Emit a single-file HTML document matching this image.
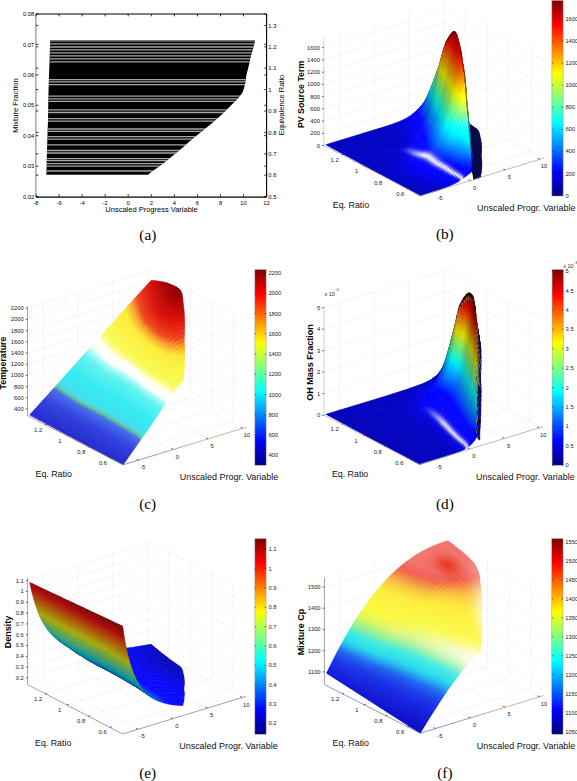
<!DOCTYPE html>
<html><head><meta charset="utf-8"><style>
html,body{margin:0;padding:0;background:#fff;}
svg{display:block;}
text{font-family:"Liberation Sans", sans-serif;}
</style></head><body>
<svg width="577" height="781" viewBox="0 0 577 781">
<rect width="577" height="781" fill="#fff"/>
<clipPath id="clipA"><path d="M255.1 40.2 L253.4 47.3 L250.3 58.6 L248.6 66.4 L246.4 75.1 L245 84.5 L243.5 90 L241.9 93.5 L236.7 99.8 L229.4 107 L223.2 113.3 L212.8 122.6 L202.4 131 L192 139.3 L181.6 148.6 L171.2 157 L160.8 165.3 L149.4 173.6 L148.3 174.8 L46.4 174.8 L47 150 L48 120 L48.5 93 L49 75.4 L49.5 62.8 L50.2 40.2Z"/></clipPath>
<path d="M255.1 40.2 L253.4 47.3 L250.3 58.6 L248.6 66.4 L246.4 75.1 L245 84.5 L243.5 90 L241.9 93.5 L236.7 99.8 L229.4 107 L223.2 113.3 L212.8 122.6 L202.4 131 L192 139.3 L181.6 148.6 L171.2 157 L160.8 165.3 L149.4 173.6 L148.3 174.8 L46.4 174.8 L47 150 L48 120 L48.5 93 L49 75.4 L49.5 62.8 L50.2 40.2Z" fill="#000"/>
<g clip-path="url(#clipA)" stroke="#a6a6a6" stroke-width="1.3"><line x1="40" y1="40.9" x2="260" y2="40.9"/><line x1="40" y1="43.8" x2="260" y2="43.8"/><line x1="40" y1="47" x2="260" y2="47"/><line x1="40" y1="49.9" x2="260" y2="49.9"/><line x1="40" y1="52.9" x2="260" y2="52.9"/><line x1="40" y1="55.8" x2="260" y2="55.8"/><line x1="40" y1="58.9" x2="260" y2="58.9"/><line x1="40" y1="61.8" x2="260" y2="61.8"/><line x1="40" y1="79.7" x2="260" y2="79.7"/><line x1="40" y1="81.8" x2="260" y2="81.8"/><line x1="40" y1="84.7" x2="260" y2="84.7"/><line x1="40" y1="96.1" x2="260" y2="96.1"/><line x1="40" y1="98.8" x2="260" y2="98.8"/><line x1="40" y1="101.3" x2="260" y2="101.3"/><line x1="40" y1="109.9" x2="260" y2="109.9"/><line x1="40" y1="112.5" x2="260" y2="112.5"/><line x1="40" y1="118.6" x2="260" y2="118.6"/><line x1="40" y1="121.2" x2="260" y2="121.2"/><line x1="40" y1="129" x2="260" y2="129"/><line x1="40" y1="131.4" x2="260" y2="131.4"/><line x1="40" y1="136.7" x2="260" y2="136.7"/><line x1="40" y1="139.2" x2="260" y2="139.2"/><line x1="40" y1="144.9" x2="260" y2="144.9"/><line x1="40" y1="150.5" x2="260" y2="150.5"/><line x1="40" y1="153" x2="260" y2="153"/><line x1="40" y1="158.6" x2="260" y2="158.6"/><line x1="40" y1="160.6" x2="260" y2="160.6"/><line x1="40" y1="163.7" x2="260" y2="163.7"/><line x1="40" y1="166.1" x2="260" y2="166.1"/><line x1="40" y1="171" x2="260" y2="171"/></g>
<rect x="35.4" y="14.0" width="1" height="182.6" fill="#7a7a7a"/>
<line x1="36.0" y1="14.0" x2="266.6" y2="14.0" stroke="#000" stroke-width="1.2"/>
<line x1="36.0" y1="197.2" x2="266.6" y2="197.2" stroke="#000" stroke-width="1.3"/>
<line x1="266.6" y1="14.0" x2="266.6" y2="196.6" stroke="#000" stroke-width="1.1"/>
<g stroke="#000" stroke-width="0.8"><line x1="36.0" y1="196.6" x2="38.4" y2="196.6"/><line x1="266.6" y1="196.6" x2="264.2" y2="196.6"/><line x1="36.0" y1="166.2" x2="38.4" y2="166.2"/><line x1="266.6" y1="166.2" x2="264.2" y2="166.2"/><line x1="36.0" y1="135.7" x2="38.4" y2="135.7"/><line x1="266.6" y1="135.7" x2="264.2" y2="135.7"/><line x1="36.0" y1="105.3" x2="38.4" y2="105.3"/><line x1="266.6" y1="105.3" x2="264.2" y2="105.3"/><line x1="36.0" y1="74.9" x2="38.4" y2="74.9"/><line x1="266.6" y1="74.9" x2="264.2" y2="74.9"/><line x1="36.0" y1="44.4" x2="38.4" y2="44.4"/><line x1="266.6" y1="44.4" x2="264.2" y2="44.4"/><line x1="36.0" y1="14" x2="38.4" y2="14"/><line x1="266.6" y1="14" x2="264.2" y2="14"/><line x1="36.0" y1="196.6" x2="38.4" y2="196.6"/><line x1="266.6" y1="196.6" x2="264.2" y2="196.6"/><line x1="36.0" y1="175.2" x2="38.4" y2="175.2"/><line x1="266.6" y1="175.2" x2="264.2" y2="175.2"/><line x1="36.0" y1="153.8" x2="38.4" y2="153.8"/><line x1="266.6" y1="153.8" x2="264.2" y2="153.8"/><line x1="36.0" y1="132.4" x2="38.4" y2="132.4"/><line x1="266.6" y1="132.4" x2="264.2" y2="132.4"/><line x1="36.0" y1="111" x2="38.4" y2="111"/><line x1="266.6" y1="111" x2="264.2" y2="111"/><line x1="36.0" y1="89.6" x2="38.4" y2="89.6"/><line x1="266.6" y1="89.6" x2="264.2" y2="89.6"/><line x1="36.0" y1="68.2" x2="38.4" y2="68.2"/><line x1="266.6" y1="68.2" x2="264.2" y2="68.2"/><line x1="36.0" y1="46.8" x2="38.4" y2="46.8"/><line x1="266.6" y1="46.8" x2="264.2" y2="46.8"/><line x1="36.0" y1="25.4" x2="38.4" y2="25.4"/><line x1="266.6" y1="25.4" x2="264.2" y2="25.4"/><line x1="36" y1="196.6" x2="36" y2="194.2"/><line x1="36" y1="14.0" x2="36" y2="16.4"/><line x1="59.1" y1="196.6" x2="59.1" y2="194.2"/><line x1="59.1" y1="14.0" x2="59.1" y2="16.4"/><line x1="82.1" y1="196.6" x2="82.1" y2="194.2"/><line x1="82.1" y1="14.0" x2="82.1" y2="16.4"/><line x1="105.2" y1="196.6" x2="105.2" y2="194.2"/><line x1="105.2" y1="14.0" x2="105.2" y2="16.4"/><line x1="128.2" y1="196.6" x2="128.2" y2="194.2"/><line x1="128.2" y1="14.0" x2="128.2" y2="16.4"/><line x1="151.3" y1="196.6" x2="151.3" y2="194.2"/><line x1="151.3" y1="14.0" x2="151.3" y2="16.4"/><line x1="174.4" y1="196.6" x2="174.4" y2="194.2"/><line x1="174.4" y1="14.0" x2="174.4" y2="16.4"/><line x1="197.4" y1="196.6" x2="197.4" y2="194.2"/><line x1="197.4" y1="14.0" x2="197.4" y2="16.4"/><line x1="220.5" y1="196.6" x2="220.5" y2="194.2"/><line x1="220.5" y1="14.0" x2="220.5" y2="16.4"/><line x1="243.5" y1="196.6" x2="243.5" y2="194.2"/><line x1="243.5" y1="14.0" x2="243.5" y2="16.4"/><line x1="266.6" y1="196.6" x2="266.6" y2="194.2"/><line x1="266.6" y1="14.0" x2="266.6" y2="16.4"/></g>
<g font-size="5.8" fill="#000"><text x="34.2" y="198.7" text-anchor="end">0.02</text><text x="34.2" y="168.2" text-anchor="end">0.03</text><text x="34.2" y="137.8" text-anchor="end">0.04</text><text x="34.2" y="107.4" text-anchor="end">0.05</text><text x="34.2" y="76.9" text-anchor="end">0.06</text><text x="34.2" y="46.5" text-anchor="end">0.07</text><text x="34.2" y="16.1" text-anchor="end">0.08</text><text x="268.3" y="198.7">0.5</text><text x="268.3" y="177.3">0.6</text><text x="268.3" y="155.9">0.7</text><text x="268.3" y="134.5">0.8</text><text x="268.3" y="113.1">0.9</text><text x="268.3" y="91.7">1</text><text x="268.3" y="70.3">1.1</text><text x="268.3" y="48.9">1.2</text><text x="268.3" y="27.5">1.3</text><text x="36" y="204.6" text-anchor="middle">-8</text><text x="59.1" y="204.6" text-anchor="middle">-6</text><text x="82.1" y="204.6" text-anchor="middle">-4</text><text x="105.2" y="204.6" text-anchor="middle">-2</text><text x="128.2" y="204.6" text-anchor="middle">0</text><text x="151.3" y="204.6" text-anchor="middle">2</text><text x="174.4" y="204.6" text-anchor="middle">4</text><text x="197.4" y="204.6" text-anchor="middle">6</text><text x="220.5" y="204.6" text-anchor="middle">8</text><text x="243.5" y="204.6" text-anchor="middle">10</text><text x="266.6" y="204.6" text-anchor="middle">12</text></g>
<text x="151.5" y="211.6" font-size="7.5" text-anchor="middle">Unscaled Progress Variable</text>
<text x="17.6" y="105.5" font-size="7.6" text-anchor="middle" transform="rotate(-90 17.6 105.5)">Mixture Fraction</text>
<text x="284" y="105" font-size="7.5" text-anchor="middle" transform="rotate(-90 284 105)">Equivalence Ratio</text>
<g stroke="#e8e8e8" stroke-width="0.65" stroke-dasharray="2.2 1.3" fill="none"><line x1="339.2" y1="140.7" x2="339.2" y2="32.5" /><line x1="373.9" y1="130.1" x2="373.9" y2="21.9" /><line x1="408.6" y1="119.5" x2="408.6" y2="11.3" /><line x1="443.3" y1="108.9" x2="443.3" y2="0.7" /><line x1="323.8" y1="145.4" x2="447.3" y2="107.7" /><line x1="323.8" y1="133.2" x2="447.3" y2="95.5" /><line x1="323.8" y1="120.9" x2="447.3" y2="83.2" /><line x1="323.8" y1="108.7" x2="447.3" y2="71" /><line x1="323.8" y1="96.4" x2="447.3" y2="58.7" /><line x1="323.8" y1="84.2" x2="447.3" y2="46.5" /><line x1="323.8" y1="72" x2="447.3" y2="34.3" /><line x1="323.8" y1="59.7" x2="447.3" y2="22" /><line x1="323.8" y1="47.5" x2="447.3" y2="9.8" /><line x1="530.9" y1="151.3" x2="530.9" y2="43.1" /><line x1="509" y1="139.9" x2="509" y2="31.7" /><line x1="487.2" y1="128.5" x2="487.2" y2="20.3" /><line x1="465.3" y1="117.1" x2="465.3" y2="8.9" /><line x1="543.9" y1="158.1" x2="447.3" y2="107.7" /><line x1="543.9" y1="145.9" x2="447.3" y2="95.5" /><line x1="543.9" y1="133.6" x2="447.3" y2="83.2" /><line x1="543.9" y1="121.4" x2="447.3" y2="71" /><line x1="543.9" y1="109.1" x2="447.3" y2="58.7" /><line x1="543.9" y1="96.9" x2="447.3" y2="46.5" /><line x1="543.9" y1="84.7" x2="447.3" y2="34.3" /><line x1="543.9" y1="72.4" x2="447.3" y2="22" /><line x1="543.9" y1="60.2" x2="447.3" y2="9.8" /><line x1="435.8" y1="191.1" x2="339.2" y2="140.7" /><line x1="470.5" y1="180.5" x2="373.9" y2="130.1" /><line x1="505.2" y1="169.9" x2="408.6" y2="119.5" /><line x1="539.9" y1="159.3" x2="443.3" y2="108.9" /><line x1="407.4" y1="189" x2="530.9" y2="151.3" /><line x1="385.5" y1="177.6" x2="509" y2="139.9" /><line x1="363.7" y1="166.2" x2="487.2" y2="128.5" /><line x1="341.8" y1="154.8" x2="465.3" y2="117.1" /></g>
<defs><linearGradient id="gb0" gradientUnits="userSpaceOnUse" x1="327" y1="145.3" x2="339.4" y2="85.5"><stop offset="0" stop-color="#0000bf"/><stop offset=".533" stop-color="#0000c5"/><stop offset=".768" stop-color="#0000e9"/><stop offset=".939" stop-color="#0003e8"/><stop offset=".956" stop-color="#000ae1"/><stop offset=".961" stop-color="#000340"/><stop offset="1" stop-color="#000740"/></linearGradient><linearGradient id="gb1" gradientUnits="userSpaceOnUse" x1="424.2" y1="103.1" x2="422" y2="113.7"><stop offset="0" stop-color="#000740"/><stop offset=".385" stop-color="#000038"/><stop offset=".752" stop-color="#00002b"/><stop offset="1" stop-color="#050547"/></linearGradient><linearGradient id="gb2" gradientUnits="userSpaceOnUse" x1="329" y1="146.3" x2="340.7" y2="84.7"><stop offset="0" stop-color="#0000bf"/><stop offset=".476" stop-color="#0000c4"/><stop offset=".731" stop-color="#0000f3"/><stop offset=".868" stop-color="#0004f9"/><stop offset=".966" stop-color="#002ad9"/><stop offset=".971" stop-color="#000d40"/><stop offset="1" stop-color="#000f40"/></linearGradient><linearGradient id="gb3" gradientUnits="userSpaceOnUse" x1="425.9" y1="100.8" x2="423.2" y2="114.9"><stop offset="0" stop-color="#000f40"/><stop offset=".437" stop-color="#00003b"/><stop offset=".759" stop-color="#00002d"/><stop offset="1" stop-color="#050547"/></linearGradient><linearGradient id="gb4" gradientUnits="userSpaceOnUse" x1="330.9" y1="147.4" x2="335.2" y2="91"><stop offset="0" stop-color="#0000bf"/><stop offset=".414" stop-color="#0000c5"/><stop offset=".626" stop-color="#0000f0"/><stop offset=".778" stop-color="#0003f6"/><stop offset=".925" stop-color="#0038cb"/><stop offset=".931" stop-color="#001240"/><stop offset="1" stop-color="#001940"/></linearGradient><linearGradient id="gb5" gradientUnits="userSpaceOnUse" x1="427.6" y1="98.1" x2="426.2" y2="116.7"><stop offset="0" stop-color="#001940"/><stop offset=".544" stop-color="#00003c"/><stop offset=".766" stop-color="#000030"/><stop offset="1" stop-color="#050547"/></linearGradient><linearGradient id="gb6" gradientUnits="userSpaceOnUse" x1="332.9" y1="148.4" x2="330.3" y2="99.4"><stop offset="0" stop-color="#0000bf"/><stop offset=".307" stop-color="#0000c5"/><stop offset=".482" stop-color="#0000ee"/><stop offset=".652" stop-color="#0003f4"/><stop offset=".857" stop-color="#0047c1"/><stop offset=".865" stop-color="#0049c0"/><stop offset=".873" stop-color="#001940"/><stop offset="1" stop-color="#002640"/></linearGradient><linearGradient id="gb7" gradientUnits="userSpaceOnUse" x1="428.9" y1="94.1" x2="430.2" y2="118.3"><stop offset="0" stop-color="#002640"/><stop offset=".611" stop-color="#00003e"/><stop offset=".772" stop-color="#000033"/><stop offset="1" stop-color="#050547"/></linearGradient><linearGradient id="gb8" gradientUnits="userSpaceOnUse" x1="334.9" y1="149.5" x2="330.9" y2="97"><stop offset="0" stop-color="#0000bf"/><stop offset=".258" stop-color="#0000c5"/><stop offset=".41" stop-color="#0000f3"/><stop offset=".562" stop-color="#0002ff"/><stop offset=".741" stop-color="#0048d0"/><stop offset=".904" stop-color="#0076b7"/><stop offset=".913" stop-color="#002a40"/><stop offset="1" stop-color="#003440"/></linearGradient><linearGradient id="gb9" gradientUnits="userSpaceOnUse" x1="430.5" y1="89.5" x2="432.8" y2="119.4"><stop offset="0" stop-color="#003440"/><stop offset=".682" stop-color="#00003e"/><stop offset=".773" stop-color="#000037"/><stop offset="1" stop-color="#050547"/></linearGradient><linearGradient id="gb10" gradientUnits="userSpaceOnUse" x1="336.8" y1="150.6" x2="332.7" y2="92.1"><stop offset="0" stop-color="#0000bf"/><stop offset=".229" stop-color="#0000c5"/><stop offset=".379" stop-color="#0000fa"/><stop offset=".508" stop-color="#0004ff"/><stop offset=".566" stop-color="#0022f4"/><stop offset=".763" stop-color="#0070cb"/><stop offset=".944" stop-color="#00a5b4"/><stop offset=".952" stop-color="#003c40"/><stop offset="1" stop-color="#02403e"/></linearGradient><linearGradient id="gb11" gradientUnits="userSpaceOnUse" x1="432.2" y1="85.1" x2="434.7" y2="120.6"><stop offset="0" stop-color="#02403e"/><stop offset=".683" stop-color="#000440"/><stop offset=".774" stop-color="#00003a"/><stop offset="1" stop-color="#050547"/></linearGradient><linearGradient id="gb12" gradientUnits="userSpaceOnUse" x1="338.8" y1="151.6" x2="333.3" y2="89.5"><stop offset="0" stop-color="#0000bf"/><stop offset=".195" stop-color="#0000c5"/><stop offset=".332" stop-color="#0000fe"/><stop offset=".446" stop-color="#0004ff"/><stop offset=".507" stop-color="#0026f9"/><stop offset=".702" stop-color="#007cd1"/><stop offset=".893" stop-color="#02bbb9"/><stop offset=".967" stop-color="#1db294"/><stop offset=".975" stop-color="#0c4034"/><stop offset="1" stop-color="#0f4031"/></linearGradient><linearGradient id="gb13" gradientUnits="userSpaceOnUse" x1="433.8" y1="80.5" x2="437.5" y2="121.7"><stop offset="0" stop-color="#0f4031"/><stop offset=".194" stop-color="#003b40"/><stop offset=".775" stop-color="#00003e"/><stop offset="1" stop-color="#050547"/></linearGradient><linearGradient id="gb14" gradientUnits="userSpaceOnUse" x1="340.8" y1="152.7" x2="333.6" y2="86.9"><stop offset="0" stop-color="#0000bf"/><stop offset=".165" stop-color="#0000c5"/><stop offset=".283" stop-color="#0000ff"/><stop offset=".392" stop-color="#0003ff"/><stop offset=".468" stop-color="#0032f9"/><stop offset=".649" stop-color="#0087d5"/><stop offset=".805" stop-color="#00c4c4"/><stop offset=".974" stop-color="#44b26e"/><stop offset=".982" stop-color="#194026"/><stop offset="1" stop-color="#1c4024"/></linearGradient><linearGradient id="gb15" gradientUnits="userSpaceOnUse" x1="435.5" y1="75.8" x2="440.6" y2="122.6"><stop offset="0" stop-color="#1c4024"/><stop offset=".281" stop-color="#003c40"/><stop offset=".775" stop-color="#000240"/><stop offset="1" stop-color="#050547"/></linearGradient><linearGradient id="gb16" gradientUnits="userSpaceOnUse" x1="342.7" y1="153.8" x2="334" y2="83.9"><stop offset="0" stop-color="#0000bf"/><stop offset=".139" stop-color="#0000c5"/><stop offset=".244" stop-color="#0000ff"/><stop offset=".344" stop-color="#0001ff"/><stop offset=".426" stop-color="#0038f9"/><stop offset=".606" stop-color="#0093d5"/><stop offset=".733" stop-color="#01c8c7"/><stop offset=".964" stop-color="#65b34e"/><stop offset=".981" stop-color="#6ab046"/><stop offset=".989" stop-color="#284018"/><stop offset="1" stop-color="#294016"/></linearGradient><linearGradient id="gb17" gradientUnits="userSpaceOnUse" x1="437.3" y1="71" x2="443.8" y2="123.6"><stop offset="0" stop-color="#294016"/><stop offset=".364" stop-color="#003c40"/><stop offset=".776" stop-color="#000540"/><stop offset="1" stop-color="#050547"/></linearGradient><linearGradient id="gb18" gradientUnits="userSpaceOnUse" x1="344.7" y1="154.8" x2="329.3" y2="93.7"><stop offset="0" stop-color="#0000bf"/><stop offset=".046" stop-color="#0000c5"/><stop offset=".106" stop-color="#0000f8"/><stop offset=".144" stop-color="#0000ff"/><stop offset=".225" stop-color="#0004ff"/><stop offset=".3" stop-color="#0035fa"/><stop offset=".499" stop-color="#0097d5"/><stop offset=".628" stop-color="#03c9c6"/><stop offset=".901" stop-color="#75b742"/><stop offset=".978" stop-color="#8daf21"/><stop offset=".987" stop-color="#35400b"/><stop offset="1" stop-color="#374009"/></linearGradient><linearGradient id="gb19" gradientUnits="userSpaceOnUse" x1="439" y1="66.1" x2="453.1" y2="122.3"><stop offset="0" stop-color="#374009"/><stop offset=".399" stop-color="#01403f"/><stop offset=".777" stop-color="#000940"/><stop offset="1" stop-color="#050547"/></linearGradient><linearGradient id="gb20" gradientUnits="userSpaceOnUse" x1="346.7" y1="155.9" x2="352.4" y2="166.4"><stop offset="0" stop-color="#0000bf"/><stop offset=".902" stop-color="#0000c5"/><stop offset="1" stop-color="#0000d4"/></linearGradient><linearGradient id="gb21" gradientUnits="userSpaceOnUse" x1="408.3" y1="135.9" x2="384.1" y2="91.5"><stop offset="0" stop-color="#0000d4"/><stop offset="0" stop-color="#0000da"/><stop offset=".101" stop-color="#0004ee"/><stop offset=".219" stop-color="#0046ce"/><stop offset=".489" stop-color="#00b4b7"/><stop offset=".944" stop-color="#a2a706"/><stop offset=".967" stop-color="#a5a300"/><stop offset=".977" stop-color="#403d00"/><stop offset="1" stop-color="#403a00"/></linearGradient><linearGradient id="gb22" gradientUnits="userSpaceOnUse" x1="440.6" y1="60.6" x2="471" y2="116.3"><stop offset="0" stop-color="#403a00"/><stop offset=".142" stop-color="#304010"/><stop offset=".444" stop-color="#003e40"/><stop offset=".726" stop-color="#000d40"/><stop offset="1" stop-color="#050547"/></linearGradient><linearGradient id="gb23" gradientUnits="userSpaceOnUse" x1="348.6" y1="157" x2="357.1" y2="170.2"><stop offset="0" stop-color="#0000bf"/><stop offset=".86" stop-color="#0000c5"/><stop offset=".992" stop-color="#0000d6"/><stop offset="1" stop-color="#0000de"/><stop offset="1" stop-color="#0000df"/></linearGradient><linearGradient id="gb24" gradientUnits="userSpaceOnUse" x1="413" y1="134.6" x2="385.1" y2="90.8"><stop offset="0" stop-color="#0000df"/><stop offset=".071" stop-color="#0002f2"/><stop offset=".173" stop-color="#0044d1"/><stop offset=".416" stop-color="#00b3b8"/><stop offset=".505" stop-color="#22b493"/><stop offset=".846" stop-color="#a7ab03"/><stop offset=".969" stop-color="#a37900"/><stop offset=".979" stop-color="#402e00"/><stop offset="1" stop-color="#402a00"/></linearGradient><linearGradient id="gb25" gradientUnits="userSpaceOnUse" x1="442.3" y1="54.4" x2="479.3" y2="112.6"><stop offset="0" stop-color="#402a00"/><stop offset=".156" stop-color="#3b4005"/><stop offset=".477" stop-color="#004040"/><stop offset=".716" stop-color="#001140"/><stop offset="1" stop-color="#050547"/></linearGradient><linearGradient id="gb26" gradientUnits="userSpaceOnUse" x1="350.6" y1="158" x2="357.8" y2="169.8"><stop offset="0" stop-color="#0000bf"/><stop offset=".872" stop-color="#0000c6"/><stop offset=".993" stop-color="#0000d8"/><stop offset="1" stop-color="#0000e0"/></linearGradient><linearGradient id="gb27" gradientUnits="userSpaceOnUse" x1="411.8" y1="136.9" x2="381.2" y2="86.6"><stop offset="0" stop-color="#0000e0"/><stop offset=".035" stop-color="#0000f2"/><stop offset=".069" stop-color="#0005f8"/><stop offset=".169" stop-color="#004dd5"/><stop offset=".387" stop-color="#00bebe"/><stop offset=".664" stop-color="#84b430"/><stop offset=".779" stop-color="#b1ad00"/><stop offset=".98" stop-color="#a85000"/><stop offset=".988" stop-color="#401d00"/><stop offset="1" stop-color="#401b00"/></linearGradient><linearGradient id="gb28" gradientUnits="userSpaceOnUse" x1="443.9" y1="48.3" x2="483.2" y2="112.7"><stop offset="0" stop-color="#401b00"/><stop offset=".227" stop-color="#3b4005"/><stop offset=".528" stop-color="#003f40"/><stop offset=".725" stop-color="#001540"/><stop offset="1" stop-color="#050547"/></linearGradient><linearGradient id="gb29" gradientUnits="userSpaceOnUse" x1="352.6" y1="159.1" x2="355.5" y2="165.3"><stop offset="0" stop-color="#0000bf"/><stop offset=".916" stop-color="#0000c6"/><stop offset="1" stop-color="#0000d3"/></linearGradient><linearGradient id="gb30" gradientUnits="userSpaceOnUse" x1="404.9" y1="142.1" x2="374.2" y2="76.6"><stop offset="0" stop-color="#0000d3"/><stop offset="0" stop-color="#0000d8"/><stop offset=".013" stop-color="#0000eb"/><stop offset=".067" stop-color="#0000ff"/><stop offset=".087" stop-color="#0009ff"/><stop offset=".185" stop-color="#0056dd"/><stop offset=".381" stop-color="#03c6c3"/><stop offset=".647" stop-color="#97bd25"/><stop offset=".716" stop-color="#bbbb01"/><stop offset=".989" stop-color="#b52c00"/><stop offset=".996" stop-color="#b22800"/><stop offset="1" stop-color="#400e00"/></linearGradient><linearGradient id="gb31" gradientUnits="userSpaceOnUse" x1="445.7" y1="43.1" x2="480.8" y2="118"><stop offset="0" stop-color="#400e00"/><stop offset=".278" stop-color="#3c4003"/><stop offset=".545" stop-color="#06403a"/><stop offset=".75" stop-color="#001840"/><stop offset="1" stop-color="#050547"/></linearGradient><linearGradient id="gb32" gradientUnits="userSpaceOnUse" x1="354.5" y1="160.2" x2="330.1" y2="72"><stop offset="0" stop-color="#0000bf"/><stop offset=".017" stop-color="#0000c9"/><stop offset=".054" stop-color="#0000ee"/><stop offset=".094" stop-color="#0000ff"/><stop offset=".125" stop-color="#0000ff"/><stop offset=".173" stop-color="#002df8"/><stop offset=".301" stop-color="#008eda"/><stop offset=".402" stop-color="#01d0ce"/><stop offset=".658" stop-color="#abc61b"/><stop offset=".698" stop-color="#c4c601"/><stop offset=".996" stop-color="#cb0e00"/><stop offset="1" stop-color="#400400"/></linearGradient><linearGradient id="gb33" gradientUnits="userSpaceOnUse" x1="447.4" y1="39.4" x2="471.2" y2="125.1"><stop offset="0" stop-color="#400400"/><stop offset=".311" stop-color="#3f4001"/><stop offset=".62" stop-color="#003e40"/><stop offset=".778" stop-color="#001b40"/><stop offset="1" stop-color="#050547"/></linearGradient><linearGradient id="gb34" gradientUnits="userSpaceOnUse" x1="356.5" y1="161.2" x2="331.9" y2="67.4"><stop offset="0" stop-color="#0000bf"/><stop offset=".022" stop-color="#0000c9"/><stop offset=".06" stop-color="#0000f1"/><stop offset=".099" stop-color="#0000ff"/><stop offset=".128" stop-color="#0000ff"/><stop offset=".18" stop-color="#0033f7"/><stop offset=".31" stop-color="#0099d8"/><stop offset=".394" stop-color="#03d0cd"/><stop offset=".621" stop-color="#a1c625"/><stop offset=".677" stop-color="#c5c400"/><stop offset=".978" stop-color="#c70000"/><stop offset=".996" stop-color="#be0000"/><stop offset="1" stop-color="#3b0000"/></linearGradient><linearGradient id="gb35" gradientUnits="userSpaceOnUse" x1="449.2" y1="36.6" x2="472.8" y2="126.6"><stop offset="0" stop-color="#3b0000"/><stop offset=".181" stop-color="#402000"/><stop offset=".338" stop-color="#3f4001"/><stop offset=".62" stop-color="#02403e"/><stop offset=".778" stop-color="#001d40"/><stop offset="1" stop-color="#050547"/></linearGradient><linearGradient id="gb36" gradientUnits="userSpaceOnUse" x1="358.5" y1="162.3" x2="336.8" y2="57.6"><stop offset="0" stop-color="#0000bf"/><stop offset=".037" stop-color="#0000c8"/><stop offset=".097" stop-color="#0000fb"/><stop offset=".15" stop-color="#0000ff"/><stop offset=".197" stop-color="#0031fc"/><stop offset=".321" stop-color="#009adb"/><stop offset=".402" stop-color="#04d2ce"/><stop offset=".624" stop-color="#abc81d"/><stop offset=".666" stop-color="#c7c500"/><stop offset=".942" stop-color="#c80100"/><stop offset=".996" stop-color="#aa0000"/><stop offset="1" stop-color="#330000"/></linearGradient><linearGradient id="gb37" gradientUnits="userSpaceOnUse" x1="450.9" y1="34" x2="470.7" y2="129.7"><stop offset="0" stop-color="#330000"/><stop offset=".083" stop-color="#400500"/><stop offset=".367" stop-color="#3e4002"/><stop offset=".619" stop-color="#05403a"/><stop offset=".777" stop-color="#001f40"/><stop offset="1" stop-color="#050547"/></linearGradient><linearGradient id="gb38" gradientUnits="userSpaceOnUse" x1="360.4" y1="163.3" x2="351.3" y2="39.5"><stop offset="0" stop-color="#0000bf"/><stop offset=".07" stop-color="#0000c9"/><stop offset=".084" stop-color="#0b0bd4"/><stop offset=".095" stop-color="#1717dd"/><stop offset=".116" stop-color="#0101eb"/><stop offset=".15" stop-color="#0000ff"/><stop offset=".198" stop-color="#0000ff"/><stop offset=".262" stop-color="#0045f9"/><stop offset=".393" stop-color="#00b9db"/><stop offset=".433" stop-color="#03d6d3"/><stop offset=".634" stop-color="#aecc1e"/><stop offset=".671" stop-color="#cbca00"/><stop offset=".926" stop-color="#cb0000"/><stop offset=".992" stop-color="#a00000"/><stop offset=".997" stop-color="#a00000"/><stop offset="1" stop-color="#2d0000"/></linearGradient><linearGradient id="gb39" gradientUnits="userSpaceOnUse" x1="452.6" y1="32.1" x2="460.1" y2="134"><stop offset="0" stop-color="#2d0000"/><stop offset=".105" stop-color="#400400"/><stop offset=".397" stop-color="#3b4005"/><stop offset=".618" stop-color="#084038"/><stop offset=".686" stop-color="#003740"/><stop offset=".777" stop-color="#002140"/><stop offset="1" stop-color="#050547"/></linearGradient><linearGradient id="gb40" gradientUnits="userSpaceOnUse" x1="362.4" y1="164.4" x2="386.6" y2="20"><stop offset="0" stop-color="#0000bf"/><stop offset=".11" stop-color="#0000c9"/><stop offset=".131" stop-color="#0505d3"/><stop offset=".152" stop-color="#2a2ae3"/><stop offset=".161" stop-color="#2121e7"/><stop offset=".179" stop-color="#0505f0"/><stop offset=".214" stop-color="#0000ff"/><stop offset=".263" stop-color="#0000ff"/><stop offset=".332" stop-color="#004cfb"/><stop offset=".463" stop-color="#00cadc"/><stop offset=".485" stop-color="#05dad5"/><stop offset=".677" stop-color="#becf11"/><stop offset=".703" stop-color="#cec700"/><stop offset=".916" stop-color="#d20100"/><stop offset=".993" stop-color="#9c0000"/><stop offset=".997" stop-color="#9f0000"/><stop offset="1" stop-color="#c70000"/></linearGradient><linearGradient id="gb41" gradientUnits="userSpaceOnUse" x1="454.2" y1="31.3" x2="437.3" y2="132.2"><stop offset="0" stop-color="#c70000"/><stop offset="0" stop-color="#290000"/><stop offset=".115" stop-color="#400300"/><stop offset=".395" stop-color="#3d4002"/><stop offset=".616" stop-color="#0a4036"/><stop offset=".684" stop-color="#003940"/><stop offset=".775" stop-color="#002240"/><stop offset="1" stop-color="#050547"/></linearGradient><linearGradient id="gb42" gradientUnits="userSpaceOnUse" x1="364.4" y1="165.5" x2="445.5" y2="26.3"><stop offset="0" stop-color="#0000bf"/><stop offset=".155" stop-color="#0000ca"/><stop offset=".188" stop-color="#0404d5"/><stop offset=".204" stop-color="#1e1edf"/><stop offset=".22" stop-color="#3e3ee9"/><stop offset=".233" stop-color="#3030ed"/><stop offset=".251" stop-color="#0c0cf3"/><stop offset=".281" stop-color="#0000ff"/><stop offset=".344" stop-color="#0003ff"/><stop offset=".401" stop-color="#0044fa"/><stop offset=".513" stop-color="#00b5d9"/><stop offset=".547" stop-color="#02d4d2"/><stop offset=".719" stop-color="#b9c810"/><stop offset=".74" stop-color="#c8c000"/><stop offset=".924" stop-color="#cd0100"/><stop offset=".99" stop-color="#9a0000"/><stop offset=".997" stop-color="#a20000"/><stop offset="1" stop-color="#ed0000"/></linearGradient><linearGradient id="gb43" gradientUnits="userSpaceOnUse" x1="455.6" y1="32.2" x2="410.8" y2="109"><stop offset="0" stop-color="#ed0000"/><stop offset="0" stop-color="#ad0000"/><stop offset="0" stop-color="#290000"/><stop offset=".111" stop-color="#400300"/><stop offset=".39" stop-color="#3e4002"/><stop offset=".613" stop-color="#0a4036"/><stop offset=".681" stop-color="#003940"/><stop offset=".773" stop-color="#002240"/><stop offset="1" stop-color="#050547"/></linearGradient><linearGradient id="gb44" gradientUnits="userSpaceOnUse" x1="366.3" y1="166.5" x2="477.8" y2="55.4"><stop offset="0" stop-color="#0000bf"/><stop offset=".18" stop-color="#0000cb"/><stop offset=".228" stop-color="#0505d9"/><stop offset=".242" stop-color="#1b1be1"/><stop offset=".261" stop-color="#4c4cec"/><stop offset=".271" stop-color="#5151f0"/><stop offset=".302" stop-color="#1010f6"/><stop offset=".324" stop-color="#0101ff"/><stop offset=".388" stop-color="#0000ff"/><stop offset=".434" stop-color="#0032fb"/><stop offset=".548" stop-color="#00a6d3"/><stop offset=".589" stop-color="#02ccca"/><stop offset=".759" stop-color="#bebf01"/><stop offset=".933" stop-color="#c40000"/><stop offset=".987" stop-color="#980000"/><stop offset=".994" stop-color="#9a0000"/><stop offset=".997" stop-color="#a20000"/><stop offset="1" stop-color="#f90000"/></linearGradient><linearGradient id="gb45" gradientUnits="userSpaceOnUse" x1="456.4" y1="33.9" x2="405.7" y2="84.5"><stop offset="0" stop-color="#f90000"/><stop offset="0" stop-color="#b10000"/><stop offset="0" stop-color="#790000"/><stop offset="0" stop-color="#650000"/><stop offset=".002" stop-color="#2a0000"/><stop offset=".107" stop-color="#400300"/><stop offset=".385" stop-color="#3d4002"/><stop offset=".609" stop-color="#0a4036"/><stop offset=".678" stop-color="#003940"/><stop offset=".771" stop-color="#002240"/><stop offset="1" stop-color="#050547"/></linearGradient><linearGradient id="gb46" gradientUnits="userSpaceOnUse" x1="368.3" y1="167.6" x2="484" y2="67"><stop offset="0" stop-color="#0000c0"/><stop offset=".175" stop-color="#0000cb"/><stop offset=".24" stop-color="#0606dd"/><stop offset=".254" stop-color="#1f1fe5"/><stop offset=".274" stop-color="#5c5cf2"/><stop offset=".284" stop-color="#6565f5"/><stop offset=".295" stop-color="#5151f7"/><stop offset=".316" stop-color="#1515fd"/><stop offset=".334" stop-color="#0303ff"/><stop offset=".399" stop-color="#0003ff"/><stop offset=".454" stop-color="#003efa"/><stop offset=".578" stop-color="#00bdd3"/><stop offset=".601" stop-color="#05cfca"/><stop offset=".768" stop-color="#c2c200"/><stop offset=".941" stop-color="#c50000"/><stop offset=".988" stop-color="#a20000"/><stop offset=".995" stop-color="#a50000"/><stop offset=".998" stop-color="#ae0000"/><stop offset="1" stop-color="#ff0000"/></linearGradient><linearGradient id="gb47" gradientUnits="userSpaceOnUse" x1="457.2" y1="36.1" x2="407.5" y2="79.3"><stop offset="0" stop-color="#ff0000"/><stop offset="0" stop-color="#b70000"/><stop offset="0" stop-color="#7e0000"/><stop offset="0" stop-color="#6a0000"/><stop offset=".001" stop-color="#2c0000"/><stop offset=".106" stop-color="#400500"/><stop offset=".384" stop-color="#3d4003"/><stop offset=".608" stop-color="#094037"/><stop offset=".677" stop-color="#003840"/><stop offset=".77" stop-color="#002240"/><stop offset="1" stop-color="#050547"/></linearGradient><linearGradient id="gb48" gradientUnits="userSpaceOnUse" x1="370.3" y1="168.6" x2="489.8" y2="83.3"><stop offset="0" stop-color="#0000c0"/><stop offset=".182" stop-color="#0000cd"/><stop offset=".256" stop-color="#0606e1"/><stop offset=".271" stop-color="#2020ea"/><stop offset=".293" stop-color="#6969f6"/><stop offset=".303" stop-color="#7979f9"/><stop offset=".315" stop-color="#6666fb"/><stop offset=".338" stop-color="#1d1dff"/><stop offset=".356" stop-color="#0505ff"/><stop offset=".409" stop-color="#0000ff"/><stop offset=".471" stop-color="#0040f9"/><stop offset=".593" stop-color="#00bbd2"/><stop offset=".615" stop-color="#03cecb"/><stop offset=".779" stop-color="#c0c000"/><stop offset=".945" stop-color="#c70000"/><stop offset=".985" stop-color="#a80000"/><stop offset=".995" stop-color="#ac0000"/><stop offset=".998" stop-color="#b70000"/><stop offset="1" stop-color="#ff0000"/></linearGradient><linearGradient id="gb49" gradientUnits="userSpaceOnUse" x1="457.9" y1="38.6" x2="411.2" y2="71.9"><stop offset="0" stop-color="#ff0000"/><stop offset="0" stop-color="#be0000"/><stop offset="0" stop-color="#860000"/><stop offset="0" stop-color="#710000"/><stop offset=".001" stop-color="#660000"/><stop offset=".002" stop-color="#5f0000"/><stop offset=".005" stop-color="#2f0000"/><stop offset=".091" stop-color="#400400"/><stop offset=".381" stop-color="#3b4005"/><stop offset=".606" stop-color="#084038"/><stop offset=".675" stop-color="#003840"/><stop offset=".768" stop-color="#002140"/><stop offset="1" stop-color="#050547"/></linearGradient><linearGradient id="gb50" gradientUnits="userSpaceOnUse" x1="372.2" y1="169.7" x2="490.4" y2="86.4"><stop offset="0" stop-color="#0000c0"/><stop offset=".183" stop-color="#0000cf"/><stop offset=".258" stop-color="#0505e6"/><stop offset=".273" stop-color="#1f1fee"/><stop offset=".3" stop-color="#8383fb"/><stop offset=".306" stop-color="#8c8cfc"/><stop offset=".312" stop-color="#8a8afd"/><stop offset=".323" stop-color="#6b6bff"/><stop offset=".341" stop-color="#2929ff"/><stop offset=".359" stop-color="#0808ff"/><stop offset=".406" stop-color="#0001ff"/><stop offset=".468" stop-color="#0042fd"/><stop offset=".59" stop-color="#00bcd5"/><stop offset=".615" stop-color="#05d1cc"/><stop offset=".78" stop-color="#c1c301"/><stop offset=".951" stop-color="#ca0000"/><stop offset=".989" stop-color="#b20000"/><stop offset=".995" stop-color="#b80000"/><stop offset=".998" stop-color="#c50000"/><stop offset="1" stop-color="#ff0000"/></linearGradient><linearGradient id="gb51" gradientUnits="userSpaceOnUse" x1="458.5" y1="41.1" x2="412.5" y2="73.6"><stop offset="0" stop-color="#ff0000"/><stop offset="0" stop-color="#c60000"/><stop offset="0" stop-color="#8c0000"/><stop offset="0" stop-color="#760000"/><stop offset=".002" stop-color="#310000"/><stop offset=".091" stop-color="#400600"/><stop offset=".349" stop-color="#403f00"/><stop offset=".606" stop-color="#074039"/><stop offset=".768" stop-color="#002140"/><stop offset="1" stop-color="#050547"/></linearGradient><linearGradient id="gb52" gradientUnits="userSpaceOnUse" x1="374.2" y1="170.7" x2="490.2" y2="86.7"><stop offset="0" stop-color="#0000c0"/><stop offset=".177" stop-color="#0000d1"/><stop offset=".256" stop-color="#0404eb"/><stop offset=".272" stop-color="#1c1cf3"/><stop offset=".288" stop-color="#5d5dfb"/><stop offset=".299" stop-color="#8e8efe"/><stop offset=".305" stop-color="#9c9cff"/><stop offset=".311" stop-color="#a0a0ff"/><stop offset=".322" stop-color="#8585ff"/><stop offset=".34" stop-color="#3939ff"/><stop offset=".353" stop-color="#1616ff"/><stop offset=".372" stop-color="#0303ff"/><stop offset=".399" stop-color="#0004ff"/><stop offset=".478" stop-color="#0056fb"/><stop offset=".603" stop-color="#00d3d8"/><stop offset=".641" stop-color="#28d2aa"/><stop offset=".784" stop-color="#c9c700"/><stop offset=".94" stop-color="#d01200"/><stop offset=".96" stop-color="#d00000"/><stop offset=".989" stop-color="#c10000"/><stop offset=".995" stop-color="#c90000"/><stop offset=".998" stop-color="#d70000"/><stop offset="1" stop-color="#ff0000"/></linearGradient><linearGradient id="gb53" gradientUnits="userSpaceOnUse" x1="459.1" y1="43.8" x2="413.2" y2="77"><stop offset="0" stop-color="#ff0000"/><stop offset="0" stop-color="#cf0000"/><stop offset="0" stop-color="#930000"/><stop offset="0" stop-color="#7c0000"/><stop offset=".001" stop-color="#6f0000"/><stop offset=".002" stop-color="#330000"/><stop offset=".08" stop-color="#400500"/><stop offset=".349" stop-color="#3f4000"/><stop offset=".606" stop-color="#06403a"/><stop offset=".769" stop-color="#002040"/><stop offset="1" stop-color="#050547"/></linearGradient><linearGradient id="gb54" gradientUnits="userSpaceOnUse" x1="376.2" y1="171.8" x2="492.3" y2="97.2"><stop offset="0" stop-color="#0000c1"/><stop offset=".174" stop-color="#0000d2"/><stop offset=".267" stop-color="#0303f0"/><stop offset=".284" stop-color="#1818f8"/><stop offset=".295" stop-color="#3e3efd"/><stop offset=".312" stop-color="#9393ff"/><stop offset=".318" stop-color="#a9a9ff"/><stop offset=".324" stop-color="#b3b3ff"/><stop offset=".33" stop-color="#b0b0ff"/><stop offset=".342" stop-color="#8787ff"/><stop offset=".361" stop-color="#3333ff"/><stop offset=".374" stop-color="#1212ff"/><stop offset=".394" stop-color="#0202ff"/><stop offset=".408" stop-color="#0006ff"/><stop offset=".495" stop-color="#005ffb"/><stop offset=".619" stop-color="#02dad8"/><stop offset=".79" stop-color="#cacc01"/><stop offset=".946" stop-color="#d51500"/><stop offset=".969" stop-color="#d70000"/><stop offset=".989" stop-color="#d20000"/><stop offset=".995" stop-color="#db0000"/><stop offset="1" stop-color="#ff0000"/></linearGradient><linearGradient id="gb55" gradientUnits="userSpaceOnUse" x1="459.8" y1="46.7" x2="416.7" y2="74.4"><stop offset="0" stop-color="#ff0000"/><stop offset="0" stop-color="#da0000"/><stop offset="0" stop-color="#9e0000"/><stop offset="0" stop-color="#850000"/><stop offset="0" stop-color="#770000"/><stop offset=".002" stop-color="#6f0000"/><stop offset=".004" stop-color="#370000"/><stop offset=".078" stop-color="#400800"/><stop offset=".347" stop-color="#3d4002"/><stop offset=".604" stop-color="#05403b"/><stop offset=".768" stop-color="#001f40"/><stop offset="1" stop-color="#050547"/></linearGradient><linearGradient id="gb56" gradientUnits="userSpaceOnUse" x1="378.1" y1="172.8" x2="493.3" y2="111.2"><stop offset="0" stop-color="#0000c1"/><stop offset=".18" stop-color="#0000d4"/><stop offset=".289" stop-color="#0505f7"/><stop offset=".3" stop-color="#1313fc"/><stop offset=".312" stop-color="#3535ff"/><stop offset=".336" stop-color="#aeaeff"/><stop offset=".342" stop-color="#c1c1ff"/><stop offset=".349" stop-color="#c7c7ff"/><stop offset=".355" stop-color="#bebeff"/><stop offset=".368" stop-color="#8989ff"/><stop offset=".381" stop-color="#4949ff"/><stop offset=".394" stop-color="#1d1dff"/><stop offset=".408" stop-color="#0808ff"/><stop offset=".422" stop-color="#0209ff"/><stop offset=".517" stop-color="#0067fa"/><stop offset=".633" stop-color="#01dbda"/><stop offset=".803" stop-color="#cacc02"/><stop offset=".949" stop-color="#d61e00"/><stop offset=".977" stop-color="#e10000"/><stop offset=".992" stop-color="#e60000"/><stop offset=".995" stop-color="#ee0000"/><stop offset=".998" stop-color="#ff0000"/><stop offset="1" stop-color="#ff0000"/><stop offset="1" stop-color="#e70000"/><stop offset="1" stop-color="#aa0000"/><stop offset="1" stop-color="#910000"/><stop offset="1" stop-color="#820000"/></linearGradient><linearGradient id="gb57" gradientUnits="userSpaceOnUse" x1="460.7" y1="50.3" x2="422.3" y2="70.8"><stop offset="0" stop-color="#820000"/><stop offset=".004" stop-color="#740000"/><stop offset=".006" stop-color="#3b0000"/><stop offset=".176" stop-color="#402100"/><stop offset=".344" stop-color="#3b4005"/><stop offset=".602" stop-color="#03403c"/><stop offset=".766" stop-color="#001e40"/><stop offset="1" stop-color="#050547"/></linearGradient><linearGradient id="gb58" gradientUnits="userSpaceOnUse" x1="380.1" y1="173.9" x2="492.8" y2="121.3"><stop offset="0" stop-color="#0000c2"/><stop offset=".176" stop-color="#0000d4"/><stop offset=".301" stop-color="#0303fc"/><stop offset=".319" stop-color="#1818ff"/><stop offset=".331" stop-color="#4242ff"/><stop offset=".356" stop-color="#c6c6ff"/><stop offset=".363" stop-color="#d7d7ff"/><stop offset=".369" stop-color="#d9d9ff"/><stop offset=".376" stop-color="#cbcbff"/><stop offset=".389" stop-color="#8d8dff"/><stop offset=".403" stop-color="#4848ff"/><stop offset=".417" stop-color="#1b1bff"/><stop offset=".424" stop-color="#0f10ff"/><stop offset=".453" stop-color="#011fff"/><stop offset=".525" stop-color="#0066fd"/><stop offset=".646" stop-color="#02dcda"/><stop offset=".816" stop-color="#cdcd00"/><stop offset=".944" stop-color="#d73100"/><stop offset=".981" stop-color="#eb0700"/><stop offset=".997" stop-color="#ff0000"/><stop offset="1" stop-color="#ff0000"/><stop offset="1" stop-color="#f60000"/><stop offset="1" stop-color="#b80000"/><stop offset="1" stop-color="#9d0000"/><stop offset="1" stop-color="#8e0000"/></linearGradient><linearGradient id="gb59" gradientUnits="userSpaceOnUse" x1="461.3" y1="53.8" x2="426.8" y2="69.9"><stop offset="0" stop-color="#8e0000"/><stop offset=".003" stop-color="#7e0000"/><stop offset=".009" stop-color="#770000"/><stop offset=".013" stop-color="#400100"/><stop offset=".311" stop-color="#3e4001"/><stop offset=".6" stop-color="#02403e"/><stop offset=".765" stop-color="#001d40"/><stop offset="1" stop-color="#050547"/></linearGradient><linearGradient id="gb60" gradientUnits="userSpaceOnUse" x1="382.1" y1="174.9" x2="492.9" y2="117.3"><stop offset="0" stop-color="#0000c3"/><stop offset=".172" stop-color="#0000d7"/><stop offset=".3" stop-color="#0404ff"/><stop offset=".319" stop-color="#1c1cff"/><stop offset=".331" stop-color="#4c4cff"/><stop offset=".35" stop-color="#bbbbff"/><stop offset=".356" stop-color="#d9d9ff"/><stop offset=".363" stop-color="#e9e9ff"/><stop offset=".369" stop-color="#e8e8ff"/><stop offset=".376" stop-color="#d6d6ff"/><stop offset=".389" stop-color="#9191ff"/><stop offset=".403" stop-color="#4848ff"/><stop offset=".41" stop-color="#2d2fff"/><stop offset=".424" stop-color="#0e1dff"/><stop offset=".447" stop-color="#0127ff"/><stop offset=".529" stop-color="#0075fa"/><stop offset=".639" stop-color="#02dedc"/><stop offset=".818" stop-color="#cfcf00"/><stop offset=".948" stop-color="#db3a00"/><stop offset=".981" stop-color="#ef1700"/><stop offset=".992" stop-color="#ff0a00"/><stop offset="1" stop-color="#ff0300"/><stop offset="1" stop-color="#c40300"/><stop offset="1" stop-color="#a70300"/><stop offset="1" stop-color="#960400"/></linearGradient><linearGradient id="gb61" gradientUnits="userSpaceOnUse" x1="461.8" y1="57.5" x2="425.6" y2="76.3"><stop offset="0" stop-color="#960400"/><stop offset=".004" stop-color="#830600"/><stop offset=".014" stop-color="#750b00"/><stop offset=".019" stop-color="#400700"/><stop offset=".286" stop-color="#403f00"/><stop offset=".601" stop-color="#003f40"/><stop offset=".766" stop-color="#001c40"/><stop offset="1" stop-color="#050547"/></linearGradient><linearGradient id="gb62" gradientUnits="userSpaceOnUse" x1="384" y1="176" x2="489.6" y2="98"><stop offset="0" stop-color="#0000c4"/><stop offset=".146" stop-color="#0000d8"/><stop offset=".258" stop-color="#0000ff"/><stop offset=".286" stop-color="#0909ff"/><stop offset=".298" stop-color="#1e1eff"/><stop offset=".31" stop-color="#5050ff"/><stop offset=".328" stop-color="#bfbfff"/><stop offset=".334" stop-color="#dbdbff"/><stop offset=".341" stop-color="#eaeaff"/><stop offset=".347" stop-color="#e7e7ff"/><stop offset=".354" stop-color="#d3d3ff"/><stop offset=".374" stop-color="#6666ff"/><stop offset=".381" stop-color="#4549ff"/><stop offset=".388" stop-color="#2b36ff"/><stop offset=".402" stop-color="#0d28ff"/><stop offset=".433" stop-color="#013bff"/><stop offset=".549" stop-color="#00adfc"/><stop offset=".618" stop-color="#04eeea"/><stop offset=".811" stop-color="#dddf03"/><stop offset=".948" stop-color="#ed4b00"/><stop offset=".989" stop-color="#ff2300"/><stop offset=".999" stop-color="#ff2100"/><stop offset="1" stop-color="#ff1c00"/></linearGradient><linearGradient id="gb63" gradientUnits="userSpaceOnUse" x1="462.2" y1="60.9" x2="420.5" y2="91.7"><stop offset="0" stop-color="#ff1c00"/><stop offset="0" stop-color="#dc1400"/><stop offset="0" stop-color="#b21100"/><stop offset="0" stop-color="#9b1000"/><stop offset=".002" stop-color="#8c0f00"/><stop offset=".004" stop-color="#820f00"/><stop offset=".007" stop-color="#400800"/><stop offset=".28" stop-color="#404000"/><stop offset=".577" stop-color="#04403c"/><stop offset=".718" stop-color="#002640"/><stop offset=".836" stop-color="#050547"/><stop offset="1" stop-color="#050547"/></linearGradient><linearGradient id="gb64" gradientUnits="userSpaceOnUse" x1="386" y1="177" x2="492.3" y2="116.4"><stop offset="0" stop-color="#0000c4"/><stop offset=".158" stop-color="#0000da"/><stop offset=".273" stop-color="#0000ff"/><stop offset=".314" stop-color="#0909ff"/><stop offset=".327" stop-color="#2020ff"/><stop offset=".339" stop-color="#5252ff"/><stop offset=".358" stop-color="#c2c2ff"/><stop offset=".365" stop-color="#ddddff"/><stop offset=".372" stop-color="#eaeaff"/><stop offset=".378" stop-color="#e6e6ff"/><stop offset=".385" stop-color="#d1d1ff"/><stop offset=".406" stop-color="#6368ff"/><stop offset=".413" stop-color="#424eff"/><stop offset=".428" stop-color="#1833ff"/><stop offset=".451" stop-color="#0337ff"/><stop offset=".591" stop-color="#00c1fb"/><stop offset=".644" stop-color="#05f1ec"/><stop offset=".832" stop-color="#e1e302"/><stop offset=".952" stop-color="#f25e00"/><stop offset=".987" stop-color="#ff3e00"/><stop offset=".999" stop-color="#ff3e00"/><stop offset=".999" stop-color="#ff4000"/><stop offset="1" stop-color="#ff3600"/><stop offset="1" stop-color="#dd2700"/><stop offset="1" stop-color="#b52100"/><stop offset="1" stop-color="#9e1d00"/></linearGradient><linearGradient id="gb65" gradientUnits="userSpaceOnUse" x1="463.1" y1="65.2" x2="427.2" y2="85.7"><stop offset="0" stop-color="#9e1d00"/><stop offset=".001" stop-color="#8f1c00"/><stop offset=".006" stop-color="#7d1b00"/><stop offset=".009" stop-color="#400f00"/><stop offset=".276" stop-color="#3c4004"/><stop offset=".575" stop-color="#01403e"/><stop offset=".838" stop-color="#050547"/><stop offset="1" stop-color="#050547"/></linearGradient><linearGradient id="gb66" gradientUnits="userSpaceOnUse" x1="388" y1="178.1" x2="490.2" y2="139"><stop offset="0" stop-color="#0000c5"/><stop offset=".176" stop-color="#0000df"/><stop offset=".276" stop-color="#0000ff"/><stop offset=".345" stop-color="#0404ff"/><stop offset=".358" stop-color="#1212ff"/><stop offset=".371" stop-color="#3636ff"/><stop offset=".385" stop-color="#7777ff"/><stop offset=".398" stop-color="#c2c2ff"/><stop offset=".405" stop-color="#dedeff"/><stop offset=".412" stop-color="#eaeaff"/><stop offset=".419" stop-color="#e5e5ff"/><stop offset=".426" stop-color="#d0d0ff"/><stop offset=".448" stop-color="#626cff"/><stop offset=".455" stop-color="#4153ff"/><stop offset=".47" stop-color="#173bff"/><stop offset=".493" stop-color="#0342ff"/><stop offset=".673" stop-color="#00ffff"/><stop offset=".687" stop-color="#0ffff4"/><stop offset=".854" stop-color="#e8ef07"/><stop offset=".867" stop-color="#efe500"/><stop offset=".953" stop-color="#fa7b00"/><stop offset=".992" stop-color="#ff5900"/><stop offset=".999" stop-color="#ff6200"/><stop offset=".999" stop-color="#ff5200"/><stop offset="1" stop-color="#de3d00"/><stop offset="1" stop-color="#b73400"/></linearGradient><linearGradient id="gb67" gradientUnits="userSpaceOnUse" x1="463.7" y1="69.6" x2="437.5" y2="79.6"><stop offset="0" stop-color="#b73400"/><stop offset="0" stop-color="#a12e00"/><stop offset="0" stop-color="#922b00"/><stop offset=".004" stop-color="#802800"/><stop offset=".006" stop-color="#7a2800"/><stop offset=".01" stop-color="#401600"/><stop offset=".242" stop-color="#3c4004"/><stop offset=".568" stop-color="#003e40"/><stop offset=".835" stop-color="#050547"/><stop offset="1" stop-color="#050547"/></linearGradient><linearGradient id="gb68" gradientUnits="userSpaceOnUse" x1="389.9" y1="179.1" x2="488.5" y2="145.8"><stop offset="0" stop-color="#0000c5"/><stop offset=".181" stop-color="#0000dd"/><stop offset=".29" stop-color="#0000ff"/><stop offset=".36" stop-color="#0404ff"/><stop offset=".374" stop-color="#1111ff"/><stop offset=".387" stop-color="#3434ff"/><stop offset=".401" stop-color="#7474ff"/><stop offset=".414" stop-color="#c0c0ff"/><stop offset=".421" stop-color="#dcdcff"/><stop offset=".428" stop-color="#eaeaff"/><stop offset=".435" stop-color="#e6e6ff"/><stop offset=".443" stop-color="#d2d2ff"/><stop offset=".464" stop-color="#646cff"/><stop offset=".479" stop-color="#2a42ff"/><stop offset=".494" stop-color="#0d37ff"/><stop offset=".526" stop-color="#004eff"/><stop offset=".692" stop-color="#00ffff"/><stop offset=".705" stop-color="#0cfff9"/><stop offset=".875" stop-color="#ecf307"/><stop offset=".89" stop-color="#f3e600"/><stop offset=".971" stop-color="#ff8700"/><stop offset=".994" stop-color="#ff7e00"/><stop offset=".999" stop-color="#ff8600"/><stop offset="1" stop-color="#ff7100"/><stop offset="1" stop-color="#df5700"/><stop offset="1" stop-color="#ba4a00"/><stop offset="1" stop-color="#a44200"/><stop offset="1" stop-color="#963d00"/><stop offset="1" stop-color="#8b3a00"/></linearGradient><linearGradient id="gb69" gradientUnits="userSpaceOnUse" x1="464.5" y1="75" x2="441.9" y2="82.7"><stop offset="0" stop-color="#8b3a00"/><stop offset=".007" stop-color="#793700"/><stop offset=".011" stop-color="#753700"/><stop offset=".016" stop-color="#401f00"/><stop offset=".192" stop-color="#3e4002"/><stop offset=".562" stop-color="#003b40"/><stop offset=".832" stop-color="#050547"/><stop offset="1" stop-color="#050547"/></linearGradient><linearGradient id="gb70" gradientUnits="userSpaceOnUse" x1="391.9" y1="180.2" x2="484.2" y2="157.4"><stop offset="0" stop-color="#0000c5"/><stop offset=".186" stop-color="#0000da"/><stop offset=".321" stop-color="#0000ff"/><stop offset=".387" stop-color="#0404ff"/><stop offset=".401" stop-color="#0f0fff"/><stop offset=".415" stop-color="#2f2fff"/><stop offset=".429" stop-color="#6d6dff"/><stop offset=".443" stop-color="#babaff"/><stop offset=".45" stop-color="#d8d8ff"/><stop offset=".457" stop-color="#e9e9ff"/><stop offset=".464" stop-color="#e8e8ff"/><stop offset=".471" stop-color="#d7d7ff"/><stop offset=".486" stop-color="#9293ff"/><stop offset=".501" stop-color="#4955ff"/><stop offset=".508" stop-color="#2e42ff"/><stop offset=".524" stop-color="#0f34ff"/><stop offset=".547" stop-color="#0141ff"/><stop offset=".724" stop-color="#00ffff"/><stop offset=".737" stop-color="#0dfff8"/><stop offset=".906" stop-color="#f8f800"/><stop offset=".97" stop-color="#ffae00"/><stop offset=".992" stop-color="#ffa700"/><stop offset=".997" stop-color="#ffb200"/><stop offset=".998" stop-color="#ffac00"/><stop offset=".999" stop-color="#ff9300"/><stop offset=".999" stop-color="#df7500"/><stop offset="1" stop-color="#9a5300"/></linearGradient><linearGradient id="gb71" gradientUnits="userSpaceOnUse" x1="465" y1="80.2" x2="448.9" y2="84.2"><stop offset="0" stop-color="#9a5300"/><stop offset="0" stop-color="#904e00"/><stop offset=".002" stop-color="#824a00"/><stop offset=".016" stop-color="#734900"/><stop offset=".021" stop-color="#734b00"/><stop offset=".028" stop-color="#402b00"/><stop offset=".16" stop-color="#3b4005"/><stop offset=".495" stop-color="#01403f"/><stop offset=".825" stop-color="#050547"/><stop offset="1" stop-color="#050547"/></linearGradient><linearGradient id="gb72" gradientUnits="userSpaceOnUse" x1="393.9" y1="181.3" x2="480.8" y2="164.2"><stop offset="0" stop-color="#0000c4"/><stop offset=".207" stop-color="#0000db"/><stop offset=".339" stop-color="#0000ff"/><stop offset=".415" stop-color="#0606ff"/><stop offset=".429" stop-color="#1717ff"/><stop offset=".443" stop-color="#4141ff"/><stop offset=".472" stop-color="#cfcfff"/><stop offset=".479" stop-color="#e5e5ff"/><stop offset=".486" stop-color="#eaeaff"/><stop offset=".493" stop-color="#dedeff"/><stop offset=".508" stop-color="#9f9fff"/><stop offset=".523" stop-color="#545bff"/><stop offset=".531" stop-color="#3644ff"/><stop offset=".546" stop-color="#1231ff"/><stop offset=".569" stop-color="#023bff"/><stop offset=".731" stop-color="#00f2ff"/><stop offset=".746" stop-color="#00ffff"/><stop offset=".761" stop-color="#05ffff"/><stop offset=".773" stop-color="#17fffa"/><stop offset=".929" stop-color="#ffff09"/><stop offset=".942" stop-color="#ffff00"/><stop offset=".989" stop-color="#ffdd00"/><stop offset=".997" stop-color="#ffda00"/><stop offset=".998" stop-color="#ffcd00"/><stop offset=".998" stop-color="#ffb600"/><stop offset="1" stop-color="#976c00"/><stop offset="1" stop-color="#8f6800"/><stop offset="1" stop-color="#896400"/></linearGradient><linearGradient id="gb73" gradientUnits="userSpaceOnUse" x1="465.7" y1="87.6" x2="454.1" y2="89.8"><stop offset="0" stop-color="#896400"/><stop offset=".01" stop-color="#785f00"/><stop offset=".034" stop-color="#736500"/><stop offset=".042" stop-color="#403a00"/><stop offset=".147" stop-color="#32400e"/><stop offset=".488" stop-color="#003b40"/><stop offset=".831" stop-color="#050547"/><stop offset="1" stop-color="#050547"/></linearGradient><linearGradient id="gb74" gradientUnits="userSpaceOnUse" x1="395.8" y1="182.4" x2="480.1" y2="165.8"><stop offset="0" stop-color="#0000c4"/><stop offset=".208" stop-color="#0000d9"/><stop offset=".355" stop-color="#0000ff"/><stop offset=".424" stop-color="#0404ff"/><stop offset=".438" stop-color="#1111ff"/><stop offset=".452" stop-color="#3333ff"/><stop offset=".467" stop-color="#7272ff"/><stop offset=".481" stop-color="#bebeff"/><stop offset=".488" stop-color="#dbdbff"/><stop offset=".496" stop-color="#eaeaff"/><stop offset=".503" stop-color="#e7e7ff"/><stop offset=".51" stop-color="#d3d3ff"/><stop offset=".533" stop-color="#6767ff"/><stop offset=".54" stop-color="#454aff"/><stop offset=".555" stop-color="#192cff"/><stop offset=".571" stop-color="#072bff"/><stop offset=".643" stop-color="#0072ff"/><stop offset=".762" stop-color="#00ffff"/><stop offset=".787" stop-color="#03ffff"/><stop offset=".807" stop-color="#20fffb"/><stop offset=".953" stop-color="#ffff1f"/><stop offset=".979" stop-color="#ffff00"/><stop offset=".997" stop-color="#ffff00"/><stop offset=".998" stop-color="#ffea00"/><stop offset="1" stop-color="#9c9200"/><stop offset="1" stop-color="#948c00"/></linearGradient><linearGradient id="gb75" gradientUnits="userSpaceOnUse" x1="466.3" y1="95.3" x2="455.8" y2="97.3"><stop offset="0" stop-color="#948c00"/><stop offset="0" stop-color="#8d8600"/><stop offset=".005" stop-color="#7e7d00"/><stop offset=".024" stop-color="#6b7308"/><stop offset=".031" stop-color="#68730b"/><stop offset=".039" stop-color="#384008"/><stop offset=".389" stop-color="#02403e"/><stop offset=".826" stop-color="#050547"/><stop offset="1" stop-color="#050547"/></linearGradient><linearGradient id="gb76" gradientUnits="userSpaceOnUse" x1="397.8" y1="183.5" x2="480.3" y2="165.6"><stop offset="0" stop-color="#0000c3"/><stop offset=".221" stop-color="#0000d8"/><stop offset=".368" stop-color="#0000ff"/><stop offset=".437" stop-color="#0404ff"/><stop offset=".451" stop-color="#1212ff"/><stop offset=".465" stop-color="#3636ff"/><stop offset=".479" stop-color="#7777ff"/><stop offset=".494" stop-color="#c2c2ff"/><stop offset=".501" stop-color="#dedeff"/><stop offset=".509" stop-color="#eaeaff"/><stop offset=".516" stop-color="#e5e5ff"/><stop offset=".523" stop-color="#d0d0ff"/><stop offset=".553" stop-color="#4242ff"/><stop offset=".561" stop-color="#292eff"/><stop offset=".576" stop-color="#0c20ff"/><stop offset=".616" stop-color="#003dff"/><stop offset=".783" stop-color="#00faff"/><stop offset=".818" stop-color="#02ffff"/><stop offset=".844" stop-color="#26fffc"/><stop offset=".973" stop-color="#deff4b"/><stop offset=".995" stop-color="#f5ff33"/><stop offset=".997" stop-color="#f1ff31"/><stop offset=".998" stop-color="#e7ff2e"/><stop offset=".998" stop-color="#d4ff2a"/><stop offset="1" stop-color="#83a11e"/></linearGradient><linearGradient id="gb77" gradientUnits="userSpaceOnUse" x1="466.9" y1="103.8" x2="456.8" y2="106"><stop offset="0" stop-color="#83a11e"/><stop offset="0" stop-color="#7a981d"/><stop offset="0" stop-color="#73901d"/><stop offset="0" stop-color="#6c8a1d"/><stop offset=".012" stop-color="#587820"/><stop offset=".023" stop-color="#507323"/><stop offset=".03" stop-color="#2b4015"/><stop offset=".348" stop-color="#003d40"/><stop offset=".69" stop-color="#001040"/><stop offset=".821" stop-color="#050547"/><stop offset="1" stop-color="#050547"/></linearGradient><linearGradient id="gb78" gradientUnits="userSpaceOnUse" x1="399.8" y1="184.5" x2="479.7" y2="167"><stop offset="0" stop-color="#0000c3"/><stop offset=".23" stop-color="#0000d6"/><stop offset=".391" stop-color="#0000ff"/><stop offset=".454" stop-color="#0404ff"/><stop offset=".468" stop-color="#1010ff"/><stop offset=".482" stop-color="#3232ff"/><stop offset=".497" stop-color="#7171ff"/><stop offset=".511" stop-color="#bdbdff"/><stop offset=".519" stop-color="#dadaff"/><stop offset=".526" stop-color="#e9e9ff"/><stop offset=".534" stop-color="#e7e7ff"/><stop offset=".541" stop-color="#d4d4ff"/><stop offset=".556" stop-color="#8e8eff"/><stop offset=".571" stop-color="#4646ff"/><stop offset=".579" stop-color="#2c2cff"/><stop offset=".587" stop-color="#1a1dff"/><stop offset=".602" stop-color="#0719ff"/><stop offset=".669" stop-color="#0054ff"/><stop offset=".827" stop-color="#00ffff"/><stop offset=".86" stop-color="#04ffff"/><stop offset=".891" stop-color="#2dfffa"/><stop offset=".991" stop-color="#adff83"/><stop offset=".996" stop-color="#acff7b"/><stop offset=".998" stop-color="#98ff6c"/><stop offset="1" stop-color="#5ea547"/><stop offset="1" stop-color="#579c44"/><stop offset="1" stop-color="#529442"/><stop offset="1" stop-color="#4d8d40"/></linearGradient><linearGradient id="gb79" gradientUnits="userSpaceOnUse" x1="467.9" y1="112.9" x2="458.9" y2="114.9"><stop offset="0" stop-color="#4d8d40"/><stop offset=".01" stop-color="#3d7b3e"/><stop offset=".026" stop-color="#337340"/><stop offset=".034" stop-color="#1b4025"/><stop offset=".273" stop-color="#003b40"/><stop offset=".682" stop-color="#000b40"/><stop offset="1" stop-color="#050547"/></linearGradient><linearGradient id="gb80" gradientUnits="userSpaceOnUse" x1="401.7" y1="185.6" x2="479.2" y2="168.7"><stop offset="0" stop-color="#0000c2"/><stop offset=".245" stop-color="#0000d5"/><stop offset=".394" stop-color="#0000fc"/><stop offset=".478" stop-color="#0606ff"/><stop offset=".493" stop-color="#1818ff"/><stop offset=".507" stop-color="#4343ff"/><stop offset=".537" stop-color="#d1d1ff"/><stop offset=".544" stop-color="#e6e6ff"/><stop offset=".551" stop-color="#eaeaff"/><stop offset=".559" stop-color="#ddddff"/><stop offset=".574" stop-color="#9c9cff"/><stop offset=".589" stop-color="#5151ff"/><stop offset=".605" stop-color="#1f1fff"/><stop offset=".613" stop-color="#1113ff"/><stop offset=".636" stop-color="#0219ff"/><stop offset=".796" stop-color="#00b8ff"/><stop offset=".863" stop-color="#00ffff"/><stop offset=".9" stop-color="#04ffff"/><stop offset=".94" stop-color="#36fffb"/><stop offset=".995" stop-color="#75ffca"/><stop offset=".997" stop-color="#6effbd"/><stop offset=".998" stop-color="#65ffad"/><stop offset=".998" stop-color="#59f198"/><stop offset="1" stop-color="#339764"/></linearGradient><linearGradient id="gb81" gradientUnits="userSpaceOnUse" x1="468.6" y1="120.1" x2="461" y2="121.8"><stop offset="0" stop-color="#339764"/><stop offset="0" stop-color="#309060"/><stop offset=".002" stop-color="#2a865c"/><stop offset=".023" stop-color="#1c7559"/><stop offset=".03" stop-color="#1a7359"/><stop offset=".038" stop-color="#0d4033"/><stop offset=".189" stop-color="#003a40"/><stop offset=".691" stop-color="#000640"/><stop offset="1" stop-color="#050547"/></linearGradient><linearGradient id="gb82" gradientUnits="userSpaceOnUse" x1="403.7" y1="186.7" x2="478" y2="172.3"><stop offset="0" stop-color="#0000c2"/><stop offset=".25" stop-color="#0000d3"/><stop offset=".401" stop-color="#0000f5"/><stop offset=".45" stop-color="#0000ff"/><stop offset=".5" stop-color="#0505ff"/><stop offset=".514" stop-color="#1212ff"/><stop offset=".529" stop-color="#3737ff"/><stop offset=".544" stop-color="#7979ff"/><stop offset=".559" stop-color="#c4c4ff"/><stop offset=".566" stop-color="#dfdfff"/><stop offset=".573" stop-color="#eaeaff"/><stop offset=".581" stop-color="#e4e4ff"/><stop offset=".589" stop-color="#ceceff"/><stop offset=".619" stop-color="#4040ff"/><stop offset=".635" stop-color="#1717ff"/><stop offset=".642" stop-color="#0c0cff"/><stop offset=".676" stop-color="#001eff"/><stop offset=".85" stop-color="#00cbff"/><stop offset=".898" stop-color="#00ffff"/><stop offset=".944" stop-color="#05ffff"/><stop offset=".995" stop-color="#38ffff"/><stop offset=".996" stop-color="#36fff9"/><stop offset=".997" stop-color="#31ffe4"/><stop offset=".997" stop-color="#2bf6ca"/><stop offset="1" stop-color="#14907d"/><stop offset="1" stop-color="#128c7a"/></linearGradient><linearGradient id="gb83" gradientUnits="userSpaceOnUse" x1="469.3" y1="127.5" x2="463.6" y2="128.6"><stop offset="0" stop-color="#128c7a"/><stop offset=".005" stop-color="#0c8074"/><stop offset=".054" stop-color="#006f73"/><stop offset=".065" stop-color="#003c40"/><stop offset=".675" stop-color="#000340"/><stop offset="1" stop-color="#050547"/></linearGradient><linearGradient id="gb84" gradientUnits="userSpaceOnUse" x1="405.7" y1="187.8" x2="477.3" y2="174.6"><stop offset="0" stop-color="#0000c1"/><stop offset=".273" stop-color="#0000d3"/><stop offset=".425" stop-color="#0000f5"/><stop offset=".475" stop-color="#0000ff"/><stop offset=".525" stop-color="#0707ff"/><stop offset=".54" stop-color="#1a1aff"/><stop offset=".555" stop-color="#4646ff"/><stop offset=".584" stop-color="#d4d4ff"/><stop offset=".592" stop-color="#e7e7ff"/><stop offset=".599" stop-color="#e9e9ff"/><stop offset=".607" stop-color="#dadaff"/><stop offset=".622" stop-color="#9898ff"/><stop offset=".637" stop-color="#4e4eff"/><stop offset=".653" stop-color="#1d1dff"/><stop offset=".669" stop-color="#0808ff"/><stop offset=".693" stop-color="#0112ff"/><stop offset=".86" stop-color="#00b0ff"/><stop offset=".933" stop-color="#00ffff"/><stop offset=".996" stop-color="#00ffff"/><stop offset=".997" stop-color="#00fafb"/><stop offset=".999" stop-color="#00b2b5"/><stop offset="1" stop-color="#008f96"/><stop offset="1" stop-color="#008990"/><stop offset="1" stop-color="#00838c"/><stop offset="1" stop-color="#007e88"/><stop offset="1" stop-color="#007a85"/></linearGradient><linearGradient id="gb85" gradientUnits="userSpaceOnUse" x1="469.9" y1="134.7" x2="466.2" y2="135.4"><stop offset="0" stop-color="#007a85"/><stop offset=".028" stop-color="#006578"/><stop offset=".095" stop-color="#005573"/><stop offset=".114" stop-color="#002e40"/><stop offset=".699" stop-color="#000640"/><stop offset="1" stop-color="#050547"/></linearGradient><linearGradient id="gb86" gradientUnits="userSpaceOnUse" x1="407.6" y1="188.8" x2="476.9" y2="176.1"><stop offset="0" stop-color="#0000c1"/><stop offset=".281" stop-color="#0000d1"/><stop offset=".448" stop-color="#0000f5"/><stop offset=".505" stop-color="#0000ff"/><stop offset=".549" stop-color="#0909ff"/><stop offset=".564" stop-color="#2121ff"/><stop offset=".578" stop-color="#5454ff"/><stop offset=".601" stop-color="#c4c4ff"/><stop offset=".608" stop-color="#dfdfff"/><stop offset=".616" stop-color="#eaeaff"/><stop offset=".623" stop-color="#e5e5ff"/><stop offset=".631" stop-color="#cfcfff"/><stop offset=".661" stop-color="#4040ff"/><stop offset=".679" stop-color="#1313ff"/><stop offset=".704" stop-color="#0202ff"/><stop offset=".865" stop-color="#0090ff"/><stop offset=".973" stop-color="#00ffff"/><stop offset=".995" stop-color="#00ffff"/><stop offset=".996" stop-color="#00d4ff"/><stop offset=".999" stop-color="#0086a8"/><stop offset="1" stop-color="#006b8c"/></linearGradient><linearGradient id="gb87" gradientUnits="userSpaceOnUse" x1="470.3" y1="140.4" x2="467.1" y2="141"><stop offset="0" stop-color="#006b8c"/><stop offset="0" stop-color="#006688"/><stop offset=".02" stop-color="#00547a"/><stop offset=".079" stop-color="#004573"/><stop offset=".096" stop-color="#002540"/><stop offset=".727" stop-color="#00003e"/><stop offset="1" stop-color="#050547"/></linearGradient><linearGradient id="gb88" gradientUnits="userSpaceOnUse" x1="409.6" y1="189.9" x2="476.9" y2="176.5"><stop offset="0" stop-color="#0000c1"/><stop offset=".295" stop-color="#0000d0"/><stop offset=".462" stop-color="#0000f2"/><stop offset=".527" stop-color="#0000ff"/><stop offset=".57" stop-color="#0b0bff"/><stop offset=".585" stop-color="#2626ff"/><stop offset=".6" stop-color="#5e5eff"/><stop offset=".622" stop-color="#ccccff"/><stop offset=".63" stop-color="#e3e3ff"/><stop offset=".637" stop-color="#ebebff"/><stop offset=".645" stop-color="#e0e0ff"/><stop offset=".66" stop-color="#a3a3ff"/><stop offset=".682" stop-color="#3e3eff"/><stop offset=".698" stop-color="#1414ff"/><stop offset=".721" stop-color="#0202ff"/><stop offset=".743" stop-color="#0006ff"/><stop offset=".932" stop-color="#00abff"/><stop offset=".991" stop-color="#00e0ff"/><stop offset=".994" stop-color="#00dcff"/><stop offset=".996" stop-color="#00c3ff"/><stop offset=".996" stop-color="#00b0ff"/><stop offset=".997" stop-color="#0092e0"/><stop offset="1" stop-color="#005b94"/><stop offset="1" stop-color="#00538b"/><stop offset="1" stop-color="#004d84"/></linearGradient><linearGradient id="gb89" gradientUnits="userSpaceOnUse" x1="470.9" y1="146.7" x2="467.8" y2="147.3"><stop offset="0" stop-color="#004d84"/><stop offset=".04" stop-color="#003b76"/><stop offset=".066" stop-color="#003573"/><stop offset=".082" stop-color="#001c40"/><stop offset=".33" stop-color="#000d40"/><stop offset=".752" stop-color="#000036"/><stop offset="1" stop-color="#050547"/></linearGradient><linearGradient id="gb90" gradientUnits="userSpaceOnUse" x1="411.6" y1="191" x2="476.7" y2="177.6"><stop offset="0" stop-color="#0000c0"/><stop offset=".316" stop-color="#0000d0"/><stop offset=".484" stop-color="#0000f1"/><stop offset=".549" stop-color="#0000ff"/><stop offset=".585" stop-color="#0606ff"/><stop offset=".6" stop-color="#1616ff"/><stop offset=".615" stop-color="#3f3fff"/><stop offset=".645" stop-color="#cdcdff"/><stop offset=".653" stop-color="#e4e4ff"/><stop offset=".66" stop-color="#eaeaff"/><stop offset=".668" stop-color="#dfdfff"/><stop offset=".681" stop-color="#a9a9ff"/><stop offset=".702" stop-color="#4747ff"/><stop offset=".717" stop-color="#1c1cff"/><stop offset=".735" stop-color="#0606ff"/><stop offset=".774" stop-color="#0003ff"/><stop offset=".991" stop-color="#00b2ff"/><stop offset=".994" stop-color="#00afff"/><stop offset=".995" stop-color="#009cff"/><stop offset=".996" stop-color="#0081fd"/><stop offset=".999" stop-color="#0059b5"/><stop offset="1" stop-color="#004290"/><stop offset="1" stop-color="#003f8c"/></linearGradient><linearGradient id="gb91" gradientUnits="userSpaceOnUse" x1="471.4" y1="151.6" x2="468.6" y2="152.2"><stop offset="0" stop-color="#003f8c"/><stop offset=".009" stop-color="#003480"/><stop offset=".041" stop-color="#002a77"/><stop offset=".135" stop-color="#001040"/><stop offset=".321" stop-color="#000640"/><stop offset="1" stop-color="#050547"/></linearGradient><linearGradient id="gb92" gradientUnits="userSpaceOnUse" x1="413.5" y1="192" x2="476.4" y2="179.7"><stop offset="0" stop-color="#0000c0"/><stop offset=".339" stop-color="#0000cf"/><stop offset=".522" stop-color="#0000f3"/><stop offset=".588" stop-color="#0000ff"/><stop offset=".617" stop-color="#0909ff"/><stop offset=".632" stop-color="#2121ff"/><stop offset=".647" stop-color="#5454ff"/><stop offset=".669" stop-color="#c4c4ff"/><stop offset=".681" stop-color="#e7e7ff"/><stop offset=".691" stop-color="#e6e6ff"/><stop offset=".701" stop-color="#c9c9ff"/><stop offset=".73" stop-color="#4343ff"/><stop offset=".744" stop-color="#1a1aff"/><stop offset=".765" stop-color="#0404ff"/><stop offset=".814" stop-color="#0004ff"/><stop offset=".99" stop-color="#0086ff"/><stop offset=".993" stop-color="#007fff"/><stop offset=".995" stop-color="#0062ff"/><stop offset=".999" stop-color="#003aa6"/><stop offset="1" stop-color="#002b8c"/><stop offset="1" stop-color="#002989"/></linearGradient><linearGradient id="gb93" gradientUnits="userSpaceOnUse" x1="471.9" y1="156.9" x2="469.9" y2="157.3"><stop offset="0" stop-color="#002989"/><stop offset=".029" stop-color="#001d7b"/><stop offset=".123" stop-color="#001073"/><stop offset=".329" stop-color="#00003f"/><stop offset="1" stop-color="#050547"/></linearGradient><linearGradient id="gb94" gradientUnits="userSpaceOnUse" x1="415.5" y1="193.1" x2="475.4" y2="184.5"><stop offset="0" stop-color="#0000c0"/><stop offset=".358" stop-color="#0000ce"/><stop offset=".558" stop-color="#0000f2"/><stop offset=".623" stop-color="#0000ff"/><stop offset=".653" stop-color="#0a0aff"/><stop offset=".667" stop-color="#2222ff"/><stop offset=".682" stop-color="#5656ff"/><stop offset=".706" stop-color="#ccccff"/><stop offset=".716" stop-color="#e8e8ff"/><stop offset=".726" stop-color="#e6e6ff"/><stop offset=".738" stop-color="#bebeff"/><stop offset=".763" stop-color="#4848ff"/><stop offset=".777" stop-color="#1d1dff"/><stop offset=".797" stop-color="#0505ff"/><stop offset=".857" stop-color="#0003ff"/><stop offset=".99" stop-color="#005bff"/><stop offset=".993" stop-color="#0056ff"/><stop offset=".995" stop-color="#003ffc"/><stop offset=".998" stop-color="#0030c7"/><stop offset="1" stop-color="#0024a6"/></linearGradient><linearGradient id="gb95" gradientUnits="userSpaceOnUse" x1="417.5" y1="194.2" x2="475.3" y2="185.1"><stop offset="0" stop-color="#0000c0"/><stop offset=".371" stop-color="#0000cd"/><stop offset=".57" stop-color="#0000ee"/><stop offset=".643" stop-color="#0000ff"/><stop offset=".683" stop-color="#0b0bff"/><stop offset=".699" stop-color="#2828ff"/><stop offset=".715" stop-color="#6767ff"/><stop offset=".737" stop-color="#d1d1ff"/><stop offset=".747" stop-color="#e9e9ff"/><stop offset=".757" stop-color="#e3e3ff"/><stop offset=".769" stop-color="#b7b7ff"/><stop offset=".793" stop-color="#4343ff"/><stop offset=".807" stop-color="#1a1aff"/><stop offset=".828" stop-color="#0404ff"/><stop offset=".906" stop-color="#0003ff"/><stop offset=".989" stop-color="#002fff"/><stop offset=".993" stop-color="#0022ff"/><stop offset=".995" stop-color="#001ad3"/><stop offset="1" stop-color="#000a95"/><stop offset="1" stop-color="#000286"/><stop offset="1" stop-color="#000073"/></linearGradient><linearGradient id="gb96" gradientUnits="userSpaceOnUse" x1="472.7" y1="168.6" x2="472.3" y2="168.6"><stop offset="0" stop-color="#000073"/><stop offset="1" stop-color="#050547"/></linearGradient><linearGradient id="gb97" gradientUnits="userSpaceOnUse" x1="419.4" y1="195.3" x2="475.3" y2="180.5"><stop offset="0" stop-color="#0000c0"/><stop offset=".388" stop-color="#0000cc"/><stop offset=".6" stop-color="#0000ee"/><stop offset=".685" stop-color="#0101ff"/><stop offset=".713" stop-color="#0f0fff"/><stop offset=".729" stop-color="#3131ff"/><stop offset=".745" stop-color="#7575ff"/><stop offset=".766" stop-color="#d5d5ff"/><stop offset=".776" stop-color="#eaeaff"/><stop offset=".786" stop-color="#e1e1ff"/><stop offset=".798" stop-color="#b3b3ff"/><stop offset=".823" stop-color="#3f3fff"/><stop offset=".84" stop-color="#1414ff"/><stop offset=".863" stop-color="#0202ff"/><stop offset=".994" stop-color="#0001ff"/><stop offset=".997" stop-color="#0000dc"/><stop offset=".999" stop-color="#0000b0"/><stop offset="1" stop-color="#000091"/><stop offset="1" stop-color="#00007a"/></linearGradient><linearGradient id="gb98" gradientUnits="userSpaceOnUse" x1="472.8" y1="171" x2="471.7" y2="171.3"><stop offset="0" stop-color="#00007a"/><stop offset=".41" stop-color="#000030"/><stop offset="1" stop-color="#050547"/></linearGradient></defs>
<path d="M328 145.8L385.4 128.2L394.5 125.2L401.4 122.4L407.8 119L412.6 115.4L417.5 110.6L423.9 102.7L424.7 102L425 102L423.3 104.2L422.2 104.9L415.8 111.3L410.9 115.4L406.1 118.5L399.6 121.5L392.7 124.1L383.6 127.1L326 144.7Z" fill="url(#gb0)" stroke="url(#gb0)" stroke-width="0.7"/>
<path d="M425 102L426 102.8L426.9 105.4L427.5 109.2L427.8 115.3L426.1 114.2L425.8 109.6L425.2 106.7L424.3 104.8L423.3 104.2Z" fill="url(#gb1)" stroke="url(#gb1)" stroke-width="0.7"/>
<path d="M427.8 115.3L448.9 108.9L447.3 107.7L426.1 114.2Z" fill="#050547" stroke="#050547" stroke-width="0.7"/>
<path d="M330 146.8L387.2 129.3L396.3 126.2L403.1 123.3L406.3 121.6L409.6 119.5L414.4 115.4L419.2 109.7L425.6 100.4L426.4 99.6L426.7 99.6L425 102L424.7 102L423.9 102.7L417.5 110.6L412.6 115.4L407.8 119L401.4 122.4L394.5 125.2L385.4 128.2L328 145.8Z" fill="url(#gb2)" stroke="url(#gb2)" stroke-width="0.7"/>
<path d="M426.7 99.6L427.6 100.7L428.5 104L429.2 108.8L429.5 116.5L427.8 115.3L427.5 109.2L426.9 105.4L426 102.8L425 102Z" fill="url(#gb3)" stroke="url(#gb3)" stroke-width="0.7"/>
<path d="M429.5 116.5L450.6 110L448.9 108.9L427.8 115.3Z" fill="#050547" stroke="#050547" stroke-width="0.7"/>
<path d="M331.9 147.9L389 130.4L398 127.2L404.9 124.1L408.1 122.3L411.3 119.9L413.7 117.7L416.1 115.1L418.5 112L420.9 108.4L427.3 97.2L428.1 96.2L428.4 96.2L426.7 99.6L426.4 99.6L425.6 100.4L419.2 109.7L414.4 115.4L409.6 119.5L406.3 121.6L403.1 123.3L396.3 126.2L387.2 129.3L330 146.8Z" fill="url(#gb4)" stroke="url(#gb4)" stroke-width="0.7"/>
<path d="M428.4 96.2L429.3 97.7L430.2 102L430.8 108L431.1 117.6L429.5 116.5L429.2 108.8L428.5 104L427.6 100.7L426.7 99.6Z" fill="url(#gb5)" stroke="url(#gb5)" stroke-width="0.7"/>
<path d="M431.1 117.6L452.2 111.2L450.6 110L429.5 116.5Z" fill="#050547" stroke="#050547" stroke-width="0.7"/>
<path d="M333.9 149L390.8 131.5L399.8 128.2L406.6 124.9L409.8 122.8L413 120.1L415.4 117.6L417.8 114.5L421.7 108L428.1 94.6L429.7 91.8L428.1 96.2L426.5 98.5L420.1 109.6L416.1 115.1L413.7 117.7L411.3 119.9L408.1 122.3L404.9 124.1L398 127.2L389 130.4L331.9 147.9Z" fill="url(#gb6)" stroke="url(#gb6)" stroke-width="0.7"/>
<path d="M429.7 91.8L430.3 92.2L430.9 93.8L431.8 99.2L432.4 106.7L432.7 118.8L431.1 117.6L430.8 108L430.2 102L429.3 97.7L428.7 96.5L428.1 96.2Z" fill="url(#gb7)" stroke="url(#gb7)" stroke-width="0.7"/>
<path d="M432.7 118.8L453.7 112.4L452.2 111.2L431.1 117.6Z" fill="#050547" stroke="#050547" stroke-width="0.7"/>
<path d="M335.9 150L392.6 132.6L401.5 129.2L404.5 127.8L408.3 125.7L411.5 123.3L414.6 120.3L417 117.4L419.4 113.9L423.4 106.3L429.8 90.5L431.4 87.3L429.7 91.8L428.1 94.6L421.7 108L417.8 114.5L415.4 117.6L413 120.1L409.8 122.8L406.6 124.9L399.8 128.2L390.8 131.5L333.9 149Z" fill="url(#gb8)" stroke="url(#gb8)" stroke-width="0.7"/>
<path d="M431.4 87.3L431.9 87.8L432.5 89.7L433.4 96.3L434 105.4L434.3 120L432.7 118.8L432.4 106.7L431.8 99.2L430.9 93.8L430.3 92.2L429.7 91.8Z" fill="url(#gb9)" stroke="url(#gb9)" stroke-width="0.7"/>
<path d="M434.3 120L455.2 113.6L453.7 112.4L432.7 118.8Z" fill="#050547" stroke="#050547" stroke-width="0.7"/>
<path d="M337.8 151.1L394.3 133.7L403.2 130.2L406.2 128.8L410 126.4L413.2 123.9L416.3 120.5L418.7 117.2L421.1 113.2L425.1 104.5L431.4 86.4L433 82.8L431.4 87.3L429.8 90.5L423.4 106.3L419.4 113.9L417 117.4L414.6 120.3L411.5 123.3L408.3 125.7L404.5 127.8L401.5 129.2L392.6 132.6L335.9 150Z" fill="url(#gb10)" stroke="url(#gb10)" stroke-width="0.7"/>
<path d="M433 82.8L433.6 83.4L434.2 85.7L435.1 93.4L435.7 104.1L436 121.1L434.3 120L434 105.4L433.4 96.3L432.5 89.7L431.9 87.8L431.4 87.3Z" fill="url(#gb11)" stroke="url(#gb11)" stroke-width="0.7"/>
<path d="M436 121.1L456.8 114.8L455.2 113.6L434.3 120Z" fill="#050547" stroke="#050547" stroke-width="0.7"/>
<path d="M339.8 152.2L396.1 134.8L405 131.2L408 129.7L411.7 127.2L414.9 124.4L418.1 120.7L420.4 117L422.8 112.5L426.8 102.7L433.1 82.3L434.7 78.2L433 82.8L431.4 86.4L425.1 104.5L421.1 113.2L418.7 117.2L416.3 120.5L413.2 123.9L410 126.4L406.2 128.8L403.2 130.2L394.3 133.7L337.8 151.1Z" fill="url(#gb12)" stroke="url(#gb12)" stroke-width="0.7"/>
<path d="M434.7 78.2L435.3 78.9L435.9 81.6L436.7 90.4L437.3 102.8L437.6 122.3L436 121.1L435.7 104.1L435.1 93.4L434.2 85.7L433.6 83.4L433 82.8Z" fill="url(#gb13)" stroke="url(#gb13)" stroke-width="0.7"/>
<path d="M437.6 122.3L458.4 116L456.8 114.8L436 121.1Z" fill="#050547" stroke="#050547" stroke-width="0.7"/>
<path d="M341.8 153.2L386.1 139.7L397.9 135.8L406.8 132.2L409.8 130.6L413.5 127.9L416.7 124.9L419.8 120.8L422.2 116.8L424.6 111.8L428.5 100.9L434.8 78L436.4 73.4L434.7 78.2L433.1 82.3L426.8 102.7L422.8 112.5L420.4 117L418.1 120.7L414.9 124.4L411.7 127.2L408 129.7L405 131.2L396.1 134.8L339.8 152.2Z" fill="url(#gb14)" stroke="url(#gb14)" stroke-width="0.7"/>
<path d="M436.4 73.4L437 74.3L437.6 77.3L438.5 87.4L439.1 101.3L439.3 123.4L437.6 122.3L437.3 102.8L436.7 90.4L435.9 81.6L435.3 78.9L434.7 78.2Z" fill="url(#gb15)" stroke="url(#gb15)" stroke-width="0.7"/>
<path d="M439.3 123.4L460.1 117.1L458.4 116L437.6 122.3Z" fill="#050547" stroke="#050547" stroke-width="0.7"/>
<path d="M343.7 154.3L388 140.8L399.8 136.9L405.7 134.6L408.6 133.2L411.6 131.5L415.3 128.6L418.5 125.4L421.6 120.9L424 116.5L426.3 111L430.3 99L436.5 73.6L438.1 68.6L436.4 73.4L434.8 78L428.5 100.9L424.6 111.8L422.2 116.8L419.8 120.8L416.7 124.9L413.5 127.9L409.8 130.6L406.8 132.2L397.9 135.8L386.1 139.7L341.8 153.2Z" fill="url(#gb16)" stroke="url(#gb16)" stroke-width="0.7"/>
<path d="M438.1 68.6L438.4 68.8L438.7 69.5L439.3 73L440.2 84.2L440.8 99.9L441.1 124.6L439.3 123.4L439.1 101.3L438.5 87.4L437.6 77.3L437 74.3L436.4 73.4Z" fill="url(#gb17)" stroke="url(#gb17)" stroke-width="0.7"/>
<path d="M441.1 124.6L461.7 118.3L460.1 117.1L439.3 123.4Z" fill="#050547" stroke="#050547" stroke-width="0.7"/>
<path d="M345.7 155.4L389.8 141.9L401.6 137.9L407.4 135.5L410.4 134L413.3 132.1L417.1 129L420.2 125.4L423.3 120.4L425.7 115.5L428 109.5L432 96.3L438.2 68.9L439.8 63.5L438.1 68.6L436.5 73.6L430.3 99L426.3 111L424 116.5L421.6 120.9L418.5 125.4L415.3 128.6L411.6 131.5L408.6 133.2L405.7 134.6L399.8 136.9L388 140.8L343.7 154.3Z" fill="url(#gb18)" stroke="url(#gb18)" stroke-width="0.7"/>
<path d="M439.8 63.5L440.1 63.7L440.4 64.6L441 68.4L441.9 80.9L442.4 98.3L442.7 125.7L441.1 124.6L440.8 99.9L440.2 84.2L439.3 73L438.7 69.5L438.4 68.8L438.1 68.6Z" fill="url(#gb19)" stroke="url(#gb19)" stroke-width="0.7"/>
<path d="M442.7 125.7L463.3 119.4L461.7 118.3L441.1 124.6Z" fill="#050547" stroke="#050547" stroke-width="0.7"/>
<path d="M347.7 156.4L394.5 142L403.3 138.9L409.2 136.2L407.4 135.5L401.6 137.9L392.7 140.9L345.7 155.4Z" fill="url(#gb20)" stroke="url(#gb20)" stroke-width="0.7"/>
<path d="M409.2 136.2L412.1 134.4L415.1 132.3L418 129.5L419.6 127.7L423.5 121.8L426.6 115.2L429.7 106.5L432.1 98.4L435.2 85.3L439.9 63.1L441.4 57.6L439.8 63.5L438.2 68.9L433.5 89.9L431.2 99.3L428.8 107.2L425.7 115.5L424.1 118.9L421.8 123.1L417.8 128.2L413.3 132.1L410.4 134L407.4 135.5Z" fill="url(#gb21)" stroke="url(#gb21)" stroke-width="0.7"/>
<path d="M441.4 57.6L441.7 57.8L442 58.8L442.6 63.1L443.5 77L444.1 96.4L444.4 126.9L464.9 120.6L463.3 119.4L442.7 125.7L442.4 98.3L441.9 80.9L441 68.4L440.4 64.6L440.1 63.7L439.8 63.5Z" fill="url(#gb22)" stroke="url(#gb22)" stroke-width="0.7"/>
<path d="M349.6 157.5L387.6 145.9L399.3 142L408 138.3L411 136.7L413.9 134.7L412.1 134.4L406.3 137.6L397.5 141L347.7 156.4Z" fill="url(#gb23)" stroke="url(#gb23)" stroke-width="0.7"/>
<path d="M413.9 134.7L416.8 132.2L419.7 129L422.1 125.7L426 118.5L429.1 110.6L432.2 100.4L434.5 91L441.5 57.1L443.1 51.3L441.4 57.6L439.9 63.1L435.2 85.3L432.8 95.3L430.5 104L427.4 113.3L424.2 120.3L422.7 123.2L420.3 126.7L418 129.5L415.1 132.3L412.1 134.4Z" fill="url(#gb24)" stroke="url(#gb24)" stroke-width="0.7"/>
<path d="M443.1 51.3L443.4 51.6L443.7 52.7L444.3 57.5L445.1 72.9L445.7 94.3L446 128.1L466.5 121.8L464.9 120.6L444.4 126.9L444.1 96.4L443.5 77L442.6 63.1L442 58.8L441.7 57.8L441.4 57.6Z" fill="url(#gb25)" stroke="url(#gb25)" stroke-width="0.7"/>
<path d="M351.6 158.6L386.5 147.8L398.2 144L406.9 140.4L412.7 137.1L411 136.7L405.1 139.7L396.4 143L349.6 157.5Z" fill="url(#gb26)" stroke="url(#gb26)" stroke-width="0.7"/>
<path d="M412.7 137.1L415.7 134.8L418.6 131.9L422.3 127.1L426.1 120L429.3 112.4L432.4 102.6L435.5 90.2L437.8 79.4L443.2 51.5L444.8 45.6L443.1 51.3L441.5 57.1L436.9 80.3L433.7 94.3L431.4 103.2L428.3 112.8L424.4 121.7L420.5 128L416.8 132.2L413.9 134.7L411 136.7Z" fill="url(#gb27)" stroke="url(#gb27)" stroke-width="0.7"/>
<path d="M444.8 45.6L445.1 45.9L445.4 47.1L446 52.3L446.8 69.1L447.4 92.5L447.7 129.2L468.1 123L466.5 121.8L446 128.1L445.7 94.3L445.1 72.9L444.3 57.5L443.7 52.7L443.4 51.6L443.1 51.3Z" fill="url(#gb28)" stroke="url(#gb28)" stroke-width="0.7"/>
<path d="M353.5 159.6L391.3 148L400 144.9L405.9 142.5L404 141.7L398.2 144L389.4 146.9L351.6 158.6Z" fill="url(#gb29)" stroke="url(#gb29)" stroke-width="0.7"/>
<path d="M405.9 142.5L411.7 139.4L414.6 137.3L417.5 134.8L420.4 131.5L423.3 127.4L424.8 124.8L428.7 116.5L432.6 105.1L435.7 93.4L438.8 79.3L445 47L446.5 41L444.8 45.6L443.2 51.5L437.8 79.4L434.7 93.5L430.8 107.8L426.9 118.3L423 125.9L421.5 128.3L418.6 131.9L415.7 134.8L412.7 137.1L409.8 138.9L404 141.7Z" fill="url(#gb30)" stroke="url(#gb30)" stroke-width="0.7"/>
<path d="M446.5 41L446.8 41.4L447.1 42.7L447.7 48.2L448.6 66.2L449.1 91.1L449.4 130.3L469.8 124.1L468.1 123L447.7 129.2L447.4 92.5L446.8 69.1L446 52.3L445.4 47.1L445.1 45.9L444.8 45.6Z" fill="url(#gb31)" stroke="url(#gb31)" stroke-width="0.7"/>
<path d="M355.5 160.7L390.3 149.9L399 146.9L404.8 144.6L410.6 141.7L413.5 139.8L416.4 137.5L419.3 134.7L422.2 131.1L425.9 125.2L429 118.7L432.1 110.4L434.4 102.8L436.7 94L439 83.8L446 47.7L447.5 40.5L448.3 38L446.5 41L445 47L437.2 86.6L434.9 96.6L432.6 105.1L430.3 112.3L427.2 120.1L424.1 126.2L420.4 131.5L417.5 134.8L414.6 137.3L411.7 139.4L408.8 141.1L402.9 143.8L397.1 146L388.4 148.9L353.5 159.6Z" fill="url(#gb32)" stroke="url(#gb32)" stroke-width="0.7"/>
<path d="M448.3 38L448.6 38.4L448.9 39.7L449.4 45.5L450.3 64.4L450.9 90.4L451.2 131.5L449.4 130.3L449.1 91.1L448.6 66.2L447.7 48.2L447.1 42.7L446.8 41.4L446.5 41Z" fill="url(#gb33)" stroke="url(#gb33)" stroke-width="0.7"/>
<path d="M451.2 131.5L471.5 125.3L469.8 124.1L449.4 130.3Z" fill="#050547" stroke="#050547" stroke-width="0.7"/>
<path d="M357.5 161.7L392.2 151L400.9 147.9L406.6 145.4L412.4 142.2L415.3 140.1L418.2 137.6L421.1 134.5L424 130.6L427.7 124.2L430.7 117.3L433.8 108.5L436.1 100.6L440.8 81L447.7 44.8L449.2 37.7L450 35.2L448.3 38L447.5 40.5L446 47.7L439 83.8L436.7 94L434.4 102.8L432.1 110.4L429 118.7L425.9 125.2L422.2 131.1L419.3 134.7L416.4 137.5L413.5 139.8L410.6 141.7L404.8 144.6L399 146.9L390.3 149.9L355.5 160.7Z" fill="url(#gb34)" stroke="url(#gb34)" stroke-width="0.7"/>
<path d="M450 35.2L450.3 35.6L450.6 37L451.2 43.1L452 62.7L452.6 89.9L452.9 132.6L451.2 131.5L450.9 90.4L450.3 64.4L449.4 45.5L448.9 39.7L448.6 38.4L448.3 38Z" fill="url(#gb35)" stroke="url(#gb35)" stroke-width="0.7"/>
<path d="M452.9 132.6L473.1 126.4L471.5 125.3L451.2 131.5Z" fill="#050547" stroke="#050547" stroke-width="0.7"/>
<path d="M359.4 162.8L391.2 152.9L399.8 149.9L405.6 147.5L411.3 144.5L414.2 142.6L417.1 140.3L420 137.6L422.9 134.2L425.8 130L430.2 121.5L433.3 113.7L436.3 104L438.6 95.4L441.7 82.1L449.4 42.4L450.9 35.3L451.7 32.9L450 35.2L449.2 37.7L447.7 44.8L440.8 81L436.1 100.6L433.8 108.5L430.7 117.3L427.7 124.2L424 130.6L421.1 134.5L418.2 137.6L415.3 140.1L412.4 142.2L406.6 145.4L400.9 147.9L392.2 151L357.5 161.7Z" fill="url(#gb36)" stroke="url(#gb36)" stroke-width="0.7"/>
<path d="M451.7 32.9L452 33.3L452.3 34.8L452.9 41.1L453.7 61.4L454.3 89.5L454.6 133.8L452.9 132.6L452.6 89.9L452 62.7L451.2 43.1L450.6 37L450.3 35.6L450 35.2Z" fill="url(#gb37)" stroke="url(#gb37)" stroke-width="0.7"/>
<path d="M454.6 133.8L474.8 127.6L473.1 126.4L452.9 132.6Z" fill="#050547" stroke="#050547" stroke-width="0.7"/>
<path d="M361.4 163.9L393 154L401.6 150.8L407.4 148.3L413.1 145L416 143L418.9 140.5L421.8 137.5L424.6 133.9L427.5 129.4L431.9 120.4L435 112.3L438 102.3L442.6 83.7L451.1 40.8L452.6 33.9L453.4 31.5L451.7 32.9L450.9 35.3L449.4 42.4L441.7 82.1L438.6 95.4L436.3 104L433.3 113.7L430.2 121.5L425.8 130L422.9 134.2L420 137.6L417.1 140.3L414.2 142.6L411.3 144.5L405.6 147.5L399.8 149.9L391.2 152.9L359.4 162.8Z" fill="url(#gb38)" stroke="url(#gb38)" stroke-width="0.7"/>
<path d="M453.4 31.5L453.7 32L453.9 33.5L454.5 39.9L455.4 60.7L456 89.6L456.2 134.9L454.6 133.8L454.3 89.5L453.7 61.4L452.9 41.1L452.3 34.8L452 33.3L451.7 32.9Z" fill="url(#gb39)" stroke="url(#gb39)" stroke-width="0.7"/>
<path d="M456.2 134.9L476.4 128.8L474.8 127.6L454.6 133.8Z" fill="#050547" stroke="#050547" stroke-width="0.7"/>
<path d="M363.4 164.9L394.8 155L403.4 151.7L409.1 149L414.9 145.5L417.7 143.3L420.6 140.7L423.4 137.5L426.3 133.7L429.2 128.9L433.6 119.6L436.6 111.2L439.7 101.2L444.2 82.5L452.6 40.5L454.2 33.8L454.9 31.5L453.4 31.5L452.6 33.9L451.1 40.8L442.6 83.7L438 102.3L435 112.3L431.9 120.4L427.5 129.4L424.6 133.9L421.8 137.5L418.9 140.5L416 143L413.1 145L407.4 148.3L401.6 150.8L393 154L361.4 163.9Z" fill="url(#gb40)" stroke="url(#gb40)" stroke-width="0.7"/>
<path d="M454.9 31.5L455.2 32L455.5 33.5L456.1 40L456.9 61.1L457.5 90.2L457.8 136.1L456.2 134.9L456 89.6L455.4 60.7L454.5 39.9L453.9 33.5L453.7 32L453.4 31.5Z" fill="url(#gb41)" stroke="url(#gb41)" stroke-width="0.7"/>
<path d="M457.8 136.1L477.8 130L476.4 128.8L456.2 134.9Z" fill="#050547" stroke="#050547" stroke-width="0.7"/>
<path d="M365.3 166L393.7 157L402.2 153.9L407.9 151.3L413.5 148.1L419.2 143.8L422 141L424.9 137.7L427.7 133.6L430.5 128.7L434.9 119.2L437.9 110.8L440.9 100.7L445.5 82.2L453.8 41.5L455.3 35.2L456 33L454.9 31.5L454.2 33.8L452.6 40.5L444.2 82.5L439.7 101.2L436.6 111.2L433.6 119.6L429.2 128.9L426.3 133.7L423.4 137.5L420.6 140.7L417.7 143.3L414.9 145.5L409.1 149L403.4 151.7L394.8 155L363.4 164.9Z" fill="url(#gb42)" stroke="url(#gb42)" stroke-width="0.7"/>
<path d="M456 33L456.6 34.9L457.2 41.4L458 62.5L458.6 91.6L458.9 137.5L457.8 136.1L457.5 90.2L456.9 61.1L456.1 40L455.5 33.5L455.2 32L454.9 31.5Z" fill="url(#gb43)" stroke="url(#gb43)" stroke-width="0.7"/>
<path d="M458.9 137.5L478.7 131.4L477.8 130L457.8 136.1Z" fill="#050547" stroke="#050547" stroke-width="0.7"/>
<path d="M367.3 167.1L392.5 159.1L400.9 156L406.5 153.6L412.1 150.7L417.7 146.8L420.4 144.3L423.2 141.4L426 137.9L428.8 133.8L431.6 128.7L434.4 122.7L437.4 115L440.4 105.7L442.6 97.8L445.6 85.7L454.6 43.2L456.1 37.1L456.8 35L456 33L455.3 35.2L453.8 41.5L445.5 82.2L440.9 100.7L437.9 110.8L434.9 119.2L430.5 128.7L427.7 133.6L424.9 137.7L422 141L419.2 143.8L413.5 148.1L407.9 151.3L402.2 153.9L393.7 157L365.3 166Z" fill="url(#gb44)" stroke="url(#gb44)" stroke-width="0.7"/>
<path d="M456.8 35L457.4 36.9L457.9 43.4L458.8 64.3L459.3 93.3L459.6 138.9L458.9 137.5L458.6 91.6L458 62.5L457.2 41.4L456.6 34.9L456 33Z" fill="url(#gb45)" stroke="url(#gb45)" stroke-width="0.7"/>
<path d="M459.6 138.9L479.2 132.9L478.7 131.4L458.9 137.5Z" fill="#050547" stroke="#050547" stroke-width="0.7"/>
<path d="M369.3 168.1L394.1 160.2L402.4 157L407.9 154.6L413.4 151.5L418.9 147.4L421.7 144.9L424.4 141.8L427.2 138.2L430 133.9L432.7 128.8L435.5 122.7L438.4 114.9L441.4 105.8L446.5 86.1L455.3 45.1L456.8 39.3L457.5 37.3L456.8 35L456.1 37.1L454.6 43.2L445.6 85.7L442.6 97.8L440.4 105.7L437.4 115L434.4 122.7L431.6 128.7L428.8 133.8L426 137.9L423.2 141.4L420.4 144.3L417.7 146.8L412.1 150.7L406.5 153.6L400.9 156L392.5 159.1L367.3 167.1Z" fill="url(#gb46)" stroke="url(#gb46)" stroke-width="0.7"/>
<path d="M457.5 37.3L458.1 39.2L458.6 45.6L459.5 66.4L460 95.2L460.3 140.3L459.6 138.9L459.3 93.3L458.8 64.3L457.9 43.4L457.4 36.9L456.8 35Z" fill="url(#gb47)" stroke="url(#gb47)" stroke-width="0.7"/>
<path d="M460.3 140.3L479.6 134.5L479.2 132.9L459.6 138.9Z" fill="#050547" stroke="#050547" stroke-width="0.7"/>
<path d="M371.2 169.2L395.7 161.2L403.8 158.1L409.3 155.5L414.7 152.3L420.1 148.1L422.8 145.4L425.6 142.3L428.3 138.6L431 134.2L433.7 129L436.4 122.8L439.3 115.1L441.5 108.4L446.6 89.7L456 47.3L457.4 41.7L458.1 39.8L457.5 37.3L456.8 39.3L455.3 45.1L446.5 86.1L441.4 105.8L438.4 114.9L435.5 122.7L432.7 128.8L430 133.9L427.2 138.2L424.4 141.8L421.7 144.9L418.9 147.4L413.4 151.5L407.9 154.6L402.4 157L394.1 160.2L369.3 168.1Z" fill="url(#gb48)" stroke="url(#gb48)" stroke-width="0.7"/>
<path d="M458.1 39.8L458.7 41.8L459.2 48.1L460.1 68.7L460.6 97.1L460.9 141.8L460.3 140.3L460 95.2L459.5 66.4L458.6 45.6L458.1 39.2L457.5 37.3Z" fill="url(#gb49)" stroke="url(#gb49)" stroke-width="0.7"/>
<path d="M460.9 141.8L479.9 136L479.6 134.5L460.3 140.3Z" fill="#050547" stroke="#050547" stroke-width="0.7"/>
<path d="M373.2 170.2L386.6 166L397.3 162.3L405.3 159.1L410.6 156.4L416 153.1L421.3 148.7L424 145.9L426.7 142.7L429.4 138.9L432 134.4L434.7 129.2L437.4 123L440.2 115.3L442.4 108.7L447.4 90.4L455.9 52.5L457.4 46.7L458.8 42.4L458.1 39.8L457.4 41.7L456 47.3L446.6 89.7L441.5 108.4L439.3 115.1L436.4 122.8L433.7 129L431 134.2L428.3 138.6L425.6 142.3L422.8 145.4L420.1 148.1L414.7 152.3L409.3 155.5L403.8 158.1L395.7 161.2L371.2 169.2Z" fill="url(#gb50)" stroke="url(#gb50)" stroke-width="0.7"/>
<path d="M458.8 42.4L459.3 44.3L459.8 50.6L460.7 70.9L461.2 99.1L461.5 143.3L460.9 141.8L460.6 97.1L460.1 68.7L459.2 48.1L458.7 41.8L458.1 39.8Z" fill="url(#gb51)" stroke="url(#gb51)" stroke-width="0.7"/>
<path d="M461.5 143.3L480.2 137.6L479.9 136L460.9 141.8Z" fill="#050547" stroke="#050547" stroke-width="0.7"/>
<path d="M375.2 171.3L388.4 167.1L398.9 163.4L406.8 160L412.1 157.3L417.3 153.8L422.6 149.3L425.2 146.5L427.9 143.2L430.5 139.3L433.1 134.7L435.8 129.4L438.4 123.3L443.3 109.1L446.1 99.3L448.9 88.4L457.4 51.9L458.8 46.9L459.5 45.2L458.8 42.4L457.4 46.7L455.9 52.5L447.4 90.4L442.4 108.7L440.2 115.3L437.4 123L434.7 129.2L432 134.4L429.4 138.9L426.7 142.7L424 145.9L421.3 148.7L416 153.1L410.6 156.4L405.3 159.1L397.3 162.3L386.6 166L373.2 170.2Z" fill="url(#gb52)" stroke="url(#gb52)" stroke-width="0.7"/>
<path d="M459.5 45.2L460 47L460.5 53.2L461.3 73.3L461.9 101.1L462.1 144.8L461.5 143.3L461.2 99.1L460.7 70.9L459.8 50.6L459.3 44.3L458.8 42.4Z" fill="url(#gb53)" stroke="url(#gb53)" stroke-width="0.7"/>
<path d="M462.1 144.8L480.6 139.2L480.2 137.6L461.5 143.3Z" fill="#050547" stroke="#050547" stroke-width="0.7"/>
<path d="M377.1 172.3L397.9 165.4L405.7 162.2L410.9 159.7L416.1 156.5L421.3 152.4L426.4 147L429 143.7L431.6 139.7L434.2 135.2L436.8 129.8L440.1 121.9L442.9 114.1L445.6 105.1L448.4 95L457.4 57.4L458.8 52.1L460.2 48.2L459.5 45.2L458.8 46.9L457.4 51.9L448.9 88.4L446.1 99.3L443.3 109.1L438.4 123.3L435.8 129.4L433.1 134.7L430.5 139.3L427.9 143.2L425.2 146.5L422.6 149.3L417.3 153.8L412.1 157.3L406.8 160L398.9 163.4L388.4 167.1L375.2 171.3Z" fill="url(#gb54)" stroke="url(#gb54)" stroke-width="0.7"/>
<path d="M460.2 48.2L460.7 50.1L461.2 56.2L462 75.9L462.5 103.3L462.8 146.3L462.1 144.8L461.9 101.1L461.3 73.3L460.5 53.2L460 47L459.5 45.2Z" fill="url(#gb55)" stroke="url(#gb55)" stroke-width="0.7"/>
<path d="M462.8 146.3L480.9 140.7L480.6 139.2L462.1 144.8Z" fill="#050547" stroke="#050547" stroke-width="0.7"/>
<path d="M379.1 173.4L391.9 169.2L399.5 166.5L407.2 163.2L412.3 160.6L417.4 157.3L422.5 153.2L427.6 147.7L430.1 144.3L432.7 140.3L435.2 135.7L437.8 130.4L441 122.6L443.7 114.9L446.5 106.1L449.9 93.7L458.7 57.7L460.1 53.1L460.7 51.6L461 52L460.4 48.6L460.2 48.2L459.5 49.9L458.1 54.6L449.1 92.3L445.6 105.1L442.9 114.1L440.1 121.9L436.8 129.8L434.2 135.2L431.6 139.7L429 143.7L426.4 147L421.3 152.4L416.1 156.5L410.9 159.7L405.7 162.2L397.9 165.4L377.1 172.3Z" fill="url(#gb56)" stroke="url(#gb56)" stroke-width="0.7"/>
<path d="M461 52L461.8 59.4L462.5 78.8L463 105.6L463.3 147.8L462.8 146.3L462.5 103.3L462 75.9L461.2 56.2L460.4 48.6Z" fill="url(#gb57)" stroke="url(#gb57)" stroke-width="0.7"/>
<path d="M463.3 147.8L481.2 142.3L480.9 140.7L462.8 146.3Z" fill="#050547" stroke="#050547" stroke-width="0.7"/>
<path d="M381.1 174.4L393.6 170.3L401.1 167.5L408.6 164.2L413.7 161.5L418.7 158.2L423.7 153.9L428.7 148.4L431.2 144.9L433.7 140.9L436.2 136.4L438.7 131.1L441.2 125.1L443.9 117.8L446.6 109.6L449.9 97.9L459.3 61L460.6 56.7L461.3 55.2L461.5 55.6L461 52L460.7 51.6L460.1 53.1L458.7 57.7L449.9 93.7L446.5 106.1L443.7 114.9L441 122.6L437.8 130.4L435.2 135.7L432.7 140.3L430.1 144.3L427.6 147.7L422.5 153.2L417.4 157.3L412.3 160.6L407.2 163.2L399.5 166.5L391.9 169.2L379.1 173.4Z" fill="url(#gb58)" stroke="url(#gb58)" stroke-width="0.7"/>
<path d="M461.5 55.6L462.3 62.8L463 81.8L463.5 108L463.8 149.3L463.3 147.8L463 105.6L462.5 78.8L461.8 59.4L461 52Z" fill="url(#gb59)" stroke="url(#gb59)" stroke-width="0.7"/>
<path d="M463.8 149.3L481.3 143.9L481.2 142.3L463.3 147.8Z" fill="#050547" stroke="#050547" stroke-width="0.7"/>
<path d="M383 175.4L395.3 171.3L402.7 168.5L410.1 165.2L415 162.5L419.9 159.1L424.8 154.8L429.8 149.2L432.2 145.7L437.1 137.2L439.6 132.1L444.7 119.1L447.3 111.1L450.6 99.8L459.8 64.6L461.1 60.5L461.7 59L462 59.2L461.5 55.6L461.3 55.2L460.6 56.7L459.3 61L449.9 97.9L446.6 109.6L443.9 117.8L441.2 125.1L438.7 131.1L436.2 136.4L433.7 140.9L431.2 144.9L428.7 148.4L423.7 153.9L418.7 158.2L413.7 161.5L408.6 164.2L401.1 167.5L393.6 170.3L381.1 174.4Z" fill="url(#gb60)" stroke="url(#gb60)" stroke-width="0.7"/>
<path d="M462 59.2L462.7 65.4L463.5 82.7L464.2 130.2L463.8 149.3L463.5 108L463 81.8L462.3 62.8L461.5 55.6Z" fill="url(#gb61)" stroke="url(#gb61)" stroke-width="0.7"/>
<path d="M464.2 130.2L464.4 150.7L481.4 145.6L481.3 143.9L463.8 149.3Z" fill="#050547" stroke="#050547" stroke-width="0.7"/>
<path d="M385 176.5L397.1 172.4L404.3 169.6L411.5 166.3L416.4 163.5L421.2 160.2L426 155.9L430.8 150.3L433.2 146.9L438.1 138.6L440.5 133.6L443.5 126.3L446.1 119.3L451.3 102.8L460.3 69.3L462.4 63L462 59.2L461.7 59L461.1 60.5L459.8 64.6L450.6 99.8L447.3 111.1L444.7 119.1L439.6 132.1L437.1 137.2L432.2 145.7L429.8 149.2L424.8 154.8L419.9 159.1L415 162.5L410.1 165.2L402.7 168.5L395.3 171.3L383 175.4Z" fill="url(#gb62)" stroke="url(#gb62)" stroke-width="0.7"/>
<path d="M462.4 63L462.7 63L462.9 63.8L463.2 65.6L463.9 77.3L464.4 92.8L464.8 124.1L464.4 150.7L463.9 106.1L463.5 82.7L462.7 65.4L462 59.2Z" fill="url(#gb63)" stroke="url(#gb63)" stroke-width="0.7"/>
<path d="M464.8 124.1L465.1 152.2L481.5 147.2L481.4 145.6L464.4 150.7Z" fill="#050547" stroke="#050547" stroke-width="0.7"/>
<path d="M387 177.5L398.8 173.5L405.9 170.7L413 167.4L417.7 164.6L422.4 161.2L427.2 157L431.9 151.5L434.2 148.2L439 140.2L441.3 135.4L444.3 128.4L446.8 121.6L452.5 103.8L460.7 74.2L462.6 68.4L463.3 67.2L462.9 63.8L462.7 63L462.4 63L460.9 67.1L451.3 102.8L448 113.5L445.5 121.1L440.5 133.6L438.1 138.6L433.2 146.9L430.8 150.3L426 155.9L421.2 160.2L416.4 163.5L411.5 166.3L404.3 169.6L397.1 172.4L385 176.5Z" fill="url(#gb64)" stroke="url(#gb64)" stroke-width="0.7"/>
<path d="M463.3 67.2L463.8 69.2L464.3 75.1L465 93.8L465.4 120.6L465.7 153.7L465.3 152.1L465.1 152.2L464.4 92.8L463.6 72.2L462.9 63.8Z" fill="url(#gb65)" stroke="url(#gb65)" stroke-width="0.7"/>
<path d="M465.7 153.7L481.5 148.9L481.5 147.2L465.3 152.1Z" fill="#050547" stroke="#050547" stroke-width="0.7"/>
<path d="M388.9 178.6L400.5 174.6L407.5 171.9L414.4 168.7L419 166L423.6 162.8L428.3 158.7L432.9 153.5L435.2 150.3L439.8 142.6L442.2 138L445.1 131.4L447.6 125L453.1 108L461.8 77.5L463 73.8L463.9 71.8L463.5 67.8L463.3 67.2L463.1 67.4L461.3 72.1L451.9 106L446.2 123.4L441.3 135.4L439 140.2L434.2 148.2L431.9 151.5L427.2 157L422.4 161.2L417.7 164.6L413 167.4L405.9 170.7L398.8 173.5L387 177.5Z" fill="url(#gb66)" stroke="url(#gb66)" stroke-width="0.7"/>
<path d="M463.9 71.8L464.4 73.4L464.8 78.6L465.5 95.4L466 118.6L466.2 155.2L465.9 153.6L465.7 153.7L465.4 120.6L465 93.8L464.3 75.1L463.5 67.8Z" fill="url(#gb67)" stroke="url(#gb67)" stroke-width="0.7"/>
<path d="M466.2 155.2L481.5 150.5L481.5 148.9L465.9 153.6Z" fill="#050547" stroke="#050547" stroke-width="0.7"/>
<path d="M390.9 179.7L402.2 175.8L409 173.2L415.8 170.1L420.3 167.5L424.9 164.4L429.4 160.6L433.9 155.6L436.2 152.6L440.7 145.4L443 141L445.8 134.7L448.2 128.7L453.7 112.6L462.7 81.4L464 77.9L464.5 77.1L464.7 77.2L464.4 73.4L463.9 71.8L462.4 75.6L452.5 110.1L446.9 126.7L442.2 138L439.8 142.6L435.2 150.3L432.9 153.5L428.3 158.7L423.6 162.8L419 166L414.4 168.7L407.5 171.9L400.5 174.6L388.9 178.6Z" fill="url(#gb68)" stroke="url(#gb68)" stroke-width="0.7"/>
<path d="M464.7 77.2L465.4 82.6L466 97.6L466.7 138.8L466.5 155.1L466.2 155.2L466 118.6L465.5 95.4L465.1 82.8L464.4 73.4Z" fill="url(#gb69)" stroke="url(#gb69)" stroke-width="0.7"/>
<path d="M466.7 138.8L467 156.6L481.4 152.2L481.5 150.5L466.5 155.1Z" fill="#050547" stroke="#050547" stroke-width="0.7"/>
<path d="M392.9 180.8L403.9 177L410.6 174.5L417.2 171.5L421.6 169.1L426 166.1L430.5 162.5L434.9 157.8L437.1 155L441.5 148.2L443.7 144.2L446.5 138.3L448.9 132.6L454.2 117.5L463 87.9L464.5 83.9L465.2 82.9L464.9 78.1L464.7 77.2L464.5 77.1L462.7 81.4L453.7 112.6L450.7 122L447.6 130.3L443 141L440.7 145.4L436.2 152.6L433.9 155.6L429.4 160.6L424.9 164.4L420.3 167.5L415.8 170.1L409 173.2L402.2 175.8L390.9 179.7Z" fill="url(#gb70)" stroke="url(#gb70)" stroke-width="0.7"/>
<path d="M465.2 82.9L465.8 87.4L466.5 100.7L467.1 134.5L467 156.6L466.3 106L465.6 86.3L464.9 78.1Z" fill="url(#gb71)" stroke="url(#gb71)" stroke-width="0.7"/>
<path d="M467.1 134.5L467.4 158.2L481.3 153.9L481.4 152.2L467 156.6Z" fill="#050547" stroke="#050547" stroke-width="0.7"/>
<path d="M394.8 181.8L405.6 178.2L412.1 175.8L418.6 172.9L422.9 170.7L427.2 167.9L431.5 164.5L435.9 160.2L438 157.6L442.3 151.4L444.5 147.7L449.5 137.1L454.7 123.2L463.9 94.1L465.4 90.5L465.7 90.3L465.9 90.8L465.6 85.1L465.4 83.6L465.2 82.9L464.9 83L463.6 86.1L454.2 117.5L451.2 126.3L448.3 134.1L443.7 144.2L441.5 148.2L437.1 155L434.9 157.8L430.5 162.5L426 166.1L421.6 169.1L417.2 171.5L410.6 174.5L403.9 177L392.9 180.8Z" fill="url(#gb72)" stroke="url(#gb72)" stroke-width="0.7"/>
<path d="M465.9 90.8L466.5 96.7L467.2 111.6L467.8 159.7L467.6 158.1L467.4 158.2L466.7 108.1L466.3 95L465.6 85.1Z" fill="url(#gb73)" stroke="url(#gb73)" stroke-width="0.7"/>
<path d="M467.8 159.7L481.2 155.6L481.3 153.9L467.6 158.1Z" fill="#050547" stroke="#050547" stroke-width="0.7"/>
<path d="M396.8 182.9L413.7 177.1L420 174.4L424.3 172.3L428.5 169.7L432.7 166.6L436.9 162.7L439 160.3L443.3 154.7L445.4 151.4L448 146.5L450.9 140.6L455.9 127.9L464.4 103L465.8 99.5L466.3 98.9L466.5 99.1L466.1 92L465.7 90.3L464.1 93.5L454.7 123.2L451.8 131.3L449 138.4L444.5 147.7L442.3 151.4L438 157.6L435.9 160.2L431.5 164.5L427.2 167.9L422.9 170.7L418.6 172.9L412.1 175.8L405.6 178.2L394.8 181.8Z" fill="url(#gb74)" stroke="url(#gb74)" stroke-width="0.7"/>
<path d="M466.5 99.1L467.1 103.9L467.8 116.4L468.2 133.8L468.4 161.2L468 159.6L467.8 159.7L467.2 111.6L466.7 100.4L466.1 92Z" fill="url(#gb75)" stroke="url(#gb75)" stroke-width="0.7"/>
<path d="M468.4 161.2L481.3 157.2L481.2 155.6L468 159.6Z" fill="#050547" stroke="#050547" stroke-width="0.7"/>
<path d="M398.8 184L415.3 178.4L421.5 175.8L425.6 173.8L429.8 171.5L433.9 168.6L438.1 165.1L440.1 163L444.3 158L446.3 155L448.9 150.7L451.7 145.5L457.2 132.8L465.1 111.5L466.6 108.3L467 107.7L467.2 107.8L466.7 100L466.3 98.9L464.8 101.9L455.9 127.9L453.1 135.3L450.3 141.9L445.4 151.4L443.3 154.7L439 160.3L436.9 162.7L432.7 166.6L428.5 169.7L424.3 172.3L420 174.4L413.7 177.1L396.8 182.9Z" fill="url(#gb76)" stroke="url(#gb76)" stroke-width="0.7"/>
<path d="M467.2 107.8L467.8 111.5L468.4 121.8L469.1 150.3L468.6 161.1L468.4 161.2L468.2 133.8L467.8 116.4L467.3 107L466.7 100Z" fill="url(#gb77)" stroke="url(#gb77)" stroke-width="0.7"/>
<path d="M469.1 150.3L469.3 162.6L481.5 158.8L481.3 157.2L468.6 161.1Z" fill="#050547" stroke="#050547" stroke-width="0.7"/>
<path d="M400.7 185.1L416.9 179.6L427 175.4L431.1 173.2L435.1 170.6L441.2 165.6L445.3 161.1L447.3 158.4L449.8 154.6L452.5 150L457.9 138.8L466.3 118.5L467.7 115.9L467.9 115.9L468.1 116.3L467.6 109.6L467.4 108.4L467 107.7L465.8 110L456.7 134.2L453.4 142L450.6 147.7L446.3 155L444.3 158L440.1 163L438.1 165.1L433.9 168.6L429.8 171.5L425.6 173.8L421.5 175.8L415.3 178.4L398.8 184Z" fill="url(#gb78)" stroke="url(#gb78)" stroke-width="0.7"/>
<path d="M468.1 116.3L468.7 120.8L469.1 127.1L469.7 148.8L469.3 162.6L468.7 127.6L468.2 117.4L467.6 109.6Z" fill="url(#gb79)" stroke="url(#gb79)" stroke-width="0.7"/>
<path d="M469.7 148.8L470 164L481.7 160.4L481.5 158.8L469.3 162.6Z" fill="#050547" stroke="#050547" stroke-width="0.7"/>
<path d="M402.7 186.1L418.5 180.9L428.4 176.9L432.4 174.9L436.3 172.5L442.2 167.9L446.2 163.9L448.2 161.5L453.3 154L458.6 144L467 125.4L468.3 123L468.5 122.9L468.7 123.1L468.3 117.2L468.1 116.3L467.9 115.9L467.7 115.9L466.5 118.1L457.4 140.1L452 151L447.3 158.4L445.3 161.1L441.2 165.6L435.1 170.6L431.1 173.2L427 175.4L416.9 179.6L400.7 185.1Z" fill="url(#gb80)" stroke="url(#gb80)" stroke-width="0.7"/>
<path d="M468.7 123.1L469.3 126.7L469.9 135.9L470.5 165.5L470.2 164L470 164L469.3 131.9L468.9 123.5L468.3 117.2Z" fill="url(#gb81)" stroke="url(#gb81)" stroke-width="0.7"/>
<path d="M470.5 165.5L481.8 162.1L481.7 160.4L470.2 164Z" fill="#050547" stroke="#050547" stroke-width="0.7"/>
<path d="M404.7 187.2L420.1 182.2L429.7 178.3L437.4 174.3L443.2 170.1L449 164.4L454 157.8L459.1 148.9L467.7 131.5L469 129.6L469.4 130.2L469.1 125L468.5 122.9L467.6 124.2L458.1 145.1L454.9 151.3L452.3 155.7L448.2 161.5L446.2 163.9L442.2 167.9L436.3 172.5L432.4 174.9L428.4 176.9L418.5 180.9L402.7 186.1Z" fill="url(#gb82)" stroke="url(#gb82)" stroke-width="0.7"/>
<path d="M469.4 130.2L470 134.4L470.6 144.3L471 167L470.7 165.5L470.5 165.5L469.9 135.9L469.1 125Z" fill="url(#gb83)" stroke="url(#gb83)" stroke-width="0.7"/>
<path d="M471 167L481.8 163.8L481.8 162.1L470.7 165.5Z" fill="#050547" stroke="#050547" stroke-width="0.7"/>
<path d="M406.6 188.3L421.6 183.4L431 179.8L438.5 176.1L444.1 172.3L449.8 167.2L454.7 161.3L459.7 153.6L468.3 137.5L469.5 136L469.8 136.4L470 137.1L469.8 132.5L469.2 129.7L469 129.6L468.7 130L466.5 133.7L459.1 148.9L455 156.2L452 160.7L449 164.4L443.2 170.1L437.4 174.3L429.7 178.3L420.1 182.2L404.7 187.2Z" fill="url(#gb84)" stroke="url(#gb84)" stroke-width="0.7"/>
<path d="M470 137.1L470.8 144.3L472.2 168.3L472 166.7L471 167L470.6 144.3L469.8 132.5Z" fill="url(#gb85)" stroke="url(#gb85)" stroke-width="0.7"/>
<path d="M472.2 168.3L481.7 165.4L481.8 163.8L472 166.7Z" fill="#050547" stroke="#050547" stroke-width="0.7"/>
<path d="M408.6 189.4L423.2 184.7L432.3 181.2L439.6 177.8L443.3 175.6L446.9 173L452.4 168L456.3 163.5L461.1 156.4L468.8 143.4L469.9 142.1L470.3 142.2L470.5 142.8L470.2 138.2L469.7 136L469.1 136.4L467 139.8L460.2 152.7L455.7 159.9L452.7 163.9L449.8 167.2L444.1 172.3L438.5 176.1L431 179.8L421.6 183.4L406.6 188.3Z" fill="url(#gb86)" stroke="url(#gb86)" stroke-width="0.7"/>
<path d="M470.5 142.8L471.2 148.5L472.4 169.9L472.2 168.3L470.8 144.3L470.2 138.2Z" fill="url(#gb87)" stroke="url(#gb87)" stroke-width="0.7"/>
<path d="M472.4 169.9L481.6 167.1L481.7 165.4L472.2 168.3Z" fill="#050547" stroke="#050547" stroke-width="0.7"/>
<path d="M410.6 190.4L424.8 185.9L433.6 182.7L440.7 179.5L444.3 177.5L447.8 175.2L453.2 170.8L456.5 167.3L461.2 161.2L469.7 148.5L470.6 147.6L471.1 148.8L470.8 144.8L470.3 142.2L470.1 142L469.5 142.5L467.5 145.5L460.7 157.1L456.3 163.5L453.4 167L450.6 169.9L445.1 174.4L439.6 177.8L432.3 181.2L423.2 184.7L408.6 189.4Z" fill="url(#gb88)" stroke="url(#gb88)" stroke-width="0.7"/>
<path d="M471.1 148.8L471.6 152.7L472.6 171.5L472.4 169.9L470.8 144.8Z" fill="url(#gb89)" stroke="url(#gb89)" stroke-width="0.7"/>
<path d="M472.6 171.5L481.6 168.8L481.6 167.1L472.4 169.9Z" fill="#050547" stroke="#050547" stroke-width="0.7"/>
<path d="M412.5 191.5L426.3 187.1L434.9 184.1L441.8 181.1L448.7 177.2L453.9 173.3L457.1 170.3L462.2 164.4L470 153.8L471 152.8L471.5 153.6L471.3 149.7L470.7 147.7L470.6 147.6L470.2 147.9L468.2 150.5L461.2 161.2L456.9 166.7L451.4 172.4L446.1 176.4L440.7 179.5L433.6 182.7L424.8 185.9L410.6 190.4Z" fill="url(#gb90)" stroke="url(#gb90)" stroke-width="0.7"/>
<path d="M471.5 153.6L471.8 155.3L472.8 173.1L472.6 171.5L471.6 152.7L471.3 149.7Z" fill="url(#gb91)" stroke="url(#gb91)" stroke-width="0.7"/>
<path d="M472.8 173.1L481.5 170.5L481.6 168.8L472.6 171.5Z" fill="#050547" stroke="#050547" stroke-width="0.7"/>
<path d="M414.5 192.6L427.9 188.4L436.2 185.4L442.9 182.7L449.6 179.2L454.6 175.7L459.1 171.8L463.1 167.4L471 157.9L471.5 157.6L472 158.7L471.8 155.3L471.3 153.1L471 152.8L470.6 153L468.7 155.3L462.2 164.4L458.1 169.3L455.3 172.1L452.2 174.7L447 178.3L441.8 181.1L434.9 184.1L426.3 187.1L412.5 191.5Z" fill="url(#gb92)" stroke="url(#gb92)" stroke-width="0.7"/>
<path d="M472 158.7L472.9 168.5L472.8 173.1L471.8 155.3Z" fill="url(#gb93)" stroke="url(#gb93)" stroke-width="0.7"/>
<path d="M472.9 168.5L473.9 174.5L481.3 172.2L481.5 170.5L472.8 173.1Z" fill="#050547" stroke="#050547" stroke-width="0.7"/>
<path d="M416.5 193.7L437.4 186.9L443.9 184.3L450.3 181.2L455.1 178.1L459 175.1L463.3 171L470.5 163.1L471.4 162.3L471.9 162.6L472 158.7L471.5 157.6L471 157.9L463.1 167.4L459.1 171.8L454.6 175.7L449.6 179.2L442.9 182.7L436.2 185.4L427.9 188.4L414.5 192.6Z" fill="url(#gb94)" stroke="url(#gb94)" stroke-width="0.7"/>
<path d="M471.9 162.6L472.8 167.9L473.7 176.2L473.9 174.5L472.9 168.5L472 158.7Z" fill="#000068" stroke="#000068" stroke-width="0.7"/>
<path d="M473.7 176.2L480.9 174L481.3 172.2L473.9 174.5Z" fill="#050547" stroke="#050547" stroke-width="0.7"/>
<path d="M418.4 194.7L437.1 188.8L447.9 184.6L454.2 181.4L459 178.1L463.2 174.7L471.6 166.8L471.9 166.8L472.7 169.6L472.8 167.9L471.9 162.6L471.4 162.3L469.6 163.9L463.3 171L459.9 174.3L455.1 178.1L450.3 181.2L443.9 184.3L437.4 186.9L416.5 193.7Z" fill="url(#gb95)" stroke="url(#gb95)" stroke-width="0.7"/>
<path d="M472.7 169.6L473.6 177.9L473.7 176.2L472.8 167.9Z" fill="url(#gb96)" stroke="url(#gb96)" stroke-width="0.7"/>
<path d="M473.6 177.9L480.6 175.8L480.9 174L473.7 176.2Z" fill="#050547" stroke="#050547" stroke-width="0.7"/>
<path d="M420.4 195.8L440 189.6L450.5 185.6L456.6 182.6L460.6 180.2L464.2 177.6L472.1 171.4L472.2 171.3L473.1 172.5L472.7 169.6L471.9 166.8L471.6 166.8L463.2 174.7L459 178.1L454.2 181.4L447.9 184.6L437.1 188.8L418.4 194.7Z" fill="url(#gb97)" stroke="url(#gb97)" stroke-width="0.7"/>
<path d="M473.1 172.5L473.9 179.5L473.6 177.9L472.7 169.6Z" fill="url(#gb98)" stroke="url(#gb98)" stroke-width="0.7"/>
<path d="M473.9 179.5L480.7 177.4L480.6 175.8L473.6 177.9Z" fill="#050547" stroke="#050547" stroke-width="0.7"/>
<g stroke-width="0.8" fill="none"><line x1="420.4" y1="195.8" x2="543.9" y2="158.1" stroke="#aaaaaa"/><line x1="420.4" y1="195.8" x2="323.8" y2="145.4" stroke="#aaaaaa"/><line x1="323.8" y1="145.4" x2="323.8" y2="37.2" stroke="#c4c4c4"/><line x1="435.8" y1="191.1" x2="433.9" y2="190.1" stroke="#444"/><line x1="470.5" y1="180.5" x2="468.6" y2="179.5" stroke="#444"/><line x1="505.2" y1="169.9" x2="503.3" y2="168.9" stroke="#444"/><line x1="539.9" y1="159.3" x2="537.9" y2="158.3" stroke="#444"/><line x1="407.4" y1="189" x2="409.2" y2="188.4" stroke="#444"/><line x1="385.5" y1="177.6" x2="387.4" y2="177" stroke="#444"/><line x1="363.7" y1="166.2" x2="365.5" y2="165.6" stroke="#444"/><line x1="341.8" y1="154.8" x2="343.7" y2="154.2" stroke="#444"/><line x1="323.8" y1="145.4" x2="322" y2="145.7" stroke="#444"/><line x1="323.8" y1="133.2" x2="322" y2="133.5" stroke="#444"/><line x1="323.8" y1="120.9" x2="322" y2="121.2" stroke="#444"/><line x1="323.8" y1="108.7" x2="322" y2="109" stroke="#444"/><line x1="323.8" y1="96.4" x2="322" y2="96.7" stroke="#444"/><line x1="323.8" y1="84.2" x2="322" y2="84.5" stroke="#444"/><line x1="323.8" y1="72" x2="322" y2="72.3" stroke="#444"/><line x1="323.8" y1="59.7" x2="322" y2="60" stroke="#444"/><line x1="323.8" y1="47.5" x2="322" y2="47.8" stroke="#444"/></g>
<g font-size="5.8" fill="#1a1a1a"><text x="320" y="147.5" text-anchor="end">0</text><text x="320" y="135.2" text-anchor="end">200</text><text x="320" y="123" text-anchor="end">400</text><text x="320" y="110.7" text-anchor="end">600</text><text x="320" y="98.5" text-anchor="end">800</text><text x="320" y="86.3" text-anchor="end">1000</text><text x="320" y="74" text-anchor="end">1200</text><text x="320" y="61.8" text-anchor="end">1400</text><text x="320" y="49.5" text-anchor="end">1600</text><text x="400.2" y="196.1" text-anchor="middle">0.6</text><text x="378.3" y="184.7" text-anchor="middle">0.8</text><text x="356.5" y="173.3" text-anchor="middle">1</text><text x="334.6" y="161.9" text-anchor="middle">1.2</text><text x="440" y="200.2" text-anchor="middle">-5</text><text x="474.7" y="189.6" text-anchor="middle">0</text><text x="509.4" y="179" text-anchor="middle">5</text><text x="544.1" y="168.4" text-anchor="middle">10</text></g>
<text x="332.8" y="208.2" font-size="8.85" fill="#111">Eq. Ratio</text>
<text x="477" y="211.2" font-size="8.97" fill="#111">Unscaled Progr. Variable</text>
<text x="304.2" y="94.4" font-size="8.8" text-anchor="middle" font-weight="bold" transform="rotate(-90 304.2 94.4)">PV Source Term</text>
<linearGradient id="cbb" x1="0" y1="0" x2="0" y2="1"><stop offset="0.000" stop-color="#800000"/><stop offset="0.125" stop-color="#ff0000"/><stop offset="0.375" stop-color="#ffff00"/><stop offset="0.625" stop-color="#00ffff"/><stop offset="0.875" stop-color="#0000ff"/><stop offset="1.000" stop-color="#000080"/></linearGradient>
<rect x="551.9" y="0.5" width="11.2" height="195.5" fill="url(#cbb)" stroke="#999" stroke-width="0.5"/>
<g stroke="#222" stroke-width="0.6"><line x1="551.9" y1="195.4" x2="553.2" y2="195.4"/><line x1="563.1" y1="195.4" x2="561.8" y2="195.4"/><line x1="551.9" y1="173.4" x2="553.2" y2="173.4"/><line x1="563.1" y1="173.4" x2="561.8" y2="173.4"/><line x1="551.9" y1="151.3" x2="553.2" y2="151.3"/><line x1="563.1" y1="151.3" x2="561.8" y2="151.3"/><line x1="551.9" y1="129.3" x2="553.2" y2="129.3"/><line x1="563.1" y1="129.3" x2="561.8" y2="129.3"/><line x1="551.9" y1="107.2" x2="553.2" y2="107.2"/><line x1="563.1" y1="107.2" x2="561.8" y2="107.2"/><line x1="551.9" y1="85.2" x2="553.2" y2="85.2"/><line x1="563.1" y1="85.2" x2="561.8" y2="85.2"/><line x1="551.9" y1="63.1" x2="553.2" y2="63.1"/><line x1="563.1" y1="63.1" x2="561.8" y2="63.1"/><line x1="551.9" y1="41.1" x2="553.2" y2="41.1"/><line x1="563.1" y1="41.1" x2="561.8" y2="41.1"/><line x1="551.9" y1="19" x2="553.2" y2="19"/><line x1="563.1" y1="19" x2="561.8" y2="19"/></g>
<g font-size="5.8" fill="#1a1a1a"><text x="565.4" y="197.5">0</text><text x="565.4" y="175.5">200</text><text x="565.4" y="153.4">400</text><text x="565.4" y="131.3">600</text><text x="565.4" y="109.3">800</text><text x="565.4" y="87.2">1000</text><text x="565.4" y="65.2">1200</text><text x="565.4" y="43.1">1400</text><text x="565.4" y="21.1">1600</text></g>
<g stroke="#e6e6f0" stroke-width="0.65" stroke-dasharray="2.2 1.3" fill="none"><line x1="42.9" y1="410.9" x2="42.9" y2="301.6" /><line x1="77.6" y1="400.3" x2="77.6" y2="291" /><line x1="112.3" y1="389.7" x2="112.3" y2="280.4" /><line x1="147" y1="379.1" x2="147" y2="269.8" /><line x1="27.5" y1="408.9" x2="151" y2="371.2" /><line x1="27.5" y1="397.7" x2="151" y2="360" /><line x1="27.5" y1="386.5" x2="151" y2="348.8" /><line x1="27.5" y1="375.3" x2="151" y2="337.6" /><line x1="27.5" y1="364.1" x2="151" y2="326.4" /><line x1="27.5" y1="352.9" x2="151" y2="315.2" /><line x1="27.5" y1="341.7" x2="151" y2="304" /><line x1="27.5" y1="330.5" x2="151" y2="292.8" /><line x1="27.5" y1="319.3" x2="151" y2="281.6" /><line x1="27.5" y1="308.1" x2="151" y2="270.4" /><line x1="233.7" y1="420.5" x2="233.7" y2="311.2" /><line x1="212.1" y1="409.3" x2="212.1" y2="300" /><line x1="190.5" y1="398.2" x2="190.5" y2="288.9" /><line x1="168.8" y1="387.1" x2="168.8" y2="277.8" /><line x1="246.6" y1="420.4" x2="151" y2="371.2" /><line x1="246.6" y1="409.2" x2="151" y2="360" /><line x1="246.6" y1="398" x2="151" y2="348.8" /><line x1="246.6" y1="386.8" x2="151" y2="337.6" /><line x1="246.6" y1="375.6" x2="151" y2="326.4" /><line x1="246.6" y1="364.4" x2="151" y2="315.2" /><line x1="246.6" y1="353.2" x2="151" y2="304" /><line x1="246.6" y1="342" x2="151" y2="292.8" /><line x1="246.6" y1="330.8" x2="151" y2="281.6" /><line x1="246.6" y1="319.6" x2="151" y2="270.4" /><line x1="138.5" y1="460.1" x2="42.9" y2="410.9" /><line x1="173.2" y1="449.5" x2="77.6" y2="400.3" /><line x1="207.9" y1="438.9" x2="112.3" y2="389.7" /><line x1="242.6" y1="428.3" x2="147" y2="379.1" /><line x1="110.2" y1="458.2" x2="233.7" y2="420.5" /><line x1="88.6" y1="447" x2="212.1" y2="409.3" /><line x1="67" y1="435.9" x2="190.5" y2="398.2" /><line x1="45.3" y1="424.8" x2="168.8" y2="387.1" /></g>
<defs><linearGradient id="gc0" gradientUnits="userSpaceOnUse" x1="31" y1="415.6" x2="78.4" y2="258.5"><stop offset="0" stop-color="#2328cd"/><stop offset=".119" stop-color="#2f40df"/><stop offset=".194" stop-color="#466deb"/><stop offset=".2" stop-color="#4d85d0"/><stop offset=".212" stop-color="#5fbf8f"/><stop offset=".225" stop-color="#53d1ce"/><stop offset=".231" stop-color="#4dd9e3"/><stop offset=".25" stop-color="#3be2f0"/><stop offset=".337" stop-color="#33ebf0"/><stop offset=".444" stop-color="#5ef2f0"/><stop offset=".488" stop-color="#a9f9f6"/><stop offset=".513" stop-color="#fafffc"/><stop offset=".569" stop-color="#ffffee"/><stop offset=".588" stop-color="#fcfc9f"/><stop offset=".62" stop-color="#fafa5d"/><stop offset=".639" stop-color="#faf952"/><stop offset=".783" stop-color="#fcea36"/><stop offset=".833" stop-color="#f9a92c"/><stop offset=".883" stop-color="#f0441d"/><stop offset=".969" stop-color="#df1209"/><stop offset="1" stop-color="#cf0c06"/></linearGradient><linearGradient id="gc1" gradientUnits="userSpaceOnUse" x1="33.6" y1="417" x2="80.2" y2="259"><stop offset="0" stop-color="#2328cd"/><stop offset=".119" stop-color="#3041df"/><stop offset=".188" stop-color="#456bea"/><stop offset=".194" stop-color="#4874e3"/><stop offset=".206" stop-color="#5bb19b"/><stop offset=".212" stop-color="#5cc39e"/><stop offset=".225" stop-color="#50d6df"/><stop offset=".25" stop-color="#3be2f0"/><stop offset=".338" stop-color="#35ebf0"/><stop offset=".438" stop-color="#5ef2f0"/><stop offset=".481" stop-color="#abfaf6"/><stop offset=".507" stop-color="#fafffc"/><stop offset=".557" stop-color="#fffff3"/><stop offset=".563" stop-color="#ffffe4"/><stop offset=".582" stop-color="#fcfc95"/><stop offset=".614" stop-color="#fafa56"/><stop offset=".771" stop-color="#fcea36"/><stop offset=".821" stop-color="#f9a72c"/><stop offset=".865" stop-color="#f04b1f"/><stop offset=".951" stop-color="#e11309"/><stop offset="1" stop-color="#c70905"/></linearGradient><linearGradient id="gc2" gradientUnits="userSpaceOnUse" x1="36.2" y1="418.4" x2="86.1" y2="259"><stop offset="0" stop-color="#2328cd"/><stop offset=".119" stop-color="#3042e0"/><stop offset=".187" stop-color="#456deb"/><stop offset=".194" stop-color="#4c82d4"/><stop offset=".206" stop-color="#5fbe8d"/><stop offset=".219" stop-color="#53d2ce"/><stop offset=".225" stop-color="#4dd9e3"/><stop offset=".244" stop-color="#3be2f0"/><stop offset=".331" stop-color="#34ebf0"/><stop offset=".431" stop-color="#5ef2f0"/><stop offset=".475" stop-color="#acfaf6"/><stop offset=".494" stop-color="#ebfefb"/><stop offset=".5" stop-color="#fafffc"/><stop offset=".551" stop-color="#fffff2"/><stop offset=".577" stop-color="#fcfc90"/><stop offset=".608" stop-color="#fafa55"/><stop offset=".76" stop-color="#fcea36"/><stop offset=".81" stop-color="#f9a62c"/><stop offset=".853" stop-color="#f0491e"/><stop offset=".939" stop-color="#e01209"/><stop offset="1" stop-color="#bf0603"/></linearGradient><linearGradient id="gc3" gradientUnits="userSpaceOnUse" x1="38.8" y1="419.8" x2="93" y2="259.2"><stop offset="0" stop-color="#2328cd"/><stop offset=".119" stop-color="#3143e0"/><stop offset=".188" stop-color="#466fea"/><stop offset=".2" stop-color="#5aada0"/><stop offset=".206" stop-color="#5cc29b"/><stop offset=".219" stop-color="#51d6dd"/><stop offset=".238" stop-color="#3ce1f0"/><stop offset=".325" stop-color="#34ebf0"/><stop offset=".431" stop-color="#65f3f0"/><stop offset=".469" stop-color="#abfaf6"/><stop offset=".488" stop-color="#ebfefb"/><stop offset=".494" stop-color="#fafffc"/><stop offset=".545" stop-color="#fffff1"/><stop offset=".564" stop-color="#fcfc9d"/><stop offset=".596" stop-color="#fafa58"/><stop offset=".748" stop-color="#fceb37"/><stop offset=".798" stop-color="#f9a62c"/><stop offset=".842" stop-color="#f0471e"/><stop offset=".928" stop-color="#df1209"/><stop offset="1" stop-color="#b80402"/></linearGradient><linearGradient id="gc4" gradientUnits="userSpaceOnUse" x1="41.4" y1="421.2" x2="93.5" y2="260"><stop offset="0" stop-color="#2328cd"/><stop offset=".112" stop-color="#2f40df"/><stop offset=".181" stop-color="#456bea"/><stop offset=".187" stop-color="#4a79dd"/><stop offset=".2" stop-color="#5db893"/><stop offset=".206" stop-color="#5ac6a8"/><stop offset=".219" stop-color="#4ed8e3"/><stop offset=".237" stop-color="#3be2f0"/><stop offset=".325" stop-color="#35ebf0"/><stop offset=".425" stop-color="#62f2f0"/><stop offset=".463" stop-color="#a9f9f6"/><stop offset=".488" stop-color="#fafffc"/><stop offset=".539" stop-color="#ffffee"/><stop offset=".559" stop-color="#fcfc99"/><stop offset=".591" stop-color="#fafa55"/><stop offset=".738" stop-color="#fced37"/><stop offset=".788" stop-color="#f9a62c"/><stop offset=".831" stop-color="#f0471e"/><stop offset=".917" stop-color="#df1209"/><stop offset="1" stop-color="#b20101"/></linearGradient><linearGradient id="gc5" gradientUnits="userSpaceOnUse" x1="44" y1="422.5" x2="93.1" y2="260.9"><stop offset="0" stop-color="#2328cd"/><stop offset=".112" stop-color="#2f41df"/><stop offset=".181" stop-color="#456deb"/><stop offset=".188" stop-color="#4d84d1"/><stop offset=".194" stop-color="#57a4ab"/><stop offset=".2" stop-color="#5ec092"/><stop offset=".212" stop-color="#52d4d6"/><stop offset=".219" stop-color="#4bdae5"/><stop offset=".237" stop-color="#3be2f0"/><stop offset=".319" stop-color="#34ebf0"/><stop offset=".419" stop-color="#5ff2f0"/><stop offset=".463" stop-color="#b7fbf7"/><stop offset=".482" stop-color="#fafffc"/><stop offset=".527" stop-color="#fefff3"/><stop offset=".534" stop-color="#ffffec"/><stop offset=".553" stop-color="#fcfc95"/><stop offset=".585" stop-color="#fafa55"/><stop offset=".727" stop-color="#fcee37"/><stop offset=".778" stop-color="#f9a62c"/><stop offset=".821" stop-color="#f0461e"/><stop offset=".906" stop-color="#de1209"/><stop offset="1" stop-color="#ab0000"/></linearGradient><linearGradient id="gc6" gradientUnits="userSpaceOnUse" x1="46.6" y1="423.9" x2="96.8" y2="261.4"><stop offset="0" stop-color="#2328cd"/><stop offset=".113" stop-color="#3042df"/><stop offset=".181" stop-color="#466eeb"/><stop offset=".194" stop-color="#5aaf9e"/><stop offset=".2" stop-color="#5cc39e"/><stop offset=".212" stop-color="#50d7e1"/><stop offset=".231" stop-color="#3ce1f0"/><stop offset=".319" stop-color="#36ecf0"/><stop offset=".412" stop-color="#5ef2f0"/><stop offset=".456" stop-color="#b2faf6"/><stop offset=".476" stop-color="#f9fffc"/><stop offset=".521" stop-color="#fefff3"/><stop offset=".528" stop-color="#ffffec"/><stop offset=".547" stop-color="#fcfc94"/><stop offset=".574" stop-color="#fafa5b"/><stop offset=".6" stop-color="#faf850"/><stop offset=".717" stop-color="#fcee37"/><stop offset=".768" stop-color="#f9a62c"/><stop offset=".811" stop-color="#f0451e"/><stop offset=".897" stop-color="#dd1109"/><stop offset="1" stop-color="#a40000"/></linearGradient><linearGradient id="gc7" gradientUnits="userSpaceOnUse" x1="49.2" y1="425.3" x2="104.6" y2="261.8"><stop offset="0" stop-color="#2328cd"/><stop offset=".113" stop-color="#3042e0"/><stop offset=".175" stop-color="#456bea"/><stop offset=".181" stop-color="#4977e0"/><stop offset=".194" stop-color="#5db893"/><stop offset=".2" stop-color="#5ac6a8"/><stop offset=".213" stop-color="#4dd8e3"/><stop offset=".231" stop-color="#3be2f0"/><stop offset=".312" stop-color="#34ebf0"/><stop offset=".413" stop-color="#63f2f0"/><stop offset=".45" stop-color="#acfaf6"/><stop offset=".469" stop-color="#f1fefb"/><stop offset=".482" stop-color="#fbfffa"/><stop offset=".522" stop-color="#ffffef"/><stop offset=".542" stop-color="#fcfc94"/><stop offset=".568" stop-color="#fafa5a"/><stop offset=".707" stop-color="#fcee37"/><stop offset=".758" stop-color="#f9a62c"/><stop offset=".802" stop-color="#f0451d"/><stop offset=".881" stop-color="#e01209"/><stop offset="1" stop-color="#9e0000"/></linearGradient><linearGradient id="gc8" gradientUnits="userSpaceOnUse" x1="51.8" y1="426.7" x2="112.5" y2="262.7"><stop offset="0" stop-color="#2328cd"/><stop offset=".106" stop-color="#2e3fdf"/><stop offset=".175" stop-color="#456cea"/><stop offset=".181" stop-color="#4b7ed8"/><stop offset=".194" stop-color="#5fbe8e"/><stop offset=".206" stop-color="#52d3d3"/><stop offset=".213" stop-color="#4bd9e5"/><stop offset=".231" stop-color="#3be2f0"/><stop offset=".313" stop-color="#35ebf0"/><stop offset=".406" stop-color="#5ff2f0"/><stop offset=".45" stop-color="#b6faf7"/><stop offset=".469" stop-color="#fafffc"/><stop offset=".516" stop-color="#fffff2"/><stop offset=".536" stop-color="#fcfc97"/><stop offset=".563" stop-color="#fafa5a"/><stop offset=".677" stop-color="#fcf03c"/><stop offset=".703" stop-color="#fceb37"/><stop offset=".749" stop-color="#f9a82c"/><stop offset=".793" stop-color="#f0441d"/><stop offset=".872" stop-color="#df1209"/><stop offset=".99" stop-color="#9f0000"/><stop offset="1" stop-color="#990000"/></linearGradient><linearGradient id="gc9" gradientUnits="userSpaceOnUse" x1="54.4" y1="428.1" x2="114" y2="263.8"><stop offset="0" stop-color="#2328cd"/><stop offset=".112" stop-color="#3143e0"/><stop offset=".175" stop-color="#456deb"/><stop offset=".181" stop-color="#4d83d2"/><stop offset=".187" stop-color="#57a4aa"/><stop offset=".194" stop-color="#5ec094"/><stop offset=".206" stop-color="#51d5da"/><stop offset=".219" stop-color="#41deec"/><stop offset=".306" stop-color="#33ebf0"/><stop offset=".406" stop-color="#61f2f0"/><stop offset=".444" stop-color="#acfaf6"/><stop offset=".463" stop-color="#f1fefb"/><stop offset=".476" stop-color="#fbfffa"/><stop offset=".51" stop-color="#fffff3"/><stop offset=".517" stop-color="#ffffe3"/><stop offset=".53" stop-color="#fcfca1"/><stop offset=".558" stop-color="#fafa5d"/><stop offset=".572" stop-color="#faf953"/><stop offset=".694" stop-color="#fcee37"/><stop offset=".74" stop-color="#faac2d"/><stop offset=".785" stop-color="#f0451e"/><stop offset=".865" stop-color="#df1209"/><stop offset=".98" stop-color="#a00000"/><stop offset="1" stop-color="#950000"/></linearGradient><linearGradient id="gc10" gradientUnits="userSpaceOnUse" x1="57" y1="429.5" x2="114.2" y2="264.9"><stop offset="0" stop-color="#2328cd"/><stop offset=".106" stop-color="#2f40df"/><stop offset=".175" stop-color="#466deb"/><stop offset=".181" stop-color="#4e88cc"/><stop offset=".187" stop-color="#59aaa4"/><stop offset=".194" stop-color="#5dc299"/><stop offset=".206" stop-color="#50d7e0"/><stop offset=".225" stop-color="#3ce1f0"/><stop offset=".306" stop-color="#34ebf0"/><stop offset=".4" stop-color="#5ef2f0"/><stop offset=".444" stop-color="#b1faf6"/><stop offset=".463" stop-color="#fafffc"/><stop offset=".511" stop-color="#fffff1"/><stop offset=".532" stop-color="#fcfc91"/><stop offset=".56" stop-color="#fafa55"/><stop offset=".692" stop-color="#fcea36"/><stop offset=".732" stop-color="#fab02d"/><stop offset=".778" stop-color="#f0451e"/><stop offset=".852" stop-color="#e11309"/><stop offset=".972" stop-color="#a00000"/><stop offset="1" stop-color="#910000"/></linearGradient><linearGradient id="gc11" gradientUnits="userSpaceOnUse" x1="59.6" y1="430.9" x2="120.6" y2="266.2"><stop offset="0" stop-color="#2328cd"/><stop offset=".106" stop-color="#2f40df"/><stop offset=".175" stop-color="#466eeb"/><stop offset=".187" stop-color="#5aae9f"/><stop offset=".194" stop-color="#5cc39e"/><stop offset=".206" stop-color="#4fd7e2"/><stop offset=".225" stop-color="#3be2f0"/><stop offset=".306" stop-color="#34ebf0"/><stop offset=".4" stop-color="#5ef2f0"/><stop offset=".444" stop-color="#b8fbf7"/><stop offset=".456" stop-color="#e8fefb"/><stop offset=".463" stop-color="#fafffc"/><stop offset=".504" stop-color="#fffff3"/><stop offset=".512" stop-color="#fefee0"/><stop offset=".526" stop-color="#fcfc9a"/><stop offset=".554" stop-color="#fafa55"/><stop offset=".682" stop-color="#fcee37"/><stop offset=".73" stop-color="#f9a52c"/><stop offset=".77" stop-color="#f0451e"/><stop offset=".845" stop-color="#e01309"/><stop offset=".959" stop-color="#a20000"/><stop offset="1" stop-color="#8e0000"/></linearGradient><linearGradient id="gc12" gradientUnits="userSpaceOnUse" x1="62.1" y1="432.2" x2="131.5" y2="268.3"><stop offset="0" stop-color="#2328cd"/><stop offset=".106" stop-color="#2f40df"/><stop offset=".175" stop-color="#466eeb"/><stop offset=".188" stop-color="#5bb09c"/><stop offset=".194" stop-color="#5bc4a1"/><stop offset=".206" stop-color="#4ed8e2"/><stop offset=".225" stop-color="#3be2f0"/><stop offset=".306" stop-color="#35ebf0"/><stop offset=".4" stop-color="#5ff2f0"/><stop offset=".438" stop-color="#aaf9f6"/><stop offset=".456" stop-color="#edfefb"/><stop offset=".463" stop-color="#fafffb"/><stop offset=".505" stop-color="#fffff2"/><stop offset=".527" stop-color="#fcfc90"/><stop offset=".548" stop-color="#fafa5c"/><stop offset=".57" stop-color="#faf850"/><stop offset=".679" stop-color="#fced37"/><stop offset=".721" stop-color="#faad2d"/><stop offset=".761" stop-color="#f0481e"/><stop offset=".838" stop-color="#e01209"/><stop offset=".957" stop-color="#a00000"/><stop offset="1" stop-color="#8c0000"/></linearGradient><linearGradient id="gc13" gradientUnits="userSpaceOnUse" x1="64.7" y1="433.6" x2="158.6" y2="276.8"><stop offset="0" stop-color="#2328cd"/><stop offset=".106" stop-color="#2f40df"/><stop offset=".175" stop-color="#466eeb"/><stop offset=".187" stop-color="#5aaf9e"/><stop offset=".194" stop-color="#5cc4a0"/><stop offset=".206" stop-color="#4fd8e2"/><stop offset=".225" stop-color="#3be2f0"/><stop offset=".306" stop-color="#35ebf0"/><stop offset=".4" stop-color="#5ff2f0"/><stop offset=".438" stop-color="#a9f9f6"/><stop offset=".457" stop-color="#ebfefb"/><stop offset=".463" stop-color="#fafffb"/><stop offset=".505" stop-color="#fffff2"/><stop offset=".52" stop-color="#fdfda8"/><stop offset=".527" stop-color="#fcfc8d"/><stop offset=".549" stop-color="#fafa57"/><stop offset=".673" stop-color="#fcee37"/><stop offset=".715" stop-color="#faab2c"/><stop offset=".756" stop-color="#f0451e"/><stop offset=".828" stop-color="#e11309"/><stop offset=".949" stop-color="#a10000"/><stop offset="1" stop-color="#8d0000"/></linearGradient><linearGradient id="gc14" gradientUnits="userSpaceOnUse" x1="67.3" y1="435" x2="194" y2="304.1"><stop offset="0" stop-color="#2328cd"/><stop offset=".106" stop-color="#2f3fdf"/><stop offset=".175" stop-color="#456deb"/><stop offset=".181" stop-color="#4d85cf"/><stop offset=".188" stop-color="#58a6a8"/><stop offset=".194" stop-color="#5dc196"/><stop offset=".206" stop-color="#51d5dc"/><stop offset=".225" stop-color="#3ce1f0"/><stop offset=".306" stop-color="#33ebf0"/><stop offset=".406" stop-color="#63f2f0"/><stop offset=".444" stop-color="#adfaf6"/><stop offset=".463" stop-color="#f7fffc"/><stop offset=".505" stop-color="#fffff3"/><stop offset=".512" stop-color="#fefedc"/><stop offset=".527" stop-color="#fcfc92"/><stop offset=".548" stop-color="#fafa5b"/><stop offset=".599" stop-color="#fbf549"/><stop offset=".672" stop-color="#fcec37"/><stop offset=".714" stop-color="#f9a52c"/><stop offset=".748" stop-color="#f14d1f"/><stop offset=".813" stop-color="#e5170b"/><stop offset=".943" stop-color="#a50000"/><stop offset="1" stop-color="#930000"/></linearGradient><linearGradient id="gc15" gradientUnits="userSpaceOnUse" x1="69.9" y1="436.4" x2="211.9" y2="338.6"><stop offset="0" stop-color="#2328cd"/><stop offset=".113" stop-color="#3042e0"/><stop offset=".175" stop-color="#456bea"/><stop offset=".181" stop-color="#4977e1"/><stop offset=".194" stop-color="#5db894"/><stop offset=".2" stop-color="#5ac6a8"/><stop offset=".212" stop-color="#4dd8e3"/><stop offset=".231" stop-color="#3be2f0"/><stop offset=".313" stop-color="#34ebf0"/><stop offset=".412" stop-color="#63f2f0"/><stop offset=".45" stop-color="#acfaf6"/><stop offset=".47" stop-color="#fafffc"/><stop offset=".512" stop-color="#fffff2"/><stop offset=".526" stop-color="#fdfda9"/><stop offset=".533" stop-color="#fcfc8c"/><stop offset=".555" stop-color="#fafa55"/><stop offset=".669" stop-color="#fcee37"/><stop offset=".711" stop-color="#faab2c"/><stop offset=".752" stop-color="#f0451d"/><stop offset=".823" stop-color="#e11309"/><stop offset=".951" stop-color="#a70000"/><stop offset="1" stop-color="#9e0000"/></linearGradient><linearGradient id="gc16" gradientUnits="userSpaceOnUse" x1="72.5" y1="437.8" x2="214.3" y2="350.9"><stop offset="0" stop-color="#2328cd"/><stop offset=".112" stop-color="#3041df"/><stop offset=".181" stop-color="#456deb"/><stop offset=".188" stop-color="#4d85d0"/><stop offset=".194" stop-color="#57a5aa"/><stop offset=".2" stop-color="#5ec093"/><stop offset=".212" stop-color="#52d4d7"/><stop offset=".225" stop-color="#42deeb"/><stop offset=".269" stop-color="#37e6f0"/><stop offset=".319" stop-color="#34ebf0"/><stop offset=".419" stop-color="#60f2f0"/><stop offset=".456" stop-color="#a9f9f6"/><stop offset=".477" stop-color="#f8fffc"/><stop offset=".519" stop-color="#fffff2"/><stop offset=".533" stop-color="#fcfca5"/><stop offset=".548" stop-color="#fbfb77"/><stop offset=".562" stop-color="#fafa55"/><stop offset=".677" stop-color="#fced37"/><stop offset=".719" stop-color="#f9a62c"/><stop offset=".753" stop-color="#f14e1f"/><stop offset=".773" stop-color="#ed3919"/><stop offset=".83" stop-color="#e2130a"/><stop offset=".941" stop-color="#b20101"/><stop offset="1" stop-color="#aa0000"/></linearGradient><linearGradient id="gc17" gradientUnits="userSpaceOnUse" x1="75.1" y1="439.2" x2="214.4" y2="355.8"><stop offset="0" stop-color="#2328cd"/><stop offset=".113" stop-color="#2f40df"/><stop offset=".181" stop-color="#446bea"/><stop offset=".188" stop-color="#4873e5"/><stop offset=".2" stop-color="#5bb19b"/><stop offset=".206" stop-color="#5bc4a0"/><stop offset=".219" stop-color="#50d7e1"/><stop offset=".238" stop-color="#3ce1f0"/><stop offset=".325" stop-color="#34ebf0"/><stop offset=".425" stop-color="#5ef2f0"/><stop offset=".463" stop-color="#a7f9f5"/><stop offset=".477" stop-color="#d9fdf9"/><stop offset=".484" stop-color="#f7fffc"/><stop offset=".527" stop-color="#fffff2"/><stop offset=".541" stop-color="#fcfca1"/><stop offset=".563" stop-color="#fafa62"/><stop offset=".571" stop-color="#fafa54"/><stop offset=".686" stop-color="#fceb37"/><stop offset=".728" stop-color="#f9a42b"/><stop offset=".762" stop-color="#f14e1f"/><stop offset=".782" stop-color="#ed3a19"/><stop offset=".844" stop-color="#e01209"/><stop offset=".948" stop-color="#b90402"/><stop offset="1" stop-color="#b60301"/></linearGradient><linearGradient id="gc18" gradientUnits="userSpaceOnUse" x1="77.7" y1="440.6" x2="213.5" y2="354.8"><stop offset="0" stop-color="#2328cd"/><stop offset=".119" stop-color="#3042e0"/><stop offset=".188" stop-color="#456deb"/><stop offset=".194" stop-color="#4c81d4"/><stop offset=".206" stop-color="#5fbe8d"/><stop offset=".219" stop-color="#53d1ce"/><stop offset=".225" stop-color="#4dd9e3"/><stop offset=".244" stop-color="#3be2f0"/><stop offset=".331" stop-color="#34ebf0"/><stop offset=".431" stop-color="#5ef2f0"/><stop offset=".47" stop-color="#a7f9f5"/><stop offset=".484" stop-color="#dbfdfa"/><stop offset=".491" stop-color="#fafffc"/><stop offset=".535" stop-color="#ffffec"/><stop offset=".55" stop-color="#fcfc9a"/><stop offset=".572" stop-color="#fafa5e"/><stop offset=".587" stop-color="#faf952"/><stop offset=".696" stop-color="#fce936"/><stop offset=".738" stop-color="#f9a22b"/><stop offset=".772" stop-color="#f14e1f"/><stop offset=".817" stop-color="#e92812"/><stop offset=".866" stop-color="#dc1109"/><stop offset=".959" stop-color="#be0603"/><stop offset="1" stop-color="#bf0603"/></linearGradient><linearGradient id="gc19" gradientUnits="userSpaceOnUse" x1="80.3" y1="441.9" x2="214.9" y2="365.5"><stop offset="0" stop-color="#2328cd"/><stop offset=".119" stop-color="#2f41df"/><stop offset=".194" stop-color="#4770e9"/><stop offset=".206" stop-color="#59aca1"/><stop offset=".213" stop-color="#5dc299"/><stop offset=".225" stop-color="#51d5d9"/><stop offset=".244" stop-color="#3ce1f0"/><stop offset=".338" stop-color="#34ebf0"/><stop offset=".444" stop-color="#62f2f0"/><stop offset=".477" stop-color="#a7f9f5"/><stop offset=".491" stop-color="#dcfdfa"/><stop offset=".498" stop-color="#fafffc"/><stop offset=".535" stop-color="#fefff3"/><stop offset=".542" stop-color="#ffffe8"/><stop offset=".557" stop-color="#fcfc97"/><stop offset=".579" stop-color="#fafa5c"/><stop offset=".609" stop-color="#faf74e"/><stop offset=".703" stop-color="#fcea36"/><stop offset=".744" stop-color="#f9a62c"/><stop offset=".785" stop-color="#f0461e"/><stop offset=".865" stop-color="#e3130a"/><stop offset=".954" stop-color="#c70905"/><stop offset="1" stop-color="#c90a05"/></linearGradient><linearGradient id="gc20" gradientUnits="userSpaceOnUse" x1="82.9" y1="443.3" x2="215.2" y2="376.5"><stop offset="0" stop-color="#2328cd"/><stop offset=".125" stop-color="#3143e0"/><stop offset=".194" stop-color="#456cea"/><stop offset=".2" stop-color="#4a7bdb"/><stop offset=".213" stop-color="#5db695"/><stop offset=".219" stop-color="#5bc5a3"/><stop offset=".231" stop-color="#50d7e1"/><stop offset=".256" stop-color="#3be2f0"/><stop offset=".344" stop-color="#34ebf0"/><stop offset=".45" stop-color="#5ff2f0"/><stop offset=".484" stop-color="#a6f9f5"/><stop offset=".491" stop-color="#bbfbf7"/><stop offset=".505" stop-color="#f9fffc"/><stop offset=".542" stop-color="#fefff3"/><stop offset=".549" stop-color="#ffffeb"/><stop offset=".564" stop-color="#fcfc9a"/><stop offset=".586" stop-color="#fafa5e"/><stop offset=".6" stop-color="#faf952"/><stop offset=".708" stop-color="#fcee37"/><stop offset=".75" stop-color="#fab02d"/><stop offset=".796" stop-color="#f0461e"/><stop offset=".887" stop-color="#e2130a"/><stop offset=".976" stop-color="#d00c06"/><stop offset="1" stop-color="#d40e07"/></linearGradient><linearGradient id="gc21" gradientUnits="userSpaceOnUse" x1="85.5" y1="444.7" x2="214.8" y2="384.1"><stop offset="0" stop-color="#2328cd"/><stop offset=".125" stop-color="#3042df"/><stop offset=".2" stop-color="#466deb"/><stop offset=".213" stop-color="#56a1ae"/><stop offset=".219" stop-color="#5fbe8c"/><stop offset=".231" stop-color="#54d0ca"/><stop offset=".238" stop-color="#4ed8e2"/><stop offset=".263" stop-color="#3be2f0"/><stop offset=".35" stop-color="#34ebf0"/><stop offset=".457" stop-color="#5ef2f0"/><stop offset=".491" stop-color="#a3f9f5"/><stop offset=".498" stop-color="#b7fbf7"/><stop offset=".512" stop-color="#f5fffc"/><stop offset=".556" stop-color="#fffff2"/><stop offset=".571" stop-color="#fcfca3"/><stop offset=".585" stop-color="#fbfb76"/><stop offset=".6" stop-color="#fafa55"/><stop offset=".721" stop-color="#fced37"/><stop offset=".769" stop-color="#f9a32b"/><stop offset=".808" stop-color="#f14d1f"/><stop offset=".851" stop-color="#ea2e15"/><stop offset=".918" stop-color="#e1130a"/><stop offset=".992" stop-color="#dd1109"/><stop offset="1" stop-color="#df1209"/></linearGradient><linearGradient id="gc22" gradientUnits="userSpaceOnUse" x1="88.1" y1="446.1" x2="214" y2="390.2"><stop offset="0" stop-color="#2328cd"/><stop offset=".125" stop-color="#2f40df"/><stop offset=".206" stop-color="#466fe9"/><stop offset=".219" stop-color="#58a8a6"/><stop offset=".225" stop-color="#5ec093"/><stop offset=".238" stop-color="#53d2cf"/><stop offset=".244" stop-color="#4dd8e3"/><stop offset=".262" stop-color="#3ce1f0"/><stop offset=".356" stop-color="#33ebf0"/><stop offset=".47" stop-color="#63f2f0"/><stop offset=".505" stop-color="#b1faf6"/><stop offset=".519" stop-color="#eefefb"/><stop offset=".527" stop-color="#fbfffb"/><stop offset=".563" stop-color="#fffff3"/><stop offset=".57" stop-color="#fefed9"/><stop offset=".585" stop-color="#fcfc91"/><stop offset=".606" stop-color="#fafa5a"/><stop offset=".734" stop-color="#fcee37"/><stop offset=".78" stop-color="#faad2d"/><stop offset=".831" stop-color="#f0461e"/><stop offset=".927" stop-color="#e61c0d"/><stop offset=".992" stop-color="#e5190c"/><stop offset="1" stop-color="#e61b0d"/></linearGradient><linearGradient id="gc23" gradientUnits="userSpaceOnUse" x1="90.7" y1="447.5" x2="213.2" y2="395.8"><stop offset="0" stop-color="#2328cd"/><stop offset=".131" stop-color="#3042e0"/><stop offset=".206" stop-color="#456cea"/><stop offset=".212" stop-color="#4976e1"/><stop offset=".225" stop-color="#5aae9f"/><stop offset=".231" stop-color="#5dc298"/><stop offset=".244" stop-color="#52d3d3"/><stop offset=".25" stop-color="#4cd9e4"/><stop offset=".269" stop-color="#3ce1f0"/><stop offset=".369" stop-color="#35ebf0"/><stop offset=".477" stop-color="#5ff2f0"/><stop offset=".512" stop-color="#abfaf6"/><stop offset=".533" stop-color="#fafffc"/><stop offset=".577" stop-color="#ffffec"/><stop offset=".591" stop-color="#fcfca0"/><stop offset=".62" stop-color="#fafa55"/><stop offset=".752" stop-color="#fcec37"/><stop offset=".804" stop-color="#f9a52c"/><stop offset=".853" stop-color="#f04a1f"/><stop offset=".931" stop-color="#e92913"/><stop offset="1" stop-color="#e92912"/></linearGradient><linearGradient id="gc24" gradientUnits="userSpaceOnUse" x1="93.3" y1="448.9" x2="212.2" y2="401.1"><stop offset="0" stop-color="#2328cd"/><stop offset=".131" stop-color="#2f40df"/><stop offset=".212" stop-color="#456ceb"/><stop offset=".219" stop-color="#4b7dda"/><stop offset=".231" stop-color="#5bb399"/><stop offset=".237" stop-color="#5cc39d"/><stop offset=".25" stop-color="#52d4d6"/><stop offset=".256" stop-color="#4cd9e4"/><stop offset=".275" stop-color="#3ce1f0"/><stop offset=".375" stop-color="#34ebf0"/><stop offset=".484" stop-color="#5ef2f0"/><stop offset=".519" stop-color="#a6f9f5"/><stop offset=".533" stop-color="#d8fdf9"/><stop offset=".54" stop-color="#f5fffc"/><stop offset=".583" stop-color="#fffff3"/><stop offset=".59" stop-color="#fefedf"/><stop offset=".604" stop-color="#fcfc97"/><stop offset=".633" stop-color="#fafa55"/><stop offset=".77" stop-color="#fcee37"/><stop offset=".827" stop-color="#f9a62c"/><stop offset=".886" stop-color="#f0491e"/><stop offset=".964" stop-color="#ec3317"/><stop offset="1" stop-color="#ec3618"/></linearGradient><linearGradient id="gc25" gradientUnits="userSpaceOnUse" x1="95.9" y1="450.3" x2="211.1" y2="405.5"><stop offset="0" stop-color="#2328cd"/><stop offset=".138" stop-color="#3042e0"/><stop offset=".219" stop-color="#466deb"/><stop offset=".231" stop-color="#559db3"/><stop offset=".237" stop-color="#5db794"/><stop offset=".244" stop-color="#5bc4a1"/><stop offset=".256" stop-color="#51d5d9"/><stop offset=".269" stop-color="#45ddea"/><stop offset=".294" stop-color="#3ae3f0"/><stop offset=".381" stop-color="#33ebf0"/><stop offset=".49" stop-color="#5df2f0"/><stop offset=".511" stop-color="#82f5f3"/><stop offset=".532" stop-color="#aefaf6"/><stop offset=".546" stop-color="#e6fefa"/><stop offset=".553" stop-color="#fafffc"/><stop offset=".596" stop-color="#fffff2"/><stop offset=".603" stop-color="#fefeda"/><stop offset=".617" stop-color="#fcfc95"/><stop offset=".645" stop-color="#fafa55"/><stop offset=".793" stop-color="#fcec37"/><stop offset=".86" stop-color="#f89f2b"/><stop offset=".917" stop-color="#f25720"/><stop offset=".948" stop-color="#ef441d"/><stop offset="1" stop-color="#ef431d"/></linearGradient><linearGradient id="gc26" gradientUnits="userSpaceOnUse" x1="98.5" y1="451.6" x2="211.1" y2="403.6"><stop offset="0" stop-color="#2328cd"/><stop offset=".138" stop-color="#2f41df"/><stop offset=".225" stop-color="#466eeb"/><stop offset=".244" stop-color="#5ebb8f"/><stop offset=".263" stop-color="#51d5db"/><stop offset=".281" stop-color="#3ee0ef"/><stop offset=".394" stop-color="#35ebf0"/><stop offset=".504" stop-color="#60f2f0"/><stop offset=".546" stop-color="#b9fbf7"/><stop offset=".56" stop-color="#effefb"/><stop offset=".567" stop-color="#fafffb"/><stop offset=".61" stop-color="#fffff2"/><stop offset=".617" stop-color="#fefedc"/><stop offset=".631" stop-color="#fcfc9a"/><stop offset=".659" stop-color="#fafa5c"/><stop offset=".68" stop-color="#faf951"/><stop offset=".824" stop-color="#fce936"/><stop offset=".906" stop-color="#f8972a"/><stop offset=".958" stop-color="#f36b23"/><stop offset="1" stop-color="#f36422"/></linearGradient><linearGradient id="gc27" gradientUnits="userSpaceOnUse" x1="101.1" y1="453" x2="211" y2="401.3"><stop offset="0" stop-color="#2328cd"/><stop offset=".144" stop-color="#3042e0"/><stop offset=".231" stop-color="#4772e6"/><stop offset=".25" stop-color="#5fbe8c"/><stop offset=".269" stop-color="#51d6dd"/><stop offset=".294" stop-color="#3ce1f0"/><stop offset=".4" stop-color="#34ebf0"/><stop offset=".511" stop-color="#5ef2f0"/><stop offset=".546" stop-color="#9cf8f5"/><stop offset=".56" stop-color="#c0fbf7"/><stop offset=".574" stop-color="#f3fffb"/><stop offset=".588" stop-color="#fbfffa"/><stop offset=".624" stop-color="#fffff3"/><stop offset=".631" stop-color="#ffffe6"/><stop offset=".645" stop-color="#fdfda8"/><stop offset=".652" stop-color="#fcfc90"/><stop offset=".679" stop-color="#fafa58"/><stop offset=".854" stop-color="#fcec37"/><stop offset=".967" stop-color="#f89529"/><stop offset="1" stop-color="#f78c28"/></linearGradient><linearGradient id="gc28" gradientUnits="userSpaceOnUse" x1="103.6" y1="454.4" x2="210.7" y2="405.1"><stop offset="0" stop-color="#2328cd"/><stop offset=".144" stop-color="#2f41df"/><stop offset=".231" stop-color="#456cea"/><stop offset=".238" stop-color="#4875e2"/><stop offset=".256" stop-color="#5fbf8e"/><stop offset=".275" stop-color="#51d6dd"/><stop offset=".3" stop-color="#3ce1f0"/><stop offset=".413" stop-color="#35ebf0"/><stop offset=".524" stop-color="#5ff2f0"/><stop offset=".566" stop-color="#abfaf6"/><stop offset=".587" stop-color="#f1fefb"/><stop offset=".601" stop-color="#fbfffa"/><stop offset=".642" stop-color="#fffff2"/><stop offset=".663" stop-color="#fcfca1"/><stop offset=".69" stop-color="#fbfb67"/><stop offset=".704" stop-color="#fafa54"/><stop offset=".891" stop-color="#fcea36"/><stop offset=".966" stop-color="#fabc2f"/><stop offset="1" stop-color="#fab22e"/></linearGradient><linearGradient id="gc29" gradientUnits="userSpaceOnUse" x1="106.2" y1="455.8" x2="209.7" y2="412.7"><stop offset="0" stop-color="#2328cd"/><stop offset=".15" stop-color="#3042e0"/><stop offset=".237" stop-color="#456ceb"/><stop offset=".244" stop-color="#4978df"/><stop offset=".262" stop-color="#5fbf8f"/><stop offset=".281" stop-color="#51d5dc"/><stop offset=".306" stop-color="#3ce1f0"/><stop offset=".419" stop-color="#34ebf0"/><stop offset=".537" stop-color="#60f2f0"/><stop offset=".578" stop-color="#aaf9f6"/><stop offset=".605" stop-color="#fafffc"/><stop offset=".66" stop-color="#fffff2"/><stop offset=".687" stop-color="#fcfc90"/><stop offset=".72" stop-color="#fafa55"/><stop offset=".932" stop-color="#fcea36"/><stop offset="1" stop-color="#fbca31"/></linearGradient><linearGradient id="gc30" gradientUnits="userSpaceOnUse" x1="108.8" y1="457.2" x2="208.8" y2="417.3"><stop offset="0" stop-color="#2328cd"/><stop offset=".15" stop-color="#2f40df"/><stop offset=".244" stop-color="#456ceb"/><stop offset=".25" stop-color="#4a79dd"/><stop offset=".269" stop-color="#5fbf8e"/><stop offset=".287" stop-color="#51d5da"/><stop offset=".312" stop-color="#3ce1f0"/><stop offset=".431" stop-color="#35ebf0"/><stop offset=".55" stop-color="#61f2f0"/><stop offset=".597" stop-color="#b4faf6"/><stop offset=".617" stop-color="#f4fffc"/><stop offset=".657" stop-color="#fdfff6"/><stop offset=".677" stop-color="#fffff2"/><stop offset=".704" stop-color="#fcfc96"/><stop offset=".743" stop-color="#fafa55"/><stop offset=".984" stop-color="#fce936"/><stop offset="1" stop-color="#fce235"/></linearGradient><linearGradient id="gc31" gradientUnits="userSpaceOnUse" x1="111.4" y1="458.6" x2="208.3" y2="418.3"><stop offset="0" stop-color="#2328cd"/><stop offset=".156" stop-color="#3041df"/><stop offset=".25" stop-color="#456deb"/><stop offset=".256" stop-color="#4a7add"/><stop offset=".275" stop-color="#5fbe8d"/><stop offset=".294" stop-color="#52d4d6"/><stop offset=".306" stop-color="#47dce8"/><stop offset=".325" stop-color="#3be2f0"/><stop offset=".444" stop-color="#35ebf0"/><stop offset=".562" stop-color="#5ff2f0"/><stop offset=".609" stop-color="#abfaf6"/><stop offset=".636" stop-color="#f7fffc"/><stop offset=".695" stop-color="#fffff3"/><stop offset=".702" stop-color="#ffffed"/><stop offset=".728" stop-color="#fcfc94"/><stop offset=".766" stop-color="#fafa57"/><stop offset="1" stop-color="#fcef39"/></linearGradient><linearGradient id="gc32" gradientUnits="userSpaceOnUse" x1="114" y1="460" x2="207.8" y2="420.5"><stop offset="0" stop-color="#2328cd"/><stop offset=".163" stop-color="#3042e0"/><stop offset=".256" stop-color="#456deb"/><stop offset=".262" stop-color="#4979de"/><stop offset=".281" stop-color="#5fbd8e"/><stop offset=".306" stop-color="#4ed8e3"/><stop offset=".331" stop-color="#3ce1f0"/><stop offset=".45" stop-color="#34ebf0"/><stop offset=".575" stop-color="#5ef2f0"/><stop offset=".628" stop-color="#acfaf6"/><stop offset=".654" stop-color="#f5fffc"/><stop offset=".719" stop-color="#fffff3"/><stop offset=".725" stop-color="#ffffea"/><stop offset=".751" stop-color="#fcfc96"/><stop offset=".795" stop-color="#fafa55"/><stop offset="1" stop-color="#fcf03c"/></linearGradient><linearGradient id="gc33" gradientUnits="userSpaceOnUse" x1="116.6" y1="461.3" x2="206.4" y2="426.9"><stop offset="0" stop-color="#2328cd"/><stop offset=".169" stop-color="#3143e0"/><stop offset=".263" stop-color="#456ceb"/><stop offset=".269" stop-color="#4977e0"/><stop offset=".287" stop-color="#5db992"/><stop offset=".294" stop-color="#5cc39e"/><stop offset=".312" stop-color="#4fd7e2"/><stop offset=".344" stop-color="#3be2f0"/><stop offset=".463" stop-color="#34ebf0"/><stop offset=".593" stop-color="#5ff2f0"/><stop offset=".645" stop-color="#abfaf6"/><stop offset=".671" stop-color="#effefb"/><stop offset=".678" stop-color="#fafffc"/><stop offset=".742" stop-color="#fffff3"/><stop offset=".748" stop-color="#ffffed"/><stop offset=".773" stop-color="#fcfc9e"/><stop offset=".823" stop-color="#fafa55"/><stop offset="1" stop-color="#fbf240"/></linearGradient><linearGradient id="gc34" gradientUnits="userSpaceOnUse" x1="119.2" y1="462.7" x2="204.2" y2="434.2"><stop offset="0" stop-color="#2328cd"/><stop offset=".169" stop-color="#3041df"/><stop offset=".269" stop-color="#456ceb"/><stop offset=".275" stop-color="#4874e4"/><stop offset=".294" stop-color="#5cb498"/><stop offset=".3" stop-color="#5dc298"/><stop offset=".319" stop-color="#51d6dc"/><stop offset=".35" stop-color="#3be2f0"/><stop offset=".475" stop-color="#34ebf0"/><stop offset=".611" stop-color="#60f2f0"/><stop offset=".669" stop-color="#b3faf6"/><stop offset=".695" stop-color="#f5fffc"/><stop offset=".771" stop-color="#fffff2"/><stop offset=".802" stop-color="#fcfc98"/><stop offset=".851" stop-color="#fafa55"/><stop offset="1" stop-color="#fbf344"/></linearGradient><linearGradient id="gc35" gradientUnits="userSpaceOnUse" x1="121.8" y1="464.1" x2="205.4" y2="426.7"><stop offset="0" stop-color="#2328cd"/><stop offset=".175" stop-color="#3042e0"/><stop offset=".281" stop-color="#4770e9"/><stop offset=".3" stop-color="#5aae9f"/><stop offset=".306" stop-color="#5ec091"/><stop offset=".325" stop-color="#52d3d4"/><stop offset=".331" stop-color="#4ed8e3"/><stop offset=".356" stop-color="#3ce1f0"/><stop offset=".488" stop-color="#34ebf0"/><stop offset=".63" stop-color="#60f2f0"/><stop offset=".688" stop-color="#acfaf6"/><stop offset=".72" stop-color="#f8fffc"/><stop offset=".795" stop-color="#fffff3"/><stop offset=".802" stop-color="#ffffec"/><stop offset=".833" stop-color="#fcfc96"/><stop offset=".882" stop-color="#fafa57"/><stop offset="1" stop-color="#fbf547"/></linearGradient></defs>
<path d="M32.3 416.3L126 310.9L153.1 280.7L151 280.6L123.7 310.6L29.7 414.9Z" fill="url(#gc0)" stroke="url(#gc0)" stroke-width="0.7"/>
<path d="M34.9 417.7L89.1 356.1L128.2 311.1L155.3 280.8L153.1 280.7L126 310.9L32.3 416.3Z" fill="url(#gc1)" stroke="url(#gc1)" stroke-width="0.7"/>
<path d="M37.5 419.1L91.4 357L130.4 311.4L157.3 281L155.3 280.8L128.2 311.1L89.1 356.1L34.9 417.7Z" fill="url(#gc2)" stroke="url(#gc2)" stroke-width="0.7"/>
<path d="M40.1 420.5L93.8 357.9L132.5 311.7L147.4 294.6L159.3 281.4L157.3 281L130.4 311.4L91.4 357L37.5 419.1Z" fill="url(#gc3)" stroke="url(#gc3)" stroke-width="0.7"/>
<path d="M42.7 421.8L96.1 358.8L134.7 311.9L149.5 294.8L161.4 281.8L159.3 281.4L147.4 294.6L132.5 311.7L93.8 357.9L40.1 420.5Z" fill="url(#gc4)" stroke="url(#gc4)" stroke-width="0.7"/>
<path d="M45.3 423.2L98.5 359.7L125.1 326.5L137 312.1L151.8 294.9L163.6 282.1L161.4 281.8L149.5 294.8L134.7 311.9L96.1 358.8L42.7 421.8Z" fill="url(#gc5)" stroke="url(#gc5)" stroke-width="0.7"/>
<path d="M47.9 424.6L100.9 360.7L127.5 326.8L139.2 312.2L154 295.1L165.8 282.6L163.6 282.1L151.8 294.9L137 312.1L125.1 326.5L98.5 359.7L45.3 423.2Z" fill="url(#gc6)" stroke="url(#gc6)" stroke-width="0.7"/>
<path d="M50.5 426L103.3 361.7L129.7 327.1L141.4 312.3L156.1 295.3L167.8 283.2L165.8 282.6L154 295.1L139.2 312.2L127.5 326.8L100.9 360.7L47.9 424.6Z" fill="url(#gc7)" stroke="url(#gc7)" stroke-width="0.7"/>
<path d="M53.1 427.4L105.6 362.9L131.9 327.5L143.6 312.5L152.4 302.1L158.2 295.6L164.1 289.6L169.9 284.1L167.8 283.2L156.1 295.3L141.4 312.3L129.7 327.1L103.3 361.7L50.5 426Z" fill="url(#gc8)" stroke="url(#gc8)" stroke-width="0.7"/>
<path d="M55.7 428.8L108 364.1L134.2 327.8L145.9 312.7L154.6 302.3L160.4 296L166.2 290.2L172.1 285L169.9 284.1L164.1 289.6L158.2 295.6L152.4 302.1L143.6 312.5L131.9 327.5L105.6 362.9L53.1 427.4Z" fill="url(#gc9)" stroke="url(#gc9)" stroke-width="0.7"/>
<path d="M58.3 430.2L110.5 365.3L116.3 357.3L136.6 328.1L148.2 312.7L156.9 302.4L162.7 296.2L168.5 290.7L174.3 286L172.1 285L166.2 290.2L160.4 296L154.6 302.3L145.9 312.7L134.2 327.8L108 364.1L55.7 428.8Z" fill="url(#gc10)" stroke="url(#gc10)" stroke-width="0.7"/>
<path d="M60.8 431.5L112.9 366.5L118.7 358.4L138.9 328.4L150.5 312.8L159.2 302.5L164.9 296.6L170.7 291.4L176.5 287.1L174.3 286L168.5 290.7L162.7 296.2L156.9 302.4L148.2 312.7L136.6 328.1L116.3 357.3L110.5 365.3L58.3 430.2Z" fill="url(#gc11)" stroke="url(#gc11)" stroke-width="0.7"/>
<path d="M63.4 432.9L115.3 367.9L121 359.6L141.2 328.8L147 320.6L152.7 313L161.4 302.9L167.1 297.1L172.9 292.3L178.7 288.5L176.5 287.1L170.7 291.4L164.9 296.6L159.2 302.5L150.5 312.8L138.9 328.4L118.7 358.4L112.9 366.5L60.8 431.5Z" fill="url(#gc12)" stroke="url(#gc12)" stroke-width="0.7"/>
<path d="M66 434.3L117.6 369.6L123.3 361.2L143.4 329.7L149.1 321.4L154.9 313.8L163.5 303.8L169.2 298.4L174.9 293.9L180.7 290.6L178.7 288.5L172.9 292.3L167.1 297.1L161.4 302.9L152.7 313L147 320.6L141.2 328.8L121 359.6L115.3 367.9L63.4 432.9Z" fill="url(#gc13)" stroke="url(#gc13)" stroke-width="0.7"/>
<path d="M68.6 435.7L119.6 371.8L125.3 363.3L145.2 331.4L150.8 323.1L156.5 315.5L162.2 308.8L165 305.7L170.7 300.5L176.3 296.5L182 293.7L180.7 290.6L174.9 293.9L169.2 298.4L163.5 303.8L154.9 313.8L149.1 321.4L143.4 329.7L123.3 361.2L117.6 369.6L66 434.3Z" fill="url(#gc14)" stroke="url(#gc14)" stroke-width="0.7"/>
<path d="M71.2 437.1L121.3 374.3L126.9 365.8L146.4 333.7L152 325.4L157.5 317.8L163.1 311.3L165.9 308.4L171.5 303.5L177 299.8L179.8 298.5L182.6 297.5L182 293.7L176.3 296.5L170.7 300.5L165 305.7L162.2 308.8L156.5 315.5L150.8 323.1L145.2 331.4L125.3 363.3L119.6 371.8L68.6 435.7Z" fill="url(#gc15)" stroke="url(#gc15)" stroke-width="0.7"/>
<path d="M73.8 438.5L123 376.9L128.4 368.5L142.1 345.1L147.5 336.2L153 327.9L158.4 320.5L163.9 314.1L166.6 311.3L172.1 306.7L174.8 304.9L177.6 303.4L180.3 302.3L183 301.6L182.6 297.5L179.8 298.5L177 299.8L171.5 303.5L165.9 308.4L163.1 311.3L157.5 317.8L152 325.4L146.4 333.7L126.9 365.8L121.3 374.3L71.2 437.1Z" fill="url(#gc16)" stroke="url(#gc16)" stroke-width="0.7"/>
<path d="M76.4 439.9L124.5 379.4L129.9 371L143.3 347.7L148.6 338.8L154 330.6L159.3 323.3L164.7 317L167.3 314.3L172.7 309.9L175.3 308.3L178 307L180.7 306.1L183.4 305.6L183 301.6L180.3 302.3L177.6 303.4L174.8 304.9L172.1 306.7L166.6 311.3L163.9 314.1L158.4 320.5L153 327.9L147.5 336.2L142.1 345.1L128.4 368.5L123 376.9L73.8 438.5Z" fill="url(#gc17)" stroke="url(#gc17)" stroke-width="0.7"/>
<path d="M79 441.2L126.2 381.9L131.4 373.6L144.5 350.3L149.8 341.4L155 333.3L160.3 326.1L165.5 319.9L168.1 317.3L173.4 313.2L176 311.6L178.6 310.5L181.2 309.7L183.9 309.4L183.4 305.6L180.7 306.1L178 307L175.3 308.3L172.7 309.9L167.3 314.3L164.7 317L159.3 323.3L154 330.6L148.6 338.8L143.3 347.7L129.9 371L124.5 379.4L76.4 439.9Z" fill="url(#gc18)" stroke="url(#gc18)" stroke-width="0.7"/>
<path d="M81.6 442.6L127.8 384.4L132.9 376.2L145.7 353.1L150.9 344.4L156 336.3L161.1 329.2L166.3 323.3L168.8 320.7L174 316.7L176.5 315.3L179.1 314.2L181.7 313.6L184.2 313.3L183.9 309.4L181.2 309.7L178.6 310.5L176 311.6L173.4 313.2L168.1 317.3L165.5 319.9L160.3 326.1L155 333.3L149.8 341.4L144.5 350.3L131.4 373.6L126.2 381.9L79 441.2Z" fill="url(#gc19)" stroke="url(#gc19)" stroke-width="0.7"/>
<path d="M84.2 444L129.3 387.1L134.3 379L146.8 356.2L151.9 347.6L156.9 339.7L161.9 332.8L166.9 326.9L169.4 324.5L174.4 320.6L176.9 319.2L179.4 318.2L181.9 317.6L184.4 317.5L184.2 313.3L181.7 313.6L179.1 314.2L176.5 315.3L174 316.7L168.8 320.7L166.3 323.3L161.1 329.2L156 336.3L150.9 344.4L145.7 353.1L132.9 376.2L127.8 384.4L81.6 442.6Z" fill="url(#gc20)" stroke="url(#gc20)" stroke-width="0.7"/>
<path d="M86.8 445.4L130.8 389.7L135.7 381.8L147.9 359.6L152.8 351.1L157.6 343.4L162.5 336.6L167.4 330.9L169.9 328.5L174.8 324.7L177.2 323.3L179.6 322.4L182.1 321.8L184.5 321.6L184.4 317.5L181.9 317.6L179.4 318.2L176.9 319.2L174.4 320.6L169.4 324.5L166.9 326.9L161.9 332.8L156.9 339.7L151.9 347.6L146.8 356.2L134.3 379L129.3 387.1L84.2 444Z" fill="url(#gc21)" stroke="url(#gc21)" stroke-width="0.7"/>
<path d="M89.4 446.8L132.2 392.4L137 384.7L148.9 363L153.6 354.8L158.4 347.3L163.1 340.7L167.9 335.1L170.3 332.7L175 329L177.4 327.6L179.8 326.7L182.2 326.1L184.6 325.9L184.5 321.6L182.1 321.8L179.6 322.4L177.2 323.3L174.8 324.7L169.9 328.5L167.4 330.9L162.5 336.6L157.6 343.4L152.8 351.1L147.9 359.6L135.7 381.8L130.8 389.7L86.8 445.4Z" fill="url(#gc22)" stroke="url(#gc22)" stroke-width="0.7"/>
<path d="M92 448.2L133.6 395L138.3 387.6L154.4 358.7L159.1 351.4L163.7 344.9L168.3 339.4L170.6 337.1L175.3 333.4L177.6 332L179.9 331L182.2 330.4L184.5 330.1L184.6 325.9L182.2 326.1L179.8 326.7L177.4 327.6L175 329L170.3 332.7L167.9 335.1L163.1 340.7L158.4 347.3L153.6 354.8L148.9 363L137 384.7L132.2 392.4L89.4 446.8Z" fill="url(#gc23)" stroke="url(#gc23)" stroke-width="0.7"/>
<path d="M94.6 449.6L135 397.7L139.5 390.5L155.2 362.7L159.7 355.6L164.2 349.3L168.7 343.9L170.9 341.6L175.4 337.9L179.9 335.4L182.2 334.7L184.4 334.3L184.5 330.1L182.2 330.4L179.9 331L177.6 332L175.3 333.4L170.6 337.1L168.3 339.4L163.7 344.9L159.1 351.4L154.4 358.7L138.3 387.6L133.6 395L92 448.2Z" fill="url(#gc24)" stroke="url(#gc24)" stroke-width="0.7"/>
<path d="M97.2 450.9L136.3 400.3L140.7 393.4L155.9 366.7L160.3 359.9L164.6 353.8L169 348.5L171.1 346.2L175.5 342.5L179.8 339.9L182 339L184.2 338.5L184.4 334.3L182.2 334.7L179.9 335.4L175.4 337.9L170.9 341.6L168.7 343.9L164.2 349.3L159.7 355.6L155.2 362.7L139.5 390.5L135 397.7L94.6 449.6Z" fill="url(#gc25)" stroke="url(#gc25)" stroke-width="0.7"/>
<path d="M99.8 452.3L137.8 402.9L142 396.2L156.8 370.7L161 364.2L165.2 358.2L171.5 350.8L175.8 347L180 344.2L184.2 342.5L184.2 338.5L182 339L179.8 339.9L175.5 342.5L171.1 346.2L169 348.5L164.6 353.8L160.3 359.9L155.9 366.7L140.7 393.4L136.3 400.3L97.2 450.9Z" fill="url(#gc26)" stroke="url(#gc26)" stroke-width="0.7"/>
<path d="M102.3 453.7L139.3 405.5L143.4 399.1L157.8 374.7L161.9 368.4L166 362.7L172.2 355.4L176.3 351.5L180.4 348.5L184.5 346.5L184.2 342.5L180 344.2L175.8 347L171.5 350.8L165.2 358.2L161 364.2L156.8 370.7L142 396.2L137.8 402.9L99.8 452.3Z" fill="url(#gc27)" stroke="url(#gc27)" stroke-width="0.7"/>
<path d="M104.9 455.1L140.8 408L144.8 401.9L158.8 378.8L166.7 367.1L172.7 359.9L176.7 356L180.7 352.8L184.7 350.5L184.5 346.5L180.4 348.5L176.3 351.5L172.2 355.4L166 362.7L161.9 368.4L157.8 374.7L143.4 399.1L139.3 405.5L102.3 453.7Z" fill="url(#gc28)" stroke="url(#gc28)" stroke-width="0.7"/>
<path d="M107.5 456.5L142.2 410.6L146.1 404.7L159.6 382.8L167.3 371.6L173.1 364.5L176.9 360.5L180.8 357.2L184.6 354.6L184.7 350.5L180.7 352.8L176.7 356L172.7 359.9L166.7 367.1L158.8 378.8L144.8 401.9L140.8 408L104.9 455.1Z" fill="url(#gc29)" stroke="url(#gc29)" stroke-width="0.7"/>
<path d="M110.1 457.9L143.6 413.2L160.3 386.8L167.7 376.1L173.3 369.1L177 365L180.7 361.5L184.5 358.7L184.6 354.6L180.8 357.2L176.9 360.5L173.1 364.5L167.3 371.6L159.6 382.8L146.1 404.7L142.2 410.6L107.5 456.5Z" fill="url(#gc30)" stroke="url(#gc30)" stroke-width="0.7"/>
<path d="M112.7 459.3L145 415.8L161.1 390.7L168.3 380.4L173.6 373.5L177.2 369.4L180.8 365.8L184.4 362.7L184.5 358.7L180.7 361.5L177 365L173.3 369.1L167.7 376.1L160.3 386.8L143.6 413.2L110.1 457.9Z" fill="url(#gc31)" stroke="url(#gc31)" stroke-width="0.7"/>
<path d="M115.3 460.6L146.4 418.4L161.9 394.6L168.8 384.6L173.9 377.9L177.4 373.8L184.3 366.8L184.4 362.7L180.8 365.8L177.2 369.4L173.6 373.5L168.3 380.4L161.1 390.7L145 415.8L112.7 459.3Z" fill="url(#gc32)" stroke="url(#gc32)" stroke-width="0.7"/>
<path d="M117.9 462L147.6 421L162.5 398.4L169.1 388.8L177.4 378.1L184 370.9L184.3 366.8L177.4 373.8L173.9 377.9L168.8 384.6L161.9 394.6L146.4 418.4L115.3 460.6Z" fill="url(#gc33)" stroke="url(#gc33)" stroke-width="0.7"/>
<path d="M120.5 463.4L148.8 423.7L163 402.1L169.2 393L177.1 382.5L183.4 375.1L184 370.9L177.4 378.1L169.1 388.8L162.5 398.4L147.6 421L117.9 462Z" fill="url(#gc34)" stroke="url(#gc34)" stroke-width="0.7"/>
<path d="M123.1 464.8L150.2 426.3L169.8 396.9L177.3 386.6L183.4 379.2L183.4 375.1L177.1 382.5L169.2 393L163 402.1L148.8 423.7L120.5 463.4Z" fill="url(#gc35)" stroke="url(#gc35)" stroke-width="0.7"/>
<g stroke-width="0.8" fill="none"><linearGradient id="xa1695" gradientUnits="userSpaceOnUse" x1="123.1" y1="464.8" x2="246.6" y2="427.1"><stop offset="0" stop-color="#6c6cd0"/><stop offset=".45" stop-color="#8c84c8"/><stop offset=".62" stop-color="#d89a6a"/><stop offset="1" stop-color="#b0a0a0"/></linearGradient><line x1="123.1" y1="464.8" x2="246.6" y2="427.1" stroke="url(#xa1695)"/><line x1="123.1" y1="464.8" x2="27.5" y2="415.6" stroke="#8a8a8a"/><line x1="27.5" y1="415.6" x2="27.5" y2="306.3" stroke="#8a8a8a"/><line x1="138.5" y1="460.1" x2="136.6" y2="459.1" stroke="#444"/><line x1="173.2" y1="449.5" x2="171.3" y2="448.5" stroke="#444"/><line x1="207.9" y1="438.9" x2="206" y2="437.9" stroke="#444"/><line x1="242.6" y1="428.3" x2="240.7" y2="427.3" stroke="#444"/><line x1="110.2" y1="458.2" x2="112.1" y2="457.6" stroke="#444"/><line x1="88.6" y1="447" x2="90.5" y2="446.5" stroke="#444"/><line x1="67" y1="435.9" x2="68.8" y2="435.3" stroke="#444"/><line x1="45.3" y1="424.8" x2="47.2" y2="424.2" stroke="#444"/><line x1="27.5" y1="408.9" x2="25.7" y2="409.2" stroke="#444"/><line x1="27.5" y1="397.7" x2="25.7" y2="398" stroke="#444"/><line x1="27.5" y1="386.5" x2="25.7" y2="386.8" stroke="#444"/><line x1="27.5" y1="375.3" x2="25.7" y2="375.6" stroke="#444"/><line x1="27.5" y1="364.1" x2="25.7" y2="364.4" stroke="#444"/><line x1="27.5" y1="352.9" x2="25.7" y2="353.2" stroke="#444"/><line x1="27.5" y1="341.7" x2="25.7" y2="342" stroke="#444"/><line x1="27.5" y1="330.5" x2="25.7" y2="330.8" stroke="#444"/><line x1="27.5" y1="319.3" x2="25.7" y2="319.6" stroke="#444"/><line x1="27.5" y1="308.1" x2="25.7" y2="308.4" stroke="#444"/></g>
<g font-size="5.8" fill="#1a1a1a"><text x="23.7" y="410.9" text-anchor="end">400</text><text x="23.7" y="399.7" text-anchor="end">600</text><text x="23.7" y="388.5" text-anchor="end">800</text><text x="23.7" y="377.3" text-anchor="end">1000</text><text x="23.7" y="366.1" text-anchor="end">1200</text><text x="23.7" y="354.9" text-anchor="end">1400</text><text x="23.7" y="343.7" text-anchor="end">1600</text><text x="23.7" y="332.5" text-anchor="end">1800</text><text x="23.7" y="321.3" text-anchor="end">2000</text><text x="23.7" y="310.2" text-anchor="end">2200</text><text x="103" y="465.2" text-anchor="middle">0.6</text><text x="81.4" y="454.1" text-anchor="middle">0.8</text><text x="59.8" y="443" text-anchor="middle">1</text><text x="38.1" y="431.8" text-anchor="middle">1.2</text><text x="142.7" y="469.2" text-anchor="middle">-5</text><text x="177.4" y="458.6" text-anchor="middle">0</text><text x="212.1" y="448" text-anchor="middle">5</text><text x="246.8" y="437.4" text-anchor="middle">10</text></g>
<text x="35.5" y="477.2" font-size="8.85" fill="#111">Eq. Ratio</text>
<text x="179.7" y="480.2" font-size="8.97" fill="#111">Unscaled Progr. Variable</text>
<text x="6.2" y="363" font-size="8.85" text-anchor="middle" font-weight="bold" transform="rotate(-90 6.2 363)">Temperature</text>
<linearGradient id="cbc" x1="0" y1="0" x2="0" y2="1"><stop offset="0.000" stop-color="#800000"/><stop offset="0.125" stop-color="#ff0000"/><stop offset="0.375" stop-color="#ffff00"/><stop offset="0.625" stop-color="#00ffff"/><stop offset="0.875" stop-color="#0000ff"/><stop offset="1.000" stop-color="#000080"/></linearGradient>
<rect x="254.9" y="269.7" width="11.2" height="195.5" fill="url(#cbc)" stroke="#999" stroke-width="0.5"/>
<g stroke="#222" stroke-width="0.6"><line x1="254.9" y1="455.3" x2="256.2" y2="455.3"/><line x1="266.1" y1="455.3" x2="264.8" y2="455.3"/><line x1="254.9" y1="435" x2="256.2" y2="435"/><line x1="266.1" y1="435" x2="264.8" y2="435"/><line x1="254.9" y1="414.8" x2="256.2" y2="414.8"/><line x1="266.1" y1="414.8" x2="264.8" y2="414.8"/><line x1="254.9" y1="394.5" x2="256.2" y2="394.5"/><line x1="266.1" y1="394.5" x2="264.8" y2="394.5"/><line x1="254.9" y1="374.2" x2="256.2" y2="374.2"/><line x1="266.1" y1="374.2" x2="264.8" y2="374.2"/><line x1="254.9" y1="354" x2="256.2" y2="354"/><line x1="266.1" y1="354" x2="264.8" y2="354"/><line x1="254.9" y1="333.7" x2="256.2" y2="333.7"/><line x1="266.1" y1="333.7" x2="264.8" y2="333.7"/><line x1="254.9" y1="313.5" x2="256.2" y2="313.5"/><line x1="266.1" y1="313.5" x2="264.8" y2="313.5"/><line x1="254.9" y1="293.2" x2="256.2" y2="293.2"/><line x1="266.1" y1="293.2" x2="264.8" y2="293.2"/><line x1="254.9" y1="272.9" x2="256.2" y2="272.9"/><line x1="266.1" y1="272.9" x2="264.8" y2="272.9"/></g>
<g font-size="5.8" fill="#1a1a1a"><text x="268.4" y="457.3">400</text><text x="268.4" y="437.1">600</text><text x="268.4" y="416.8">800</text><text x="268.4" y="396.6">1000</text><text x="268.4" y="376.3">1200</text><text x="268.4" y="356">1400</text><text x="268.4" y="335.8">1600</text><text x="268.4" y="315.5">1800</text><text x="268.4" y="295.3">2000</text><text x="268.4" y="275">2200</text></g>
<g stroke="#e8e8e8" stroke-width="0.65" stroke-dasharray="2.2 1.3" fill="none"><line x1="339.4" y1="410.3" x2="339.4" y2="301.7" /><line x1="374.1" y1="399.7" x2="374.1" y2="291.1" /><line x1="408.8" y1="389.1" x2="408.8" y2="280.5" /><line x1="443.5" y1="378.5" x2="443.5" y2="269.9" /><line x1="324" y1="415" x2="447.5" y2="377.3" /><line x1="324" y1="393.5" x2="447.5" y2="355.8" /><line x1="324" y1="372" x2="447.5" y2="334.3" /><line x1="324" y1="350.5" x2="447.5" y2="312.8" /><line x1="324" y1="329" x2="447.5" y2="291.3" /><line x1="324" y1="307.5" x2="447.5" y2="269.8" /><line x1="530.1" y1="420.1" x2="530.1" y2="311.5" /><line x1="508.5" y1="408.9" x2="508.5" y2="300.3" /><line x1="486.9" y1="397.7" x2="486.9" y2="289.1" /><line x1="465.3" y1="386.5" x2="465.3" y2="277.9" /><line x1="543" y1="426.7" x2="447.5" y2="377.3" /><line x1="543" y1="405.2" x2="447.5" y2="355.8" /><line x1="543" y1="383.7" x2="447.5" y2="334.3" /><line x1="543" y1="362.2" x2="447.5" y2="312.8" /><line x1="543" y1="340.7" x2="447.5" y2="291.3" /><line x1="543" y1="319.2" x2="447.5" y2="269.8" /><line x1="434.9" y1="459.7" x2="339.4" y2="410.3" /><line x1="469.6" y1="449.1" x2="374.1" y2="399.7" /><line x1="504.3" y1="438.5" x2="408.8" y2="389.1" /><line x1="539" y1="427.9" x2="443.5" y2="378.5" /><line x1="406.6" y1="457.8" x2="530.1" y2="420.1" /><line x1="385" y1="446.6" x2="508.5" y2="408.9" /><line x1="363.4" y1="435.4" x2="486.9" y2="397.7" /><line x1="341.8" y1="424.2" x2="465.3" y2="386.5" /></g>
<defs><linearGradient id="gd0" gradientUnits="userSpaceOnUse" x1="327.2" y1="414.8" x2="330.4" y2="367"><stop offset="0" stop-color="#0000ba"/><stop offset=".74" stop-color="#0000b8"/><stop offset=".865" stop-color="#0000a1"/><stop offset=".868" stop-color="#000027"/><stop offset=".943" stop-color="#00002b"/><stop offset=".943" stop-color="#a59b48"/><stop offset=".948" stop-color="#2b293c"/><stop offset=".95" stop-color="#080839"/><stop offset="1" stop-color="#050538"/></linearGradient><linearGradient id="gd1" gradientUnits="userSpaceOnUse" x1="329.1" y1="415.9" x2="334.5" y2="364.2"><stop offset="0" stop-color="#0000ba"/><stop offset=".675" stop-color="#0000c2"/><stop offset=".864" stop-color="#0000bf"/><stop offset=".962" stop-color="#0000b5"/><stop offset=".967" stop-color="#000030"/><stop offset="1" stop-color="#000033"/></linearGradient><linearGradient id="gd2" gradientUnits="userSpaceOnUse" x1="438" y1="375" x2="438.2" y2="373"><stop offset="0" stop-color="#938b46"/><stop offset=".033" stop-color="#4e4940"/><stop offset=".079" stop-color="#08083a"/><stop offset="1" stop-color="#050539"/></linearGradient><linearGradient id="gd3" gradientUnits="userSpaceOnUse" x1="331.1" y1="416.9" x2="336.9" y2="362.3"><stop offset="0" stop-color="#0000bb"/><stop offset=".555" stop-color="#0000c1"/><stop offset=".816" stop-color="#0000cf"/><stop offset=".994" stop-color="#0000ca"/><stop offset="1" stop-color="#00003a"/></linearGradient><linearGradient id="gd4" gradientUnits="userSpaceOnUse" x1="440.4" y1="373.4" x2="440.5" y2="372.4"><stop offset="0" stop-color="#4e4940"/><stop offset="0" stop-color="#3c393f"/><stop offset="0" stop-color="#2b293d"/><stop offset=".002" stop-color="#1a193c"/><stop offset=".006" stop-color="#08083a"/><stop offset="1" stop-color="#05053a"/></linearGradient><linearGradient id="gd5" gradientUnits="userSpaceOnUse" x1="333" y1="418" x2="336.8" y2="363.9"><stop offset="0" stop-color="#0000bb"/><stop offset=".5" stop-color="#0000c2"/><stop offset=".777" stop-color="#0000d8"/><stop offset=".993" stop-color="#0002d7"/><stop offset="1" stop-color="#000140"/></linearGradient><linearGradient id="gd6" gradientUnits="userSpaceOnUse" x1="440.4" y1="371.1" x2="440.4" y2="372"><stop offset="0" stop-color="#000140"/><stop offset=".217" stop-color="#000140"/><stop offset=".282" stop-color="#a59b48"/><stop offset=".47" stop-color="#5f5a42"/><stop offset=".628" stop-color="#08083b"/><stop offset="1" stop-color="#05053b"/></linearGradient><linearGradient id="gd7" gradientUnits="userSpaceOnUse" x1="335" y1="419" x2="334.3" y2="370.2"><stop offset="0" stop-color="#0000bb"/><stop offset=".412" stop-color="#0000c2"/><stop offset=".694" stop-color="#0000dd"/><stop offset=".907" stop-color="#0003df"/><stop offset=".992" stop-color="#001ccb"/><stop offset="1" stop-color="#000a40"/></linearGradient><linearGradient id="gd8" gradientUnits="userSpaceOnUse" x1="442" y1="368.7" x2="442" y2="372.1"><stop offset="0" stop-color="#000a40"/><stop offset=".097" stop-color="#000940"/><stop offset=".13" stop-color="#a59b48"/><stop offset=".26" stop-color="#4e4941"/><stop offset=".343" stop-color="#08083c"/><stop offset="1" stop-color="#05053c"/></linearGradient><linearGradient id="gd9" gradientUnits="userSpaceOnUse" x1="336.9" y1="420.1" x2="331.4" y2="382.4"><stop offset="0" stop-color="#0000bb"/><stop offset=".277" stop-color="#0000c2"/><stop offset=".526" stop-color="#0000df"/><stop offset=".78" stop-color="#0004e3"/><stop offset=".988" stop-color="#0036bf"/><stop offset="1" stop-color="#001340"/></linearGradient><linearGradient id="gd10" gradientUnits="userSpaceOnUse" x1="443.6" y1="365.9" x2="444.5" y2="372.4"><stop offset="0" stop-color="#001340"/><stop offset=".072" stop-color="#001240"/><stop offset=".098" stop-color="#a59b49"/><stop offset=".228" stop-color="#3c3941"/><stop offset=".284" stop-color="#08083d"/><stop offset="1" stop-color="#05053c"/></linearGradient><linearGradient id="gd11" gradientUnits="userSpaceOnUse" x1="338.9" y1="421.1" x2="341.2" y2="426.8"><stop offset="0" stop-color="#0000bb"/><stop offset=".938" stop-color="#0000c1"/><stop offset="1" stop-color="#0000c9"/></linearGradient><linearGradient id="gd12" gradientUnits="userSpaceOnUse" x1="409.3" y1="398.3" x2="401.7" y2="380.1"><stop offset="0" stop-color="#0000c9"/><stop offset=".034" stop-color="#0000d6"/><stop offset=".44" stop-color="#0003dd"/><stop offset=".647" stop-color="#0025c3"/><stop offset=".663" stop-color="#000d40"/><stop offset="1" stop-color="#001f40"/></linearGradient><linearGradient id="gd13" gradientUnits="userSpaceOnUse" x1="445.2" y1="361.9" x2="449.5" y2="372.2"><stop offset="0" stop-color="#001f40"/><stop offset=".059" stop-color="#001e40"/><stop offset=".082" stop-color="#a59b49"/><stop offset=".236" stop-color="#1a193f"/><stop offset=".253" stop-color="#08083e"/><stop offset="1" stop-color="#05053d"/></linearGradient><linearGradient id="gd14" gradientUnits="userSpaceOnUse" x1="340.8" y1="422.1" x2="349.5" y2="436.6"><stop offset="0" stop-color="#0000bb"/><stop offset=".837" stop-color="#0000c2"/><stop offset=".993" stop-color="#0000d4"/><stop offset="1" stop-color="#0000d8"/></linearGradient><linearGradient id="gd15" gradientUnits="userSpaceOnUse" x1="419.5" y1="394.8" x2="409.8" y2="378.5"><stop offset="0" stop-color="#0000d8"/><stop offset=".059" stop-color="#0000e1"/><stop offset=".256" stop-color="#0003e4"/><stop offset=".567" stop-color="#003ebc"/><stop offset=".62" stop-color="#0046b8"/><stop offset=".638" stop-color="#001940"/><stop offset="1" stop-color="#002f40"/></linearGradient><linearGradient id="gd16" gradientUnits="userSpaceOnUse" x1="446.8" y1="356.5" x2="454.3" y2="369"><stop offset="0" stop-color="#002f40"/><stop offset=".056" stop-color="#002d40"/><stop offset=".078" stop-color="#a59b49"/><stop offset=".246" stop-color="#08083e"/><stop offset="1" stop-color="#05053e"/></linearGradient><linearGradient id="gd17" gradientUnits="userSpaceOnUse" x1="342.7" y1="423.2" x2="355.4" y2="441.3"><stop offset="0" stop-color="#0000bb"/><stop offset=".789" stop-color="#0000c2"/><stop offset=".979" stop-color="#0000d7"/><stop offset="1" stop-color="#0000e2"/></linearGradient><linearGradient id="gd18" gradientUnits="userSpaceOnUse" x1="423.2" y1="393.9" x2="411.1" y2="376.6"><stop offset="0" stop-color="#0000e2"/><stop offset=".153" stop-color="#0001f1"/><stop offset=".376" stop-color="#003bc9"/><stop offset=".845" stop-color="#008ca8"/><stop offset=".869" stop-color="#003740"/><stop offset="1" stop-color="#004040"/></linearGradient><linearGradient id="gd19" gradientUnits="userSpaceOnUse" x1="448.5" y1="350.4" x2="458.4" y2="364.6"><stop offset="0" stop-color="#004040"/><stop offset=".055" stop-color="#003d40"/><stop offset=".077" stop-color="#a59b49"/><stop offset=".245" stop-color="#08083f"/><stop offset="1" stop-color="#05053f"/></linearGradient><linearGradient id="gd20" gradientUnits="userSpaceOnUse" x1="344.7" y1="424.2" x2="361.9" y2="445.4"><stop offset="0" stop-color="#0000bb"/><stop offset=".772" stop-color="#0000c3"/><stop offset=".966" stop-color="#0000da"/><stop offset="1" stop-color="#0000e8"/></linearGradient><linearGradient id="gd21" gradientUnits="userSpaceOnUse" x1="425.8" y1="393.3" x2="411.2" y2="375.3"><stop offset="0" stop-color="#0000e8"/><stop offset=".09" stop-color="#0001f5"/><stop offset=".241" stop-color="#0037d0"/><stop offset=".585" stop-color="#0084af"/><stop offset=".771" stop-color="#00a6a6"/><stop offset=".892" stop-color="#19a288"/><stop offset=".918" stop-color="#0c4034"/><stop offset="1" stop-color="#13402d"/></linearGradient><linearGradient id="gd22" gradientUnits="userSpaceOnUse" x1="450.1" y1="343.5" x2="462.7" y2="359"><stop offset="0" stop-color="#13402d"/><stop offset=".055" stop-color="#104030"/><stop offset=".077" stop-color="#a59b49"/><stop offset=".244" stop-color="#080840"/><stop offset="1" stop-color="#050540"/></linearGradient><linearGradient id="gd23" gradientUnits="userSpaceOnUse" x1="346.6" y1="425.3" x2="364.3" y2="446.4"><stop offset="0" stop-color="#0000bb"/><stop offset=".748" stop-color="#0000c3"/><stop offset=".946" stop-color="#0000db"/><stop offset=".998" stop-color="#0000f2"/><stop offset="1" stop-color="#0000f6"/></linearGradient><linearGradient id="gd24" gradientUnits="userSpaceOnUse" x1="426" y1="394.9" x2="407.7" y2="373"><stop offset="0" stop-color="#0000f6"/><stop offset=".01" stop-color="#0000ff"/><stop offset=".072" stop-color="#0003ff"/><stop offset=".133" stop-color="#0026f8"/><stop offset=".332" stop-color="#0070d3"/><stop offset=".614" stop-color="#01bdbc"/><stop offset=".973" stop-color="#63ae4b"/><stop offset="1" stop-color="#274019"/></linearGradient><linearGradient id="gd25" gradientUnits="userSpaceOnUse" x1="452.2" y1="335.9" x2="466.5" y2="353.1"><stop offset="0" stop-color="#274019"/><stop offset=".056" stop-color="#24401c"/><stop offset=".078" stop-color="#a79d4a"/><stop offset=".263" stop-color="#050540"/><stop offset="1" stop-color="#050540"/></linearGradient><linearGradient id="gd26" gradientUnits="userSpaceOnUse" x1="348.6" y1="426.3" x2="368.6" y2="448.5"><stop offset="0" stop-color="#0000bb"/><stop offset=".731" stop-color="#0000c3"/><stop offset=".928" stop-color="#0000db"/><stop offset=".995" stop-color="#0000f6"/><stop offset="1" stop-color="#0000ff"/></linearGradient><linearGradient id="gd27" gradientUnits="userSpaceOnUse" x1="428" y1="395.1" x2="406.4" y2="371.1"><stop offset="0" stop-color="#0000ff"/><stop offset=".048" stop-color="#0003ff"/><stop offset=".118" stop-color="#0034fb"/><stop offset=".29" stop-color="#0081d9"/><stop offset=".497" stop-color="#02c6c4"/><stop offset=".824" stop-color="#71b645"/><stop offset=".973" stop-color="#9eb213"/><stop offset="1" stop-color="#3c4004"/></linearGradient><linearGradient id="gd28" gradientUnits="userSpaceOnUse" x1="454.2" y1="328" x2="470.7" y2="346.3"><stop offset="0" stop-color="#3c4004"/><stop offset=".056" stop-color="#384008"/><stop offset=".078" stop-color="#a99f4a"/><stop offset=".264" stop-color="#080841"/><stop offset="1" stop-color="#050541"/></linearGradient><linearGradient id="gd29" gradientUnits="userSpaceOnUse" x1="350.5" y1="427.4" x2="378.4" y2="452.5"><stop offset="0" stop-color="#0000bb"/><stop offset=".694" stop-color="#0000c3"/><stop offset=".896" stop-color="#0000db"/><stop offset=".988" stop-color="#0000fb"/><stop offset="1" stop-color="#0000ff"/></linearGradient><linearGradient id="gd30" gradientUnits="userSpaceOnUse" x1="431.9" y1="393.1" x2="408.4" y2="371.9"><stop offset="0" stop-color="#0000ff"/><stop offset=".019" stop-color="#0005ff"/><stop offset=".064" stop-color="#0033fa"/><stop offset=".184" stop-color="#0078da"/><stop offset=".375" stop-color="#02c4c2"/><stop offset=".66" stop-color="#71b544"/><stop offset=".84" stop-color="#aeaf01"/><stop offset=".972" stop-color="#ac7f00"/><stop offset="1" stop-color="#402c00"/></linearGradient><linearGradient id="gd31" gradientUnits="userSpaceOnUse" x1="456.3" y1="318.8" x2="475.8" y2="336.4"><stop offset="0" stop-color="#402c00"/><stop offset=".056" stop-color="#403000"/><stop offset=".078" stop-color="#aba14a"/><stop offset=".279" stop-color="#050542"/><stop offset="1" stop-color="#050542"/></linearGradient><linearGradient id="gd32" gradientUnits="userSpaceOnUse" x1="352.5" y1="428.4" x2="370.2" y2="448.9"><stop offset="0" stop-color="#0000bb"/><stop offset=".717" stop-color="#0000c3"/><stop offset=".918" stop-color="#0000d9"/><stop offset=".991" stop-color="#0000f6"/><stop offset="1" stop-color="#0000ff"/></linearGradient><linearGradient id="gd33" gradientUnits="userSpaceOnUse" x1="428.4" y1="398.7" x2="397" y2="362.3"><stop offset="0" stop-color="#0000ff"/><stop offset=".038" stop-color="#0003ff"/><stop offset=".105" stop-color="#0045ff"/><stop offset=".242" stop-color="#009ee4"/><stop offset=".356" stop-color="#03d6d3"/><stop offset=".571" stop-color="#76c750"/><stop offset=".73" stop-color="#c0bd00"/><stop offset=".975" stop-color="#b94300"/><stop offset="1" stop-color="#401300"/></linearGradient><linearGradient id="gd34" gradientUnits="userSpaceOnUse" x1="458.5" y1="309.3" x2="478.5" y2="332.5"><stop offset="0" stop-color="#401300"/><stop offset=".058" stop-color="#401800"/><stop offset=".081" stop-color="#ada34a"/><stop offset=".269" stop-color="#1a1944"/><stop offset=".302" stop-color="#050543"/><stop offset="1" stop-color="#050543"/></linearGradient><linearGradient id="gd35" gradientUnits="userSpaceOnUse" x1="354.4" y1="429.4" x2="329.2" y2="340.3"><stop offset="0" stop-color="#0000bb"/><stop offset=".022" stop-color="#0000ca"/><stop offset=".069" stop-color="#0000ff"/><stop offset=".161" stop-color="#0001ff"/><stop offset=".276" stop-color="#0070ff"/><stop offset=".383" stop-color="#00c3f9"/><stop offset=".447" stop-color="#02f0ee"/><stop offset=".635" stop-color="#96de48"/><stop offset=".729" stop-color="#d9d700"/><stop offset=".98" stop-color="#cf1500"/><stop offset="1" stop-color="#400200"/></linearGradient><linearGradient id="gd36" gradientUnits="userSpaceOnUse" x1="460.7" y1="303.1" x2="470.5" y2="337.7"><stop offset="0" stop-color="#400200"/><stop offset=".087" stop-color="#400a00"/><stop offset=".109" stop-color="#a1974a"/><stop offset=".297" stop-color="#151444"/><stop offset=".314" stop-color="#070744"/><stop offset="1" stop-color="#050544"/></linearGradient><linearGradient id="gd37" gradientUnits="userSpaceOnUse" x1="356.3" y1="430.5" x2="339.4" y2="318"><stop offset="0" stop-color="#0000bb"/><stop offset=".067" stop-color="#0000c4"/><stop offset=".122" stop-color="#0202f1"/><stop offset=".143" stop-color="#0000ff"/><stop offset=".231" stop-color="#0001ff"/><stop offset=".345" stop-color="#007aff"/><stop offset=".443" stop-color="#00d1f8"/><stop offset=".486" stop-color="#04f1ed"/><stop offset=".661" stop-color="#a3de3b"/><stop offset=".719" stop-color="#d5da06"/><stop offset=".756" stop-color="#d8bc00"/><stop offset=".965" stop-color="#cf0000"/><stop offset=".982" stop-color="#c00000"/><stop offset="1" stop-color="#370000"/></linearGradient><linearGradient id="gd38" gradientUnits="userSpaceOnUse" x1="462.9" y1="299.3" x2="468.5" y2="336.5"><stop offset="0" stop-color="#370000"/><stop offset=".088" stop-color="#3f0000"/><stop offset=".111" stop-color="#a49a4a"/><stop offset=".299" stop-color="#1f1d45"/><stop offset=".333" stop-color="#050544"/><stop offset="1" stop-color="#050544"/></linearGradient><linearGradient id="gd39" gradientUnits="userSpaceOnUse" x1="358.3" y1="431.5" x2="353.8" y2="299.9"><stop offset="0" stop-color="#0000bb"/><stop offset=".1" stop-color="#0000c4"/><stop offset=".148" stop-color="#0303e1"/><stop offset=".165" stop-color="#1111f1"/><stop offset=".189" stop-color="#0101ff"/><stop offset=".276" stop-color="#0003ff"/><stop offset=".403" stop-color="#0092ff"/><stop offset=".482" stop-color="#00def8"/><stop offset=".508" stop-color="#03f4f1"/><stop offset=".665" stop-color="#a4e13d"/><stop offset=".717" stop-color="#d7dd06"/><stop offset=".75" stop-color="#dbbf00"/><stop offset=".937" stop-color="#d20000"/><stop offset=".984" stop-color="#a20000"/><stop offset="1" stop-color="#2d0000"/></linearGradient><linearGradient id="gd40" gradientUnits="userSpaceOnUse" x1="465" y1="296.1" x2="466.3" y2="334.8"><stop offset="0" stop-color="#2d0000"/><stop offset=".089" stop-color="#350000"/><stop offset=".112" stop-color="#a69d4b"/><stop offset=".301" stop-color="#282646"/><stop offset=".351" stop-color="#050545"/><stop offset="1" stop-color="#050545"/></linearGradient><linearGradient id="gd41" gradientUnits="userSpaceOnUse" x1="360.2" y1="432.6" x2="381.4" y2="281.8"><stop offset="0" stop-color="#0000bb"/><stop offset=".139" stop-color="#0000c4"/><stop offset=".196" stop-color="#0404e0"/><stop offset=".215" stop-color="#2020f0"/><stop offset=".242" stop-color="#0303ff"/><stop offset=".332" stop-color="#0004ff"/><stop offset=".464" stop-color="#00a4ff"/><stop offset=".54" stop-color="#00f5f8"/><stop offset=".714" stop-color="#c9e118"/><stop offset=".734" stop-color="#dee002"/><stop offset=".916" stop-color="#d50700"/><stop offset=".943" stop-color="#bd0000"/><stop offset=".985" stop-color="#8b0000"/><stop offset="1" stop-color="#250000"/></linearGradient><linearGradient id="gd42" gradientUnits="userSpaceOnUse" x1="467.1" y1="293.8" x2="461.7" y2="331.8"><stop offset="0" stop-color="#250000"/><stop offset=".09" stop-color="#2e0000"/><stop offset=".113" stop-color="#a99f4b"/><stop offset=".304" stop-color="#322f47"/><stop offset=".37" stop-color="#050546"/><stop offset="1" stop-color="#050546"/></linearGradient><linearGradient id="gd43" gradientUnits="userSpaceOnUse" x1="362.2" y1="433.6" x2="426.1" y2="275.4"><stop offset="0" stop-color="#0000bb"/><stop offset=".183" stop-color="#0000c4"/><stop offset=".25" stop-color="#0404de"/><stop offset=".275" stop-color="#2f2ff2"/><stop offset=".289" stop-color="#1c1cf9"/><stop offset=".306" stop-color="#0404ff"/><stop offset=".395" stop-color="#0002ff"/><stop offset=".56" stop-color="#00d5ff"/><stop offset=".592" stop-color="#03f7f4"/><stop offset=".748" stop-color="#d2e10f"/><stop offset=".765" stop-color="#e0d800"/><stop offset=".914" stop-color="#d60900"/><stop offset=".926" stop-color="#cf0000"/><stop offset=".987" stop-color="#7b0000"/><stop offset="1" stop-color="#200000"/></linearGradient><linearGradient id="gd44" gradientUnits="userSpaceOnUse" x1="469.1" y1="292.8" x2="456" y2="325.3"><stop offset="0" stop-color="#200000"/><stop offset=".092" stop-color="#290000"/><stop offset=".116" stop-color="#aca24b"/><stop offset=".308" stop-color="#3c3848"/><stop offset=".39" stop-color="#050547"/><stop offset="1" stop-color="#050547"/></linearGradient><linearGradient id="gd45" gradientUnits="userSpaceOnUse" x1="364.1" y1="434.7" x2="475.2" y2="297"><stop offset="0" stop-color="#0000bb"/><stop offset=".231" stop-color="#0000c4"/><stop offset=".307" stop-color="#0303db"/><stop offset=".319" stop-color="#1313e3"/><stop offset=".336" stop-color="#3c3cef"/><stop offset=".345" stop-color="#3b3bf3"/><stop offset=".368" stop-color="#0a0aff"/><stop offset=".395" stop-color="#0000ff"/><stop offset=".469" stop-color="#0004ff"/><stop offset=".594" stop-color="#00abfc"/><stop offset=".648" stop-color="#03ece9"/><stop offset=".785" stop-color="#c8d50d"/><stop offset=".792" stop-color="#d2d403"/><stop offset=".927" stop-color="#c90600"/><stop offset=".957" stop-color="#a10000"/><stop offset=".989" stop-color="#710000"/><stop offset="1" stop-color="#200000"/></linearGradient><linearGradient id="gd46" gradientUnits="userSpaceOnUse" x1="470.8" y1="293.5" x2="453.6" y2="314.9"><stop offset="0" stop-color="#200000"/><stop offset=".119" stop-color="#2a0000"/><stop offset=".142" stop-color="#a49a4b"/><stop offset=".365" stop-color="#262448"/><stop offset=".413" stop-color="#060648"/><stop offset="1" stop-color="#050548"/></linearGradient><linearGradient id="gd47" gradientUnits="userSpaceOnUse" x1="366.1" y1="435.7" x2="495.7" y2="322"><stop offset="0" stop-color="#0000bb"/><stop offset=".254" stop-color="#0000c3"/><stop offset=".342" stop-color="#0404da"/><stop offset=".355" stop-color="#1919e2"/><stop offset=".369" stop-color="#4343ec"/><stop offset=".378" stop-color="#4d4df1"/><stop offset=".388" stop-color="#3b3bf3"/><stop offset=".405" stop-color="#0d0dfa"/><stop offset=".428" stop-color="#0000ff"/><stop offset=".509" stop-color="#0003ff"/><stop offset=".598" stop-color="#0076fb"/><stop offset=".68" stop-color="#01dddc"/><stop offset=".812" stop-color="#c1c504"/><stop offset=".935" stop-color="#b90700"/><stop offset=".952" stop-color="#a40000"/><stop offset=".99" stop-color="#690000"/><stop offset="1" stop-color="#200000"/></linearGradient><linearGradient id="gd48" gradientUnits="userSpaceOnUse" x1="472" y1="294.9" x2="455.3" y2="309.5"><stop offset="0" stop-color="#200000"/><stop offset=".122" stop-color="#2b0000"/><stop offset=".145" stop-color="#a79e4c"/><stop offset=".353" stop-color="#3b3849"/><stop offset=".449" stop-color="#050548"/><stop offset="1" stop-color="#050548"/></linearGradient><linearGradient id="gd49" gradientUnits="userSpaceOnUse" x1="368" y1="436.7" x2="502.8" y2="336.7"><stop offset="0" stop-color="#0000bb"/><stop offset=".267" stop-color="#0000c3"/><stop offset=".358" stop-color="#0404da"/><stop offset=".372" stop-color="#1e1ee2"/><stop offset=".386" stop-color="#5050ed"/><stop offset=".396" stop-color="#5c5cf1"/><stop offset=".406" stop-color="#4747f3"/><stop offset=".422" stop-color="#1212f9"/><stop offset=".441" stop-color="#0101ff"/><stop offset=".531" stop-color="#0004ff"/><stop offset=".615" stop-color="#0074fb"/><stop offset=".695" stop-color="#00dbdd"/><stop offset=".822" stop-color="#bec506"/><stop offset=".835" stop-color="#c3b500"/><stop offset=".938" stop-color="#b90900"/><stop offset=".946" stop-color="#b40000"/><stop offset=".991" stop-color="#6a0000"/><stop offset="1" stop-color="#200000"/></linearGradient><linearGradient id="gd50" gradientUnits="userSpaceOnUse" x1="473" y1="296.5" x2="457.1" y2="308.3"><stop offset="0" stop-color="#200000"/><stop offset=".123" stop-color="#2b0000"/><stop offset=".146" stop-color="#aba14c"/><stop offset=".387" stop-color="#34314a"/><stop offset=".466" stop-color="#060649"/><stop offset="1" stop-color="#050549"/></linearGradient><linearGradient id="gd51" gradientUnits="userSpaceOnUse" x1="369.9" y1="437.8" x2="508.4" y2="364.7"><stop offset="0" stop-color="#0000bb"/><stop offset=".298" stop-color="#0000c3"/><stop offset=".393" stop-color="#0303d7"/><stop offset=".408" stop-color="#1b1bdf"/><stop offset=".428" stop-color="#6464ee"/><stop offset=".433" stop-color="#6b6bf0"/><stop offset=".439" stop-color="#6868f1"/><stop offset=".465" stop-color="#1313f4"/><stop offset=".481" stop-color="#0202fa"/><stop offset=".572" stop-color="#0003ff"/><stop offset=".613" stop-color="#0036fa"/><stop offset=".705" stop-color="#00a6cc"/><stop offset=".732" stop-color="#04c3c0"/><stop offset=".842" stop-color="#a6ae07"/><stop offset=".854" stop-color="#aca100"/><stop offset=".953" stop-color="#a00000"/><stop offset="1" stop-color="#500000"/></linearGradient><linearGradient id="gd52" gradientUnits="userSpaceOnUse" x1="473.4" y1="298.4" x2="461.1" y2="304.9"><stop offset="0" stop-color="#500000"/><stop offset=".045" stop-color="#250000"/><stop offset=".129" stop-color="#2c0000"/><stop offset=".153" stop-color="#aba14c"/><stop offset=".365" stop-color="#47434b"/><stop offset=".477" stop-color="#08074a"/><stop offset="1" stop-color="#05054a"/></linearGradient><linearGradient id="gd53" gradientUnits="userSpaceOnUse" x1="371.9" y1="438.8" x2="508.7" y2="366.7"><stop offset="0" stop-color="#0000bb"/><stop offset=".297" stop-color="#0000c3"/><stop offset=".392" stop-color="#0202d7"/><stop offset=".407" stop-color="#1717df"/><stop offset=".427" stop-color="#6969ef"/><stop offset=".432" stop-color="#7777f1"/><stop offset=".437" stop-color="#7a7af3"/><stop offset=".448" stop-color="#5e5ef3"/><stop offset=".464" stop-color="#1d1df4"/><stop offset=".478" stop-color="#0505f9"/><stop offset=".537" stop-color="#0000ff"/><stop offset=".573" stop-color="#0005ff"/><stop offset=".614" stop-color="#0038f9"/><stop offset=".7" stop-color="#00a0ce"/><stop offset=".731" stop-color="#02c4c2"/><stop offset=".847" stop-color="#adad00"/><stop offset=".953" stop-color="#a30100"/><stop offset="1" stop-color="#530000"/></linearGradient><linearGradient id="gd54" gradientUnits="userSpaceOnUse" x1="473.7" y1="300.4" x2="461.4" y2="306.9"><stop offset="0" stop-color="#530000"/><stop offset=".045" stop-color="#260000"/><stop offset=".129" stop-color="#2d0000"/><stop offset=".153" stop-color="#aba14c"/><stop offset=".365" stop-color="#47434b"/><stop offset=".477" stop-color="#08074b"/><stop offset="1" stop-color="#05054b"/></linearGradient><linearGradient id="gd55" gradientUnits="userSpaceOnUse" x1="373.8" y1="439.9" x2="508.7" y2="363.4"><stop offset="0" stop-color="#0000bb"/><stop offset=".29" stop-color="#0000c3"/><stop offset=".388" stop-color="#0404d9"/><stop offset=".398" stop-color="#1212de"/><stop offset=".408" stop-color="#3636e6"/><stop offset=".423" stop-color="#7f7ff2"/><stop offset=".428" stop-color="#8989f4"/><stop offset=".433" stop-color="#8686f5"/><stop offset=".445" stop-color="#5555f5"/><stop offset=".457" stop-color="#1f1ff6"/><stop offset=".472" stop-color="#0505fb"/><stop offset=".56" stop-color="#0002ff"/><stop offset=".607" stop-color="#003bfa"/><stop offset=".698" stop-color="#00abcf"/><stop offset=".723" stop-color="#01c8c7"/><stop offset=".842" stop-color="#afb103"/><stop offset=".951" stop-color="#a70400"/><stop offset=".991" stop-color="#690000"/><stop offset="1" stop-color="#550000"/></linearGradient><linearGradient id="gd56" gradientUnits="userSpaceOnUse" x1="474.2" y1="302.5" x2="461" y2="310"><stop offset="0" stop-color="#550000"/><stop offset=".044" stop-color="#270000"/><stop offset=".127" stop-color="#2f0000"/><stop offset=".151" stop-color="#aba14c"/><stop offset=".361" stop-color="#47434c"/><stop offset=".473" stop-color="#08074c"/><stop offset="1" stop-color="#05054c"/></linearGradient><linearGradient id="gd57" gradientUnits="userSpaceOnUse" x1="375.8" y1="440.9" x2="509.2" y2="368.6"><stop offset="0" stop-color="#0000bb"/><stop offset=".293" stop-color="#0000c3"/><stop offset=".392" stop-color="#0303d9"/><stop offset=".402" stop-color="#0f0fde"/><stop offset=".411" stop-color="#3030e5"/><stop offset=".427" stop-color="#8383f2"/><stop offset=".432" stop-color="#9494f5"/><stop offset=".437" stop-color="#9898f6"/><stop offset=".446" stop-color="#7e7ef6"/><stop offset=".463" stop-color="#2525f6"/><stop offset=".476" stop-color="#0808fa"/><stop offset=".51" stop-color="#0000ff"/><stop offset=".567" stop-color="#0004ff"/><stop offset=".608" stop-color="#0036fa"/><stop offset=".71" stop-color="#00b1cb"/><stop offset=".73" stop-color="#05c5c0"/><stop offset=".844" stop-color="#abb005"/><stop offset=".901" stop-color="#aa5800"/><stop offset=".959" stop-color="#a10000"/><stop offset="1" stop-color="#590000"/></linearGradient><linearGradient id="gd58" gradientUnits="userSpaceOnUse" x1="474.6" y1="304.7" x2="462" y2="311.6"><stop offset="0" stop-color="#590000"/><stop offset=".044" stop-color="#290000"/><stop offset=".128" stop-color="#300000"/><stop offset=".151" stop-color="#aba14c"/><stop offset=".363" stop-color="#47434c"/><stop offset=".475" stop-color="#08074c"/><stop offset="1" stop-color="#05054c"/></linearGradient><linearGradient id="gd59" gradientUnits="userSpaceOnUse" x1="377.7" y1="442" x2="509.2" y2="381.5"><stop offset="0" stop-color="#0000bb"/><stop offset=".306" stop-color="#0000c3"/><stop offset=".413" stop-color="#0505da"/><stop offset=".423" stop-color="#1717e0"/><stop offset=".434" stop-color="#4444e9"/><stop offset=".444" stop-color="#8383f2"/><stop offset=".449" stop-color="#9c9cf5"/><stop offset=".454" stop-color="#a7a7f7"/><stop offset=".462" stop-color="#9d9df7"/><stop offset=".474" stop-color="#5b5bf5"/><stop offset=".487" stop-color="#1e1ef6"/><stop offset=".502" stop-color="#0404fb"/><stop offset=".586" stop-color="#0003ff"/><stop offset=".621" stop-color="#002efa"/><stop offset=".707" stop-color="#0095cd"/><stop offset=".745" stop-color="#03c1be"/><stop offset=".859" stop-color="#abab00"/><stop offset=".962" stop-color="#a10000"/><stop offset="1" stop-color="#5f0000"/></linearGradient><linearGradient id="gd60" gradientUnits="userSpaceOnUse" x1="475" y1="307" x2="464.3" y2="311.9"><stop offset="0" stop-color="#5f0000"/><stop offset=".046" stop-color="#2b0000"/><stop offset=".132" stop-color="#320000"/><stop offset=".156" stop-color="#aba14d"/><stop offset=".37" stop-color="#47434d"/><stop offset=".482" stop-color="#08074d"/><stop offset="1" stop-color="#05054d"/></linearGradient><linearGradient id="gd61" gradientUnits="userSpaceOnUse" x1="379.7" y1="443" x2="506.8" y2="396.8"><stop offset="0" stop-color="#0000bb"/><stop offset=".324" stop-color="#0000c3"/><stop offset=".437" stop-color="#0404da"/><stop offset=".447" stop-color="#1313df"/><stop offset=".458" stop-color="#3c3ce8"/><stop offset=".474" stop-color="#9f9ff6"/><stop offset=".48" stop-color="#b3b3f8"/><stop offset=".487" stop-color="#b2b2f9"/><stop offset=".496" stop-color="#8a8af7"/><stop offset=".511" stop-color="#3333f6"/><stop offset=".523" stop-color="#0f0ff9"/><stop offset=".542" stop-color="#0101ff"/><stop offset=".616" stop-color="#0004ff"/><stop offset=".648" stop-color="#002cfb"/><stop offset=".734" stop-color="#0097cd"/><stop offset=".77" stop-color="#05c1bc"/><stop offset=".872" stop-color="#a7ac05"/><stop offset=".894" stop-color="#a98a00"/><stop offset=".972" stop-color="#9d0000"/><stop offset="1" stop-color="#6b0000"/></linearGradient><linearGradient id="gd62" gradientUnits="userSpaceOnUse" x1="475.2" y1="310" x2="467.4" y2="312.9"><stop offset="0" stop-color="#6b0000"/><stop offset=".05" stop-color="#530000"/><stop offset=".141" stop-color="#610000"/><stop offset=".166" stop-color="#aba14d"/><stop offset=".368" stop-color="#504c4d"/><stop offset=".498" stop-color="#08074e"/><stop offset="1" stop-color="#05054e"/></linearGradient><linearGradient id="gd63" gradientUnits="userSpaceOnUse" x1="381.6" y1="444" x2="503.9" y2="406.4"><stop offset="0" stop-color="#0000bb"/><stop offset=".347" stop-color="#0000c4"/><stop offset=".453" stop-color="#0303d9"/><stop offset=".464" stop-color="#0e0ede"/><stop offset=".475" stop-color="#3333e6"/><stop offset=".492" stop-color="#9d9df5"/><stop offset=".497" stop-color="#b9b9f9"/><stop offset=".505" stop-color="#c5c5fa"/><stop offset=".512" stop-color="#b0b0f9"/><stop offset=".533" stop-color="#3333f7"/><stop offset=".543" stop-color="#1212f9"/><stop offset=".561" stop-color="#0101ff"/><stop offset=".637" stop-color="#0003ff"/><stop offset=".669" stop-color="#002bfb"/><stop offset=".764" stop-color="#00a4c9"/><stop offset=".788" stop-color="#04c1bd"/><stop offset=".891" stop-color="#aca900"/><stop offset=".981" stop-color="#9e0000"/><stop offset="1" stop-color="#7c0000"/></linearGradient><linearGradient id="gd64" gradientUnits="userSpaceOnUse" x1="475.4" y1="313.9" x2="469.5" y2="315.7"><stop offset="0" stop-color="#7c0000"/><stop offset=".054" stop-color="#5d0000"/><stop offset=".151" stop-color="#6e0000"/><stop offset=".178" stop-color="#aba14d"/><stop offset=".368" stop-color="#59544e"/><stop offset=".516" stop-color="#08074f"/><stop offset="1" stop-color="#05054f"/></linearGradient><linearGradient id="gd65" gradientUnits="userSpaceOnUse" x1="383.5" y1="445.1" x2="501.6" y2="412.4"><stop offset="0" stop-color="#0000bb"/><stop offset=".349" stop-color="#0000c3"/><stop offset=".469" stop-color="#0404da"/><stop offset=".48" stop-color="#1515e0"/><stop offset=".486" stop-color="#2828e4"/><stop offset=".497" stop-color="#6a6aef"/><stop offset=".508" stop-color="#b8b8f8"/><stop offset=".516" stop-color="#d3d3fb"/><stop offset=".522" stop-color="#d0d0fb"/><stop offset=".53" stop-color="#afaffa"/><stop offset=".547" stop-color="#3d3df7"/><stop offset=".557" stop-color="#1717f9"/><stop offset=".571" stop-color="#0404fd"/><stop offset=".652" stop-color="#0002ff"/><stop offset=".686" stop-color="#002dfa"/><stop offset=".777" stop-color="#00a2ca"/><stop offset=".801" stop-color="#02c2c1"/><stop offset=".901" stop-color="#acad01"/><stop offset=".988" stop-color="#a30200"/><stop offset="1" stop-color="#910000"/></linearGradient><linearGradient id="gd66" gradientUnits="userSpaceOnUse" x1="475.6" y1="318.5" x2="470.9" y2="319.8"><stop offset="0" stop-color="#910000"/><stop offset=".059" stop-color="#6b0000"/><stop offset=".162" stop-color="#7a0300"/><stop offset=".189" stop-color="#aba14d"/><stop offset=".385" stop-color="#59544e"/><stop offset=".534" stop-color="#080750"/><stop offset="1" stop-color="#050550"/></linearGradient><linearGradient id="gd67" gradientUnits="userSpaceOnUse" x1="385.5" y1="446.1" x2="499.4" y2="417.4"><stop offset="0" stop-color="#0000bb"/><stop offset=".362" stop-color="#0000c3"/><stop offset=".479" stop-color="#0202d9"/><stop offset=".49" stop-color="#0e0ede"/><stop offset=".501" stop-color="#3232e6"/><stop offset=".513" stop-color="#7a7af1"/><stop offset=".525" stop-color="#c6c6fa"/><stop offset=".53" stop-color="#d7d7fc"/><stop offset=".536" stop-color="#d4d4fc"/><stop offset=".544" stop-color="#b2b2fa"/><stop offset=".562" stop-color="#3e3ef7"/><stop offset=".574" stop-color="#1212f9"/><stop offset=".592" stop-color="#0101fe"/><stop offset=".667" stop-color="#0003ff"/><stop offset=".697" stop-color="#0027fb"/><stop offset=".786" stop-color="#009acb"/><stop offset=".817" stop-color="#03c1bd"/><stop offset=".915" stop-color="#acaa00"/><stop offset=".994" stop-color="#a20a00"/><stop offset="1" stop-color="#a90000"/></linearGradient><linearGradient id="gd68" gradientUnits="userSpaceOnUse" x1="475.7" y1="323.6" x2="472.1" y2="324.5"><stop offset="0" stop-color="#a90000"/><stop offset=".065" stop-color="#770500"/><stop offset=".176" stop-color="#7c1200"/><stop offset=".205" stop-color="#aba14d"/><stop offset=".39" stop-color="#635d4f"/><stop offset=".559" stop-color="#080750"/><stop offset="1" stop-color="#050550"/></linearGradient><linearGradient id="gd69" gradientUnits="userSpaceOnUse" x1="387.4" y1="447.2" x2="497.7" y2="421.1"><stop offset="0" stop-color="#0000bb"/><stop offset=".368" stop-color="#0000c3"/><stop offset=".491" stop-color="#0303da"/><stop offset=".503" stop-color="#1010df"/><stop offset=".514" stop-color="#3939e7"/><stop offset=".526" stop-color="#8484f2"/><stop offset=".536" stop-color="#c3c3f9"/><stop offset=".544" stop-color="#d9d9fc"/><stop offset=".551" stop-color="#c9c9fb"/><stop offset=".563" stop-color="#8181f8"/><stop offset=".575" stop-color="#3737f7"/><stop offset=".586" stop-color="#1414f8"/><stop offset=".602" stop-color="#0202fc"/><stop offset=".68" stop-color="#0003ff"/><stop offset=".71" stop-color="#0027f9"/><stop offset=".799" stop-color="#0099c9"/><stop offset=".829" stop-color="#04bfbb"/><stop offset=".928" stop-color="#aaa800"/><stop offset=".994" stop-color="#a22000"/><stop offset="1" stop-color="#ac1600"/></linearGradient><linearGradient id="gd70" gradientUnits="userSpaceOnUse" x1="475.8" y1="328.9" x2="472.9" y2="329.6"><stop offset="0" stop-color="#ac1600"/><stop offset=".072" stop-color="#791500"/><stop offset=".191" stop-color="#7d2300"/><stop offset=".222" stop-color="#aba14e"/><stop offset=".414" stop-color="#635d4f"/><stop offset=".585" stop-color="#080751"/><stop offset="1" stop-color="#050551"/></linearGradient><linearGradient id="gd71" gradientUnits="userSpaceOnUse" x1="389.4" y1="448.2" x2="496.2" y2="424.1"><stop offset="0" stop-color="#0000bb"/><stop offset=".378" stop-color="#0000c3"/><stop offset=".503" stop-color="#0404da"/><stop offset=".514" stop-color="#1212df"/><stop offset=".52" stop-color="#2323e3"/><stop offset=".532" stop-color="#6161ed"/><stop offset=".546" stop-color="#bdbdf9"/><stop offset=".552" stop-color="#d4d4fb"/><stop offset=".557" stop-color="#d7d7fc"/><stop offset=".565" stop-color="#bbbbfa"/><stop offset=".586" stop-color="#3d3df6"/><stop offset=".596" stop-color="#1717f7"/><stop offset=".611" stop-color="#0404fa"/><stop offset=".691" stop-color="#0003ff"/><stop offset=".716" stop-color="#0020f9"/><stop offset=".807" stop-color="#0092c8"/><stop offset=".841" stop-color="#04bdb9"/><stop offset=".939" stop-color="#a8a600"/><stop offset=".995" stop-color="#a13600"/><stop offset="1" stop-color="#ad2e00"/></linearGradient><linearGradient id="gd72" gradientUnits="userSpaceOnUse" x1="475.9" y1="334.3" x2="473.5" y2="334.8"><stop offset="0" stop-color="#ad2e00"/><stop offset=".079" stop-color="#7a2600"/><stop offset=".208" stop-color="#7e3400"/><stop offset=".241" stop-color="#aba14e"/><stop offset=".442" stop-color="#635d50"/><stop offset=".616" stop-color="#080752"/><stop offset="1" stop-color="#050552"/></linearGradient><linearGradient id="gd73" gradientUnits="userSpaceOnUse" x1="391.3" y1="449.3" x2="494.4" y2="427.6"><stop offset="0" stop-color="#0000bb"/><stop offset=".383" stop-color="#0000c3"/><stop offset=".515" stop-color="#0404da"/><stop offset=".527" stop-color="#1414e0"/><stop offset=".539" stop-color="#4141e8"/><stop offset=".559" stop-color="#c0c0f9"/><stop offset=".565" stop-color="#d6d6fb"/><stop offset=".571" stop-color="#d6d6fc"/><stop offset=".579" stop-color="#b8b8fa"/><stop offset=".6" stop-color="#3939f4"/><stop offset=".612" stop-color="#1111f5"/><stop offset=".631" stop-color="#0101f8"/><stop offset=".704" stop-color="#0003ff"/><stop offset=".736" stop-color="#0029ed"/><stop offset=".826" stop-color="#0097c0"/><stop offset=".853" stop-color="#04b7b3"/><stop offset=".95" stop-color="#a3a100"/><stop offset=".995" stop-color="#9e4900"/><stop offset="1" stop-color="#ae4500"/></linearGradient><linearGradient id="gd74" gradientUnits="userSpaceOnUse" x1="475.9" y1="339.5" x2="474.1" y2="339.9"><stop offset="0" stop-color="#ae4500"/><stop offset=".094" stop-color="#7b3700"/><stop offset=".242" stop-color="#804400"/><stop offset=".28" stop-color="#aba14e"/><stop offset=".477" stop-color="#6c6550"/><stop offset=".646" stop-color="#1a1952"/><stop offset=".69" stop-color="#050553"/><stop offset="1" stop-color="#050553"/></linearGradient><linearGradient id="gd75" gradientUnits="userSpaceOnUse" x1="393.3" y1="450.3" x2="494.4" y2="427.7"><stop offset="0" stop-color="#0000bb"/><stop offset=".386" stop-color="#0000c3"/><stop offset=".518" stop-color="#0404db"/><stop offset=".53" stop-color="#1515e0"/><stop offset=".536" stop-color="#2828e4"/><stop offset=".548" stop-color="#6a6aee"/><stop offset=".561" stop-color="#c3c3f9"/><stop offset=".569" stop-color="#d9d9fc"/><stop offset=".577" stop-color="#c9c9fb"/><stop offset=".59" stop-color="#8080f7"/><stop offset=".602" stop-color="#3737f4"/><stop offset=".612" stop-color="#1414f4"/><stop offset=".629" stop-color="#0202f7"/><stop offset=".705" stop-color="#0003ff"/><stop offset=".823" stop-color="#008fc2"/><stop offset=".858" stop-color="#04b7b3"/><stop offset=".959" stop-color="#a4a100"/><stop offset=".995" stop-color="#a05d00"/><stop offset="1" stop-color="#af5b00"/></linearGradient><linearGradient id="gd76" gradientUnits="userSpaceOnUse" x1="475.8" y1="344.5" x2="473.9" y2="344.9"><stop offset="0" stop-color="#af5b00"/><stop offset=".086" stop-color="#7b4600"/><stop offset=".223" stop-color="#805300"/><stop offset=".259" stop-color="#aba14e"/><stop offset=".468" stop-color="#635d50"/><stop offset=".643" stop-color="#080754"/><stop offset="1" stop-color="#050554"/></linearGradient><linearGradient id="gd77" gradientUnits="userSpaceOnUse" x1="395.2" y1="451.4" x2="496.1" y2="424.1"><stop offset="0" stop-color="#0000bb"/><stop offset=".375" stop-color="#0000c3"/><stop offset=".51" stop-color="#0505dc"/><stop offset=".522" stop-color="#1717e2"/><stop offset=".533" stop-color="#4949ea"/><stop offset=".551" stop-color="#bdbdf9"/><stop offset=".557" stop-color="#d4d4fb"/><stop offset=".563" stop-color="#d7d7fc"/><stop offset=".571" stop-color="#bcbcfa"/><stop offset=".591" stop-color="#3d3df5"/><stop offset=".601" stop-color="#1717f6"/><stop offset=".616" stop-color="#0404f9"/><stop offset=".695" stop-color="#0003ff"/><stop offset=".723" stop-color="#0023f5"/><stop offset=".819" stop-color="#0092c7"/><stop offset=".856" stop-color="#04bdb9"/><stop offset=".966" stop-color="#a9a700"/><stop offset=".994" stop-color="#a67600"/><stop offset="1" stop-color="#af7100"/></linearGradient><linearGradient id="gd78" gradientUnits="userSpaceOnUse" x1="475.9" y1="349.5" x2="472.8" y2="350.3"><stop offset="0" stop-color="#af7100"/><stop offset=".067" stop-color="#785300"/><stop offset=".181" stop-color="#7d6000"/><stop offset=".211" stop-color="#aba14e"/><stop offset=".398" stop-color="#635d51"/><stop offset=".568" stop-color="#080754"/><stop offset="1" stop-color="#050554"/></linearGradient><linearGradient id="gd79" gradientUnits="userSpaceOnUse" x1="397.2" y1="452.4" x2="496.8" y2="421.7"><stop offset="0" stop-color="#0000bb"/><stop offset=".374" stop-color="#0000c3"/><stop offset=".501" stop-color="#0202db"/><stop offset=".512" stop-color="#0d0de0"/><stop offset=".524" stop-color="#2f2fe7"/><stop offset=".536" stop-color="#7575f1"/><stop offset=".547" stop-color="#c1c1fa"/><stop offset=".553" stop-color="#d6d6fc"/><stop offset=".561" stop-color="#d1d1fc"/><stop offset=".569" stop-color="#ababfa"/><stop offset=".585" stop-color="#4343f7"/><stop offset=".596" stop-color="#1a1af7"/><stop offset=".611" stop-color="#0404fa"/><stop offset=".69" stop-color="#0003ff"/><stop offset=".72" stop-color="#0023f9"/><stop offset=".812" stop-color="#008cce"/><stop offset=".858" stop-color="#03c1be"/><stop offset=".976" stop-color="#aead00"/><stop offset="1" stop-color="#af8800"/></linearGradient><linearGradient id="gd80" gradientUnits="userSpaceOnUse" x1="476.1" y1="354.6" x2="472.4" y2="355.7"><stop offset="0" stop-color="#af8800"/><stop offset=".061" stop-color="#766000"/><stop offset=".166" stop-color="#7b6e00"/><stop offset=".195" stop-color="#aba14e"/><stop offset=".393" stop-color="#595452"/><stop offset=".542" stop-color="#080755"/><stop offset="1" stop-color="#050555"/></linearGradient><linearGradient id="gd81" gradientUnits="userSpaceOnUse" x1="399.1" y1="453.4" x2="496" y2="423.9"><stop offset="0" stop-color="#0000bb"/><stop offset=".382" stop-color="#0000c3"/><stop offset=".51" stop-color="#0202db"/><stop offset=".526" stop-color="#1616e2"/><stop offset=".535" stop-color="#3b3be9"/><stop offset=".557" stop-color="#c4c4fa"/><stop offset=".563" stop-color="#d7d7fc"/><stop offset=".569" stop-color="#d5d5fc"/><stop offset=".577" stop-color="#b4b4fa"/><stop offset=".596" stop-color="#4040f7"/><stop offset=".606" stop-color="#1818f7"/><stop offset=".621" stop-color="#0404fa"/><stop offset=".702" stop-color="#0004ff"/><stop offset=".735" stop-color="#0028f6"/><stop offset=".833" stop-color="#0097cb"/><stop offset=".869" stop-color="#00c2c2"/><stop offset=".988" stop-color="#acaf03"/><stop offset="1" stop-color="#b1a100"/></linearGradient><linearGradient id="gd82" gradientUnits="userSpaceOnUse" x1="476.4" y1="359.7" x2="473.1" y2="360.7"><stop offset="0" stop-color="#b1a100"/><stop offset=".063" stop-color="#767000"/><stop offset=".172" stop-color="#797c03"/><stop offset=".2" stop-color="#aba14f"/><stop offset=".402" stop-color="#595452"/><stop offset=".551" stop-color="#080756"/><stop offset="1" stop-color="#050556"/></linearGradient><linearGradient id="gd83" gradientUnits="userSpaceOnUse" x1="401" y1="454.5" x2="493.8" y2="429.9"><stop offset="0" stop-color="#0000bb"/><stop offset=".4" stop-color="#0000c3"/><stop offset=".531" stop-color="#0303db"/><stop offset=".545" stop-color="#1212e1"/><stop offset=".555" stop-color="#3232e7"/><stop offset=".567" stop-color="#7a7af1"/><stop offset=".579" stop-color="#c5c5fa"/><stop offset=".587" stop-color="#d9d9fc"/><stop offset=".593" stop-color="#cfcffb"/><stop offset=".602" stop-color="#a7a7f9"/><stop offset=".618" stop-color="#3f3ff5"/><stop offset=".629" stop-color="#1818f5"/><stop offset=".644" stop-color="#0404f8"/><stop offset=".723" stop-color="#0002ff"/><stop offset=".75" stop-color="#001ff6"/><stop offset=".848" stop-color="#008dc9"/><stop offset=".89" stop-color="#02bebc"/><stop offset=".995" stop-color="#9bad12"/><stop offset="1" stop-color="#acb509"/></linearGradient><linearGradient id="gd84" gradientUnits="userSpaceOnUse" x1="476.7" y1="365.1" x2="474.6" y2="365.7"><stop offset="0" stop-color="#acb509"/><stop offset=".079" stop-color="#707a0b"/><stop offset=".206" stop-color="#6c8014"/><stop offset=".239" stop-color="#aba14f"/><stop offset=".44" stop-color="#635d52"/><stop offset=".613" stop-color="#080757"/><stop offset="1" stop-color="#050557"/></linearGradient><linearGradient id="gd85" gradientUnits="userSpaceOnUse" x1="403" y1="455.5" x2="491.1" y2="436.3"><stop offset="0" stop-color="#0000bb"/><stop offset=".414" stop-color="#0000c3"/><stop offset=".559" stop-color="#0404dc"/><stop offset=".573" stop-color="#1a1ae2"/><stop offset=".584" stop-color="#4343e9"/><stop offset=".604" stop-color="#c2c2f9"/><stop offset=".612" stop-color="#d8d8fc"/><stop offset=".619" stop-color="#d1d1fb"/><stop offset=".627" stop-color="#ababf9"/><stop offset=".644" stop-color="#4343f4"/><stop offset=".655" stop-color="#1a1af3"/><stop offset=".67" stop-color="#0404f4"/><stop offset=".749" stop-color="#0002ff"/><stop offset=".864" stop-color="#0082c7"/><stop offset=".912" stop-color="#02bab8"/><stop offset=".995" stop-color="#80ab2b"/><stop offset="1" stop-color="#93b825"/></linearGradient><linearGradient id="gd86" gradientUnits="userSpaceOnUse" x1="476.8" y1="370.8" x2="475.9" y2="371"><stop offset="0" stop-color="#93b825"/><stop offset=".14" stop-color="#617f1e"/><stop offset=".345" stop-color="#5c8428"/><stop offset=".395" stop-color="#aba14f"/><stop offset=".613" stop-color="#756e52"/><stop offset=".79" stop-color="#2c2a56"/><stop offset=".85" stop-color="#080757"/><stop offset="1" stop-color="#050558"/></linearGradient><linearGradient id="gd87" gradientUnits="userSpaceOnUse" x1="404.9" y1="456.6" x2="489.2" y2="440.1"><stop offset="0" stop-color="#0000bb"/><stop offset=".428" stop-color="#0000c3"/><stop offset=".578" stop-color="#0404dc"/><stop offset=".593" stop-color="#1a1ae3"/><stop offset=".603" stop-color="#4444ea"/><stop offset=".624" stop-color="#c3c3f9"/><stop offset=".632" stop-color="#d9d9fc"/><stop offset=".639" stop-color="#d1d1fb"/><stop offset=".647" stop-color="#a9a9f9"/><stop offset=".667" stop-color="#3737f3"/><stop offset=".678" stop-color="#1414f2"/><stop offset=".696" stop-color="#0202f4"/><stop offset=".771" stop-color="#0004ff"/><stop offset=".872" stop-color="#0073ca"/><stop offset=".928" stop-color="#00b9b9"/><stop offset=".995" stop-color="#66ac46"/><stop offset="1" stop-color="#78bc44"/></linearGradient><linearGradient id="gd88" gradientUnits="userSpaceOnUse" x1="476.8" y1="376.8" x2="476.4" y2="376.9"><stop offset="0" stop-color="#78bc44"/><stop offset=".232" stop-color="#4f8233"/><stop offset=".536" stop-color="#4a873e"/><stop offset=".603" stop-color="#aba14f"/><stop offset=".827" stop-color="#7e7752"/><stop offset=".942" stop-color="#504c54"/><stop offset=".986" stop-color="#2c2a56"/><stop offset=".999" stop-color="#111058"/><stop offset="1" stop-color="#050558"/></linearGradient><linearGradient id="gd89" gradientUnits="userSpaceOnUse" x1="406.9" y1="457.6" x2="488" y2="442.2"><stop offset="0" stop-color="#0000bb"/><stop offset=".445" stop-color="#0000c3"/><stop offset=".592" stop-color="#0404dd"/><stop offset=".607" stop-color="#1717e3"/><stop offset=".619" stop-color="#4949eb"/><stop offset=".638" stop-color="#bdbdf9"/><stop offset=".645" stop-color="#d4d4fb"/><stop offset=".651" stop-color="#d7d7fc"/><stop offset=".66" stop-color="#bcbcfa"/><stop offset=".682" stop-color="#3d3df4"/><stop offset=".693" stop-color="#1717f3"/><stop offset=".709" stop-color="#0404f5"/><stop offset=".786" stop-color="#0003ff"/><stop offset=".902" stop-color="#0085c9"/><stop offset=".946" stop-color="#00bbbd"/><stop offset=".996" stop-color="#4bb368"/><stop offset="1" stop-color="#58c068"/></linearGradient><linearGradient id="gd90" gradientUnits="userSpaceOnUse" x1="477.8" y1="389.9" x2="478.3" y2="389.8"><stop offset="0" stop-color="#474355"/><stop offset=".011" stop-color="#2c2a57"/><stop offset=".042" stop-color="#080759"/><stop offset="1" stop-color="#050559"/></linearGradient><linearGradient id="gd91" gradientUnits="userSpaceOnUse" x1="408.8" y1="458.7" x2="487" y2="443.7"><stop offset="0" stop-color="#0000bb"/><stop offset=".455" stop-color="#0000c3"/><stop offset=".608" stop-color="#0303de"/><stop offset=".624" stop-color="#1b1be5"/><stop offset=".635" stop-color="#4646eb"/><stop offset=".656" stop-color="#c4c4fa"/><stop offset=".663" stop-color="#d7d7fc"/><stop offset=".669" stop-color="#d5d5fc"/><stop offset=".678" stop-color="#b4b4fa"/><stop offset=".698" stop-color="#4040f5"/><stop offset=".709" stop-color="#1818f5"/><stop offset=".725" stop-color="#0404f7"/><stop offset=".804" stop-color="#0003ff"/><stop offset=".831" stop-color="#0020f6"/><stop offset=".937" stop-color="#0099ca"/><stop offset=".971" stop-color="#04c1bd"/><stop offset=".996" stop-color="#2abc92"/><stop offset="1" stop-color="#33c491"/></linearGradient><linearGradient id="gd92" gradientUnits="userSpaceOnUse" x1="477.6" y1="395" x2="478.3" y2="394.9"><stop offset="0" stop-color="#6c6553"/><stop offset=".014" stop-color="#504c55"/><stop offset=".07" stop-color="#1a1959"/><stop offset=".096" stop-color="#08075a"/><stop offset="1" stop-color="#05055a"/></linearGradient><linearGradient id="gd93" gradientUnits="userSpaceOnUse" x1="410.8" y1="459.7" x2="485.6" y2="446.4"><stop offset="0" stop-color="#0000bb"/><stop offset=".456" stop-color="#0000c2"/><stop offset=".63" stop-color="#0303de"/><stop offset=".647" stop-color="#1b1be5"/><stop offset=".66" stop-color="#5151ee"/><stop offset=".677" stop-color="#babaf9"/><stop offset=".686" stop-color="#d7d7fc"/><stop offset=".695" stop-color="#d0d0fc"/><stop offset=".706" stop-color="#9b9bf9"/><stop offset=".722" stop-color="#4040f6"/><stop offset=".733" stop-color="#1818f6"/><stop offset=".749" stop-color="#0404f9"/><stop offset=".829" stop-color="#0002ff"/><stop offset=".862" stop-color="#0026f6"/><stop offset=".969" stop-color="#00a4cc"/><stop offset=".996" stop-color="#02c5c3"/><stop offset="1" stop-color="#09cac1"/></linearGradient><linearGradient id="gd94" gradientUnits="userSpaceOnUse" x1="477.1" y1="399.5" x2="478.2" y2="399.3"><stop offset="0" stop-color="#008f92"/><stop offset="0" stop-color="#aba150"/><stop offset=".012" stop-color="#908851"/><stop offset=".066" stop-color="#595455"/><stop offset=".188" stop-color="#08075b"/><stop offset="1" stop-color="#05055b"/></linearGradient><linearGradient id="gd95" gradientUnits="userSpaceOnUse" x1="412.7" y1="460.7" x2="485.3" y2="449.9"><stop offset="0" stop-color="#0000bb"/><stop offset=".475" stop-color="#0000c2"/><stop offset=".642" stop-color="#0303de"/><stop offset=".659" stop-color="#1616e4"/><stop offset=".67" stop-color="#3c3ceb"/><stop offset=".693" stop-color="#c5c5fa"/><stop offset=".702" stop-color="#d9d9fc"/><stop offset=".711" stop-color="#c8c8fb"/><stop offset=".724" stop-color="#7e7ef8"/><stop offset=".737" stop-color="#3535f6"/><stop offset=".751" stop-color="#0f0ff7"/><stop offset=".774" stop-color="#0101fb"/><stop offset=".842" stop-color="#0003ff"/><stop offset=".874" stop-color="#0027f8"/><stop offset=".972" stop-color="#00a2cf"/><stop offset=".976" stop-color="#00a9d0"/><stop offset=".976" stop-color="#007392"/><stop offset=".976" stop-color="#007497"/><stop offset=".976" stop-color="#007499"/><stop offset=".976" stop-color="#aba150"/><stop offset=".98" stop-color="#474357"/><stop offset=".982" stop-color="#08075b"/><stop offset="1" stop-color="#05055c"/></linearGradient><linearGradient id="gd96" gradientUnits="userSpaceOnUse" x1="414.6" y1="461.8" x2="483.3" y2="455.2"><stop offset="0" stop-color="#0000bb"/><stop offset=".496" stop-color="#0000c2"/><stop offset=".669" stop-color="#0202dd"/><stop offset=".686" stop-color="#1111e3"/><stop offset=".697" stop-color="#3131e9"/><stop offset=".71" stop-color="#7878f2"/><stop offset=".723" stop-color="#c4c4fa"/><stop offset=".729" stop-color="#d7d7fc"/><stop offset=".738" stop-color="#d0d0fc"/><stop offset=".749" stop-color="#9b9bf9"/><stop offset=".764" stop-color="#4040f6"/><stop offset=".775" stop-color="#1818f6"/><stop offset=".791" stop-color="#0404f8"/><stop offset=".87" stop-color="#0003ff"/><stop offset=".897" stop-color="#0024f7"/><stop offset=".962" stop-color="#007ad7"/><stop offset=".963" stop-color="#00569b"/><stop offset=".964" stop-color="#0055a3"/><stop offset=".965" stop-color="#aba150"/><stop offset=".975" stop-color="#08075c"/><stop offset="1" stop-color="#05055c"/></linearGradient><linearGradient id="gd97" gradientUnits="userSpaceOnUse" x1="416.6" y1="462.8" x2="482.4" y2="456.3"><stop offset="0" stop-color="#0000bb"/><stop offset=".517" stop-color="#0000c2"/><stop offset=".685" stop-color="#0000dc"/><stop offset=".708" stop-color="#0c0ce4"/><stop offset=".721" stop-color="#2c2cea"/><stop offset=".734" stop-color="#7070f3"/><stop offset=".747" stop-color="#bebefb"/><stop offset=".755" stop-color="#d8d8fd"/><stop offset=".764" stop-color="#cdcdfd"/><stop offset=".775" stop-color="#9595fb"/><stop offset=".79" stop-color="#3c3cfb"/><stop offset=".801" stop-color="#1616fd"/><stop offset=".817" stop-color="#0303ff"/><stop offset=".904" stop-color="#0004ff"/><stop offset=".956" stop-color="#0048ff"/><stop offset=".959" stop-color="#0042de"/><stop offset=".959" stop-color="#0030a6"/><stop offset=".961" stop-color="#002eaf"/><stop offset=".961" stop-color="#aba150"/><stop offset=".973" stop-color="#08075d"/><stop offset="1" stop-color="#05055d"/></linearGradient><linearGradient id="gd98" gradientUnits="userSpaceOnUse" x1="418.5" y1="463.9" x2="482.4" y2="452.4"><stop offset="0" stop-color="#0000bb"/><stop offset=".547" stop-color="#0000c2"/><stop offset=".721" stop-color="#0404de"/><stop offset=".736" stop-color="#1919e4"/><stop offset=".749" stop-color="#4c4cec"/><stop offset=".769" stop-color="#c0c0fa"/><stop offset=".778" stop-color="#d8d8fc"/><stop offset=".785" stop-color="#d2d2fc"/><stop offset=".793" stop-color="#adadfa"/><stop offset=".814" stop-color="#3a3af7"/><stop offset=".825" stop-color="#1515f8"/><stop offset=".844" stop-color="#0202fc"/><stop offset=".958" stop-color="#0000ff"/><stop offset=".961" stop-color="#0001eb"/><stop offset=".961" stop-color="#0000b7"/><stop offset=".963" stop-color="#0000be"/><stop offset=".963" stop-color="#aba150"/><stop offset=".974" stop-color="#08075e"/><stop offset="1" stop-color="#05055e"/></linearGradient></defs>
<path d="M328.2 415.4L386.4 397.5L409.5 389.8L418.2 386.5L424.9 383.3L430.6 380.1L436.4 375.8L440.4 375.7L449.1 374.6L447.5 375.3L434.8 377.9L429 380.9L423.2 383.5L407.8 389.1L384.6 396.5L326.2 414.3Z" fill="url(#gd0)" stroke="url(#gd0)" stroke-width="0.7"/>
<path d="M330.1 416.4L388.1 398.5L401.7 394.1L411.2 390.6L419.9 386.9L426.6 383.3L432.3 379.3L435.2 376.9L438 374L436.4 375.8L430.6 380.1L424.9 383.3L418.2 386.5L409.5 389.8L386.4 397.5L328.2 415.4Z" fill="url(#gd1)" stroke="url(#gd1)" stroke-width="0.7"/>
<path d="M438 374L438.8 374.1L437.2 375.9L436.4 375.8Z" fill="#000033" stroke="#000033" stroke-width="0.7"/>
<path d="M438.8 374.1L443.6 374.2L450.7 373.9L449.1 374.6L437.2 375.9Z" fill="url(#gd2)" stroke="url(#gd2)" stroke-width="0.7"/>
<path d="M332.1 417.4L389.9 399.6L403.4 395.1L412.9 391.4L421.5 387.4L428.2 383.3L433.9 378.6L436.8 375.6L439.7 372.1L438 374L435.2 376.9L432.3 379.3L426.6 383.3L419.9 386.9L411.2 390.6L401.7 394.1L388.1 398.5L330.1 416.4Z" fill="url(#gd3)" stroke="url(#gd3)" stroke-width="0.7"/>
<path d="M439.7 372.1L441.2 372.5L439.6 374.2L438 374Z" fill="#938b46" stroke="#938b46" stroke-width="0.7"/>
<path d="M441.2 372.5L446 373L452.3 373.2L450.7 373.9L439.6 374.2Z" fill="url(#gd4)" stroke="url(#gd4)" stroke-width="0.7"/>
<path d="M334 418.5L391.6 400.6L405.1 396L414.6 392.2L423.2 387.8L429.8 383.2L432.7 380.6L435.5 377.7L438.4 374.2L441.2 370L439.7 372.1L436.8 375.6L433.9 378.6L428.2 383.3L421.5 387.4L412.9 391.4L403.4 395.1L389.9 399.6L332.1 417.4Z" fill="url(#gd5)" stroke="url(#gd5)" stroke-width="0.7"/>
<path d="M441.2 370L442 370.4L444.4 371.1L451.4 372.2L449.9 373.2L442.8 372.8L439.7 372.1Z" fill="url(#gd6)" stroke="url(#gd6)" stroke-width="0.7"/>
<path d="M451.4 372.2L453.8 372.4L452.3 373.2L449.9 373.2Z" fill="#05053b" stroke="#05053b" stroke-width="0.7"/>
<path d="M335.9 419.5L393.4 401.7L406.8 397L416.2 392.9L421 390.4L424.8 388.1L428.6 385.3L431.4 382.9L434.2 380L437.1 376.5L439.9 372.4L442.8 367.4L441.2 370L438.4 374.2L435.5 377.7L432.7 380.6L429.8 383.2L423.2 387.8L414.6 392.2L405.1 396L391.6 400.6L334 418.5Z" fill="url(#gd7)" stroke="url(#gd7)" stroke-width="0.7"/>
<path d="M442.8 367.4L444.3 368.4L446.7 369.3L455.3 371.4L453.8 372.4L445.2 371.3L442.8 370.7L441.2 370Z" fill="url(#gd8)" stroke="url(#gd8)" stroke-width="0.7"/>
<path d="M337.9 420.6L375.1 409.2L395.1 402.7L408.5 397.9L417.9 393.6L422.6 390.9L426.4 388.3L430.2 385.1L433 382.3L435.8 378.9L438.7 374.9L441.5 370.1L444.3 364.1L442.8 367.4L439.9 372.4L437.1 376.5L434.2 380L431.4 382.9L428.6 385.3L424.8 388.1L421 390.4L416.2 392.9L406.8 397L393.4 401.7L335.9 419.5Z" fill="url(#gd9)" stroke="url(#gd9)" stroke-width="0.7"/>
<path d="M444.3 364.1L445.9 365.4L448.3 366.7L452.2 368.3L456.8 369.9L455.3 371.4L446.7 369.3L444.3 368.4L442.8 367.4Z" fill="url(#gd10)" stroke="url(#gd10)" stroke-width="0.7"/>
<path d="M339.8 421.6L388.3 406.6L399.7 402.7L410.2 398.7L408.5 397.9L398 401.7L386.5 405.5L337.9 420.6Z" fill="url(#gd11)" stroke="url(#gd11)" stroke-width="0.7"/>
<path d="M410.2 398.7L416.8 395.6L422.4 392.3L427.1 388.9L431.8 384.4L435.6 379.9L439.4 374.1L443.1 366.5L446 359.3L444.3 364.1L441.5 370.1L437.7 376.3L434 381.2L430.2 385.1L425.5 388.9L420.7 392L415.1 395L408.5 397.9Z" fill="url(#gd12)" stroke="url(#gd12)" stroke-width="0.7"/>
<path d="M446 359.3L447.5 361.1L449.9 362.8L453.8 365.2L458.4 367.5L456.8 369.9L452.2 368.3L448.3 366.7L445.9 365.4L444.3 364.1Z" fill="url(#gd13)" stroke="url(#gd13)" stroke-width="0.7"/>
<path d="M341.8 422.7L378.8 411.3L398.7 404.7L411 399.9L415.7 397.6L420.4 395L418.7 394.6L409.2 399.1L396.9 403.7L376.9 410.2L339.8 421.6Z" fill="url(#gd14)" stroke="url(#gd14)" stroke-width="0.7"/>
<path d="M420.4 395L425.1 391.7L428.9 388.5L432.6 384.6L436.4 379.6L439.2 374.9L442 369.2L444.8 362.2L447.6 353.5L446 359.3L443.1 366.5L440.3 372.4L437.5 377.2L434.7 381.1L430.9 385.4L427.1 388.9L423.4 391.7L418.7 394.6Z" fill="url(#gd15)" stroke="url(#gd15)" stroke-width="0.7"/>
<path d="M447.6 353.5L449.2 355.8L451.5 358.1L455.4 361.2L460.1 364.4L458.4 367.5L453.8 365.2L449.9 362.8L447.5 361.1L446 359.3Z" fill="url(#gd16)" stroke="url(#gd16)" stroke-width="0.7"/>
<path d="M343.7 423.7L380.6 412.3L400.5 405.7L409 402.3L413.7 400.2L419.3 397.1L424 394L422.3 393.8L417.6 396.6L412 399.4L398.7 404.7L378.8 411.3L341.8 422.7Z" fill="url(#gd17)" stroke="url(#gd17)" stroke-width="0.7"/>
<path d="M424 394L428.7 390L432.5 386L436.2 380.9L439 376.1L441.8 370.2L444.6 363L447.4 354.2L449.3 347.1L447.6 353.5L445.8 359.5L443 367L440.1 373.1L437.3 378.1L434.5 382.2L430.7 386.7L427 390.2L422.3 393.8Z" fill="url(#gd18)" stroke="url(#gd18)" stroke-width="0.7"/>
<path d="M449.3 347.1L450.9 350L453.2 352.9L457.1 356.9L461.7 361L460.1 364.4L455.4 361.2L451.5 358.1L449.2 355.8L447.6 353.5Z" fill="url(#gd19)" stroke="url(#gd19)" stroke-width="0.7"/>
<path d="M345.7 424.7L385.4 412.4L396.7 408.7L405.2 405.5L410.9 403.1L417.5 399.8L422.1 396.9L426.8 393.3L425 393.3L420.3 396.5L415.6 399.2L409 402.3L403.3 404.6L383.5 411.4L343.7 423.7Z" fill="url(#gd20)" stroke="url(#gd20)" stroke-width="0.7"/>
<path d="M426.8 393.3L430.6 389.7L434.3 385.1L438 379.2L440.9 373.7L443.7 366.9L446.5 358.5L449.3 348.1L451.1 339.8L449.3 347.1L447.4 354.2L444.6 363L441.8 370.2L439 376.1L436.2 380.9L432.5 386L428.7 390L425 393.3Z" fill="url(#gd21)" stroke="url(#gd21)" stroke-width="0.7"/>
<path d="M451.1 339.8L452.7 343.3L454.9 346.9L458.7 351.9L463.3 357.2L461.7 361L457.1 356.9L453.2 352.9L450.9 350L449.3 347.1Z" fill="url(#gd22)" stroke="url(#gd22)" stroke-width="0.7"/>
<path d="M347.6 425.8L384.5 414.4L395.9 410.6L404.4 407.5L412.9 403.9L417.6 401.5L422.3 398.6L427 395L424.9 394.9L420.3 398.2L415.6 400.8L410.9 403.1L402.4 406.6L382.5 413.3L345.7 424.7Z" fill="url(#gd23)" stroke="url(#gd23)" stroke-width="0.7"/>
<path d="M427 395L431.7 390.3L435.4 385.5L439.2 379.3L442.9 371.1L445.7 363.3L448.5 353.7L451.3 341.6L453.2 332L451.1 339.8L448.3 351.8L445.5 361.5L442.7 369.3L439.9 375.7L437.1 380.8L433.4 386.3L429.6 390.7L424.9 394.9Z" fill="url(#gd24)" stroke="url(#gd24)" stroke-width="0.7"/>
<path d="M453.2 332L454.7 336.2L456.8 340.6L460.5 346.7L464.8 353L463.3 357.2L458.7 351.9L454.9 346.9L452.7 343.3L451.1 339.8Z" fill="url(#gd25)" stroke="url(#gd25)" stroke-width="0.7"/>
<path d="M349.5 426.8L386.5 415.4L397.9 411.6L406.4 408.4L414.9 404.6L419.6 402.1L424.3 399L429 395.1L427 395L422.3 398.6L417.6 401.5L412.9 403.9L404.4 407.5L395.9 410.6L384.5 414.4L347.6 425.8Z" fill="url(#gd26)" stroke="url(#gd26)" stroke-width="0.7"/>
<path d="M429 395.1L433.7 390L437.5 384.6L441.2 377.6L445 368.4L447.8 359.6L450.6 348.5L453.4 334.8L455.3 323.7L453.2 332L451.3 341.6L448.5 353.7L445.7 363.3L442.9 371.1L439.2 379.3L435.4 385.5L431.7 390.3L427 395Z" fill="url(#gd27)" stroke="url(#gd27)" stroke-width="0.7"/>
<path d="M455.3 323.7L456.7 328.6L458.7 333.8L462.2 341L466.4 348.6L464.8 353L460.5 346.7L456.8 340.6L454.7 336.2L453.2 332Z" fill="url(#gd28)" stroke="url(#gd28)" stroke-width="0.7"/>
<path d="M351.5 427.9L391.3 415.4L402.7 411.5L411.3 408.1L417 405.4L423.6 401.4L428.3 397.7L433 393L430.9 393.2L426.2 397.6L421.5 400.9L414.9 404.6L409.2 407.2L400.7 410.6L389.3 414.4L349.5 426.8Z" fill="url(#gd29)" stroke="url(#gd29)" stroke-width="0.7"/>
<path d="M433 393L436.7 388L440.5 381.6L444.3 373.2L447.1 365.1L449.9 355L452.7 342.4L455.5 326.6L457.4 313.9L455.3 323.7L453.4 334.8L450.6 348.5L447.8 359.6L445 368.4L442.1 375.5L438.4 383L434.6 388.7L430.9 393.2Z" fill="url(#gd30)" stroke="url(#gd30)" stroke-width="0.7"/>
<path d="M457.4 313.9L458.7 319.7L460.7 325.8L464 334.3L468 343.3L466.4 348.6L462.2 341L458.7 333.8L456.7 328.6L455.3 323.7Z" fill="url(#gd31)" stroke="url(#gd31)" stroke-width="0.7"/>
<path d="M353.4 428.9L390.5 417.4L407.6 411.3L413.4 408.9L419.1 406.1L424.7 402.6L429.4 398.9L427.3 398.5L422.6 402L417 405.4L411.3 408.1L405.6 410.4L388.5 416.4L351.5 427.9Z" fill="url(#gd32)" stroke="url(#gd32)" stroke-width="0.7"/>
<path d="M429.4 398.9L432.3 396.2L435.1 392.9L437.9 389L439.8 386L443.6 378.5L447.3 368.5L451.1 355.3L453.9 342.3L456.8 326.1L459.6 305.6L457.4 313.9L454.6 332.3L451.8 346.9L449 358.6L445.2 370.7L441.4 379.7L437.7 386.6L433 393L430.2 396L427.3 398.5Z" fill="url(#gd33)" stroke="url(#gd33)" stroke-width="0.7"/>
<path d="M459.6 305.6L460.8 312.1L462.7 319L465.9 328.6L469.7 338.9L468 343.3L464 334.3L460.7 325.8L458.7 319.7L457.4 313.9Z" fill="url(#gd34)" stroke="url(#gd34)" stroke-width="0.7"/>
<path d="M355.4 430L392.6 418.4L404 414.5L412.6 411.1L421.2 407L426.8 403.4L431.6 399.6L436.3 394.6L439.1 390.7L441 387.8L444.8 380.4L448.6 370.7L451.4 361.3L454.2 349.6L457 334.8L459.9 316.2L461.8 301.2L459.6 305.6L457.7 319.8L454.9 337.3L452.1 351.3L449.2 362.4L446.4 371.3L442.6 380.5L438.9 387.6L434.2 394.1L429.4 398.9L423.8 403.3L419.1 406.1L410.5 410.2L401.9 413.5L390.5 417.4L353.4 428.9Z" fill="url(#gd35)" stroke="url(#gd35)" stroke-width="0.7"/>
<path d="M461.8 301.2L463 308.1L464.8 315.5L467.7 325.8L471.3 336.8L469.7 338.9L465.9 328.6L462.7 319L460.8 312.1L459.6 305.6Z" fill="url(#gd36)" stroke="url(#gd36)" stroke-width="0.7"/>
<path d="M357.3 431L397.4 418.4L406 415.5L414.6 412.1L423.2 407.9L428.9 404.3L433.7 400.3L438.4 395.2L441.2 391.2L443.1 388.1L446.9 380.5L450.7 370.4L453.5 360.6L456.4 348.3L459.2 332.9L462 313.4L463.9 297.6L461.8 301.2L459.9 316.2L457 334.8L454.2 349.6L451.4 361.3L448.6 370.7L444.8 380.4L441 387.8L439.1 390.7L436.3 394.6L431.6 399.6L426.8 403.4L421.2 407L412.6 411.1L404 414.5L392.6 418.4L355.4 430Z" fill="url(#gd37)" stroke="url(#gd37)" stroke-width="0.7"/>
<path d="M463.9 297.6L465.1 304.9L466.8 312.7L469.6 323.6L473 335.2L471.3 336.8L467.7 325.8L464.8 315.5L463 308.1L461.8 301.2Z" fill="url(#gd38)" stroke="url(#gd38)" stroke-width="0.7"/>
<path d="M359.3 432L399.4 419.5L408.1 416.5L416.7 413.1L425.3 408.9L431 405.1L435.7 401.2L440.5 395.9L443.3 391.8L445.2 388.6L449 380.8L452.8 370.4L455.6 360.2L458.5 347.5L461.3 331.5L464.1 311.2L466 294.8L463.9 297.6L462 313.4L459.2 332.9L456.4 348.3L453.5 360.6L450.7 370.4L446.9 380.5L443.1 388.1L441.2 391.2L438.4 395.2L433.7 400.3L428.9 404.3L423.2 407.9L414.6 412.1L406 415.5L397.4 418.4L357.3 431Z" fill="url(#gd39)" stroke="url(#gd39)" stroke-width="0.7"/>
<path d="M466 294.8L467.1 302.4L468.7 310.5L471.4 321.9L474.6 334.1L473 335.2L469.6 323.6L466.8 312.7L465.1 304.9L463.9 297.6Z" fill="url(#gd40)" stroke="url(#gd40)" stroke-width="0.7"/>
<path d="M361.2 433.1L401.4 420.5L410.1 417.5L418.7 414.1L427.3 409.8L433 406.1L437.8 402.1L442.5 396.7L445.3 392.6L447.2 389.4L451 381.4L454.8 370.7L457.7 360.3L460.5 347.3L463.4 330.9L466.2 310L468.1 293.1L466 294.8L464.1 311.2L461.3 331.5L458.5 347.5L455.6 360.2L452.8 370.4L449 380.8L445.2 388.6L443.3 391.8L440.5 395.9L435.7 401.2L431 405.1L425.3 408.9L416.7 413.1L408.1 416.5L399.4 419.5L359.3 432Z" fill="url(#gd41)" stroke="url(#gd41)" stroke-width="0.7"/>
<path d="M468.1 293.1L469.1 301L470.6 309.3L473.1 321.1L476.2 333.6L474.6 334.1L471.4 321.9L468.7 310.5L467.1 302.4L466 294.8Z" fill="url(#gd42)" stroke="url(#gd42)" stroke-width="0.7"/>
<path d="M363.1 434.1L403.4 421.5L412 418.6L420.6 415.2L429.2 410.9L434.9 407.2L439.7 403.1L444.4 397.7L447.3 393.6L449.2 390.3L453 382.3L456.8 371.5L459.6 361.1L462.4 347.9L465.3 331.2L468.1 310.1L470 293L468.1 293.1L466.2 310L463.4 330.9L460.5 347.3L457.7 360.3L454.8 370.7L451 381.4L447.2 389.4L445.3 392.6L442.5 396.7L437.8 402.1L433 406.1L427.3 409.8L418.7 414.1L410.1 417.5L401.4 420.5L361.2 433.1Z" fill="url(#gd43)" stroke="url(#gd43)" stroke-width="0.7"/>
<path d="M470 293L471 300.9L472.4 309.4L474.7 321.3L477.6 334.1L476.2 333.6L473.1 321.1L470.6 309.3L469.1 301L468.1 293.1Z" fill="url(#gd44)" stroke="url(#gd44)" stroke-width="0.7"/>
<path d="M365.1 435.2L405.1 422.7L413.7 419.7L422.3 416.3L430.9 412.1L436.6 408.4L441.3 404.4L446 399L448.8 394.9L450.7 391.7L454.5 383.6L458.3 372.9L461.1 362.4L463.9 349.2L466.8 332.6L469.6 311.4L471.5 294.2L470 293L468.1 310.1L465.3 331.2L462.4 347.9L459.6 361.1L456.8 371.5L453 382.3L449.2 390.3L447.3 393.6L444.4 397.7L439.7 403.1L434.9 407.2L429.2 410.9L420.6 415.2L412 418.6L403.4 421.5L363.1 434.1Z" fill="url(#gd45)" stroke="url(#gd45)" stroke-width="0.7"/>
<path d="M471.5 294.2L472.3 302.1L473.7 310.6L478.5 335.4L477.6 334.1L474.7 321.3L472.4 309.4L471 300.9L470 293Z" fill="url(#gd46)" stroke="url(#gd46)" stroke-width="0.7"/>
<path d="M367 436.2L406.7 423.8L418 419.8L426.6 416.3L432.2 413.4L438.8 409L443.5 404.8L447.2 400.4L450 396.3L451.9 393.1L455.6 385.1L459.4 374.4L462.2 364L465 350.8L467.8 334.1L470.6 312.9L472.5 295.7L471.5 294.2L469.6 311.4L466.8 332.6L463.9 349.2L461.1 362.4L458.3 372.9L454.5 383.6L450.7 391.7L448.8 394.9L446 399L441.3 404.4L436.6 408.4L430.9 412.1L422.3 416.3L413.7 419.7L405.1 422.7L365.1 435.2Z" fill="url(#gd47)" stroke="url(#gd47)" stroke-width="0.7"/>
<path d="M472.5 295.7L473.3 303.7L474.5 312.2L478.9 337.1L478.5 335.4L473.7 310.6L472.3 302.1L471.5 294.2Z" fill="url(#gd48)" stroke="url(#gd48)" stroke-width="0.7"/>
<path d="M369 437.3L408.2 425L419.4 421.1L427.8 417.5L433.4 414.7L439.9 410.3L444.6 406.2L448.3 401.8L451 397.8L452.9 394.6L456.6 386.6L460.3 376L463.1 365.6L465.8 352.5L468.6 335.8L471.4 314.7L473.2 297.4L472.5 295.7L470.6 312.9L467.8 334.1L465 350.8L462.2 364L459.4 374.4L455.6 385.1L451.9 393.1L450 396.3L447.2 400.4L443.5 404.8L438.8 409L432.2 413.4L426.6 416.3L418 419.8L406.7 423.8L367 436.2Z" fill="url(#gd49)" stroke="url(#gd49)" stroke-width="0.7"/>
<path d="M473.2 297.4L474 305.4L475.1 313.9L479.3 338.8L478.9 337.1L474.5 312.2L473.3 303.7L472.5 295.7Z" fill="url(#gd50)" stroke="url(#gd50)" stroke-width="0.7"/>
<path d="M370.9 438.3L409.6 426.2L420.6 422.3L428.9 418.9L434.4 416L440.8 411.7L445.3 407.6L449 403.3L451.7 399.3L453.5 396.1L457.2 388.2L460.8 377.6L463.6 367.3L466.3 354.2L469 337.6L471.8 316.6L473.6 299.4L473.2 297.4L471.4 314.7L468.6 335.8L465.8 352.5L463.1 365.6L460.3 376L456.6 386.6L452.9 394.6L451 397.8L448.3 401.8L444.6 406.2L439.9 410.3L433.4 414.7L427.8 417.5L419.4 421.1L408.2 425L369 437.3Z" fill="url(#gd51)" stroke="url(#gd51)" stroke-width="0.7"/>
<path d="M473.6 299.4L474.3 307.3L475.4 315.8L479.5 340.6L479.3 338.8L475.1 313.9L474 305.4L473.2 297.4Z" fill="url(#gd52)" stroke="url(#gd52)" stroke-width="0.7"/>
<path d="M372.9 439.4L410.9 427.5L421.8 423.6L429.9 420.2L435.4 417.4L441.7 413.1L446.1 409L449.7 404.8L452.4 400.8L454.2 397.6L457.8 389.8L461.4 379.2L464.1 369L466.8 356L469.5 339.5L472.1 318.5L473.9 301.5L473.6 299.4L471.8 316.6L469 337.6L466.3 354.2L463.6 367.3L460.8 377.6L457.2 388.2L453.5 396.1L451.7 399.3L449 403.3L445.3 407.6L440.8 411.7L434.4 416L428.9 418.9L420.6 422.3L409.6 426.2L370.9 438.3Z" fill="url(#gd53)" stroke="url(#gd53)" stroke-width="0.7"/>
<path d="M473.9 301.5L474.7 309.4L475.8 317.8L479.8 342.5L479.5 340.6L475.4 315.8L474.3 307.3L473.6 299.4Z" fill="url(#gd54)" stroke="url(#gd54)" stroke-width="0.7"/>
<path d="M374.8 440.4L412.3 428.7L423 424.9L431 421.5L436.4 418.7L442.6 414.5L447 410.5L450.5 406.2L453.2 402.2L455 399.1L458.5 391.3L462 380.9L464.7 370.7L467.3 357.8L470 341.4L472.6 320.6L474.4 303.6L473.9 301.5L472.1 318.5L469.5 339.5L466.8 356L464.1 369L461.4 379.2L457.8 389.8L454.2 397.6L452.4 400.8L449.7 404.8L446.1 409L441.7 413.1L435.4 417.4L429.9 420.2L421.8 423.6L410.9 427.5L372.9 439.4Z" fill="url(#gd55)" stroke="url(#gd55)" stroke-width="0.7"/>
<path d="M474.4 303.6L476.2 319.9L480.2 344.4L479.8 342.5L475.8 317.8L474.7 309.4L473.9 301.5Z" fill="url(#gd56)" stroke="url(#gd56)" stroke-width="0.7"/>
<path d="M376.7 441.4L413.7 429.9L424.2 426.2L432.1 422.8L437.4 420.1L443.5 415.9L447.8 411.9L451.3 407.7L453.9 403.8L455.7 400.6L459.2 392.9L462.6 382.6L465.2 372.4L467.9 359.6L470.5 343.4L473.1 322.7L474.8 305.9L474.4 303.6L472.6 320.6L470 341.4L467.3 357.8L464.7 370.7L462 380.9L458.5 391.3L455 399.1L453.2 402.2L450.5 406.2L447 410.5L442.6 414.5L436.4 418.7L431 421.5L423 424.9L412.3 428.7L374.8 440.4Z" fill="url(#gd57)" stroke="url(#gd57)" stroke-width="0.7"/>
<path d="M474.8 305.9L476.6 322L480.5 346.4L480.2 344.4L476.2 319.9L474.4 303.6Z" fill="url(#gd58)" stroke="url(#gd58)" stroke-width="0.7"/>
<path d="M378.7 442.5L415 431.1L425.4 427.4L433.1 424.2L438.3 421.5L444.3 417.3L448.6 413.4L452 409.2L454.6 405.3L456.3 402.2L459.7 394.6L463.1 384.3L465.7 374.3L468.3 361.6L470.8 345.5L473.4 325.1L475.1 308.4L474.8 305.9L473.1 322.7L470.5 343.4L467.9 359.6L465.2 372.4L462.6 382.6L459.2 392.9L455.7 400.6L453.9 403.8L451.3 407.7L447.8 411.9L443.5 415.9L437.4 420.1L432.1 422.8L424.2 426.2L413.7 429.9L376.7 441.4Z" fill="url(#gd59)" stroke="url(#gd59)" stroke-width="0.7"/>
<path d="M475.1 308.4L476.9 324.4L480.7 348.5L480.5 346.4L476.6 322L474.8 305.9Z" fill="url(#gd60)" stroke="url(#gd60)" stroke-width="0.7"/>
<path d="M380.6 443.5L416.3 432.4L426.5 428.8L434.1 425.5L439.2 422.9L445.1 418.8L449.3 414.9L452.7 410.9L456.9 404L460.2 396.5L463.6 386.4L466.1 376.6L468.6 364.1L471.2 348.3L473.7 328.2L475.4 311.9L475.1 308.4L473.4 325.1L470.8 345.5L468.3 361.6L465.7 374.3L463.1 384.3L459.7 394.6L456.3 402.2L454.6 405.3L452 409.2L448.6 413.4L444.3 417.3L438.3 421.5L433.1 424.2L425.4 427.4L415 431.1L378.7 442.5Z" fill="url(#gd61)" stroke="url(#gd61)" stroke-width="0.7"/>
<path d="M475.4 311.9L477.1 327.5L480.9 351.3L480.7 348.5L476.9 324.4L475.1 308.4Z" fill="url(#gd62)" stroke="url(#gd62)" stroke-width="0.7"/>
<path d="M382.6 444.6L417.6 433.6L427.6 430.1L435.1 426.9L440.1 424.3L445.8 420.4L450 416.6L453.3 412.6L457.4 405.9L460.7 398.6L464 388.8L466.5 379.2L468.9 367L471.4 351.7L473.9 332.1L475.5 316.1L475.4 311.9L473.7 328.2L471.2 348.3L468.6 364.1L466.1 376.6L463.6 386.4L460.2 396.5L456.9 404L452.7 410.9L449.3 414.9L445.1 418.8L439.2 422.9L434.1 425.5L426.5 428.8L416.3 432.4L380.6 443.5Z" fill="url(#gd63)" stroke="url(#gd63)" stroke-width="0.7"/>
<path d="M475.5 316.1L477.2 331.4L480.9 354.5L480.9 351.3L477.1 327.5L475.4 311.9Z" fill="url(#gd64)" stroke="url(#gd64)" stroke-width="0.7"/>
<path d="M384.5 445.6L418.8 434.9L428.6 431.4L436 428.3L440.9 425.8L446.6 421.9L450.6 418.2L453.9 414.4L457.9 407.9L461.1 400.8L464.4 391.3L466.8 382L469.2 370.3L471.6 355.4L474.1 336.4L475.7 321L475.5 316.1L473.9 332.1L471.4 351.7L468.9 367L466.5 379.2L464 388.8L460.7 398.6L457.4 405.9L453.3 412.6L450 416.6L445.8 420.4L440.1 424.3L435.1 426.9L427.6 430.1L417.6 433.6L382.6 444.6Z" fill="url(#gd65)" stroke="url(#gd65)" stroke-width="0.7"/>
<path d="M475.7 321L477.3 335.8L481 358.1L480.9 354.5L477.2 331.4L475.5 316.1Z" fill="url(#gd66)" stroke="url(#gd66)" stroke-width="0.7"/>
<path d="M386.5 446.7L420.1 436.1L429.7 432.8L436.9 429.7L441.7 427.3L447.3 423.5L451.2 420L454.4 416.2L458.4 410L461.5 403.1L464.7 394L467.1 385L469.5 373.7L471.8 359.3L474.2 341.1L475.8 326.2L475.7 321L474.1 336.4L471.6 355.4L469.2 370.3L466.8 382L464.4 391.3L461.1 400.8L457.9 407.9L453.9 414.4L450.6 418.2L446.6 421.9L440.9 425.8L436 428.3L428.6 431.4L418.8 434.9L384.5 445.6Z" fill="url(#gd67)" stroke="url(#gd67)" stroke-width="0.7"/>
<path d="M475.8 326.2L477.4 340.4L481 361.9L481 358.1L477.3 335.8L475.7 321Z" fill="url(#gd68)" stroke="url(#gd68)" stroke-width="0.7"/>
<path d="M388.4 447.7L421.3 437.4L430.7 434.1L437.8 431.2L442.5 428.8L447.9 425.2L451.8 421.7L454.9 418.1L458.8 412.1L461.9 405.5L465 396.7L467.3 388.1L469.7 377.2L472 363.4L474.3 345.9L475.9 331.6L475.8 326.2L474.2 341.1L471.8 359.3L469.5 373.7L467.1 385L464.7 394L461.5 403.1L458.4 410L454.4 416.2L451.2 420L447.3 423.5L441.7 427.3L436.9 429.7L429.7 432.8L420.1 436.1L386.5 446.7Z" fill="url(#gd69)" stroke="url(#gd69)" stroke-width="0.7"/>
<path d="M475.9 331.6L477.5 345.2L481 365.8L481 361.9L477.4 340.4L475.8 326.2Z" fill="url(#gd70)" stroke="url(#gd70)" stroke-width="0.7"/>
<path d="M390.4 448.7L422.5 438.7L431.7 435.5L438.6 432.6L443.2 430.3L448.6 426.8L452.4 423.4L455.4 420L459.2 414.2L462.2 407.9L465.3 399.4L467.6 391.1L469.8 380.7L472.1 367.4L474.4 350.6L475.9 336.9L475.9 331.6L474.3 345.9L472 363.4L469.7 377.2L467.3 388.1L465 396.7L461.9 405.5L458.8 412.1L454.9 418.1L451.8 421.7L447.9 425.2L442.5 428.8L437.8 431.2L430.7 434.1L421.3 437.4L388.4 447.7Z" fill="url(#gd71)" stroke="url(#gd71)" stroke-width="0.7"/>
<path d="M475.9 336.9L477.5 350L480.9 369.7L481 365.8L477.5 345.2L475.9 331.6Z" fill="url(#gd72)" stroke="url(#gd72)" stroke-width="0.7"/>
<path d="M392.3 449.8L423.7 440L432.7 436.8L439.5 434.1L444 431.8L449.2 428.4L452.9 425.2L455.8 421.8L459.5 416.3L462.5 410.2L465.5 402L467.7 394.1L469.9 384L472.1 371.3L474.4 355.2L475.9 342L475.9 336.9L474.4 350.6L472.1 367.4L469.8 380.7L467.6 391.1L465.3 399.4L462.2 407.9L459.2 414.2L455.4 420L452.4 423.4L448.6 426.8L443.2 430.3L438.6 432.6L431.7 435.5L422.5 438.7L390.4 448.7Z" fill="url(#gd73)" stroke="url(#gd73)" stroke-width="0.7"/>
<path d="M475.9 342L477.4 354.5L480.7 373.4L480.9 369.7L477.5 350L475.9 336.9Z" fill="url(#gd74)" stroke="url(#gd74)" stroke-width="0.7"/>
<path d="M394.2 450.8L424.9 441.2L433.7 438.2L440.3 435.5L444.7 433.3L449.8 430L453.4 426.9L456.3 423.7L459.9 418.3L462.8 412.5L465.7 404.6L467.9 397L470.1 387.3L472.2 375.1L474.4 359.6L475.8 347L475.9 342L474.4 355.2L472.1 371.3L469.9 384L467.7 394.1L465.5 402L462.5 410.2L459.5 416.3L455.8 421.8L452.9 425.2L449.2 428.4L444 431.8L439.5 434.1L432.7 436.8L423.7 440L392.3 449.8Z" fill="url(#gd75)" stroke="url(#gd75)" stroke-width="0.7"/>
<path d="M475.8 347L477.3 359L480.6 377.1L480.7 373.4L477.4 354.5L475.9 342Z" fill="url(#gd76)" stroke="url(#gd76)" stroke-width="0.7"/>
<path d="M396.2 451.9L426.2 442.5L434.8 439.5L441.2 436.9L445.5 434.8L450.5 431.6L454 428.6L456.9 425.5L460.4 420.3L463.2 414.7L466.1 407.2L468.2 399.9L470.3 390.6L472.5 379L474.6 364.1L476 352L475.8 347L474.4 359.6L472.2 375.1L470.1 387.3L467.9 397L465.7 404.6L462.8 412.5L459.9 418.3L456.3 423.7L453.4 426.9L449.8 430L444.7 433.3L440.3 435.5L433.7 438.2L424.9 441.2L394.2 450.8Z" fill="url(#gd77)" stroke="url(#gd77)" stroke-width="0.7"/>
<path d="M476 352L477.4 363.5L480.6 380.8L480.6 377.1L477.3 359L475.8 347Z" fill="url(#gd78)" stroke="url(#gd78)" stroke-width="0.7"/>
<path d="M398.1 452.9L427.5 443.7L435.9 440.8L442.2 438.3L446.4 436.2L451.3 433.2L454.8 430.3L457.6 427.3L461 422.3L463.8 417L466.6 409.8L468.6 402.8L470.7 394L472.8 382.8L474.9 368.6L476.3 357.1L476 352L474.6 364.1L472.5 379L470.3 390.6L468.2 399.9L466.1 407.2L463.2 414.7L460.4 420.3L456.9 425.5L454 428.6L450.5 431.6L445.5 434.8L441.2 436.9L434.8 439.5L426.2 442.5L396.2 451.9Z" fill="url(#gd79)" stroke="url(#gd79)" stroke-width="0.7"/>
<path d="M476.3 357.1L477.7 368L480.8 384.5L480.6 380.8L477.4 363.5L476 352Z" fill="url(#gd80)" stroke="url(#gd80)" stroke-width="0.7"/>
<path d="M400.1 454L428.9 445L437.1 442.1L443.3 439.7L447.4 437.7L452.1 434.7L455.5 432L458.2 429.1L461.6 424.4L464.4 419.3L467.1 412.4L469.1 405.8L471.1 397.4L473.2 386.8L475.2 373.3L476.6 362.4L476.3 357.1L474.9 368.6L472.8 382.8L470.7 394L468.6 402.8L466.6 409.8L463.8 417L461 422.3L457.6 427.3L454.8 430.3L451.3 433.2L446.4 436.2L442.2 438.3L435.9 440.8L427.5 443.7L398.1 452.9Z" fill="url(#gd81)" stroke="url(#gd81)" stroke-width="0.7"/>
<path d="M476.6 362.4L478 372.7L481 388.3L480.8 384.5L477.7 368L476.3 357.1Z" fill="url(#gd82)" stroke="url(#gd82)" stroke-width="0.7"/>
<path d="M402 455L430.1 446.2L438.2 443.5L444.2 441.1L448.2 439.2L452.9 436.3L456.2 433.7L458.8 431L462.2 426.5L464.8 421.6L467.5 415.1L469.5 408.8L471.4 400.9L473.4 390.9L475.4 378.2L476.8 367.9L476.6 362.4L475.2 373.3L473.2 386.8L471.1 397.4L469.1 405.8L467.1 412.4L464.4 419.3L461.6 424.4L458.2 429.1L455.5 432L452.1 434.7L447.4 437.7L443.3 439.7L437.1 442.1L428.9 445L400.1 454Z" fill="url(#gd83)" stroke="url(#gd83)" stroke-width="0.7"/>
<path d="M476.8 367.9L478.1 377.6L481.1 392.3L481 388.3L478 372.7L476.6 362.4Z" fill="url(#gd84)" stroke="url(#gd84)" stroke-width="0.7"/>
<path d="M404 456L431.4 447.5L439.2 444.8L445.1 442.5L449 440.7L453.5 438L456.8 435.5L459.4 432.9L462.6 428.7L465.2 424.1L467.8 418L469.7 412.1L471.6 404.7L473.6 395.3L475.5 383.4L476.8 373.7L476.8 367.9L475.4 378.2L473.4 390.9L471.4 400.9L469.5 408.8L467.5 415.1L464.8 421.6L462.2 426.5L458.8 431L456.2 433.7L452.9 436.3L448.2 439.2L444.2 441.1L438.2 443.5L430.1 446.2L402 455Z" fill="url(#gd85)" stroke="url(#gd85)" stroke-width="0.7"/>
<path d="M476.8 373.7L477.9 381.3L480 391.9L480 387.3L477.8 376L476.8 367.9Z" fill="url(#gd86)" stroke="url(#gd86)" stroke-width="0.7"/>
<path d="M480 391.9L481 396.5L481.1 392.3L480 387.3Z" fill="#050558" stroke="#050558" stroke-width="0.7"/>
<path d="M405.9 457.1L432.6 448.8L440.2 446.2L445.9 444L449.7 442.2L454.2 439.7L457.3 437.3L459.8 434.9L463 430.9L465.5 426.6L468 421L469.9 415.5L471.8 408.6L473.6 399.9L475.5 388.9L476.8 379.9L476.8 373.7L475.5 383.4L473.6 395.3L471.6 404.7L469.7 412.1L467.8 418L465.2 424.1L462.6 428.7L459.4 432.9L456.8 435.5L453.5 438L449 440.7L445.1 442.5L439.2 444.8L431.4 447.5L404 456Z" fill="url(#gd87)" stroke="url(#gd87)" stroke-width="0.7"/>
<path d="M476.8 379.9L478.3 389.6L478.4 384.2L476.8 373.7Z" fill="url(#gd88)" stroke="url(#gd88)" stroke-width="0.7"/>
<path d="M478.3 389.6L480.9 400.9L481 396.5L478.4 384.2Z" fill="#050558" stroke="#050558" stroke-width="0.7"/>
<path d="M407.8 458.1L433.8 450.1L446.8 445.4L450.5 443.8L454.8 441.3L457.8 439.1L460.3 436.9L463.3 433.2L465.8 429.3L468.2 424.1L470.1 419.1L471.9 412.8L473.7 404.9L476.8 386.7L476.8 379.9L475.5 388.9L473.6 399.9L471.8 408.6L469.9 415.5L468 421L465.5 426.6L463 430.9L459.8 434.9L457.3 437.3L454.2 439.7L449.7 442.2L445.9 444L440.2 446.2L432.6 448.8L405.9 457.1Z" fill="url(#gd89)" stroke="url(#gd89)" stroke-width="0.7"/>
<path d="M476.8 386.7L477.8 393L477.8 386.9L476.8 379.9Z" fill="#908851" stroke="#908851" stroke-width="0.7"/>
<path d="M477.8 393L480.8 405.6L480.9 400.9L477.8 386.9Z" fill="url(#gd90)" stroke="url(#gd90)" stroke-width="0.7"/>
<path d="M409.8 459.2L435 451.4L447.7 446.9L451.3 445.3L455.4 443.1L458.4 441L460.8 439L463.8 435.6L466.2 432.1L468.5 427.4L470.3 422.9L472.1 417.2L473.9 410.2L476.9 393.9L476.8 386.7L473.7 404.9L471.9 412.8L470.1 419.1L468.2 424.1L465.8 429.3L463.3 433.2L460.3 436.9L457.8 439.1L454.8 441.3L450.5 443.8L446.8 445.4L433.8 450.1L407.8 458.1Z" fill="url(#gd91)" stroke="url(#gd91)" stroke-width="0.7"/>
<path d="M476.9 393.9L477.6 398.4L477.6 391.7L476.8 386.7Z" fill="#1a8d73" stroke="#1a8d73" stroke-width="0.7"/>
<path d="M477.6 398.4L480.8 410.6L480.8 405.6L477.6 391.7Z" fill="url(#gd92)" stroke="url(#gd92)" stroke-width="0.7"/>
<path d="M411.7 460.2L436.3 452.6L448.5 448.4L456.1 444.8L459 442.9L461.3 441.1L464.2 438.1L466.5 434.9L468.8 430.8L470.5 426.9L472.3 421.9L474 415.8L476.9 401.6L476.9 393.9L473.9 410.2L472.1 417.2L470.3 422.9L468.5 427.4L466.2 432.1L463.8 435.6L460.8 439L458.4 441L455.4 443.1L451.3 445.3L447.7 446.9L435 451.4L409.8 459.2Z" fill="url(#gd93)" stroke="url(#gd93)" stroke-width="0.7"/>
<path d="M476.9 401.6L477.1 403.2L477.1 395.8L476.9 393.9Z" fill="#09cac1" stroke="#09cac1" stroke-width="0.7"/>
<path d="M477.1 403.2L478.6 409.1L480.7 415.9L480.8 410.6L478.6 402.6L477.1 395.8Z" fill="url(#gd94)" stroke="url(#gd94)" stroke-width="0.7"/>
<path d="M413.7 461.3L437.4 453.9L449.3 449.9L456.7 446.6L461.7 443.3L464.5 440.7L466.7 437.9L469 434.4L470.7 431L472.3 426.9L474 421.6L476.8 409.7L478 414.5L480.5 421.5L480.7 415.9L478.1 407.4L476.9 401.6L474 415.8L472.3 421.9L470.5 426.9L468.8 430.8L466.5 434.9L464.2 438.1L461.3 441.1L459 442.9L456.1 444.8L448.5 448.4L436.3 452.6L411.7 460.2Z" fill="url(#gd95)" stroke="url(#gd95)" stroke-width="0.7"/>
<path d="M415.6 462.3L438.5 455.2L450 451.4L457.1 448.4L461.9 445.5L464.6 443.3L466.8 441.1L469 438.2L470.6 435.4L472.2 432L473.8 427.8L476.5 418.3L477.6 422L480.1 427.4L480.5 421.5L478 414.5L476.8 409.7L474 421.6L472.3 426.9L470.7 431L469 434.4L466.7 437.9L464.5 440.7L461.7 443.3L456.7 446.6L449.3 449.9L437.4 453.9L413.7 461.3Z" fill="url(#gd96)" stroke="url(#gd96)" stroke-width="0.7"/>
<path d="M417.6 463.4L450.7 452.9L457.5 450.3L462.2 447.9L464.8 446.1L466.9 444.4L470.5 440.1L473.7 434.6L476.3 427.7L477.3 430.2L479.7 433.8L480.1 427.4L477.6 422L476.5 418.3L473.8 427.8L472.2 432L470.6 435.4L469 438.2L466.8 441.1L464.6 443.3L461.9 445.5L457.1 448.4L450 451.4L438.5 455.2L415.6 462.3Z" fill="url(#gd97)" stroke="url(#gd97)" stroke-width="0.7"/>
<path d="M419.5 464.4L451.7 454.4L458.3 452.1L462.8 450.2L467.4 447.6L470.9 444.8L473.9 441.4L476.5 437.2L477.5 438.5L479.8 440.1L479.7 433.8L477.3 430.2L476.3 427.7L473.7 434.6L470.5 440.1L466.9 444.4L464.8 446.1L462.2 447.9L457.5 450.3L450.7 452.9L417.6 463.4Z" fill="url(#gd98)" stroke="url(#gd98)" stroke-width="0.7"/>
<g stroke-width="0.8" fill="none"><line x1="419.5" y1="464.4" x2="543" y2="426.7" stroke="#aaaaaa"/><line x1="419.5" y1="464.4" x2="324" y2="415" stroke="#aaaaaa"/><line x1="324" y1="415" x2="324" y2="306.4" stroke="#c4c4c4"/><line x1="434.9" y1="459.7" x2="433" y2="458.7" stroke="#444"/><line x1="469.6" y1="449.1" x2="467.7" y2="448.1" stroke="#444"/><line x1="504.3" y1="438.5" x2="502.4" y2="437.5" stroke="#444"/><line x1="539" y1="427.9" x2="537.1" y2="426.9" stroke="#444"/><line x1="406.6" y1="457.8" x2="408.5" y2="457.2" stroke="#444"/><line x1="385" y1="446.6" x2="386.9" y2="446" stroke="#444"/><line x1="363.4" y1="435.4" x2="365.3" y2="434.8" stroke="#444"/><line x1="341.8" y1="424.2" x2="343.7" y2="423.7" stroke="#444"/><line x1="324" y1="415" x2="322.2" y2="415.3" stroke="#444"/><line x1="324" y1="393.5" x2="322.2" y2="393.8" stroke="#444"/><line x1="324" y1="372" x2="322.2" y2="372.3" stroke="#444"/><line x1="324" y1="350.5" x2="322.2" y2="350.8" stroke="#444"/><line x1="324" y1="329" x2="322.2" y2="329.3" stroke="#444"/><line x1="324" y1="307.5" x2="322.2" y2="307.8" stroke="#444"/></g>
<g font-size="5.8" fill="#1a1a1a"><text x="320.2" y="417.1" text-anchor="end">0</text><text x="320.2" y="395.6" text-anchor="end">1</text><text x="320.2" y="374" text-anchor="end">2</text><text x="320.2" y="352.5" text-anchor="end">3</text><text x="320.2" y="331" text-anchor="end">4</text><text x="320.2" y="309.5" text-anchor="end">5</text><text x="399.4" y="464.8" text-anchor="middle">0.6</text><text x="377.8" y="453.6" text-anchor="middle">0.8</text><text x="356.2" y="442.5" text-anchor="middle">1</text><text x="334.6" y="431.3" text-anchor="middle">1.2</text><text x="439.1" y="468.8" text-anchor="middle">-5</text><text x="473.8" y="458.2" text-anchor="middle">0</text><text x="508.5" y="447.6" text-anchor="middle">5</text><text x="543.2" y="437" text-anchor="middle">10</text></g>
<text x="331.9" y="476.8" font-size="8.85" fill="#111">Eq. Ratio</text>
<text x="476.1" y="479.8" font-size="8.97" fill="#111">Unscaled Progr. Variable</text>
<text x="313.2" y="362.4" font-size="9.0" text-anchor="middle" font-weight="bold" transform="rotate(-90 313.2 362.4)">OH Mass Fraction</text>
<linearGradient id="cbd" x1="0" y1="0" x2="0" y2="1"><stop offset="0.000" stop-color="#800000"/><stop offset="0.125" stop-color="#ff0000"/><stop offset="0.375" stop-color="#ffff00"/><stop offset="0.625" stop-color="#00ffff"/><stop offset="0.875" stop-color="#0000ff"/><stop offset="1.000" stop-color="#000080"/></linearGradient>
<rect x="552.1" y="269.7" width="11.2" height="195.5" fill="url(#cbd)" stroke="#999" stroke-width="0.5"/>
<g stroke="#222" stroke-width="0.6"><line x1="552.1" y1="465.2" x2="553.4" y2="465.2"/><line x1="563.3" y1="465.2" x2="562" y2="465.2"/><line x1="552.1" y1="445.8" x2="553.4" y2="445.8"/><line x1="563.3" y1="445.8" x2="562" y2="445.8"/><line x1="552.1" y1="426.4" x2="553.4" y2="426.4"/><line x1="563.3" y1="426.4" x2="562" y2="426.4"/><line x1="552.1" y1="407" x2="553.4" y2="407"/><line x1="563.3" y1="407" x2="562" y2="407"/><line x1="552.1" y1="387.6" x2="553.4" y2="387.6"/><line x1="563.3" y1="387.6" x2="562" y2="387.6"/><line x1="552.1" y1="368.1" x2="553.4" y2="368.1"/><line x1="563.3" y1="368.1" x2="562" y2="368.1"/><line x1="552.1" y1="348.7" x2="553.4" y2="348.7"/><line x1="563.3" y1="348.7" x2="562" y2="348.7"/><line x1="552.1" y1="329.3" x2="553.4" y2="329.3"/><line x1="563.3" y1="329.3" x2="562" y2="329.3"/><line x1="552.1" y1="309.9" x2="553.4" y2="309.9"/><line x1="563.3" y1="309.9" x2="562" y2="309.9"/><line x1="552.1" y1="290.5" x2="553.4" y2="290.5"/><line x1="563.3" y1="290.5" x2="562" y2="290.5"/><line x1="552.1" y1="271.1" x2="553.4" y2="271.1"/><line x1="563.3" y1="271.1" x2="562" y2="271.1"/></g>
<g font-size="5.8" fill="#1a1a1a"><text x="565.6" y="467.3">0</text><text x="565.6" y="447.8">0.5</text><text x="565.6" y="428.4">1</text><text x="565.6" y="409">1.5</text><text x="565.6" y="389.6">2</text><text x="565.6" y="370.2">2.5</text><text x="565.6" y="350.8">3</text><text x="565.6" y="331.4">3.5</text><text x="565.6" y="312">4</text><text x="565.6" y="292.6">4.5</text><text x="565.6" y="273.2">5</text></g>
<g fill="#1a1a1a"><text x="324.6" y="295.6" font-size="5.4">x 10</text><text x="335.3" y="291.4" font-size="3.8">-3</text><text x="563.2" y="267.8" font-size="5.4">x 10</text><text x="573.9" y="263.6" font-size="3.8">-3</text></g>
<g stroke="#e8e8e8" stroke-width="0.65" stroke-dasharray="2.2 1.3" fill="none"><line x1="43" y1="679.9" x2="43" y2="572.7" /><line x1="77.7" y1="669.3" x2="77.7" y2="562.1" /><line x1="112.4" y1="658.7" x2="112.4" y2="551.5" /><line x1="147.1" y1="648.1" x2="147.1" y2="540.9" /><line x1="27.6" y1="677.8" x2="151.1" y2="640.1" /><line x1="27.6" y1="667" x2="151.1" y2="629.3" /><line x1="27.6" y1="656.2" x2="151.1" y2="618.5" /><line x1="27.6" y1="645.4" x2="151.1" y2="607.7" /><line x1="27.6" y1="634.6" x2="151.1" y2="596.9" /><line x1="27.6" y1="623.8" x2="151.1" y2="586.1" /><line x1="27.6" y1="613" x2="151.1" y2="575.3" /><line x1="27.6" y1="602.1" x2="151.1" y2="564.4" /><line x1="27.6" y1="591.3" x2="151.1" y2="553.6" /><line x1="27.6" y1="580.5" x2="151.1" y2="542.8" /><line x1="233.3" y1="689.6" x2="233.3" y2="582.4" /><line x1="211.8" y1="678.5" x2="211.8" y2="571.3" /><line x1="190.3" y1="667.3" x2="190.3" y2="560.1" /><line x1="168.8" y1="656.1" x2="168.8" y2="548.9" /><line x1="246.1" y1="689.5" x2="151.1" y2="640.1" /><line x1="246.1" y1="678.7" x2="151.1" y2="629.3" /><line x1="246.1" y1="667.9" x2="151.1" y2="618.5" /><line x1="246.1" y1="657.1" x2="151.1" y2="607.7" /><line x1="246.1" y1="646.3" x2="151.1" y2="596.9" /><line x1="246.1" y1="635.5" x2="151.1" y2="586.1" /><line x1="246.1" y1="624.7" x2="151.1" y2="575.3" /><line x1="246.1" y1="613.8" x2="151.1" y2="564.4" /><line x1="246.1" y1="603" x2="151.1" y2="553.6" /><line x1="246.1" y1="592.2" x2="151.1" y2="542.8" /><line x1="138" y1="729.3" x2="43" y2="679.9" /><line x1="172.7" y1="718.7" x2="77.7" y2="669.3" /><line x1="207.4" y1="708.1" x2="112.4" y2="658.7" /><line x1="242.1" y1="697.5" x2="147.1" y2="648.1" /><line x1="109.8" y1="727.4" x2="233.3" y2="689.6" /><line x1="88.3" y1="716.2" x2="211.8" y2="678.5" /><line x1="66.8" y1="705" x2="190.3" y2="667.3" /><line x1="45.3" y1="693.8" x2="168.8" y2="656.1" /></g>
<defs><linearGradient id="ge0" gradientUnits="userSpaceOnUse" x1="31" y1="583.1" x2="13.1" y2="609.1"><stop offset="0" stop-color="#8e0808"/><stop offset=".126" stop-color="#ad0d08"/><stop offset=".64" stop-color="#a4a60a"/><stop offset=".892" stop-color="#3c9d69"/><stop offset=".979" stop-color="#089395"/><stop offset=".999" stop-color="#08748f"/><stop offset="1" stop-color="#086e8e"/></linearGradient><linearGradient id="ge1" gradientUnits="userSpaceOnUse" x1="58.9" y1="640.7" x2="87" y2="600.2"><stop offset="0" stop-color="#086e8e"/><stop offset="0" stop-color="#08a8df"/><stop offset=".002" stop-color="#089bec"/><stop offset=".019" stop-color="#0881ff"/><stop offset=".093" stop-color="#0848ff"/><stop offset=".231" stop-color="#0809ff"/><stop offset=".58" stop-color="#0808fb"/><stop offset="1" stop-color="#0808c8"/></linearGradient><linearGradient id="ge2" gradientUnits="userSpaceOnUse" x1="33.3" y1="584.2" x2="15.1" y2="610.4"><stop offset="0" stop-color="#8e0808"/><stop offset=".127" stop-color="#ad0d08"/><stop offset=".641" stop-color="#a3a60b"/><stop offset=".893" stop-color="#3a9d6b"/><stop offset=".979" stop-color="#089295"/><stop offset=".998" stop-color="#087590"/><stop offset="1" stop-color="#086d8e"/></linearGradient><linearGradient id="ge3" gradientUnits="userSpaceOnUse" x1="61.2" y1="642.3" x2="89.3" y2="601.8"><stop offset="0" stop-color="#086d8e"/><stop offset="0" stop-color="#08a6de"/><stop offset=".002" stop-color="#089bea"/><stop offset=".02" stop-color="#087eff"/><stop offset=".088" stop-color="#0848ff"/><stop offset=".224" stop-color="#0809ff"/><stop offset=".561" stop-color="#0808fc"/><stop offset="1" stop-color="#0808c6"/></linearGradient><linearGradient id="ge4" gradientUnits="userSpaceOnUse" x1="35.6" y1="585.3" x2="17.2" y2="611.6"><stop offset="0" stop-color="#8d0808"/><stop offset=".128" stop-color="#ad0c08"/><stop offset=".629" stop-color="#a7a608"/><stop offset=".878" stop-color="#409e66"/><stop offset=".976" stop-color="#089496"/><stop offset=".998" stop-color="#087490"/><stop offset="1" stop-color="#086b8e"/></linearGradient><linearGradient id="ge5" gradientUnits="userSpaceOnUse" x1="63.4" y1="643.9" x2="91.7" y2="603.4"><stop offset="0" stop-color="#086b8e"/><stop offset="0" stop-color="#08a3de"/><stop offset=".002" stop-color="#0896eb"/><stop offset=".02" stop-color="#087bff"/><stop offset=".094" stop-color="#0843ff"/><stop offset=".218" stop-color="#0809ff"/><stop offset=".552" stop-color="#0808fb"/><stop offset="1" stop-color="#0808c4"/></linearGradient><linearGradient id="ge6" gradientUnits="userSpaceOnUse" x1="37.9" y1="586.4" x2="19.3" y2="613.2"><stop offset="0" stop-color="#8c0808"/><stop offset=".128" stop-color="#ad0c08"/><stop offset=".628" stop-color="#a6a708"/><stop offset=".877" stop-color="#3f9f67"/><stop offset=".976" stop-color="#089396"/><stop offset=".998" stop-color="#087390"/><stop offset="1" stop-color="#086a8e"/></linearGradient><linearGradient id="ge7" gradientUnits="userSpaceOnUse" x1="65.6" y1="645.5" x2="93.6" y2="605.2"><stop offset="0" stop-color="#086a8e"/><stop offset="0" stop-color="#089ee0"/><stop offset=".005" stop-color="#088df1"/><stop offset=".021" stop-color="#0876ff"/><stop offset=".097" stop-color="#083eff"/><stop offset=".217" stop-color="#0808ff"/><stop offset=".542" stop-color="#0808fa"/><stop offset="1" stop-color="#0808c2"/></linearGradient><linearGradient id="ge8" gradientUnits="userSpaceOnUse" x1="40.3" y1="587.5" x2="21.3" y2="615.2"><stop offset="0" stop-color="#8b0808"/><stop offset=".128" stop-color="#ad0b08"/><stop offset=".626" stop-color="#a6a709"/><stop offset=".882" stop-color="#3a9e6c"/><stop offset=".974" stop-color="#089296"/><stop offset=".998" stop-color="#086f90"/><stop offset="1" stop-color="#08648d"/><stop offset="1" stop-color="#089ae1"/><stop offset="1" stop-color="#0898e3"/></linearGradient><linearGradient id="ge9" gradientUnits="userSpaceOnUse" x1="69.6" y1="648.3" x2="96.9" y2="608.4"><stop offset="0" stop-color="#0898e3"/><stop offset=".01" stop-color="#0880f9"/><stop offset=".03" stop-color="#0869ff"/><stop offset=".119" stop-color="#082eff"/><stop offset=".214" stop-color="#0808ff"/><stop offset=".521" stop-color="#0808fb"/><stop offset=".988" stop-color="#0808c1"/><stop offset="1" stop-color="#0808c0"/></linearGradient><linearGradient id="ge10" gradientUnits="userSpaceOnUse" x1="42.6" y1="588.6" x2="23.3" y2="617.4"><stop offset="0" stop-color="#8a0808"/><stop offset=".127" stop-color="#ad0b08"/><stop offset=".622" stop-color="#a5a70a"/><stop offset=".886" stop-color="#359e71"/><stop offset=".967" stop-color="#089497"/><stop offset=".997" stop-color="#086e90"/><stop offset="1" stop-color="#08638d"/><stop offset="1" stop-color="#0895e2"/></linearGradient><linearGradient id="ge11" gradientUnits="userSpaceOnUse" x1="71.8" y1="649.8" x2="98.1" y2="610.5"><stop offset="0" stop-color="#0895e2"/><stop offset=".007" stop-color="#0881f6"/><stop offset=".023" stop-color="#086cff"/><stop offset=".101" stop-color="#0834ff"/><stop offset=".197" stop-color="#0808ff"/><stop offset=".499" stop-color="#0808fc"/><stop offset=".953" stop-color="#0808c3"/><stop offset="1" stop-color="#0808be"/></linearGradient><linearGradient id="ge12" gradientUnits="userSpaceOnUse" x1="44.9" y1="589.6" x2="25.4" y2="619.6"><stop offset="0" stop-color="#890808"/><stop offset=".126" stop-color="#ad0a08"/><stop offset=".618" stop-color="#a5a70a"/><stop offset=".889" stop-color="#309e75"/><stop offset=".964" stop-color="#089397"/><stop offset=".996" stop-color="#086d90"/><stop offset="1" stop-color="#085f8d"/><stop offset="1" stop-color="#0893e2"/></linearGradient><linearGradient id="ge13" gradientUnits="userSpaceOnUse" x1="74.1" y1="651.3" x2="99.3" y2="612.6"><stop offset="0" stop-color="#0893e2"/><stop offset=".003" stop-color="#0883f1"/><stop offset=".018" stop-color="#086dff"/><stop offset=".083" stop-color="#083aff"/><stop offset=".187" stop-color="#0808ff"/><stop offset=".487" stop-color="#0808fb"/><stop offset=".964" stop-color="#0808c0"/><stop offset="1" stop-color="#0808bd"/></linearGradient><linearGradient id="ge14" gradientUnits="userSpaceOnUse" x1="47.2" y1="590.7" x2="27.5" y2="621.1"><stop offset="0" stop-color="#880808"/><stop offset=".126" stop-color="#ad0908"/><stop offset=".618" stop-color="#a4a80b"/><stop offset=".881" stop-color="#339f73"/><stop offset=".963" stop-color="#089397"/><stop offset=".996" stop-color="#086c90"/><stop offset="1" stop-color="#085c8d"/></linearGradient><linearGradient id="ge15" gradientUnits="userSpaceOnUse" x1="76.3" y1="652.7" x2="101.2" y2="614.3"><stop offset="0" stop-color="#085c8d"/><stop offset="0" stop-color="#088fe3"/><stop offset=".005" stop-color="#087df5"/><stop offset=".02" stop-color="#0868ff"/><stop offset=".091" stop-color="#0832ff"/><stop offset=".186" stop-color="#0808ff"/><stop offset=".477" stop-color="#0808fb"/><stop offset=".941" stop-color="#0808c1"/><stop offset="1" stop-color="#0808bb"/></linearGradient><linearGradient id="ge16" gradientUnits="userSpaceOnUse" x1="49.5" y1="591.8" x2="29.6" y2="622.3"><stop offset="0" stop-color="#870808"/><stop offset=".127" stop-color="#ad0908"/><stop offset=".619" stop-color="#a4a80c"/><stop offset=".881" stop-color="#329f74"/><stop offset=".959" stop-color="#089698"/><stop offset=".994" stop-color="#086e91"/><stop offset="1" stop-color="#085b8d"/></linearGradient><linearGradient id="ge17" gradientUnits="userSpaceOnUse" x1="78.5" y1="654.2" x2="103.5" y2="615.8"><stop offset="0" stop-color="#085b8d"/><stop offset="0" stop-color="#088de3"/><stop offset=".005" stop-color="#087bf4"/><stop offset=".02" stop-color="#0867ff"/><stop offset=".082" stop-color="#0836ff"/><stop offset=".18" stop-color="#0808ff"/><stop offset=".468" stop-color="#0808fb"/><stop offset=".929" stop-color="#0808c1"/><stop offset="1" stop-color="#0808ba"/></linearGradient><linearGradient id="ge18" gradientUnits="userSpaceOnUse" x1="51.9" y1="592.9" x2="31.8" y2="624.4"><stop offset="0" stop-color="#860808"/><stop offset=".141" stop-color="#ad0d08"/><stop offset=".615" stop-color="#a4a80c"/><stop offset=".885" stop-color="#2e9f78"/><stop offset=".956" stop-color="#089598"/><stop offset=".993" stop-color="#086e91"/><stop offset="1" stop-color="#085b8d"/></linearGradient><linearGradient id="ge19" gradientUnits="userSpaceOnUse" x1="80.7" y1="655.6" x2="104.8" y2="617.8"><stop offset="0" stop-color="#085b8d"/><stop offset="0" stop-color="#0889e4"/><stop offset=".004" stop-color="#0879f3"/><stop offset=".018" stop-color="#0865ff"/><stop offset=".083" stop-color="#0832ff"/><stop offset=".175" stop-color="#0808ff"/><stop offset=".455" stop-color="#0808fb"/><stop offset=".94" stop-color="#0808be"/><stop offset="1" stop-color="#0808b9"/></linearGradient><linearGradient id="ge20" gradientUnits="userSpaceOnUse" x1="54.2" y1="594" x2="34" y2="627"><stop offset="0" stop-color="#850808"/><stop offset=".139" stop-color="#ad0c08"/><stop offset=".609" stop-color="#a4a80c"/><stop offset=".886" stop-color="#2a9e7c"/><stop offset=".951" stop-color="#089599"/><stop offset=".994" stop-color="#086890"/><stop offset="1" stop-color="#08558c"/><stop offset="1" stop-color="#08538c"/><stop offset="1" stop-color="#0884e7"/></linearGradient><linearGradient id="ge21" gradientUnits="userSpaceOnUse" x1="84.8" y1="658.1" x2="107.4" y2="621.3"><stop offset="0" stop-color="#0884e7"/><stop offset=".006" stop-color="#0871f8"/><stop offset=".024" stop-color="#085aff"/><stop offset=".097" stop-color="#0827ff"/><stop offset=".169" stop-color="#0808ff"/><stop offset=".44" stop-color="#0808fb"/><stop offset=".892" stop-color="#0808c2"/><stop offset="1" stop-color="#0808b8"/></linearGradient><linearGradient id="ge22" gradientUnits="userSpaceOnUse" x1="56.5" y1="595.1" x2="36.2" y2="629"><stop offset="0" stop-color="#840808"/><stop offset=".138" stop-color="#ad0b08"/><stop offset=".592" stop-color="#a8a808"/><stop offset=".859" stop-color="#35a072"/><stop offset=".948" stop-color="#089599"/><stop offset=".992" stop-color="#086891"/><stop offset="1" stop-color="#08538c"/><stop offset="1" stop-color="#08508b"/></linearGradient><linearGradient id="ge23" gradientUnits="userSpaceOnUse" x1="87" y1="659.5" x2="108.8" y2="623.2"><stop offset="0" stop-color="#08508b"/><stop offset="0" stop-color="#0880e8"/><stop offset=".008" stop-color="#086bfb"/><stop offset=".047" stop-color="#0843ff"/><stop offset=".153" stop-color="#0809ff"/><stop offset=".437" stop-color="#0808fa"/><stop offset=".915" stop-color="#0808bf"/><stop offset="1" stop-color="#0808b7"/></linearGradient><linearGradient id="ge24" gradientUnits="userSpaceOnUse" x1="58.8" y1="596.2" x2="38.4" y2="630.7"><stop offset="0" stop-color="#830808"/><stop offset=".138" stop-color="#ae0b08"/><stop offset=".59" stop-color="#a9a808"/><stop offset=".865" stop-color="#31a076"/><stop offset=".946" stop-color="#089599"/><stop offset=".992" stop-color="#086891"/><stop offset="1" stop-color="#08538c"/><stop offset="1" stop-color="#08508b"/></linearGradient><linearGradient id="ge25" gradientUnits="userSpaceOnUse" x1="89.2" y1="660.8" x2="110.5" y2="624.9"><stop offset="0" stop-color="#08508b"/><stop offset="0" stop-color="#087fe8"/><stop offset=".005" stop-color="#086cf8"/><stop offset=".023" stop-color="#0855ff"/><stop offset=".106" stop-color="#081dff"/><stop offset=".163" stop-color="#0808ff"/><stop offset=".426" stop-color="#0808fb"/><stop offset=".867" stop-color="#0808c3"/><stop offset="1" stop-color="#0808b7"/></linearGradient><linearGradient id="ge26" gradientUnits="userSpaceOnUse" x1="61.1" y1="597.3" x2="40.6" y2="632.3"><stop offset="0" stop-color="#820808"/><stop offset=".137" stop-color="#ae0a08"/><stop offset=".589" stop-color="#a9a708"/><stop offset=".863" stop-color="#31a076"/><stop offset=".945" stop-color="#089599"/><stop offset=".993" stop-color="#086591"/><stop offset="1" stop-color="#08508c"/></linearGradient><linearGradient id="ge27" gradientUnits="userSpaceOnUse" x1="91.5" y1="662.1" x2="112.4" y2="626.5"><stop offset="0" stop-color="#08508c"/><stop offset="0" stop-color="#087de9"/><stop offset=".006" stop-color="#0869fa"/><stop offset=".047" stop-color="#0840ff"/><stop offset=".149" stop-color="#0808ff"/><stop offset=".424" stop-color="#0808fa"/><stop offset=".89" stop-color="#0808c0"/><stop offset="1" stop-color="#0808b6"/></linearGradient><linearGradient id="ge28" gradientUnits="userSpaceOnUse" x1="63.5" y1="598.4" x2="42.9" y2="634.8"><stop offset="0" stop-color="#810808"/><stop offset=".136" stop-color="#ae0908"/><stop offset=".596" stop-color="#a5a90b"/><stop offset=".88" stop-color="#269f80"/><stop offset=".94" stop-color="#08969a"/><stop offset=".992" stop-color="#086390"/><stop offset="1" stop-color="#084e8b"/><stop offset="1" stop-color="#084a8a"/><stop offset="1" stop-color="#0877eb"/></linearGradient><linearGradient id="ge29" gradientUnits="userSpaceOnUse" x1="95.6" y1="664.5" x2="115.1" y2="629.8"><stop offset="0" stop-color="#0877eb"/><stop offset=".008" stop-color="#0861fe"/><stop offset=".057" stop-color="#0835ff"/><stop offset=".148" stop-color="#0808ff"/><stop offset=".409" stop-color="#0808fb"/><stop offset=".865" stop-color="#0808c2"/><stop offset="1" stop-color="#0808b6"/></linearGradient><linearGradient id="ge30" gradientUnits="userSpaceOnUse" x1="65.8" y1="599.4" x2="45.4" y2="637.6"><stop offset="0" stop-color="#800808"/><stop offset=".133" stop-color="#ae0808"/><stop offset=".588" stop-color="#a7a90a"/><stop offset=".878" stop-color="#249f83"/><stop offset=".933" stop-color="#08979a"/><stop offset=".988" stop-color="#086491"/><stop offset="1" stop-color="#084b8b"/><stop offset="1" stop-color="#08498a"/></linearGradient><linearGradient id="ge31" gradientUnits="userSpaceOnUse" x1="97.7" y1="665.6" x2="115.5" y2="632.3"><stop offset="0" stop-color="#08498a"/><stop offset="0" stop-color="#084489"/><stop offset=".001" stop-color="#084088"/><stop offset=".001" stop-color="#086bf2"/><stop offset=".012" stop-color="#0858ff"/><stop offset=".066" stop-color="#082bff"/><stop offset=".145" stop-color="#0808ff"/><stop offset=".4" stop-color="#0808fa"/><stop offset=".862" stop-color="#0808c2"/><stop offset="1" stop-color="#0808b6"/></linearGradient><linearGradient id="ge32" gradientUnits="userSpaceOnUse" x1="68.1" y1="600.5" x2="47.3" y2="634"><stop offset="0" stop-color="#7f0808"/><stop offset=".152" stop-color="#ae0b08"/><stop offset=".604" stop-color="#a9a908"/><stop offset=".873" stop-color="#31a076"/><stop offset=".952" stop-color="#08969a"/><stop offset=".993" stop-color="#086992"/><stop offset="1" stop-color="#08548d"/></linearGradient><linearGradient id="ge33" gradientUnits="userSpaceOnUse" x1="97.9" y1="665.5" x2="120" y2="630"><stop offset="0" stop-color="#08548d"/><stop offset=".002" stop-color="#084689"/><stop offset=".003" stop-color="#0873ee"/><stop offset=".021" stop-color="#085bff"/><stop offset=".092" stop-color="#0829ff"/><stop offset=".17" stop-color="#0808ff"/><stop offset=".436" stop-color="#0808fa"/><stop offset=".915" stop-color="#0808c0"/><stop offset="1" stop-color="#0808b8"/></linearGradient><linearGradient id="ge34" gradientUnits="userSpaceOnUse" x1="70.4" y1="601.6" x2="49.6" y2="633.3"><stop offset="0" stop-color="#7e0808"/><stop offset=".152" stop-color="#ae0a08"/><stop offset=".62" stop-color="#a6a90a"/><stop offset=".884" stop-color="#31a077"/><stop offset=".958" stop-color="#08969a"/><stop offset=".995" stop-color="#086c92"/><stop offset="1" stop-color="#08598e"/><stop offset="1" stop-color="#08578e"/></linearGradient><linearGradient id="ge35" gradientUnits="userSpaceOnUse" x1="99.8" y1="666.4" x2="123" y2="631"><stop offset="0" stop-color="#08578e"/><stop offset=".004" stop-color="#084689"/><stop offset=".006" stop-color="#084489"/><stop offset=".007" stop-color="#0871f0"/><stop offset=".029" stop-color="#0859ff"/><stop offset=".115" stop-color="#0823ff"/><stop offset=".186" stop-color="#0808ff"/><stop offset=".457" stop-color="#0808fa"/><stop offset=".963" stop-color="#0808be"/><stop offset="1" stop-color="#0808bb"/></linearGradient><linearGradient id="ge36" gradientUnits="userSpaceOnUse" x1="72.7" y1="602.7" x2="51.9" y2="633.5"><stop offset="0" stop-color="#7e0808"/><stop offset=".151" stop-color="#ae0808"/><stop offset=".618" stop-color="#a9a808"/><stop offset=".875" stop-color="#38a171"/><stop offset=".962" stop-color="#08969a"/><stop offset=".996" stop-color="#086c92"/><stop offset="1" stop-color="#085c8f"/><stop offset="1" stop-color="#085a8e"/></linearGradient><linearGradient id="ge37" gradientUnits="userSpaceOnUse" x1="101.6" y1="667.2" x2="125.2" y2="632.5"><stop offset="0" stop-color="#085a8e"/><stop offset=".004" stop-color="#08498a"/><stop offset=".007" stop-color="#084589"/><stop offset=".008" stop-color="#0872ef"/><stop offset=".031" stop-color="#085aff"/><stop offset=".126" stop-color="#0822ff"/><stop offset=".199" stop-color="#0808ff"/><stop offset=".475" stop-color="#0808fb"/><stop offset=".976" stop-color="#0808c0"/><stop offset="1" stop-color="#0808be"/></linearGradient><linearGradient id="ge38" gradientUnits="userSpaceOnUse" x1="75.1" y1="603.8" x2="54.2" y2="633.7"><stop offset="0" stop-color="#7d0808"/><stop offset=".164" stop-color="#ae0b08"/><stop offset=".628" stop-color="#a7a909"/><stop offset=".881" stop-color="#37a171"/><stop offset=".965" stop-color="#08969a"/><stop offset=".996" stop-color="#087093"/><stop offset="1" stop-color="#085f8f"/><stop offset="1" stop-color="#085d8f"/></linearGradient><linearGradient id="ge39" gradientUnits="userSpaceOnUse" x1="103.4" y1="668.1" x2="127.1" y2="634.1"><stop offset="0" stop-color="#085d8f"/><stop offset=".003" stop-color="#084e8b"/><stop offset=".007" stop-color="#08488a"/><stop offset=".008" stop-color="#0876ed"/><stop offset=".034" stop-color="#085cff"/><stop offset=".13" stop-color="#0824ff"/><stop offset=".211" stop-color="#0808ff"/><stop offset=".503" stop-color="#0808fa"/><stop offset="1" stop-color="#0808c1"/></linearGradient><linearGradient id="ge40" gradientUnits="userSpaceOnUse" x1="77.4" y1="604.9" x2="56.3" y2="636.1"><stop offset="0" stop-color="#7c0808"/><stop offset=".159" stop-color="#ae0908"/><stop offset=".629" stop-color="#a5a90b"/><stop offset=".884" stop-color="#33a075"/><stop offset=".961" stop-color="#08969a"/><stop offset=".995" stop-color="#086d93"/><stop offset="1" stop-color="#085b8e"/><stop offset="1" stop-color="#08568d"/></linearGradient><linearGradient id="ge41" gradientUnits="userSpaceOnUse" x1="106.9" y1="670.2" x2="128.7" y2="637.9"><stop offset="0" stop-color="#08568d"/><stop offset=".004" stop-color="#08488a"/><stop offset=".006" stop-color="#0876ed"/><stop offset=".03" stop-color="#085cff"/><stop offset=".131" stop-color="#0823ff"/><stop offset=".207" stop-color="#0808ff"/><stop offset=".513" stop-color="#0808fa"/><stop offset="1" stop-color="#0808c4"/></linearGradient><linearGradient id="ge42" gradientUnits="userSpaceOnUse" x1="79.7" y1="606" x2="58.6" y2="637.2"><stop offset="0" stop-color="#7b0808"/><stop offset=".157" stop-color="#ad0808"/><stop offset=".622" stop-color="#a9a908"/><stop offset=".878" stop-color="#36a172"/><stop offset=".961" stop-color="#08969a"/><stop offset=".996" stop-color="#086b92"/><stop offset="1" stop-color="#085b8f"/><stop offset="1" stop-color="#08598e"/></linearGradient><linearGradient id="ge43" gradientUnits="userSpaceOnUse" x1="108.7" y1="671.1" x2="129.8" y2="639.8"><stop offset="0" stop-color="#08598e"/><stop offset=".004" stop-color="#08498a"/><stop offset=".006" stop-color="#084789"/><stop offset=".007" stop-color="#0875ee"/><stop offset=".033" stop-color="#085bff"/><stop offset=".137" stop-color="#0822ff"/><stop offset=".223" stop-color="#0808ff"/><stop offset=".519" stop-color="#0808fc"/><stop offset="1" stop-color="#0808c7"/></linearGradient><linearGradient id="ge44" gradientUnits="userSpaceOnUse" x1="82" y1="607.1" x2="60.9" y2="637.3"><stop offset="0" stop-color="#7a0808"/><stop offset=".171" stop-color="#ae0b08"/><stop offset=".633" stop-color="#a7a909"/><stop offset=".884" stop-color="#36a072"/><stop offset=".964" stop-color="#08969a"/><stop offset=".995" stop-color="#087193"/><stop offset="1" stop-color="#085f8f"/><stop offset="1" stop-color="#085c8f"/></linearGradient><linearGradient id="ge45" gradientUnits="userSpaceOnUse" x1="110.5" y1="671.9" x2="131.8" y2="641.4"><stop offset="0" stop-color="#085c8f"/><stop offset=".004" stop-color="#084c8b"/><stop offset=".007" stop-color="#08488a"/><stop offset=".009" stop-color="#0876ed"/><stop offset=".035" stop-color="#085dff"/><stop offset=".137" stop-color="#0827ff"/><stop offset=".229" stop-color="#0808ff"/><stop offset=".559" stop-color="#0808fa"/><stop offset="1" stop-color="#0808cb"/></linearGradient><linearGradient id="ge46" gradientUnits="userSpaceOnUse" x1="84.3" y1="608.2" x2="63.2" y2="638.1"><stop offset="0" stop-color="#790808"/><stop offset=".168" stop-color="#ae0908"/><stop offset=".64" stop-color="#a5a80b"/><stop offset=".886" stop-color="#36a072"/><stop offset=".965" stop-color="#08979a"/><stop offset=".996" stop-color="#086f93"/><stop offset="1" stop-color="#086090"/></linearGradient><linearGradient id="ge47" gradientUnits="userSpaceOnUse" x1="112.2" y1="672.8" x2="133" y2="643.3"><stop offset="0" stop-color="#086090"/><stop offset=".001" stop-color="#08568d"/><stop offset=".007" stop-color="#08498a"/><stop offset=".009" stop-color="#0877ec"/><stop offset=".039" stop-color="#085cff"/><stop offset=".157" stop-color="#0822ff"/><stop offset=".247" stop-color="#0808ff"/><stop offset=".576" stop-color="#0808fb"/><stop offset="1" stop-color="#0808ce"/></linearGradient><linearGradient id="ge48" gradientUnits="userSpaceOnUse" x1="86.6" y1="609.3" x2="65.4" y2="639.2"><stop offset="0" stop-color="#780808"/><stop offset=".179" stop-color="#ae0c08"/><stop offset=".631" stop-color="#a9a808"/><stop offset=".886" stop-color="#36a172"/><stop offset=".964" stop-color="#08979a"/><stop offset=".997" stop-color="#086e93"/><stop offset="1" stop-color="#086190"/><stop offset="1" stop-color="#085c8f"/><stop offset="1" stop-color="#085a8e"/></linearGradient><linearGradient id="ge49" gradientUnits="userSpaceOnUse" x1="115.5" y1="674.7" x2="135.5" y2="646.5"><stop offset="0" stop-color="#085a8e"/><stop offset=".006" stop-color="#084a8a"/><stop offset=".008" stop-color="#0878eb"/><stop offset=".038" stop-color="#085eff"/><stop offset=".149" stop-color="#0827ff"/><stop offset=".255" stop-color="#0808ff"/><stop offset=".592" stop-color="#0808fc"/><stop offset="1" stop-color="#0808d2"/></linearGradient><linearGradient id="ge50" gradientUnits="userSpaceOnUse" x1="89" y1="610.3" x2="67.6" y2="640"><stop offset="0" stop-color="#770808"/><stop offset=".177" stop-color="#ae0a08"/><stop offset=".637" stop-color="#a8a909"/><stop offset=".894" stop-color="#33a075"/><stop offset=".968" stop-color="#089599"/><stop offset=".997" stop-color="#086f93"/><stop offset="1" stop-color="#086090"/><stop offset="1" stop-color="#085d8f"/></linearGradient><linearGradient id="ge51" gradientUnits="userSpaceOnUse" x1="117.1" y1="675.6" x2="136.6" y2="648.4"><stop offset="0" stop-color="#085d8f"/><stop offset=".006" stop-color="#084c8b"/><stop offset=".008" stop-color="#087aea"/><stop offset=".042" stop-color="#085dff"/><stop offset=".164" stop-color="#0825ff"/><stop offset=".265" stop-color="#0808ff"/><stop offset=".633" stop-color="#0808fa"/><stop offset="1" stop-color="#0808d5"/></linearGradient><linearGradient id="ge52" gradientUnits="userSpaceOnUse" x1="91.3" y1="611.4" x2="69.9" y2="640.7"><stop offset="0" stop-color="#760808"/><stop offset=".188" stop-color="#ae0c08"/><stop offset=".643" stop-color="#a7a90a"/><stop offset=".889" stop-color="#37a171"/><stop offset=".968" stop-color="#08969a"/><stop offset=".996" stop-color="#087394"/><stop offset="1" stop-color="#086190"/></linearGradient><linearGradient id="ge53" gradientUnits="userSpaceOnUse" x1="118.7" y1="676.4" x2="137.8" y2="650.4"><stop offset="0" stop-color="#086190"/><stop offset=".003" stop-color="#08538d"/><stop offset=".006" stop-color="#084d8b"/><stop offset=".008" stop-color="#087be9"/><stop offset=".045" stop-color="#085dff"/><stop offset=".185" stop-color="#0821ff"/><stop offset=".284" stop-color="#0808ff"/><stop offset=".663" stop-color="#0808fb"/><stop offset="1" stop-color="#0808d9"/></linearGradient><linearGradient id="ge54" gradientUnits="userSpaceOnUse" x1="93.6" y1="612.5" x2="72.2" y2="640.6"><stop offset="0" stop-color="#750808"/><stop offset=".186" stop-color="#ae0a08"/><stop offset=".652" stop-color="#a6a80a"/><stop offset=".9" stop-color="#34a074"/><stop offset=".971" stop-color="#08979a"/><stop offset=".996" stop-color="#087494"/><stop offset="1" stop-color="#086591"/></linearGradient><linearGradient id="ge55" gradientUnits="userSpaceOnUse" x1="120.3" y1="677.2" x2="139.6" y2="652"><stop offset="0" stop-color="#086591"/><stop offset=".001" stop-color="#085b8e"/><stop offset=".008" stop-color="#084e8b"/><stop offset=".009" stop-color="#087de8"/><stop offset=".049" stop-color="#085fff"/><stop offset=".198" stop-color="#0821ff"/><stop offset=".3" stop-color="#0808ff"/><stop offset=".709" stop-color="#0808fa"/><stop offset="1" stop-color="#0808de"/></linearGradient><linearGradient id="ge56" gradientUnits="userSpaceOnUse" x1="95.9" y1="613.6" x2="74.4" y2="641.6"><stop offset="0" stop-color="#740808"/><stop offset=".182" stop-color="#ae0808"/><stop offset=".656" stop-color="#a5a80b"/><stop offset=".893" stop-color="#38a171"/><stop offset=".973" stop-color="#089599"/><stop offset=".998" stop-color="#087093"/><stop offset="1" stop-color="#086490"/><stop offset="1" stop-color="#085f8f"/></linearGradient><linearGradient id="ge57" gradientUnits="userSpaceOnUse" x1="123.4" y1="679.2" x2="141.8" y2="655.3"><stop offset="0" stop-color="#085f8f"/><stop offset=".006" stop-color="#08508c"/><stop offset=".008" stop-color="#087ee6"/><stop offset=".051" stop-color="#085fff"/><stop offset=".198" stop-color="#0824ff"/><stop offset=".318" stop-color="#0808ff"/><stop offset=".741" stop-color="#0808fa"/><stop offset="1" stop-color="#0808e2"/></linearGradient><linearGradient id="ge58" gradientUnits="userSpaceOnUse" x1="98.2" y1="614.7" x2="76.3" y2="645.9"><stop offset="0" stop-color="#730808"/><stop offset=".186" stop-color="#ae0b08"/><stop offset=".631" stop-color="#a9a908"/><stop offset=".884" stop-color="#35a174"/><stop offset=".961" stop-color="#08969a"/><stop offset=".994" stop-color="#086f93"/><stop offset="1" stop-color="#085c8f"/><stop offset="1" stop-color="#085a8f"/></linearGradient><linearGradient id="ge59" gradientUnits="userSpaceOnUse" x1="126.5" y1="681.2" x2="141.6" y2="659.6"><stop offset="0" stop-color="#085a8f"/><stop offset=".005" stop-color="#084b8b"/><stop offset=".006" stop-color="#0879e9"/><stop offset=".044" stop-color="#085cff"/><stop offset=".193" stop-color="#0822ff"/><stop offset=".309" stop-color="#0808ff"/><stop offset=".754" stop-color="#0808fa"/><stop offset="1" stop-color="#0808e5"/></linearGradient><linearGradient id="ge60" gradientUnits="userSpaceOnUse" x1="100.6" y1="615.8" x2="78.5" y2="650"><stop offset="0" stop-color="#720808"/><stop offset=".178" stop-color="#ae0908"/><stop offset=".621" stop-color="#a8a909"/><stop offset=".882" stop-color="#2fa079"/><stop offset=".951" stop-color="#08989a"/><stop offset=".992" stop-color="#086c93"/><stop offset="1" stop-color="#08558e"/></linearGradient><linearGradient id="ge61" gradientUnits="userSpaceOnUse" x1="129.6" y1="683" x2="142.1" y2="663.7"><stop offset="0" stop-color="#08558e"/><stop offset="0" stop-color="#084f8c"/><stop offset=".002" stop-color="#08498b"/><stop offset=".003" stop-color="#0876e9"/><stop offset=".034" stop-color="#085cff"/><stop offset=".152" stop-color="#082cff"/><stop offset=".301" stop-color="#0808ff"/><stop offset=".783" stop-color="#0808fa"/><stop offset="1" stop-color="#0808e8"/></linearGradient><linearGradient id="ge62" gradientUnits="userSpaceOnUse" x1="102.9" y1="616.9" x2="80.7" y2="651.3"><stop offset="0" stop-color="#710808"/><stop offset=".187" stop-color="#ae0b08"/><stop offset=".623" stop-color="#a7a909"/><stop offset=".892" stop-color="#29a07e"/><stop offset=".952" stop-color="#08969a"/><stop offset=".993" stop-color="#086992"/><stop offset="1" stop-color="#08538d"/><stop offset="1" stop-color="#08518d"/></linearGradient><linearGradient id="ge63" gradientUnits="userSpaceOnUse" x1="132.6" y1="684.9" x2="144.4" y2="666.6"><stop offset="0" stop-color="#08518d"/><stop offset=".002" stop-color="#08498b"/><stop offset=".003" stop-color="#0876ea"/><stop offset=".038" stop-color="#085aff"/><stop offset=".171" stop-color="#0828ff"/><stop offset=".32" stop-color="#0808ff"/><stop offset=".821" stop-color="#0808fa"/><stop offset="1" stop-color="#0808ec"/></linearGradient><linearGradient id="ge64" gradientUnits="userSpaceOnUse" x1="105.2" y1="618" x2="82.9" y2="650.3"><stop offset="0" stop-color="#700808"/><stop offset=".187" stop-color="#ae0908"/><stop offset=".634" stop-color="#a7a90a"/><stop offset=".893" stop-color="#2da07a"/><stop offset=".957" stop-color="#08979a"/><stop offset=".994" stop-color="#086d93"/><stop offset="1" stop-color="#08588e"/><stop offset="1" stop-color="#08548d"/></linearGradient><linearGradient id="ge65" gradientUnits="userSpaceOnUse" x1="134.1" y1="685.7" x2="146.5" y2="667.8"><stop offset="0" stop-color="#08548d"/><stop offset=".002" stop-color="#084e8c"/><stop offset=".003" stop-color="#087ce5"/><stop offset=".037" stop-color="#0860fd"/><stop offset=".19" stop-color="#0829ff"/><stop offset=".353" stop-color="#0808ff"/><stop offset=".88" stop-color="#0808fa"/><stop offset="1" stop-color="#0808f1"/></linearGradient><linearGradient id="ge66" gradientUnits="userSpaceOnUse" x1="107.5" y1="619.1" x2="85.1" y2="650.2"><stop offset="0" stop-color="#6f0808"/><stop offset=".198" stop-color="#ae0b08"/><stop offset=".641" stop-color="#a6a90a"/><stop offset=".885" stop-color="#34a174"/><stop offset=".962" stop-color="#08969a"/><stop offset=".996" stop-color="#086c93"/><stop offset="1" stop-color="#085a8f"/><stop offset="1" stop-color="#08588e"/></linearGradient><linearGradient id="ge67" gradientUnits="userSpaceOnUse" x1="135.6" y1="686.6" x2="148" y2="669.3"><stop offset="0" stop-color="#08588e"/><stop offset=".002" stop-color="#08508c"/><stop offset=".003" stop-color="#087de4"/><stop offset=".047" stop-color="#085fff"/><stop offset=".211" stop-color="#0828ff"/><stop offset=".371" stop-color="#0808ff"/><stop offset=".939" stop-color="#0808fa"/><stop offset="1" stop-color="#0808f5"/></linearGradient><linearGradient id="ge68" gradientUnits="userSpaceOnUse" x1="109.8" y1="620.2" x2="87.2" y2="652.1"><stop offset="0" stop-color="#6e0808"/><stop offset=".192" stop-color="#ae0908"/><stop offset=".638" stop-color="#a6a90b"/><stop offset=".89" stop-color="#2fa079"/><stop offset=".957" stop-color="#08989a"/><stop offset=".995" stop-color="#086c93"/><stop offset="1" stop-color="#085a8f"/><stop offset="1" stop-color="#08548d"/></linearGradient><linearGradient id="ge69" gradientUnits="userSpaceOnUse" x1="138.4" y1="688.4" x2="149.6" y2="672.6"><stop offset="0" stop-color="#08548d"/><stop offset=".001" stop-color="#08508d"/><stop offset=".002" stop-color="#087de3"/><stop offset=".04" stop-color="#0861fc"/><stop offset=".186" stop-color="#0830ff"/><stop offset=".387" stop-color="#0808ff"/><stop offset=".984" stop-color="#0808fa"/><stop offset="1" stop-color="#0808f9"/></linearGradient><linearGradient id="ge70" gradientUnits="userSpaceOnUse" x1="112.2" y1="621.2" x2="89.3" y2="654.8"><stop offset="0" stop-color="#6d0808"/><stop offset=".197" stop-color="#ae0b08"/><stop offset=".632" stop-color="#a6a90b"/><stop offset=".886" stop-color="#2da07a"/><stop offset=".953" stop-color="#08979b"/><stop offset=".992" stop-color="#086b93"/><stop offset="1" stop-color="#08568e"/><stop offset="1" stop-color="#08518d"/></linearGradient><linearGradient id="ge71" gradientUnits="userSpaceOnUse" x1="141.1" y1="690.2" x2="150.8" y2="675.9"><stop offset="0" stop-color="#08518d"/><stop offset="0" stop-color="#084f8c"/><stop offset=".001" stop-color="#087ae3"/><stop offset=".029" stop-color="#0863f9"/><stop offset=".093" stop-color="#0849ff"/><stop offset=".354" stop-color="#080cff"/><stop offset="1" stop-color="#0808fd"/></linearGradient><linearGradient id="ge72" gradientUnits="userSpaceOnUse" x1="114.5" y1="622.3" x2="91.4" y2="655.9"><stop offset="0" stop-color="#6c0808"/><stop offset=".193" stop-color="#ae0908"/><stop offset=".632" stop-color="#a6a90b"/><stop offset=".894" stop-color="#29a07f"/><stop offset=".953" stop-color="#08969b"/><stop offset=".993" stop-color="#086993"/><stop offset="1" stop-color="#08558e"/></linearGradient><linearGradient id="ge73" gradientUnits="userSpaceOnUse" x1="142.4" y1="691" x2="151.5" y2="677.8"><stop offset="0" stop-color="#08558e"/><stop offset="0" stop-color="#084f8d"/><stop offset=".001" stop-color="#087ae2"/><stop offset=".025" stop-color="#0865f6"/><stop offset=".07" stop-color="#0852ff"/><stop offset=".297" stop-color="#081aff"/><stop offset=".435" stop-color="#0808ff"/><stop offset="1" stop-color="#0808ff"/></linearGradient><linearGradient id="ge74" gradientUnits="userSpaceOnUse" x1="116.8" y1="623.4" x2="93.7" y2="654.1"><stop offset="0" stop-color="#6b0808"/><stop offset=".204" stop-color="#ae0b08"/><stop offset=".644" stop-color="#a6a90b"/><stop offset=".891" stop-color="#30a078"/><stop offset=".959" stop-color="#08989b"/><stop offset=".993" stop-color="#087094"/><stop offset="1" stop-color="#085c90"/><stop offset="1" stop-color="#08598f"/></linearGradient><linearGradient id="ge75" gradientUnits="userSpaceOnUse" x1="143.7" y1="691.9" x2="153.5" y2="678.9"><stop offset="0" stop-color="#08598f"/><stop offset="0" stop-color="#08578e"/><stop offset="0" stop-color="#0881dc"/><stop offset=".026" stop-color="#086cf2"/><stop offset=".081" stop-color="#0855ff"/><stop offset=".358" stop-color="#0816ff"/><stop offset=".491" stop-color="#0808ff"/><stop offset="1" stop-color="#0808ff"/></linearGradient><linearGradient id="ge76" gradientUnits="userSpaceOnUse" x1="119.1" y1="624.5" x2="95.8" y2="654.1"><stop offset="0" stop-color="#6a0808"/><stop offset=".201" stop-color="#ae0808"/><stop offset=".647" stop-color="#a6a90a"/><stop offset=".886" stop-color="#35a174"/><stop offset=".962" stop-color="#08979b"/><stop offset=".995" stop-color="#086e93"/><stop offset="1" stop-color="#085d90"/></linearGradient><linearGradient id="ge77" gradientUnits="userSpaceOnUse" x1="144.9" y1="692.7" x2="154.4" y2="680.7"><stop offset="0" stop-color="#085d90"/><stop offset="0" stop-color="#0883d9"/><stop offset=".025" stop-color="#086eef"/><stop offset=".087" stop-color="#0856ff"/><stop offset=".362" stop-color="#081aff"/><stop offset=".51" stop-color="#0808ff"/><stop offset="1" stop-color="#0808ff"/></linearGradient><linearGradient id="ge78" gradientUnits="userSpaceOnUse" x1="121.4" y1="625.6" x2="97.6" y2="664.3"><stop offset="0" stop-color="#690808"/><stop offset=".193" stop-color="#ae0a08"/><stop offset=".608" stop-color="#a7a90a"/><stop offset=".882" stop-color="#23a085"/><stop offset=".936" stop-color="#08969b"/><stop offset=".988" stop-color="#086292"/><stop offset=".999" stop-color="#084c8d"/><stop offset=".999" stop-color="#0875e1"/><stop offset="1" stop-color="#0870e6"/></linearGradient><linearGradient id="ge79" gradientUnits="userSpaceOnUse" x1="151" y1="697.1" x2="156.2" y2="688.5"><stop offset="0" stop-color="#0870e6"/><stop offset=".004" stop-color="#0866ef"/><stop offset=".045" stop-color="#0851ff"/><stop offset=".237" stop-color="#0826ff"/><stop offset=".476" stop-color="#0808ff"/><stop offset="1" stop-color="#0808ff"/></linearGradient></defs>
<path d="M32.1 583.6L34.4 594.3L37 603.9L40.2 613.3L42.6 619.2L45.3 624.5L49.8 631.4L54.7 637L60 641.5L57.8 640L52.4 635.4L47.5 629.8L43 622.9L40.3 617.7L37.9 611.9L34.7 602.5L32.1 593.1L29.8 582.6Z" fill="url(#ge0)" stroke="url(#ge0)" stroke-width="0.7"/>
<path d="M60 641.5L63.9 644L67.8 646L72 647.7L76.4 649L85.5 650.9L95.3 651.7L105.7 651.7L119.6 650.8L134.3 649L153 645.9L151.1 644.3L132.3 647.4L117.5 649.2L103.7 650.2L93.2 650.1L83.4 649.3L74.2 647.5L69.8 646.1L65.6 644.4L61.6 642.4L57.8 640Z" fill="url(#ge1)" stroke="url(#ge1)" stroke-width="0.7"/>
<path d="M34.5 584.7L36.7 595.5L39.3 605.2L42.4 614.8L44.9 620.7L47.6 626L52 632.9L56.9 638.6L62.3 643.1L60 641.5L54.7 637L49.8 631.4L45.3 624.5L42.6 619.2L40.2 613.3L37 603.9L34.4 594.3L32.1 583.6Z" fill="url(#ge2)" stroke="url(#ge2)" stroke-width="0.7"/>
<path d="M62.3 643.1L66.1 645.6L70 647.6L74.2 649.3L78.5 650.6L87.7 652.4L97.4 653.3L107.8 653.3L121.6 652.3L136.2 650.5L154.9 647.4L153 645.9L134.3 649L119.6 650.8L105.7 651.7L95.3 651.7L85.5 650.9L76.4 649L72 647.7L67.8 646L63.9 644L60 641.5Z" fill="url(#ge3)" stroke="url(#ge3)" stroke-width="0.7"/>
<path d="M36.8 585.8L39 596.8L41.6 606.6L44.7 616.2L47.2 622.1L49.8 627.5L54.3 634.5L59.1 640.1L64.5 644.7L62.3 643.1L56.9 638.6L52 632.9L47.6 626L44.9 620.7L42.4 614.8L39.3 605.2L36.7 595.5L34.5 584.7Z" fill="url(#ge4)" stroke="url(#ge4)" stroke-width="0.7"/>
<path d="M64.5 644.7L68.3 647.1L72.2 649.2L76.4 650.8L80.7 652.2L89.8 654L99.5 654.8L109.8 654.8L123.6 653.9L138.1 652.1L156.8 649L154.9 647.4L136.2 650.5L121.6 652.3L107.8 653.3L97.4 653.3L87.7 652.4L78.5 650.6L74.2 649.3L70 647.6L66.1 645.6L62.3 643.1Z" fill="url(#ge5)" stroke="url(#ge5)" stroke-width="0.7"/>
<path d="M39.1 586.9L41.3 598L43.9 607.9L47 617.6L49.4 623.6L52.1 629L56.5 636L61.4 641.7L66.7 646.2L64.5 644.7L59.1 640.1L54.3 634.5L49.8 627.5L47.2 622.1L44.7 616.2L41.6 606.6L39 596.8L36.8 585.8Z" fill="url(#ge6)" stroke="url(#ge6)" stroke-width="0.7"/>
<path d="M66.7 646.2L70.4 648.7L74.4 650.7L78.5 652.4L82.8 653.7L91.9 655.5L101.5 656.3L111.8 656.3L125.5 655.4L140 653.6L158.6 650.5L156.8 649L138.1 652.1L123.6 653.9L109.8 654.8L99.5 654.8L89.8 654L80.7 652.2L76.4 650.8L72.2 649.2L68.3 647.1L64.5 644.7Z" fill="url(#ge7)" stroke="url(#ge7)" stroke-width="0.7"/>
<path d="M41.4 588L43.7 599.2L46.2 609.2L49.3 619L53 627.8L55.8 632.9L60.3 639.5L65.3 644.8L70.7 649L68.5 647.5L63.1 643.3L58.1 638L53.5 631.5L50.7 626.4L47 617.6L43.9 607.9L41.3 598L39.1 586.9Z" fill="url(#ge8)" stroke="url(#ge8)" stroke-width="0.7"/>
<path d="M70.7 649L76.6 652.2L80.7 653.9L84.9 655.2L94 657L103.6 657.9L113.8 657.9L127.5 656.9L141.9 655.1L160.4 652.1L158.6 650.5L140 653.6L125.5 655.4L111.8 656.3L101.5 656.3L91.9 655.5L82.8 653.7L78.5 652.4L74.4 650.7L68.5 647.5Z" fill="url(#ge9)" stroke="url(#ge9)" stroke-width="0.7"/>
<path d="M43.7 589.1L46 600.4L48.5 610.5L51.6 620.4L55.3 629.2L58 634.4L62.6 641L67.5 646.3L72.9 650.5L70.7 649L65.3 644.8L60.3 639.5L55.8 632.9L53 627.8L49.3 619L46.2 609.2L43.7 599.2L41.4 588Z" fill="url(#ge10)" stroke="url(#ge10)" stroke-width="0.7"/>
<path d="M72.9 650.5L78.8 653.7L82.8 655.4L87.1 656.7L96.1 658.5L105.7 659.4L115.9 659.4L129.5 658.4L143.9 656.6L162.3 653.6L160.4 652.1L141.9 655.1L127.5 656.9L113.8 657.9L103.6 657.9L94 657L84.9 655.2L80.7 653.9L76.6 652.2L70.7 649Z" fill="url(#ge11)" stroke="url(#ge11)" stroke-width="0.7"/>
<path d="M46.1 590.2L48.3 601.7L50.8 611.8L53.9 621.8L57.6 630.7L60.3 635.8L64.8 642.5L69.8 647.8L75.2 652L72.9 650.5L67.5 646.3L62.6 641L58 634.4L55.3 629.2L51.6 620.4L48.5 610.5L46 600.4L43.7 589.1Z" fill="url(#ge12)" stroke="url(#ge12)" stroke-width="0.7"/>
<path d="M75.2 652L81 655.2L85 656.9L89.3 658.2L98.3 660L107.8 660.8L118 660.8L131.5 659.9L145.9 658.1L164.2 655L162.3 653.6L143.9 656.6L129.5 658.4L115.9 659.4L105.7 659.4L96.1 658.5L87.1 656.7L82.8 655.4L78.8 653.7L72.9 650.5Z" fill="url(#ge13)" stroke="url(#ge13)" stroke-width="0.7"/>
<path d="M48.4 591.3L50.6 602.9L53.1 613.1L56.2 623.1L59.9 632.1L62.6 637.3L67.1 643.9L72 649.3L77.4 653.5L75.2 652L69.8 647.8L64.8 642.5L60.3 635.8L57.6 630.7L53.9 621.8L50.8 611.8L48.3 601.7L46.1 590.2Z" fill="url(#ge14)" stroke="url(#ge14)" stroke-width="0.7"/>
<path d="M77.4 653.5L83.2 656.7L87.2 658.4L91.5 659.7L100.4 661.5L110 662.3L120.1 662.3L133.6 661.4L147.9 659.6L166.2 656.5L164.2 655L145.9 658.1L131.5 659.9L118 660.8L107.8 660.8L98.3 660L89.3 658.2L85 656.9L81 655.2L75.2 652Z" fill="url(#ge15)" stroke="url(#ge15)" stroke-width="0.7"/>
<path d="M50.7 592.4L52.9 604.1L55.4 614.4L58.5 624.5L62.1 633.4L64.9 638.7L69.3 645.3L74.3 650.7L79.6 654.9L77.4 653.5L72 649.3L67.1 643.9L62.6 637.3L59.9 632.1L56.2 623.1L53.1 613.1L50.6 602.9L48.4 591.3Z" fill="url(#ge16)" stroke="url(#ge16)" stroke-width="0.7"/>
<path d="M79.6 654.9L85.4 658.1L89.4 659.8L93.6 661.1L102.5 662.9L112 663.7L122.1 663.7L135.5 662.8L149.8 661L168 658L166.2 656.5L147.9 659.6L133.6 661.4L120.1 662.3L110 662.3L100.4 661.5L91.5 659.7L87.2 658.4L83.2 656.7L77.4 653.5Z" fill="url(#ge17)" stroke="url(#ge17)" stroke-width="0.7"/>
<path d="M53 593.5L55.2 605.2L57.7 615.6L60.8 625.8L64.4 634.8L67.1 640L71.6 646.7L76.5 652.1L81.8 656.3L79.6 654.9L74.3 650.7L69.3 645.3L64.9 638.7L62.1 633.4L58.5 624.5L55.4 614.4L52.9 604.1L50.7 592.4Z" fill="url(#ge18)" stroke="url(#ge18)" stroke-width="0.7"/>
<path d="M81.8 656.3L87.5 659.5L91.6 661.2L95.8 662.5L104.6 664.3L114.1 665.1L124.1 665.2L137.5 664.2L151.7 662.5L169.9 659.4L168 658L149.8 661L135.5 662.8L122.1 663.7L112 663.7L102.5 662.9L93.6 661.1L89.4 659.8L85.4 658.1L79.6 654.9Z" fill="url(#ge19)" stroke="url(#ge19)" stroke-width="0.7"/>
<path d="M55.3 594.5L57.5 606.4L60 616.9L63.1 627L66.7 636.1L70.8 643.7L75.4 650L80.4 654.9L85.9 658.8L83.7 657.5L78.2 653.6L73.2 648.6L68.6 642.4L64.4 634.8L60.8 625.8L57.7 615.6L55.2 605.2L53 593.5Z" fill="url(#ge20)" stroke="url(#ge20)" stroke-width="0.7"/>
<path d="M85.9 658.8L91.7 661.8L95.8 663.3L100.1 664.5L109.1 666L118.7 666.6L128.8 666.4L142.3 665.3L156.6 663.4L171.8 660.8L169.9 659.4L154.7 662L140.3 663.9L126.8 665L116.5 665.2L106.9 664.6L97.9 663.1L93.6 661.9L89.5 660.4L83.7 657.5Z" fill="url(#ge21)" stroke="url(#ge21)" stroke-width="0.7"/>
<path d="M57.7 595.6L59.8 607.6L62.3 618.1L65.3 628.3L69 637.3L73.1 645L77.7 651.3L82.7 656.3L88.1 660.2L85.9 658.8L80.4 654.9L75.4 650L70.8 643.7L66.7 636.1L63.1 627L60 616.9L57.5 606.4L55.3 594.5Z" fill="url(#ge22)" stroke="url(#ge22)" stroke-width="0.7"/>
<path d="M88.1 660.2L93.9 663.1L98 664.6L102.3 665.8L111.2 667.4L120.8 668L130.9 667.8L144.4 666.7L158.7 664.8L173.8 662.2L171.8 660.8L156.6 663.4L142.3 665.3L128.8 666.4L118.7 666.6L109.1 666L100.1 664.5L95.8 663.3L91.7 661.8L85.9 658.8Z" fill="url(#ge23)" stroke="url(#ge23)" stroke-width="0.7"/>
<path d="M60 596.7L62.1 608.7L64.6 619.3L67.6 629.5L71.3 638.6L75.4 646.3L79.9 652.6L84.9 657.6L90.4 661.5L88.1 660.2L82.7 656.3L77.7 651.3L73.1 645L69 637.3L65.3 628.3L62.3 618.1L59.8 607.6L57.7 595.6Z" fill="url(#ge24)" stroke="url(#ge24)" stroke-width="0.7"/>
<path d="M90.4 661.5L96.2 664.4L100.2 665.9L104.5 667.1L113.4 668.7L122.9 669.3L133.1 669.2L146.5 668.1L160.7 666.2L175.8 663.6L173.8 662.2L158.7 664.8L144.4 666.7L130.9 667.8L120.8 668L111.2 667.4L102.3 665.8L98 664.6L93.9 663.1L88.1 660.2Z" fill="url(#ge25)" stroke="url(#ge25)" stroke-width="0.7"/>
<path d="M62.3 597.8L64.5 609.8L66.9 620.4L69.9 630.7L73.5 639.8L77.6 647.5L82.2 653.8L87.2 658.8L92.6 662.8L90.4 661.5L84.9 657.6L79.9 652.6L75.4 646.3L71.3 638.6L67.6 629.5L64.6 619.3L62.1 608.7L60 596.7Z" fill="url(#ge26)" stroke="url(#ge26)" stroke-width="0.7"/>
<path d="M92.6 662.8L98.4 665.7L102.4 667.2L106.6 668.4L115.5 670L125 670.6L135.1 670.5L148.5 669.4L162.7 667.5L177.7 665L175.8 663.6L160.7 666.2L146.5 668.1L133.1 669.2L122.9 669.3L113.4 668.7L104.5 667.1L100.2 665.9L96.2 664.4L90.4 661.5Z" fill="url(#ge27)" stroke="url(#ge27)" stroke-width="0.7"/>
<path d="M64.6 598.9L67.5 614.4L70.1 625.1L73.4 635L77.1 643.7L81.4 650.9L86 656.8L91.1 661.4L96.7 665L94.5 663.8L88.9 660.3L83.8 655.6L79.1 649.8L74.9 642.6L71.1 633.9L67.8 623.9L65.2 613.3L62.3 597.8Z" fill="url(#ge28)" stroke="url(#ge28)" stroke-width="0.7"/>
<path d="M96.7 665L102.5 667.7L106.7 669.1L110.9 670.2L117.7 671.2L127.1 671.9L137.2 671.8L150.5 670.7L164.6 668.9L179.6 666.3L177.7 665L162.7 667.5L148.5 669.4L135.1 670.5L125 670.6L115.5 670L108.8 668.9L104.5 667.9L100.4 666.5L94.5 663.8Z" fill="url(#ge29)" stroke="url(#ge29)" stroke-width="0.7"/>
<path d="M66.9 600L69.8 615.4L72.4 626L75.6 636L79.4 644.6L83.6 651.9L88.2 657.8L93.3 662.5L98.8 666.1L96.7 665L91.1 661.4L86 656.8L81.4 650.9L77.1 643.7L73.4 635L70.1 625.1L67.5 614.4L64.6 598.9Z" fill="url(#ge30)" stroke="url(#ge30)" stroke-width="0.7"/>
<path d="M98.8 666.1L104.6 668.8L108.7 670.2L113 671.3L119.7 672.4L129.1 673.1L139.1 673L152.3 672L166.4 670.2L181.2 667.7L179.6 666.3L164.6 668.9L150.5 670.7L137.2 671.8L127.1 671.9L117.7 671.2L110.9 670.2L106.7 669.1L102.5 667.7L96.7 665Z" fill="url(#ge31)" stroke="url(#ge31)" stroke-width="0.7"/>
<path d="M69.3 601.1L71.4 612.9L73.7 623.4L76.7 633.6L80.2 642.7L84.2 650.5L88.7 656.8L93.6 661.9L98.8 665.9L96.9 665L91.6 661L86.6 656L82.1 649.6L78.1 641.9L74.5 632.8L71.5 622.5L69.1 612L66.9 600Z" fill="url(#ge32)" stroke="url(#ge32)" stroke-width="0.7"/>
<path d="M98.8 665.9L104.5 669L108.5 670.6L112.6 671.8L121.3 673.5L130.6 674.2L140.4 674.2L153.5 673.3L167.4 671.6L182 669.2L181.2 667.7L166.4 670.2L152.3 672L139.1 673L129.1 673.1L119.7 672.4L110.8 670.8L106.7 669.5L102.6 668L96.9 665Z" fill="url(#ge33)" stroke="url(#ge33)" stroke-width="0.7"/>
<path d="M71.6 602.2L73.7 613.9L76 624.2L78.9 634.4L82.4 643.5L86.3 651.2L90.7 657.6L95.5 662.8L100.7 666.8L98.8 665.9L93.6 661.9L88.7 656.8L84.2 650.5L80.2 642.7L76.7 633.6L73.7 623.4L71.4 612.9L69.3 601.1Z" fill="url(#ge34)" stroke="url(#ge34)" stroke-width="0.7"/>
<path d="M100.7 666.8L106.2 669.9L110.1 671.5L114.2 672.8L122.8 674.6L131.9 675.4L141.6 675.5L154.5 674.7L168.1 673L182.5 670.7L182 669.2L167.4 671.6L153.5 673.3L140.4 674.2L130.6 674.2L121.3 673.5L112.6 671.8L108.5 670.6L104.5 669L98.8 665.9Z" fill="url(#ge35)" stroke="url(#ge35)" stroke-width="0.7"/>
<path d="M73.9 603.3L75.9 614.8L78.2 625.1L81.1 635.1L84.5 644.2L88.4 652L92.7 658.4L97.4 663.6L102.5 667.7L100.7 666.8L95.5 662.8L90.7 657.6L86.3 651.2L82.4 643.5L78.9 634.4L76 624.2L73.7 613.9L71.6 602.2Z" fill="url(#ge36)" stroke="url(#ge36)" stroke-width="0.7"/>
<path d="M102.5 667.7L107.9 670.8L111.8 672.5L115.8 673.8L124.2 675.7L133.1 676.6L142.7 676.7L155.3 676L168.7 674.5L182.9 672.3L182.5 670.7L168.1 673L154.5 674.7L141.6 675.5L131.9 675.4L122.8 674.6L114.2 672.8L110.1 671.5L106.2 669.9L100.7 666.8Z" fill="url(#ge37)" stroke="url(#ge37)" stroke-width="0.7"/>
<path d="M76.2 604.4L78.2 615.7L80.5 625.9L83.3 635.9L86.6 645L90.4 652.7L94.7 659.2L99.3 664.4L104.3 668.5L102.5 667.7L97.4 663.6L92.7 658.4L88.4 652L84.5 644.2L81.1 635.1L78.2 625.1L75.9 614.8L73.9 603.3Z" fill="url(#ge38)" stroke="url(#ge38)" stroke-width="0.7"/>
<path d="M104.3 668.5L109.6 671.8L113.4 673.5L117.3 674.9L125.6 676.8L134.4 677.8L143.7 678L156.1 677.4L169.3 676L183.2 673.9L182.9 672.3L168.7 674.5L155.3 676L142.7 676.7L133.1 676.6L124.2 675.7L115.8 673.8L111.8 672.5L107.9 670.8L102.5 667.7Z" fill="url(#ge39)" stroke="url(#ge39)" stroke-width="0.7"/>
<path d="M78.5 605.4L81.2 620L83.6 630.1L86.5 639.9L90 648.5L93.8 655.8L98.1 661.8L102.8 666.7L107.8 670.6L106 669.7L100.9 665.9L96.2 661L91.8 655L87.9 647.7L84.4 639.1L81.4 629.3L78.9 619L76.2 604.4Z" fill="url(#ge40)" stroke="url(#ge40)" stroke-width="0.7"/>
<path d="M107.8 670.6L113.2 673.6L117 675.2L120.9 676.5L129.1 678.2L137.9 679.1L147.2 679.3L157 678.8L169.9 677.5L183.6 675.5L183.2 673.9L169.3 676L156.1 677.4L143.7 678L134.4 677.8L125.6 676.8L119.3 675.4L115.3 674.2L111.5 672.7L106 669.7Z" fill="url(#ge41)" stroke="url(#ge41)" stroke-width="0.7"/>
<path d="M80.9 606.5L83.4 620.9L85.8 630.9L88.7 640.6L92.1 649.2L95.9 656.5L100.1 662.6L104.6 667.6L109.6 671.5L107.8 670.6L102.8 666.7L98.1 661.8L93.8 655.8L90 648.5L86.5 639.9L83.6 630.1L81.2 620L78.5 605.4Z" fill="url(#ge42)" stroke="url(#ge42)" stroke-width="0.7"/>
<path d="M109.6 671.5L114.9 674.6L118.6 676.2L122.4 677.5L130.5 679.3L139.1 680.3L148.2 680.5L157.9 680.2L170.6 678.9L183.9 677.1L183.6 675.5L169.9 677.5L157 678.8L147.2 679.3L137.9 679.1L129.1 678.2L120.9 676.5L117 675.2L113.2 673.6L107.8 670.6Z" fill="url(#ge43)" stroke="url(#ge43)" stroke-width="0.7"/>
<path d="M83.2 607.6L85.7 621.7L88 631.7L90.9 641.3L94.2 649.9L97.9 657.2L102 663.4L106.5 668.4L111.3 672.3L109.6 671.5L104.6 667.6L100.1 662.6L95.9 656.5L92.1 649.2L88.7 640.6L85.8 630.9L83.4 620.9L80.9 606.5Z" fill="url(#ge44)" stroke="url(#ge44)" stroke-width="0.7"/>
<path d="M111.3 672.3L116.5 675.5L120.1 677.1L123.9 678.5L131.8 680.4L140.2 681.5L149.2 681.8L158.6 681.5L171 680.4L184.1 678.7L183.9 677.1L170.6 678.9L157.9 680.2L148.2 680.5L139.1 680.3L130.5 679.3L122.4 677.5L118.6 676.2L114.9 674.6L109.6 671.5Z" fill="url(#ge45)" stroke="url(#ge45)" stroke-width="0.7"/>
<path d="M85.5 608.7L88 622.6L90.2 632.5L93 642L96.2 650.6L99.9 657.9L103.9 664.1L108.3 669.1L113 673.2L111.3 672.3L106.5 668.4L102 663.4L97.9 657.2L94.2 649.9L90.9 641.3L88 631.7L85.7 621.7L83.2 607.6Z" fill="url(#ge46)" stroke="url(#ge46)" stroke-width="0.7"/>
<path d="M113 673.2L118.1 676.4L121.6 678.1L125.3 679.5L133 681.5L141.3 682.7L150 683.1L159.2 682.9L171.4 681.9L184.2 680.3L184.1 678.7L171 680.4L158.6 681.5L149.2 681.8L140.2 681.5L131.8 680.4L123.9 678.5L120.1 677.1L116.5 675.5L111.3 672.3Z" fill="url(#ge47)" stroke="url(#ge47)" stroke-width="0.7"/>
<path d="M87.8 609.8L90.2 623.5L92.4 633.3L95.2 642.7L98.3 651.3L101.9 658.6L105.8 664.8L110.1 669.9L113.1 672.7L116.3 675.2L114.7 674.3L111.4 671.9L108.3 669.1L103.9 664.1L99.9 657.9L96.2 650.6L93 642L90.2 632.5L88 622.6L85.5 608.7Z" fill="url(#ge48)" stroke="url(#ge48)" stroke-width="0.7"/>
<path d="M116.3 675.2L121.3 678.2L124.9 679.8L128.5 681.1L134.3 682.6L142.3 683.8L150.9 684.4L159.9 684.3L171.7 683.4L184.3 681.9L184.2 680.3L171.4 681.9L159.2 682.9L150 683.1L141.3 682.7L133 681.5L127.2 680.1L123.4 678.8L119.8 677.3L114.7 674.3Z" fill="url(#ge49)" stroke="url(#ge49)" stroke-width="0.7"/>
<path d="M90.1 610.9L92.5 624.4L94.7 634L97.3 643.4L100.4 651.9L103.8 659.3L107.7 665.5L111.9 670.6L114.8 673.5L117.9 676L116.3 675.2L113.1 672.7L110.1 669.9L105.8 664.8L101.9 658.6L98.3 651.3L95.2 642.7L92.4 633.3L90.2 623.5L87.8 609.8Z" fill="url(#ge50)" stroke="url(#ge50)" stroke-width="0.7"/>
<path d="M117.9 676L122.9 679.1L126.3 680.7L129.9 682.1L135.5 683.7L143.3 685L151.7 685.6L160.4 685.6L172 684.9L184.3 683.5L184.3 681.9L171.7 683.4L159.9 684.3L150.9 684.4L142.3 683.8L134.3 682.6L128.5 681.1L124.9 679.8L121.3 678.2L116.3 675.2Z" fill="url(#ge51)" stroke="url(#ge51)" stroke-width="0.7"/>
<path d="M92.4 612L94.8 625.2L96.9 634.8L99.4 644.1L102.4 652.6L105.8 660L109.6 666.2L113.6 671.4L116.5 674.3L119.6 676.8L117.9 676L114.8 673.5L111.9 670.6L107.7 665.5L103.8 659.3L100.4 651.9L97.3 643.4L94.7 634L92.5 624.4L90.1 610.9Z" fill="url(#ge52)" stroke="url(#ge52)" stroke-width="0.7"/>
<path d="M119.6 676.8L124.3 679.9L127.7 681.6L131.2 683.1L136.6 684.7L144.3 686.2L152.4 686.9L161 687L172.3 686.4L184.2 685.1L184.3 683.5L172 684.9L160.4 685.6L151.7 685.6L143.3 685L135.5 683.7L129.9 682.1L126.3 680.7L122.9 679.1L117.9 676Z" fill="url(#ge53)" stroke="url(#ge53)" stroke-width="0.7"/>
<path d="M94.8 613.1L97 626.1L99.1 635.6L101.6 644.8L104.5 653.3L107.8 660.6L111.4 666.9L115.4 672.1L118.2 675.1L121.1 677.6L119.6 676.8L116.5 674.3L113.6 671.4L109.6 666.2L105.8 660L102.4 652.6L99.4 644.1L96.9 634.8L94.8 625.2L92.4 612Z" fill="url(#ge54)" stroke="url(#ge54)" stroke-width="0.7"/>
<path d="M121.1 677.6L125.8 680.8L129.1 682.6L132.5 684.1L137.7 685.8L145.2 687.3L153.1 688.2L161.4 688.4L172.4 687.9L184 686.8L184.2 685.1L172.3 686.4L161 687L152.4 686.9L144.3 686.2L136.6 684.7L131.2 683.1L127.7 681.6L124.3 679.9L119.6 676.8Z" fill="url(#ge55)" stroke="url(#ge55)" stroke-width="0.7"/>
<path d="M97.1 614.2L99.3 627L102 639.5L104.6 648.4L107.6 656.5L110.9 663.5L114.5 669.5L118.5 674.4L121.3 677.2L124.2 679.7L122.7 678.8L119.6 676.4L116.8 673.7L112.7 668.8L108.9 662.8L105.5 655.8L102.5 647.7L99.8 638.7L97 626.1L94.8 613.1Z" fill="url(#ge56)" stroke="url(#ge56)" stroke-width="0.7"/>
<path d="M124.2 679.7L128.8 682.7L135.4 685.7L140.6 687.4L148 688.8L155.8 689.6L164 689.8L172.6 689.4L183.8 688.4L184 686.8L172.4 687.9L163.6 688.3L155.2 688.3L147.2 687.6L139.6 686.3L134.2 684.7L127.4 681.8L122.7 678.8Z" fill="url(#ge57)" stroke="url(#ge57)" stroke-width="0.7"/>
<path d="M99.4 615.3L101.5 627.9L104.2 640.2L106.7 649.1L109.6 657.2L112.8 664.2L115.2 668.3L117.6 671.9L121.6 676.6L124.4 679.3L127.3 681.6L125.7 680.7L122.7 678.5L119.8 675.9L115.8 671.2L113.3 667.6L110.9 663.5L107.6 656.5L104.6 648.4L102 639.5L99.3 627L97.1 614.2Z" fill="url(#ge58)" stroke="url(#ge58)" stroke-width="0.7"/>
<path d="M127.3 681.6L131.9 684.5L136.7 686.7L141.8 688.4L149 690L156.5 690.8L164.5 691.1L172.9 690.9L183.9 690L183.8 688.4L172.6 689.4L164 689.8L155.8 689.6L148 688.8L140.6 687.4L135.4 685.7L130.4 683.5L125.7 680.7Z" fill="url(#ge59)" stroke="url(#ge59)" stroke-width="0.7"/>
<path d="M101.7 616.3L103.8 628.8L106.4 641L109.8 652.6L112.7 660.3L115.9 667L118.3 670.9L120.7 674.3L124.7 678.8L127.5 681.3L130.4 683.5L128.8 682.6L125.8 680.5L122.9 678L118.9 673.6L116.4 670.2L114 666.3L110.6 659.6L107.6 651.9L104.2 640.2L101.5 627.9L99.4 615.3Z" fill="url(#ge60)" stroke="url(#ge60)" stroke-width="0.7"/>
<path d="M130.4 683.5L134.9 686.2L139.7 688.3L144.8 689.9L151.9 691.4L159.4 692.2L167.2 692.4L175.5 692.2L184.1 691.5L183.9 690L175 690.8L166.6 691.1L158.5 691L150.8 690.3L143.6 688.9L138.4 687.3L133.4 685.3L128.8 682.6Z" fill="url(#ge61)" stroke="url(#ge61)" stroke-width="0.7"/>
<path d="M104 617.4L106.1 629.7L108.6 641.7L111.9 653.2L114.7 660.9L117.9 667.6L120.2 671.5L122.6 675L125.1 678.1L127.7 680.8L130.5 683.2L133.4 685.3L131.8 684.4L128.9 682.4L126.1 680.1L123.3 677.4L120.7 674.3L118.3 670.9L115.9 667L112.7 660.3L109.8 652.6L106.4 641L103.8 628.8L101.7 616.3Z" fill="url(#ge62)" stroke="url(#ge62)" stroke-width="0.7"/>
<path d="M133.4 685.3L137.9 687.9L142.7 689.9L147.7 691.4L154.7 692.8L160.2 693.4L167.9 693.8L175.9 693.6L184.3 693.1L184.1 691.5L175.5 692.2L167.2 692.4L159.4 692.2L153.7 691.7L146.5 690.4L141.4 688.9L136.5 686.9L131.8 684.4Z" fill="url(#ge63)" stroke="url(#ge63)" stroke-width="0.7"/>
<path d="M106.4 618.5L108.3 630.5L110.8 642.4L114 653.9L116.7 661.6L119.8 668.3L122 672.2L124.3 675.7L126.8 678.8L129.4 681.6L132.1 684L134.9 686.1L133.4 685.3L130.5 683.2L127.7 680.8L125.1 678.1L122.6 675L120.2 671.5L117.9 667.6L114.7 660.9L111.9 653.2L108.6 641.7L106.1 629.7L104 617.4Z" fill="url(#ge64)" stroke="url(#ge64)" stroke-width="0.7"/>
<path d="M134.9 686.1L139.2 688.8L143.9 690.9L148.7 692.5L155.5 694L160.9 694.7L168.3 695.1L176.1 695.1L184.3 694.6L184.3 693.1L175.9 693.6L167.9 693.8L160.2 693.4L154.7 692.8L147.7 691.4L142.7 689.9L137.9 687.9L133.4 685.3Z" fill="url(#ge65)" stroke="url(#ge65)" stroke-width="0.7"/>
<path d="M108.7 619.6L110.6 631.4L113 643.2L116 654.6L118.7 662.2L121.7 668.9L123.8 672.9L126.1 676.4L128.5 679.6L131 682.4L133.6 684.8L136.3 687L134.9 686.1L132.1 684L129.4 681.6L126.8 678.8L124.3 675.7L122 672.2L119.8 668.3L116.7 661.6L114 653.9L110.8 642.4L108.3 630.5L106.4 618.5Z" fill="url(#ge66)" stroke="url(#ge66)" stroke-width="0.7"/>
<path d="M136.3 687L140.5 689.7L145 691.9L149.7 693.6L156.3 695.2L161.5 695.9L168.7 696.5L176.2 696.6L184.1 696.2L184.3 694.6L176.1 695.1L168.3 695.1L160.9 694.7L155.5 694L148.7 692.5L143.9 690.9L139.2 688.8L134.9 686.1Z" fill="url(#ge67)" stroke="url(#ge67)" stroke-width="0.7"/>
<path d="M111 620.7L113.3 635.1L115.8 646.8L118.9 657.8L121.6 665.2L124.6 671.6L126.7 675.4L129 678.7L131.3 681.7L133.8 684.4L139 688.8L137.7 688L132.3 683.6L129.7 681L127.3 678L125 674.7L122.7 670.9L119.7 664.6L116.9 657.2L113.7 646.1L111.1 634.3L108.7 619.6Z" fill="url(#ge68)" stroke="url(#ge68)" stroke-width="0.7"/>
<path d="M139 688.8L143.2 691.4L147.6 693.5L152.2 695.1L157.1 696.3L162.1 697.2L169 697.8L176.4 698L184 697.8L184.1 696.2L176.2 696.6L168.7 696.5L161.5 695.9L156.3 695.2L151.3 694L146.5 692.5L142 690.5L137.7 688Z" fill="url(#ge69)" stroke="url(#ge69)" stroke-width="0.7"/>
<path d="M113.3 621.8L115.6 636L118 647.5L121 658.5L123.6 665.8L127.5 674.2L131.8 681L136.6 686.4L141.8 690.6L140.4 689.8L135.1 685.6L132.6 683.1L130.2 680.3L127.8 677.1L125.7 673.5L121.6 665.2L118.9 657.8L115.8 646.8L113.3 635.1L111 620.7Z" fill="url(#ge70)" stroke="url(#ge70)" stroke-width="0.7"/>
<path d="M141.8 690.6L145.9 693.1L150.2 695.1L154.7 696.7L159.5 697.8L164.4 698.6L171.2 699.3L176.5 699.5L183.9 699.3L184 697.8L176.4 698L170.8 697.9L163.8 697.4L158.7 696.7L153.8 695.6L149.1 694.1L144.7 692.2L140.4 689.8Z" fill="url(#ge71)" stroke="url(#ge71)" stroke-width="0.7"/>
<path d="M115.6 622.9L117.8 636.8L120.2 648.2L123.1 659.1L126.5 668.6L129.3 674.8L133.5 681.6L138.1 687.1L143.1 691.5L141.8 690.6L136.6 686.4L131.8 681L127.5 674.2L123.6 665.8L121 658.5L118 647.5L115.6 636L113.3 621.8Z" fill="url(#ge72)" stroke="url(#ge72)" stroke-width="0.7"/>
<path d="M143.1 691.5L147.1 694L151.3 696.1L155.6 697.7L160.2 699L164.9 699.9L171.5 700.6L176.7 700.9L183.8 700.9L183.9 699.3L176.5 699.5L171.2 699.3L164.4 698.6L159.5 697.8L154.7 696.7L150.2 695.1L145.9 693.1L141.8 690.6Z" fill="url(#ge73)" stroke="url(#ge73)" stroke-width="0.7"/>
<path d="M118 624L120.1 637.7L122.3 648.9L125.1 659.7L128.4 669.2L131.1 675.4L135.1 682.3L139.5 687.9L144.3 692.3L143.1 691.5L138.1 687.1L133.5 681.6L129.3 674.8L126.5 668.6L123.1 659.1L120.2 648.2L117.8 636.8L115.6 622.9Z" fill="url(#ge74)" stroke="url(#ge74)" stroke-width="0.7"/>
<path d="M144.3 692.3L148.1 695L152.2 697.1L156.4 698.8L160.7 700.2L165.3 701.2L171.6 702L176.6 702.4L183.4 702.5L183.8 700.9L176.7 700.9L171.5 700.6L164.9 699.9L160.2 699L155.6 697.7L151.3 696.1L147.1 694L143.1 691.5Z" fill="url(#ge75)" stroke="url(#ge75)" stroke-width="0.7"/>
<path d="M120.3 625.1L122.3 638.5L124.4 649.6L127.1 660.3L130.2 669.8L132.8 676L136.7 683L140.9 688.7L145.5 693.2L144.3 692.3L139.5 687.9L135.1 682.3L131.1 675.4L128.4 669.2L125.1 659.7L122.3 648.9L120.1 637.7L118 624Z" fill="url(#ge76)" stroke="url(#ge76)" stroke-width="0.7"/>
<path d="M145.5 693.2L149.2 695.9L153 698.1L157 699.9L161.2 701.4L165.5 702.4L171.6 703.4L176.3 703.9L182.9 704.1L183.4 702.5L176.6 702.4L171.6 702L165.3 701.2L160.7 700.2L156.4 698.8L152.2 697.1L148.1 695L144.3 692.3Z" fill="url(#ge77)" stroke="url(#ge77)" stroke-width="0.7"/>
<path d="M122.6 626.2L124.5 639.3L127.2 653L129.9 663.4L133 672.5L136.5 680.2L138.4 683.6L141.4 688L145.8 692.9L148 694.9L151.6 697.5L150.4 696.7L146.7 694.1L144.3 692.1L139.8 687.4L136.7 683L134.7 679.7L131.1 672L127.8 662.8L125 652.4L122.3 638.5L120.3 625.1Z" fill="url(#ge78)" stroke="url(#ge78)" stroke-width="0.7"/>
<path d="M151.6 697.5L154.1 699L158 700.9L164.8 703.2L169.1 704.2L173.5 704.9L182.9 705.5L182.9 704.1L173.2 703.6L164.1 702.1L157 699.9L153 698.1L150.4 696.7Z" fill="url(#ge79)" stroke="url(#ge79)" stroke-width="0.7"/>
<g stroke-width="0.8" fill="none"><line x1="122.6" y1="734" x2="246.1" y2="696.3" stroke="#8a8a8a"/><line x1="122.6" y1="734" x2="27.6" y2="684.6" stroke="#8a8a8a"/><line x1="27.6" y1="684.6" x2="27.6" y2="577.4" stroke="#8a8a8a"/><line x1="138" y1="729.3" x2="136.1" y2="728.3" stroke="#444"/><line x1="172.7" y1="718.7" x2="170.8" y2="717.7" stroke="#444"/><line x1="207.4" y1="708.1" x2="205.5" y2="707.1" stroke="#444"/><line x1="242.1" y1="697.5" x2="240.2" y2="696.5" stroke="#444"/><line x1="109.8" y1="727.4" x2="111.7" y2="726.8" stroke="#444"/><line x1="88.3" y1="716.2" x2="90.2" y2="715.6" stroke="#444"/><line x1="66.8" y1="705" x2="68.7" y2="704.4" stroke="#444"/><line x1="45.3" y1="693.8" x2="47.2" y2="693.3" stroke="#444"/><line x1="27.6" y1="677.8" x2="25.8" y2="678.1" stroke="#444"/><line x1="27.6" y1="667" x2="25.8" y2="667.3" stroke="#444"/><line x1="27.6" y1="656.2" x2="25.8" y2="656.5" stroke="#444"/><line x1="27.6" y1="645.4" x2="25.8" y2="645.7" stroke="#444"/><line x1="27.6" y1="634.6" x2="25.8" y2="634.9" stroke="#444"/><line x1="27.6" y1="623.8" x2="25.8" y2="624.1" stroke="#444"/><line x1="27.6" y1="613" x2="25.8" y2="613.3" stroke="#444"/><line x1="27.6" y1="602.1" x2="25.8" y2="602.4" stroke="#444"/><line x1="27.6" y1="591.3" x2="25.8" y2="591.6" stroke="#444"/><line x1="27.6" y1="580.5" x2="25.8" y2="580.8" stroke="#444"/></g>
<g font-size="5.8" fill="#1a1a1a"><text x="23.8" y="679.9" text-anchor="end">0.2</text><text x="23.8" y="669" text-anchor="end">0.3</text><text x="23.8" y="658.2" text-anchor="end">0.4</text><text x="23.8" y="647.4" text-anchor="end">0.5</text><text x="23.8" y="636.6" text-anchor="end">0.6</text><text x="23.8" y="625.8" text-anchor="end">0.7</text><text x="23.8" y="615" text-anchor="end">0.8</text><text x="23.8" y="604.2" text-anchor="end">0.9</text><text x="23.8" y="593.4" text-anchor="end">1</text><text x="23.8" y="582.6" text-anchor="end">1.1</text><text x="102.6" y="734.4" text-anchor="middle">0.6</text><text x="81.1" y="723.2" text-anchor="middle">0.8</text><text x="59.6" y="712.1" text-anchor="middle">1</text><text x="38.1" y="700.9" text-anchor="middle">1.2</text><text x="142.2" y="738.4" text-anchor="middle">-5</text><text x="176.9" y="727.8" text-anchor="middle">0</text><text x="211.6" y="717.2" text-anchor="middle">5</text><text x="246.3" y="706.6" text-anchor="middle">10</text></g>
<text x="35" y="746.4" font-size="8.85" fill="#111">Eq. Ratio</text>
<text x="179.2" y="749.4" font-size="8.97" fill="#111">Unscaled Progr. Variable</text>
<text x="11.4" y="632" font-size="9.0" text-anchor="middle" font-weight="bold" transform="rotate(-90 11.4 632)">Density</text>
<linearGradient id="cbe" x1="0" y1="0" x2="0" y2="1"><stop offset="0.000" stop-color="#800000"/><stop offset="0.125" stop-color="#ff0000"/><stop offset="0.375" stop-color="#ffff00"/><stop offset="0.625" stop-color="#00ffff"/><stop offset="0.875" stop-color="#0000ff"/><stop offset="1.000" stop-color="#000080"/></linearGradient>
<rect x="254.9" y="538.7" width="11.2" height="195.5" fill="url(#cbe)" stroke="#999" stroke-width="0.5"/>
<g stroke="#222" stroke-width="0.6"><line x1="254.9" y1="723.4" x2="256.2" y2="723.4"/><line x1="266.1" y1="723.4" x2="264.8" y2="723.4"/><line x1="254.9" y1="704" x2="256.2" y2="704"/><line x1="266.1" y1="704" x2="264.8" y2="704"/><line x1="254.9" y1="684.7" x2="256.2" y2="684.7"/><line x1="266.1" y1="684.7" x2="264.8" y2="684.7"/><line x1="254.9" y1="665.4" x2="256.2" y2="665.4"/><line x1="266.1" y1="665.4" x2="264.8" y2="665.4"/><line x1="254.9" y1="646" x2="256.2" y2="646"/><line x1="266.1" y1="646" x2="264.8" y2="646"/><line x1="254.9" y1="626.7" x2="256.2" y2="626.7"/><line x1="266.1" y1="626.7" x2="264.8" y2="626.7"/><line x1="254.9" y1="607.3" x2="256.2" y2="607.3"/><line x1="266.1" y1="607.3" x2="264.8" y2="607.3"/><line x1="254.9" y1="588" x2="256.2" y2="588"/><line x1="266.1" y1="588" x2="264.8" y2="588"/><line x1="254.9" y1="568.7" x2="256.2" y2="568.7"/><line x1="266.1" y1="568.7" x2="264.8" y2="568.7"/><line x1="254.9" y1="549.3" x2="256.2" y2="549.3"/><line x1="266.1" y1="549.3" x2="264.8" y2="549.3"/></g>
<g font-size="5.8" fill="#1a1a1a"><text x="268.4" y="725.4">0.2</text><text x="268.4" y="706.1">0.3</text><text x="268.4" y="686.8">0.4</text><text x="268.4" y="667.4">0.5</text><text x="268.4" y="648.1">0.6</text><text x="268.4" y="628.7">0.7</text><text x="268.4" y="609.4">0.8</text><text x="268.4" y="590.1">0.9</text><text x="268.4" y="570.7">1</text><text x="268.4" y="551.4">1.1</text></g>
<g stroke="#f0e4e4" stroke-width="0.65" stroke-dasharray="2.2 1.3" fill="none"><line x1="339.8" y1="679.9" x2="339.8" y2="572.7" /><line x1="374.5" y1="669.3" x2="374.5" y2="562.1" /><line x1="409.2" y1="658.7" x2="409.2" y2="551.5" /><line x1="443.9" y1="648.1" x2="443.9" y2="540.9" /><line x1="324.4" y1="671.7" x2="447.9" y2="634" /><line x1="324.4" y1="650.5" x2="447.9" y2="612.8" /><line x1="324.4" y1="629.3" x2="447.9" y2="591.6" /><line x1="324.4" y1="608.1" x2="447.9" y2="570.4" /><line x1="324.4" y1="586.9" x2="447.9" y2="549.2" /><line x1="530.8" y1="689" x2="530.8" y2="581.8" /><line x1="509.1" y1="678" x2="509.1" y2="570.8" /><line x1="487.5" y1="667" x2="487.5" y2="559.8" /><line x1="465.8" y1="656" x2="465.8" y2="548.8" /><line x1="543.7" y1="682.6" x2="447.9" y2="634" /><line x1="543.7" y1="661.4" x2="447.9" y2="612.8" /><line x1="543.7" y1="640.2" x2="447.9" y2="591.6" /><line x1="543.7" y1="619" x2="447.9" y2="570.4" /><line x1="543.7" y1="597.8" x2="447.9" y2="549.2" /><line x1="435.6" y1="728.5" x2="339.8" y2="679.9" /><line x1="470.3" y1="717.9" x2="374.5" y2="669.3" /><line x1="505" y1="707.3" x2="409.2" y2="658.7" /><line x1="539.7" y1="696.7" x2="443.9" y2="648.1" /><line x1="407.3" y1="726.7" x2="530.8" y2="689" /><line x1="385.6" y1="715.7" x2="509.1" y2="678" /><line x1="364" y1="704.7" x2="487.5" y2="667" /><line x1="342.3" y1="693.7" x2="465.8" y2="656" /></g>
<defs><linearGradient id="gf0" gradientUnits="userSpaceOnUse" x1="327.8" y1="674" x2="437" y2="532.3"><stop offset="0" stop-color="#1117d9"/><stop offset=".094" stop-color="#1a38e9"/><stop offset=".139" stop-color="#1e61ef"/><stop offset=".183" stop-color="#24b5ef"/><stop offset=".209" stop-color="#28dceb"/><stop offset=".26" stop-color="#3cebe1"/><stop offset=".309" stop-color="#94f190"/><stop offset=".356" stop-color="#d6f55b"/><stop offset=".416" stop-color="#fafa3c"/><stop offset=".555" stop-color="#fcee3c"/><stop offset=".625" stop-color="#fac23d"/><stop offset=".701" stop-color="#f26c49"/><stop offset=".728" stop-color="#f16257"/><stop offset=".78" stop-color="#f2736b"/><stop offset="1" stop-color="#f2736b"/></linearGradient><linearGradient id="gf1" gradientUnits="userSpaceOnUse" x1="330.1" y1="675.5" x2="439.4" y2="534.1"><stop offset="0" stop-color="#1117d9"/><stop offset=".094" stop-color="#1936e9"/><stop offset=".147" stop-color="#1e68f0"/><stop offset=".183" stop-color="#24b0ef"/><stop offset=".208" stop-color="#27d7ec"/><stop offset=".259" stop-color="#3aeae2"/><stop offset=".283" stop-color="#62edbe"/><stop offset=".315" stop-color="#99f18c"/><stop offset=".362" stop-color="#d9f55a"/><stop offset=".422" stop-color="#fafa3d"/><stop offset=".561" stop-color="#fced3c"/><stop offset=".63" stop-color="#f9c13d"/><stop offset=".705" stop-color="#f26c49"/><stop offset=".732" stop-color="#f16257"/><stop offset=".784" stop-color="#f2736b"/><stop offset="1" stop-color="#f2736b"/></linearGradient><linearGradient id="gf2" gradientUnits="userSpaceOnUse" x1="332.5" y1="677" x2="443.3" y2="536.9"><stop offset="0" stop-color="#1117d8"/><stop offset=".093" stop-color="#1934e8"/><stop offset=".146" stop-color="#1e63f0"/><stop offset=".19" stop-color="#24b8ef"/><stop offset=".215" stop-color="#29dceb"/><stop offset=".265" stop-color="#3cebe1"/><stop offset=".313" stop-color="#94f191"/><stop offset=".368" stop-color="#dbf659"/><stop offset=".42" stop-color="#fafa3d"/><stop offset=".565" stop-color="#fced3c"/><stop offset=".633" stop-color="#f9c03d"/><stop offset=".709" stop-color="#f26b49"/><stop offset=".736" stop-color="#f16357"/><stop offset=".788" stop-color="#f2736b"/><stop offset=".955" stop-color="#f2726a"/><stop offset="1" stop-color="#f2736b"/></linearGradient><linearGradient id="gf3" gradientUnits="userSpaceOnUse" x1="334.8" y1="678.5" x2="447" y2="539.7"><stop offset="0" stop-color="#1116d7"/><stop offset=".101" stop-color="#1a39e9"/><stop offset=".154" stop-color="#1f6df0"/><stop offset=".188" stop-color="#24b3ef"/><stop offset=".214" stop-color="#28d8eb"/><stop offset=".263" stop-color="#3beae2"/><stop offset=".287" stop-color="#62edbe"/><stop offset=".319" stop-color="#99f18e"/><stop offset=".365" stop-color="#d8f55d"/><stop offset=".425" stop-color="#fafa3e"/><stop offset=".569" stop-color="#fcec3c"/><stop offset=".631" stop-color="#fac63c"/><stop offset=".712" stop-color="#f26b4a"/><stop offset=".74" stop-color="#f16357"/><stop offset=".791" stop-color="#f2736b"/><stop offset=".915" stop-color="#f16d63"/><stop offset="1" stop-color="#f2736c"/></linearGradient><linearGradient id="gf4" gradientUnits="userSpaceOnUse" x1="337.2" y1="680" x2="449.3" y2="541.6"><stop offset="0" stop-color="#1016d7"/><stop offset=".1" stop-color="#1937e9"/><stop offset=".153" stop-color="#1e66f0"/><stop offset=".196" stop-color="#25baee"/><stop offset=".221" stop-color="#29ddeb"/><stop offset=".27" stop-color="#3debe1"/><stop offset=".318" stop-color="#94f194"/><stop offset=".372" stop-color="#dbf65e"/><stop offset=".431" stop-color="#fafa3f"/><stop offset=".574" stop-color="#fceb3c"/><stop offset=".642" stop-color="#f9be3e"/><stop offset=".717" stop-color="#f26a4a"/><stop offset=".744" stop-color="#f16358"/><stop offset=".796" stop-color="#f2726b"/><stop offset=".902" stop-color="#f0665b"/><stop offset=".996" stop-color="#f2736c"/><stop offset="1" stop-color="#f2736c"/></linearGradient><linearGradient id="gf5" gradientUnits="userSpaceOnUse" x1="339.5" y1="681.5" x2="450.4" y2="542.6"><stop offset="0" stop-color="#1016d6"/><stop offset=".1" stop-color="#1934e8"/><stop offset=".153" stop-color="#1e62f0"/><stop offset=".195" stop-color="#24b4ef"/><stop offset=".22" stop-color="#28daeb"/><stop offset=".269" stop-color="#3beae2"/><stop offset=".293" stop-color="#62edc0"/><stop offset=".325" stop-color="#99f191"/><stop offset=".378" stop-color="#ddf65e"/><stop offset=".437" stop-color="#faf93f"/><stop offset=".573" stop-color="#fcee3c"/><stop offset=".642" stop-color="#fac43d"/><stop offset=".722" stop-color="#f26a4a"/><stop offset=".749" stop-color="#f16358"/><stop offset=".801" stop-color="#f2726a"/><stop offset=".902" stop-color="#ee5f51"/><stop offset=".974" stop-color="#f2736b"/><stop offset="1" stop-color="#f2746c"/></linearGradient><linearGradient id="gf6" gradientUnits="userSpaceOnUse" x1="341.8" y1="683" x2="452.4" y2="544.1"><stop offset="0" stop-color="#1015d6"/><stop offset=".108" stop-color="#1a39e9"/><stop offset=".16" stop-color="#1e6af0"/><stop offset=".203" stop-color="#25bbee"/><stop offset=".228" stop-color="#29ddeb"/><stop offset=".276" stop-color="#3debe1"/><stop offset=".324" stop-color="#93f196"/><stop offset=".377" stop-color="#daf663"/><stop offset=".436" stop-color="#fafa41"/><stop offset=".578" stop-color="#fcee3c"/><stop offset=".646" stop-color="#fac43d"/><stop offset=".727" stop-color="#f26a4a"/><stop offset=".754" stop-color="#f16357"/><stop offset=".8" stop-color="#f27169"/><stop offset=".853" stop-color="#ef6256"/><stop offset=".894" stop-color="#ec5444"/><stop offset=".935" stop-color="#ef665a"/><stop offset=".982" stop-color="#f2746c"/><stop offset="1" stop-color="#f2746d"/></linearGradient><linearGradient id="gf7" gradientUnits="userSpaceOnUse" x1="344.2" y1="684.5" x2="457" y2="547.5"><stop offset="0" stop-color="#1015d5"/><stop offset=".107" stop-color="#1936e9"/><stop offset=".159" stop-color="#1e63f0"/><stop offset=".201" stop-color="#24b5ef"/><stop offset=".226" stop-color="#28daeb"/><stop offset=".282" stop-color="#42ebdc"/><stop offset=".329" stop-color="#98f195"/><stop offset=".382" stop-color="#dcf664"/><stop offset=".44" stop-color="#fafa42"/><stop offset=".582" stop-color="#fcee3c"/><stop offset=".649" stop-color="#fac43d"/><stop offset=".73" stop-color="#f26b49"/><stop offset=".757" stop-color="#f16257"/><stop offset=".808" stop-color="#f26f67"/><stop offset=".852" stop-color="#ed5d4e"/><stop offset=".888" stop-color="#e94a36"/><stop offset=".918" stop-color="#ec5544"/><stop offset=".963" stop-color="#f27068"/><stop offset="1" stop-color="#f2756d"/></linearGradient><linearGradient id="gf8" gradientUnits="userSpaceOnUse" x1="346.5" y1="686" x2="462.7" y2="552.3"><stop offset="0" stop-color="#1014d4"/><stop offset=".106" stop-color="#1934e8"/><stop offset=".165" stop-color="#1f6cf0"/><stop offset=".207" stop-color="#25bbee"/><stop offset=".231" stop-color="#29ddeb"/><stop offset=".279" stop-color="#3debe2"/><stop offset=".333" stop-color="#9cf193"/><stop offset=".385" stop-color="#def666"/><stop offset=".443" stop-color="#fafa43"/><stop offset=".584" stop-color="#fcee3c"/><stop offset=".658" stop-color="#f9be3e"/><stop offset=".737" stop-color="#f2684b"/><stop offset=".764" stop-color="#f16358"/><stop offset=".805" stop-color="#f16f66"/><stop offset=".845" stop-color="#ed5b4d"/><stop offset=".886" stop-color="#e7412a"/><stop offset=".908" stop-color="#e94733"/><stop offset=".958" stop-color="#f16e65"/><stop offset="1" stop-color="#f3766e"/></linearGradient><linearGradient id="gf9" gradientUnits="userSpaceOnUse" x1="348.8" y1="687.5" x2="466.6" y2="555.7"><stop offset="0" stop-color="#0f14d4"/><stop offset=".113" stop-color="#1a38e9"/><stop offset=".164" stop-color="#1e64f0"/><stop offset=".205" stop-color="#24b5ef"/><stop offset=".237" stop-color="#2adeea"/><stop offset=".284" stop-color="#3febe0"/><stop offset=".331" stop-color="#95f199"/><stop offset=".383" stop-color="#daf66c"/><stop offset=".447" stop-color="#fafa44"/><stop offset=".594" stop-color="#fceb3c"/><stop offset=".661" stop-color="#f9c03d"/><stop offset=".74" stop-color="#f26a4a"/><stop offset=".767" stop-color="#f16257"/><stop offset=".814" stop-color="#f16b61"/><stop offset=".853" stop-color="#eb503e"/><stop offset=".881" stop-color="#e63c23"/><stop offset=".903" stop-color="#e73f27"/><stop offset=".958" stop-color="#f16e65"/><stop offset="1" stop-color="#f37770"/></linearGradient><linearGradient id="gf10" gradientUnits="userSpaceOnUse" x1="351.2" y1="689" x2="468.6" y2="557.5"><stop offset="0" stop-color="#0f14d3"/><stop offset=".113" stop-color="#1935e9"/><stop offset=".171" stop-color="#1f6cf0"/><stop offset=".212" stop-color="#25baee"/><stop offset=".236" stop-color="#28dceb"/><stop offset=".291" stop-color="#44ecdc"/><stop offset=".337" stop-color="#98f199"/><stop offset=".388" stop-color="#dcf66e"/><stop offset=".453" stop-color="#fafa45"/><stop offset=".592" stop-color="#fcef3c"/><stop offset=".665" stop-color="#fac33d"/><stop offset=".745" stop-color="#f26d48"/><stop offset=".772" stop-color="#f16155"/><stop offset=".818" stop-color="#f0685d"/><stop offset=".88" stop-color="#e63a21"/><stop offset=".903" stop-color="#e73d25"/><stop offset=".958" stop-color="#f16f66"/><stop offset="1" stop-color="#f37972"/></linearGradient><linearGradient id="gf11" gradientUnits="userSpaceOnUse" x1="353.5" y1="690.5" x2="471.1" y2="559.8"><stop offset="0" stop-color="#0f13d3"/><stop offset=".12" stop-color="#1a39e9"/><stop offset=".17" stop-color="#1e64f0"/><stop offset=".211" stop-color="#24b3ef"/><stop offset=".242" stop-color="#29ddea"/><stop offset=".289" stop-color="#3deae2"/><stop offset=".342" stop-color="#9bf299"/><stop offset=".394" stop-color="#ddf670"/><stop offset=".458" stop-color="#fafa47"/><stop offset=".565" stop-color="#fcf23c"/><stop offset=".609" stop-color="#fce93c"/><stop offset=".675" stop-color="#f9c03d"/><stop offset=".754" stop-color="#f26c49"/><stop offset=".786" stop-color="#f16257"/><stop offset=".827" stop-color="#ef6357"/><stop offset=".879" stop-color="#e63d24"/><stop offset=".902" stop-color="#e74029"/><stop offset=".957" stop-color="#f17167"/><stop offset=".996" stop-color="#f37b74"/><stop offset="1" stop-color="#f37b74"/></linearGradient><linearGradient id="gf12" gradientUnits="userSpaceOnUse" x1="355.9" y1="692" x2="478.2" y2="566.7"><stop offset="0" stop-color="#0f13d2"/><stop offset=".118" stop-color="#1936e9"/><stop offset=".175" stop-color="#1e6bf0"/><stop offset=".215" stop-color="#24b7ef"/><stop offset=".239" stop-color="#28d9eb"/><stop offset=".293" stop-color="#3eebe2"/><stop offset=".345" stop-color="#9df299"/><stop offset=".396" stop-color="#def774"/><stop offset=".459" stop-color="#fafa49"/><stop offset=".553" stop-color="#fbf33c"/><stop offset=".61" stop-color="#fceb3c"/><stop offset=".676" stop-color="#fac53d"/><stop offset=".755" stop-color="#f27046"/><stop offset=".792" stop-color="#f16156"/><stop offset=".828" stop-color="#ef6154"/><stop offset=".881" stop-color="#e8432c"/><stop offset=".909" stop-color="#ea4d39"/><stop offset=".96" stop-color="#f2756d"/><stop offset="1" stop-color="#f37e77"/></linearGradient><linearGradient id="gf13" gradientUnits="userSpaceOnUse" x1="358.2" y1="693.5" x2="491.4" y2="584.6"><stop offset="0" stop-color="#0f13d1"/><stop offset=".114" stop-color="#1932e8"/><stop offset=".17" stop-color="#1e62f0"/><stop offset=".216" stop-color="#25b9ee"/><stop offset=".239" stop-color="#28daeb"/><stop offset=".291" stop-color="#3eebe2"/><stop offset=".343" stop-color="#9cf29c"/><stop offset=".392" stop-color="#dcf779"/><stop offset=".461" stop-color="#fafa49"/><stop offset=".554" stop-color="#fbf33c"/><stop offset=".61" stop-color="#fcec3c"/><stop offset=".682" stop-color="#fac23d"/><stop offset=".772" stop-color="#f2694a"/><stop offset=".809" stop-color="#f06054"/><stop offset=".85" stop-color="#ec5544"/><stop offset=".884" stop-color="#ea4d3a"/><stop offset=".922" stop-color="#ee6255"/><stop offset=".975" stop-color="#f37f78"/><stop offset="1" stop-color="#f4817a"/></linearGradient><linearGradient id="gf14" gradientUnits="userSpaceOnUse" x1="360.5" y1="695" x2="497.8" y2="597"><stop offset="0" stop-color="#0e12d1"/><stop offset=".12" stop-color="#1935e8"/><stop offset=".174" stop-color="#1e63f0"/><stop offset=".219" stop-color="#24b8ef"/><stop offset=".249" stop-color="#2addea"/><stop offset=".3" stop-color="#44ecdd"/><stop offset=".343" stop-color="#96f1a0"/><stop offset=".399" stop-color="#def77b"/><stop offset=".474" stop-color="#fbf949"/><stop offset=".565" stop-color="#fbf33c"/><stop offset=".627" stop-color="#fcea3c"/><stop offset=".704" stop-color="#f9bd3e"/><stop offset=".793" stop-color="#f26b49"/><stop offset=".84" stop-color="#ef5a4c"/><stop offset=".885" stop-color="#ec5848"/><stop offset=".978" stop-color="#f4857e"/><stop offset="1" stop-color="#f4857f"/></linearGradient><linearGradient id="gf15" gradientUnits="userSpaceOnUse" x1="362.9" y1="696.5" x2="501.9" y2="608"><stop offset="0" stop-color="#0e12d0"/><stop offset=".125" stop-color="#1936e9"/><stop offset=".178" stop-color="#1e63f0"/><stop offset=".222" stop-color="#24b5ef"/><stop offset=".251" stop-color="#29ddeb"/><stop offset=".302" stop-color="#3eebe2"/><stop offset=".358" stop-color="#a2f29c"/><stop offset=".406" stop-color="#ddf780"/><stop offset=".48" stop-color="#fbfa4c"/><stop offset=".57" stop-color="#fbf43c"/><stop offset=".644" stop-color="#fcea3c"/><stop offset=".72" stop-color="#fac33d"/><stop offset=".814" stop-color="#f37346"/><stop offset=".862" stop-color="#ef5a4b"/><stop offset=".912" stop-color="#f0665b"/><stop offset=".982" stop-color="#f48a83"/><stop offset="1" stop-color="#f48a84"/></linearGradient><linearGradient id="gf16" gradientUnits="userSpaceOnUse" x1="365.2" y1="698" x2="506" y2="628.1"><stop offset="0" stop-color="#0e11cf"/><stop offset=".113" stop-color="#182fe7"/><stop offset=".179" stop-color="#1e62f0"/><stop offset=".222" stop-color="#24b2ef"/><stop offset=".251" stop-color="#28daeb"/><stop offset=".307" stop-color="#3febe2"/><stop offset=".355" stop-color="#98f2a3"/><stop offset=".416" stop-color="#e1f781"/><stop offset=".475" stop-color="#f9fa56"/><stop offset=".539" stop-color="#fbf63f"/><stop offset=".657" stop-color="#fcec3c"/><stop offset=".75" stop-color="#f9be3e"/><stop offset=".844" stop-color="#f37846"/><stop offset=".897" stop-color="#f16451"/><stop offset=".957" stop-color="#f37a70"/><stop offset=".986" stop-color="#f4857d"/><stop offset="1" stop-color="#f4857e"/></linearGradient><linearGradient id="gf17" gradientUnits="userSpaceOnUse" x1="367.6" y1="699.5" x2="506.2" y2="634.4"><stop offset="0" stop-color="#0e11cf"/><stop offset=".126" stop-color="#1932e8"/><stop offset=".191" stop-color="#1f6bf0"/><stop offset=".227" stop-color="#23aff0"/><stop offset=".262" stop-color="#29ddeb"/><stop offset=".318" stop-color="#41ebe1"/><stop offset=".366" stop-color="#98f2a4"/><stop offset=".419" stop-color="#d9f78b"/><stop offset=".478" stop-color="#f4fa63"/><stop offset=".523" stop-color="#fbf948"/><stop offset=".617" stop-color="#fbf33c"/><stop offset=".683" stop-color="#fceb3c"/><stop offset=".776" stop-color="#fac33d"/><stop offset=".874" stop-color="#f48247"/><stop offset=".931" stop-color="#f3795a"/><stop offset=".981" stop-color="#f58a7a"/><stop offset="1" stop-color="#f5897a"/></linearGradient><linearGradient id="gf18" gradientUnits="userSpaceOnUse" x1="369.9" y1="701" x2="506.3" y2="636.5"><stop offset="0" stop-color="#0e11ce"/><stop offset=".104" stop-color="#172ae4"/><stop offset=".141" stop-color="#1a39e9"/><stop offset=".198" stop-color="#1e6af0"/><stop offset=".241" stop-color="#24b6ef"/><stop offset=".269" stop-color="#28dbeb"/><stop offset=".331" stop-color="#46ecde"/><stop offset=".378" stop-color="#9bf2a5"/><stop offset=".432" stop-color="#d9f78f"/><stop offset=".49" stop-color="#f3fa69"/><stop offset=".529" stop-color="#fbf94d"/><stop offset=".604" stop-color="#fbf53d"/><stop offset=".706" stop-color="#fceb3c"/><stop offset=".809" stop-color="#f9c13d"/><stop offset=".895" stop-color="#f5904b"/><stop offset=".956" stop-color="#f5926a"/><stop offset=".981" stop-color="#f69b7b"/><stop offset="1" stop-color="#f69b7b"/></linearGradient><linearGradient id="gf19" gradientUnits="userSpaceOnUse" x1="372.2" y1="702.5" x2="506.2" y2="638.4"><stop offset="0" stop-color="#0d10ce"/><stop offset=".126" stop-color="#182fe6"/><stop offset=".176" stop-color="#1c50ed"/><stop offset=".205" stop-color="#1e69f0"/><stop offset=".247" stop-color="#24b4ef"/><stop offset=".282" stop-color="#29ddea"/><stop offset=".337" stop-color="#40ebe2"/><stop offset=".391" stop-color="#9ef2a5"/><stop offset=".444" stop-color="#daf793"/><stop offset=".496" stop-color="#f0fa74"/><stop offset=".541" stop-color="#fbfa51"/><stop offset=".61" stop-color="#fbf53e"/><stop offset=".729" stop-color="#fceb3c"/><stop offset=".847" stop-color="#f9bc3e"/><stop offset=".911" stop-color="#f7a150"/><stop offset=".966" stop-color="#f7a878"/><stop offset=".986" stop-color="#f8ad83"/><stop offset="1" stop-color="#f8ad83"/></linearGradient><linearGradient id="gf20" gradientUnits="userSpaceOnUse" x1="374.6" y1="704" x2="506" y2="636.5"><stop offset="0" stop-color="#0d10cd"/><stop offset=".119" stop-color="#172be5"/><stop offset=".155" stop-color="#1a3be9"/><stop offset=".212" stop-color="#1e68f0"/><stop offset=".255" stop-color="#24b1ef"/><stop offset=".29" stop-color="#28dceb"/><stop offset=".352" stop-color="#43ece0"/><stop offset=".406" stop-color="#a0f3a6"/><stop offset=".458" stop-color="#daf897"/><stop offset=".51" stop-color="#f0fa7a"/><stop offset=".561" stop-color="#fbfa51"/><stop offset=".636" stop-color="#fbf53e"/><stop offset=".754" stop-color="#fcec3c"/><stop offset=".88" stop-color="#f9be41"/><stop offset=".937" stop-color="#f8b260"/><stop offset=".981" stop-color="#f9be89"/><stop offset="1" stop-color="#f9bd89"/></linearGradient><linearGradient id="gf21" gradientUnits="userSpaceOnUse" x1="376.9" y1="705.5" x2="506.3" y2="640.5"><stop offset="0" stop-color="#0d10cc"/><stop offset=".118" stop-color="#172ae4"/><stop offset=".161" stop-color="#1a3be9"/><stop offset=".218" stop-color="#1e67f0"/><stop offset=".267" stop-color="#24b8ef"/><stop offset=".302" stop-color="#2addea"/><stop offset=".363" stop-color="#47ecde"/><stop offset=".41" stop-color="#98f2ab"/><stop offset=".457" stop-color="#d0f79e"/><stop offset=".496" stop-color="#e9f990"/><stop offset=".578" stop-color="#fbfa51"/><stop offset=".652" stop-color="#fbf53e"/><stop offset=".775" stop-color="#fcec3c"/><stop offset=".885" stop-color="#facc41"/><stop offset=".937" stop-color="#fac361"/><stop offset=".981" stop-color="#fbcd8f"/><stop offset="1" stop-color="#facb8f"/></linearGradient><linearGradient id="gf22" gradientUnits="userSpaceOnUse" x1="379.3" y1="707" x2="506.6" y2="646.8"><stop offset="0" stop-color="#0d0fcc"/><stop offset=".117" stop-color="#1628e3"/><stop offset=".167" stop-color="#1a3cea"/><stop offset=".223" stop-color="#1e65f0"/><stop offset=".272" stop-color="#24b5ef"/><stop offset=".306" stop-color="#29dceb"/><stop offset=".368" stop-color="#41ebe2"/><stop offset=".421" stop-color="#9af2ac"/><stop offset=".467" stop-color="#d1f7a2"/><stop offset=".512" stop-color="#ebf992"/><stop offset=".594" stop-color="#fbf952"/><stop offset=".667" stop-color="#fbf53f"/><stop offset=".801" stop-color="#fceb3c"/><stop offset=".884" stop-color="#fbd441"/><stop offset=".936" stop-color="#fbd261"/><stop offset=".981" stop-color="#fcd993"/><stop offset="1" stop-color="#fcd894"/></linearGradient><linearGradient id="gf23" gradientUnits="userSpaceOnUse" x1="381.6" y1="708.5" x2="506.6" y2="651.6"><stop offset="0" stop-color="#0d0fcb"/><stop offset=".123" stop-color="#1629e4"/><stop offset=".166" stop-color="#1937e9"/><stop offset=".229" stop-color="#1e64f0"/><stop offset=".277" stop-color="#24b2ef"/><stop offset=".318" stop-color="#2addea"/><stop offset=".379" stop-color="#43ece2"/><stop offset=".432" stop-color="#9cf2ad"/><stop offset=".484" stop-color="#d7f8a4"/><stop offset=".523" stop-color="#ebfa98"/><stop offset=".604" stop-color="#fbfa56"/><stop offset=".677" stop-color="#fbf63f"/><stop offset=".828" stop-color="#fcea3c"/><stop offset=".888" stop-color="#fbdb43"/><stop offset=".941" stop-color="#fbda69"/><stop offset=".981" stop-color="#fce398"/><stop offset="1" stop-color="#fce298"/></linearGradient><linearGradient id="gf24" gradientUnits="userSpaceOnUse" x1="383.9" y1="710" x2="506.4" y2="655.3"><stop offset="0" stop-color="#0c0fcb"/><stop offset=".13" stop-color="#1729e4"/><stop offset=".172" stop-color="#1a37e9"/><stop offset=".235" stop-color="#1e63f0"/><stop offset=".29" stop-color="#24b7ef"/><stop offset=".324" stop-color="#29dceb"/><stop offset=".391" stop-color="#46ece0"/><stop offset=".444" stop-color="#9df3ae"/><stop offset=".495" stop-color="#d7f8a8"/><stop offset=".534" stop-color="#ebfa9d"/><stop offset=".59" stop-color="#f8fb70"/><stop offset=".64" stop-color="#fbf94e"/><stop offset=".73" stop-color="#fbf43d"/><stop offset=".855" stop-color="#fcea3c"/><stop offset=".909" stop-color="#fbe04f"/><stop offset=".956" stop-color="#fce27d"/><stop offset=".976" stop-color="#fde79a"/><stop offset="1" stop-color="#fde79b"/></linearGradient><linearGradient id="gf25" gradientUnits="userSpaceOnUse" x1="386.3" y1="711.5" x2="506.2" y2="659.8"><stop offset="0" stop-color="#0c0eca"/><stop offset=".129" stop-color="#1628e3"/><stop offset=".178" stop-color="#1a37e9"/><stop offset=".247" stop-color="#1e6af0"/><stop offset=".295" stop-color="#24b3ef"/><stop offset=".336" stop-color="#2addea"/><stop offset=".402" stop-color="#47ecdf"/><stop offset=".455" stop-color="#9df3b0"/><stop offset=".506" stop-color="#d7f8ab"/><stop offset=".551" stop-color="#edfaa0"/><stop offset=".601" stop-color="#f6fb78"/><stop offset=".65" stop-color="#fbf953"/><stop offset=".722" stop-color="#fbf53f"/><stop offset=".876" stop-color="#fced40"/><stop offset=".924" stop-color="#fce65c"/><stop offset=".971" stop-color="#fdea94"/><stop offset=".981" stop-color="#fdec9d"/><stop offset="1" stop-color="#fdeb9d"/></linearGradient><linearGradient id="gf26" gradientUnits="userSpaceOnUse" x1="388.6" y1="713" x2="505.8" y2="664.2"><stop offset="0" stop-color="#0c0ec9"/><stop offset=".121" stop-color="#1525e2"/><stop offset=".184" stop-color="#1937e9"/><stop offset=".253" stop-color="#1e66f0"/><stop offset=".307" stop-color="#24b7ef"/><stop offset=".341" stop-color="#28dceb"/><stop offset=".414" stop-color="#48ece0"/><stop offset=".466" stop-color="#9cf3b2"/><stop offset=".511" stop-color="#d1f8af"/><stop offset=".561" stop-color="#edfaa7"/><stop offset=".611" stop-color="#f5fb81"/><stop offset=".66" stop-color="#fbfa58"/><stop offset=".726" stop-color="#fbf641"/><stop offset=".875" stop-color="#fcf140"/><stop offset=".924" stop-color="#fced5c"/><stop offset=".97" stop-color="#fdef94"/><stop offset=".98" stop-color="#fdf09d"/><stop offset="1" stop-color="#fdef9d"/></linearGradient><linearGradient id="gf27" gradientUnits="userSpaceOnUse" x1="391" y1="714.5" x2="505.2" y2="669.8"><stop offset="0" stop-color="#0c0dc9"/><stop offset=".134" stop-color="#1626e2"/><stop offset=".196" stop-color="#1a3be9"/><stop offset=".264" stop-color="#1f6cf0"/><stop offset=".312" stop-color="#24b2ef"/><stop offset=".352" stop-color="#29dceb"/><stop offset=".424" stop-color="#47ece1"/><stop offset=".476" stop-color="#9af2b4"/><stop offset=".527" stop-color="#d5f8b2"/><stop offset=".578" stop-color="#eefaab"/><stop offset=".627" stop-color="#f5fb86"/><stop offset=".676" stop-color="#fbfa5b"/><stop offset=".748" stop-color="#fbf642"/><stop offset=".868" stop-color="#fcf23e"/><stop offset=".923" stop-color="#fcf35c"/><stop offset=".97" stop-color="#fdf392"/><stop offset=".98" stop-color="#fdf39b"/><stop offset="1" stop-color="#fdf39b"/></linearGradient><linearGradient id="gf28" gradientUnits="userSpaceOnUse" x1="393.3" y1="716" x2="504.6" y2="673.3"><stop offset="0" stop-color="#0c0dc8"/><stop offset=".14" stop-color="#1627e3"/><stop offset=".202" stop-color="#1a3ae9"/><stop offset=".27" stop-color="#1e67f0"/><stop offset=".324" stop-color="#24b4ef"/><stop offset=".364" stop-color="#29dceb"/><stop offset=".436" stop-color="#45ece2"/><stop offset=".494" stop-color="#a0f3b4"/><stop offset=".538" stop-color="#d2f8b4"/><stop offset=".589" stop-color="#eefbb2"/><stop offset=".632" stop-color="#f3fb97"/><stop offset=".693" stop-color="#fbfa60"/><stop offset=".765" stop-color="#fbf643"/><stop offset=".873" stop-color="#fcf340"/><stop offset=".922" stop-color="#fcf35a"/><stop offset=".98" stop-color="#fdf798"/><stop offset="1" stop-color="#fdf798"/></linearGradient><linearGradient id="gf29" gradientUnits="userSpaceOnUse" x1="395.6" y1="717.5" x2="504.7" y2="671.3"><stop offset="0" stop-color="#0b0dc7"/><stop offset=".148" stop-color="#1627e3"/><stop offset=".21" stop-color="#1a39e9"/><stop offset=".285" stop-color="#1e6bf0"/><stop offset=".338" stop-color="#24b5ef"/><stop offset=".378" stop-color="#29dceb"/><stop offset=".45" stop-color="#44ebe3"/><stop offset=".508" stop-color="#9bf3b7"/><stop offset=".553" stop-color="#cff8b6"/><stop offset=".603" stop-color="#edfbb8"/><stop offset=".646" stop-color="#f3fba3"/><stop offset=".725" stop-color="#fbfa5d"/><stop offset=".801" stop-color="#fbf642"/><stop offset=".88" stop-color="#fbf341"/><stop offset=".934" stop-color="#fcf461"/><stop offset=".98" stop-color="#fdf792"/><stop offset="1" stop-color="#fdf792"/></linearGradient><linearGradient id="gf30" gradientUnits="userSpaceOnUse" x1="398" y1="719" x2="504.7" y2="669.7"><stop offset="0" stop-color="#0b0cc7"/><stop offset=".148" stop-color="#1525e2"/><stop offset=".224" stop-color="#1a3bea"/><stop offset=".292" stop-color="#1e64f0"/><stop offset=".352" stop-color="#24b5ef"/><stop offset=".392" stop-color="#28dceb"/><stop offset=".471" stop-color="#47ece2"/><stop offset=".529" stop-color="#9ef3b7"/><stop offset=".579" stop-color="#d6f9bb"/><stop offset=".635" stop-color="#f0fbbb"/><stop offset=".684" stop-color="#f5fb9b"/><stop offset=".744" stop-color="#fbfa64"/><stop offset=".814" stop-color="#fbf746"/><stop offset=".881" stop-color="#fbf441"/><stop offset=".935" stop-color="#fcf55f"/><stop offset=".981" stop-color="#fdf78c"/><stop offset="1" stop-color="#fdf78c"/></linearGradient><linearGradient id="gf31" gradientUnits="userSpaceOnUse" x1="400.3" y1="720.5" x2="504.6" y2="672.9"><stop offset="0" stop-color="#0b0cc6"/><stop offset=".154" stop-color="#1525e2"/><stop offset=".23" stop-color="#1a3ae9"/><stop offset=".304" stop-color="#1e66f0"/><stop offset=".364" stop-color="#24b5ef"/><stop offset=".41" stop-color="#2addea"/><stop offset=".482" stop-color="#44ebe3"/><stop offset=".546" stop-color="#a0f3b8"/><stop offset=".596" stop-color="#d7f9be"/><stop offset=".652" stop-color="#f1fbc1"/><stop offset=".695" stop-color="#f4fba9"/><stop offset=".772" stop-color="#fbfa63"/><stop offset=".847" stop-color="#fbf745"/><stop offset=".891" stop-color="#fbf544"/><stop offset=".945" stop-color="#fcf664"/><stop offset=".981" stop-color="#fdf784"/><stop offset="1" stop-color="#fdf784"/></linearGradient><linearGradient id="gf32" gradientUnits="userSpaceOnUse" x1="402.7" y1="722" x2="504.2" y2="679.8"><stop offset="0" stop-color="#0b0cc6"/><stop offset=".159" stop-color="#1525e2"/><stop offset=".234" stop-color="#1a38e9"/><stop offset=".315" stop-color="#1e67f0"/><stop offset=".374" stop-color="#24b4ef"/><stop offset=".42" stop-color="#29ddeb"/><stop offset=".498" stop-color="#45ece3"/><stop offset=".561" stop-color="#a0f3ba"/><stop offset=".605" stop-color="#d2f8be"/><stop offset=".661" stop-color="#f0fbc8"/><stop offset=".703" stop-color="#f4fcb7"/><stop offset=".798" stop-color="#fbfa64"/><stop offset=".873" stop-color="#fbf746"/><stop offset=".911" stop-color="#fbf64b"/><stop offset=".98" stop-color="#fcf77c"/><stop offset="1" stop-color="#fdf77c"/></linearGradient><linearGradient id="gf33" gradientUnits="userSpaceOnUse" x1="405" y1="723.5" x2="503.4" y2="685.3"><stop offset="0" stop-color="#0b0bc5"/><stop offset=".165" stop-color="#1524e1"/><stop offset=".246" stop-color="#1a39e9"/><stop offset=".326" stop-color="#1e67f0"/><stop offset=".392" stop-color="#24b8ef"/><stop offset=".437" stop-color="#2addea"/><stop offset=".514" stop-color="#46ece3"/><stop offset=".577" stop-color="#9ff3bb"/><stop offset=".621" stop-color="#d1f8c0"/><stop offset=".677" stop-color="#f0fccd"/><stop offset=".725" stop-color="#f5fcbd"/><stop offset=".825" stop-color="#fbfa66"/><stop offset=".899" stop-color="#fbf748"/><stop offset=".948" stop-color="#fcf75e"/><stop offset=".98" stop-color="#fcf874"/><stop offset="1" stop-color="#fcf774"/></linearGradient><linearGradient id="gf34" gradientUnits="userSpaceOnUse" x1="407.3" y1="725" x2="503" y2="687.7"><stop offset="0" stop-color="#0a0bc4"/><stop offset=".178" stop-color="#1525e2"/><stop offset=".259" stop-color="#1a3ae9"/><stop offset=".338" stop-color="#1e66f0"/><stop offset=".404" stop-color="#24b5ef"/><stop offset=".455" stop-color="#2bdeea"/><stop offset=".532" stop-color="#46ece3"/><stop offset=".595" stop-color="#9df3bd"/><stop offset=".645" stop-color="#d4f9c3"/><stop offset=".7" stop-color="#f1fcd2"/><stop offset=".742" stop-color="#f5fcc7"/><stop offset=".819" stop-color="#fbfc84"/><stop offset=".888" stop-color="#fbf958"/><stop offset=".927" stop-color="#fbf84e"/><stop offset=".98" stop-color="#fcf86b"/><stop offset="1" stop-color="#fcf86b"/></linearGradient><linearGradient id="gf35" gradientUnits="userSpaceOnUse" x1="409.7" y1="726.5" x2="502.8" y2="689.1"><stop offset="0" stop-color="#0a0ac4"/><stop offset=".184" stop-color="#1525e2"/><stop offset=".265" stop-color="#1a38e9"/><stop offset=".357" stop-color="#1f6df0"/><stop offset=".423" stop-color="#24b8ef"/><stop offset=".474" stop-color="#2bdeea"/><stop offset=".557" stop-color="#4bece1"/><stop offset=".613" stop-color="#9af3bf"/><stop offset=".657" stop-color="#ccf8c2"/><stop offset=".712" stop-color="#effcd5"/><stop offset=".76" stop-color="#f6fdd1"/><stop offset=".819" stop-color="#f8fca5"/><stop offset=".882" stop-color="#fbfb6e"/><stop offset=".943" stop-color="#fbf852"/><stop offset=".985" stop-color="#fcf864"/><stop offset="1" stop-color="#fcf864"/></linearGradient><linearGradient id="gf36" gradientUnits="userSpaceOnUse" x1="412" y1="728" x2="502.2" y2="692.7"><stop offset="0" stop-color="#0a0ac3"/><stop offset=".183" stop-color="#1523e1"/><stop offset=".283" stop-color="#1a3bea"/><stop offset=".369" stop-color="#1e6af0"/><stop offset=".434" stop-color="#24b4ef"/><stop offset=".485" stop-color="#29ddeb"/><stop offset=".574" stop-color="#49ece3"/><stop offset=".63" stop-color="#95f2c1"/><stop offset=".667" stop-color="#c3f7c0"/><stop offset=".722" stop-color="#ebfcd5"/><stop offset=".77" stop-color="#f7fddb"/><stop offset=".818" stop-color="#f7fcc3"/><stop offset=".915" stop-color="#fbfb71"/><stop offset=".969" stop-color="#fbf959"/><stop offset="1" stop-color="#fbf95c"/></linearGradient><linearGradient id="gf37" gradientUnits="userSpaceOnUse" x1="414.4" y1="729.5" x2="500.7" y2="699.9"><stop offset="0" stop-color="#0a0ac3"/><stop offset=".201" stop-color="#1525e2"/><stop offset=".294" stop-color="#1a3bea"/><stop offset=".379" stop-color="#1e67f0"/><stop offset=".45" stop-color="#24b5ef"/><stop offset=".501" stop-color="#29ddeb"/><stop offset=".589" stop-color="#47ece3"/><stop offset=".657" stop-color="#a0f3c1"/><stop offset=".701" stop-color="#cff8c6"/><stop offset=".755" stop-color="#f1fcdd"/><stop offset=".809" stop-color="#f8fddd"/><stop offset=".867" stop-color="#f8fcb7"/><stop offset=".947" stop-color="#fcfb77"/><stop offset="1" stop-color="#fbfa62"/></linearGradient><linearGradient id="gf38" gradientUnits="userSpaceOnUse" x1="416.7" y1="731" x2="499.2" y2="704.9"><stop offset="0" stop-color="#0a0ac3"/><stop offset=".233" stop-color="#1629e4"/><stop offset=".305" stop-color="#1a3be9"/><stop offset=".396" stop-color="#1e6af0"/><stop offset=".466" stop-color="#24b6ef"/><stop offset=".517" stop-color="#29dceb"/><stop offset=".612" stop-color="#49ece3"/><stop offset=".674" stop-color="#98f3c3"/><stop offset=".717" stop-color="#caf8c6"/><stop offset=".771" stop-color="#effcde"/><stop offset=".825" stop-color="#f9fee5"/><stop offset=".878" stop-color="#f8fdcd"/><stop offset=".974" stop-color="#fcfc82"/><stop offset="1" stop-color="#fcfb78"/></linearGradient><linearGradient id="gf39" gradientUnits="userSpaceOnUse" x1="419" y1="732.5" x2="500.6" y2="698"><stop offset="0" stop-color="#0a0ac3"/><stop offset=".235" stop-color="#1627e3"/><stop offset=".321" stop-color="#1a3ae9"/><stop offset=".418" stop-color="#1f6cf0"/><stop offset=".489" stop-color="#24b5ef"/><stop offset=".546" stop-color="#2addea"/><stop offset=".64" stop-color="#4aece3"/><stop offset=".702" stop-color="#98f3c4"/><stop offset=".745" stop-color="#c9f8c7"/><stop offset=".798" stop-color="#effce0"/><stop offset=".851" stop-color="#fafeec"/><stop offset=".903" stop-color="#f9fdd9"/><stop offset="1" stop-color="#fbfc95"/></linearGradient></defs>
<path d="M329 674.7L335 662.3L341 650.6L347.1 639.6L356.2 624.3L362.2 615L371.3 602.1L377.3 594.3L386.4 583.7L392.4 577.3L401.5 568.9L407.5 563.9L416.6 557.4L422.6 553.7L431.7 549L440.8 545.2L449.8 542.2L447.9 540.8L438.8 543.8L429.7 547.5L420.6 552.2L414.5 555.9L405.5 562.3L399.4 567.2L390.3 575.6L384.2 581.9L375.1 592.5L369.1 600.3L360 613.1L353.9 622.5L344.8 637.9L338.8 649L332.7 660.7L326.6 673.2Z" fill="url(#gf0)" stroke="url(#gf0)" stroke-width="0.7"/>
<path d="M331.3 676.2L343.3 652.3L349.4 641.3L358.4 626.1L364.4 616.8L373.5 603.9L379.5 596.1L388.5 585.4L394.5 579.1L403.6 570.5L409.6 565.5L418.6 559L424.7 555.3L433.7 550.5L442.7 546.7L451.8 543.6L449.8 542.2L440.8 545.2L431.7 549L422.6 553.7L416.6 557.4L407.5 563.9L401.5 568.9L392.4 577.3L386.4 583.7L377.3 594.3L371.3 602.1L362.2 615L356.2 624.3L347.1 639.6L341 650.6L335 662.3L329 674.7Z" fill="url(#gf1)" stroke="url(#gf1)" stroke-width="0.7"/>
<path d="M333.6 677.7L345.6 654L351.6 643.1L360.6 627.9L366.6 618.6L375.6 605.7L381.6 597.9L390.6 587.2L396.6 580.8L405.6 572.2L411.6 567.2L420.6 560.6L426.6 556.8L435.6 552L444.6 548.1L453.6 545.1L451.8 543.6L442.7 546.7L433.7 550.5L424.7 555.3L418.6 559L409.6 565.5L403.6 570.5L394.5 579.1L388.5 585.4L379.5 596.1L373.5 603.9L364.4 616.8L358.4 626.1L349.4 641.3L343.3 652.3L331.3 676.2Z" fill="url(#gf2)" stroke="url(#gf2)" stroke-width="0.7"/>
<path d="M336 679.2L347.9 655.7L353.9 644.8L362.9 629.7L368.8 620.4L377.8 607.5L383.8 599.7L392.7 589L398.7 582.6L407.7 574L413.6 568.9L422.6 562.2L428.6 558.4L437.5 553.5L446.5 549.6L455.4 546.6L453.6 545.1L444.6 548.1L435.6 552L426.6 556.8L420.6 560.6L411.6 567.2L405.6 572.2L396.6 580.8L390.6 587.2L381.6 597.9L375.6 605.7L366.6 618.6L360.6 627.9L351.6 643.1L345.6 654L333.6 677.7Z" fill="url(#gf3)" stroke="url(#gf3)" stroke-width="0.7"/>
<path d="M338.3 680.7L350.2 657.3L356.2 646.6L365.1 631.5L371 622.2L380 609.4L385.9 601.6L394.8 590.8L400.8 584.4L409.7 575.7L415.6 570.6L424.6 563.9L430.5 560L439.4 555.1L448.4 551.1L457.3 548.1L455.4 546.6L446.5 549.6L437.5 553.5L428.6 558.4L422.6 562.2L413.6 568.9L407.7 574L398.7 582.6L392.7 589L383.8 599.7L377.8 607.5L368.8 620.4L362.9 629.7L353.9 644.8L347.9 655.7L336 679.2Z" fill="url(#gf4)" stroke="url(#gf4)" stroke-width="0.7"/>
<path d="M340.7 682.2L352.5 659L358.4 648.3L367.3 633.4L373.3 624.1L382.1 611.3L388.1 603.4L397 592.7L402.9 586.2L411.8 577.5L417.7 572.3L426.6 565.5L432.5 561.6L441.4 556.6L450.3 552.6L459.2 549.5L457.3 548.1L448.4 551.1L439.4 555.1L430.5 560L424.6 563.9L415.6 570.6L409.7 575.7L400.8 584.4L394.8 590.8L385.9 601.6L380 609.4L371 622.2L365.1 631.5L356.2 646.6L350.2 657.3L338.3 680.7Z" fill="url(#gf5)" stroke="url(#gf5)" stroke-width="0.7"/>
<path d="M343 683.7L348.9 671.9L357.8 655.3L363.7 645L372.5 630.5L378.5 621.6L387.3 609.2L393.2 601.6L402.1 591.2L408 585L416.9 576.6L422.8 571.6L431.6 565.1L437.5 561.4L446.4 556.7L452.3 554.1L461.2 551L459.2 549.5L450.3 552.6L441.4 556.6L432.5 561.6L426.6 565.5L417.7 572.3L411.8 577.5L402.9 586.2L397 592.7L388.1 603.4L382.1 611.3L373.3 624.1L367.3 633.4L358.4 648.3L352.5 659L340.7 682.2Z" fill="url(#gf6)" stroke="url(#gf6)" stroke-width="0.7"/>
<path d="M345.3 685.2L351.2 673.5L360.1 657.1L366 646.8L374.8 632.4L380.7 623.5L389.5 611.1L395.4 603.5L404.2 593.1L410.1 586.9L419 578.4L424.9 573.4L433.7 566.9L439.6 563.1L448.4 558.3L454.3 555.7L463.1 552.6L461.2 551L452.3 554.1L446.4 556.7L437.5 561.4L431.6 565.1L422.8 571.6L416.9 576.6L408 585L402.1 591.2L393.2 601.6L387.3 609.2L378.5 621.6L372.5 630.5L363.7 645L357.8 655.3L348.9 671.9L343 683.7Z" fill="url(#gf7)" stroke="url(#gf7)" stroke-width="0.7"/>
<path d="M347.7 686.7L353.5 675.2L362.3 658.8L368.2 648.6L377 634.3L382.9 625.4L391.7 613.1L397.5 605.5L406.3 595.1L412.2 588.8L421 580.3L426.9 575.3L435.7 568.7L441.5 564.9L450.3 560L456.2 557.4L465 554.3L463.1 552.6L454.3 555.7L448.4 558.3L439.6 563.1L433.7 566.9L424.9 573.4L419 578.4L410.1 586.9L404.2 593.1L395.4 603.5L389.5 611.1L380.7 623.5L374.8 632.4L366 646.8L360.1 657.1L351.2 673.5L345.3 685.2Z" fill="url(#gf8)" stroke="url(#gf8)" stroke-width="0.7"/>
<path d="M350 688.2L355.9 676.8L364.6 660.6L370.5 650.5L379.2 636.3L385.1 627.4L393.8 615.1L399.7 607.5L408.4 597.1L414.3 590.8L423 582.3L428.9 577.2L437.6 570.5L443.5 566.7L452.3 561.8L458.1 559.1L466.9 556L465 554.3L456.2 557.4L450.3 560L441.5 564.9L435.7 568.7L426.9 575.3L421 580.3L412.2 588.8L406.3 595.1L397.5 605.5L391.7 613.1L382.9 625.4L377 634.3L368.2 648.6L362.3 658.8L353.5 675.2L347.7 686.7Z" fill="url(#gf9)" stroke="url(#gf9)" stroke-width="0.7"/>
<path d="M352.4 689.7L358.2 678.4L366.9 662.4L372.7 652.4L381.5 638.3L387.3 629.5L396 617.2L401.8 609.6L410.6 599.2L416.4 592.9L425.1 584.3L431 579.2L439.7 572.5L445.5 568.6L454.2 563.6L460.1 560.9L468.8 557.8L466.9 556L458.1 559.1L452.3 561.8L443.5 566.7L437.6 570.5L428.9 577.2L423 582.3L414.3 590.8L408.4 597.1L399.7 607.5L393.8 615.1L385.1 627.4L379.2 636.3L370.5 650.5L364.6 660.6L355.9 676.8L350 688.2Z" fill="url(#gf10)" stroke="url(#gf10)" stroke-width="0.7"/>
<path d="M354.7 691.2L363.4 674.7L369.2 664.2L375 654.3L383.7 640.3L389.5 631.5L398.2 619.3L404 611.8L412.8 601.4L421.5 592L427.3 586.4L436 578.9L441.8 574.5L447.6 570.5L456.3 565.5L465 561.6L470.8 559.6L468.8 557.8L460.1 560.9L454.2 563.6L445.5 568.6L439.7 572.5L431 579.2L425.1 584.3L416.4 592.9L410.6 599.2L401.8 609.6L396 617.2L387.3 629.5L381.5 638.3L372.7 652.4L366.9 662.4L358.2 678.4L352.4 689.7Z" fill="url(#gf11)" stroke="url(#gf11)" stroke-width="0.7"/>
<path d="M357 692.7L365.7 676.4L371.5 666.1L380.2 651.5L386 642.4L394.7 629.5L400.5 621.6L409.1 610.5L414.9 603.7L423.6 594.3L429.4 588.7L438.1 581.1L443.9 576.7L452.6 570.9L458.4 567.6L467 563.7L472.8 561.7L470.8 559.6L465 561.6L456.3 565.5L447.6 570.5L441.8 574.5L436 578.9L427.3 586.4L421.5 592L412.8 601.4L404 611.8L398.2 619.3L389.5 631.5L383.7 640.3L375 654.3L369.2 664.2L363.4 674.7L354.7 691.2Z" fill="url(#gf12)" stroke="url(#gf12)" stroke-width="0.7"/>
<path d="M359.4 694.2L368 678.2L373.8 668.1L382.5 653.8L388.2 644.8L396.9 632.2L402.6 624.3L411.3 613.3L417.1 606.6L425.7 597.3L431.5 591.6L440.2 584.1L445.9 579.6L454.6 573.8L460.3 570.5L469 566.5L474.8 564.5L472.8 561.7L467 563.7L458.4 567.6L452.6 570.9L443.9 576.7L438.1 581.1L429.4 588.7L423.6 594.3L414.9 603.7L409.1 610.5L400.5 621.6L394.7 629.5L386 642.4L380.2 651.5L371.5 666.1L365.7 676.4L357 692.7Z" fill="url(#gf13)" stroke="url(#gf13)" stroke-width="0.7"/>
<path d="M361.7 695.7L370.3 680.1L376.1 670.3L384.7 656.3L390.5 647.5L399.1 635.1L404.8 627.3L413.4 616.5L419.2 609.8L427.8 600.6L433.6 595L442.2 587.5L447.9 583.1L456.5 577.2L462.3 573.9L470.9 569.9L476.7 567.8L474.8 564.5L469 566.5L460.3 570.5L454.6 573.8L445.9 579.6L440.2 584.1L431.5 591.6L425.7 597.3L417.1 606.6L411.3 613.3L402.6 624.3L396.9 632.2L388.2 644.8L382.5 653.8L373.8 668.1L368 678.2L359.4 694.2Z" fill="url(#gf14)" stroke="url(#gf14)" stroke-width="0.7"/>
<path d="M364.1 697.2L378.3 672.5L386.9 658.8L392.6 650.2L401.2 638.1L406.9 630.5L415.5 619.9L421.2 613.3L429.8 604.2L435.5 598.7L444 591.2L449.8 586.8L458.3 580.9L464 577.6L472.6 573.6L478.3 571.5L476.7 567.8L470.9 569.9L462.3 573.9L456.5 577.2L447.9 583.1L442.2 587.5L433.6 595L427.8 600.6L419.2 609.8L413.4 616.5L404.8 627.3L399.1 635.1L390.5 647.5L384.7 656.3L376.1 670.3L370.3 680.1L361.7 695.7Z" fill="url(#gf15)" stroke="url(#gf15)" stroke-width="0.7"/>
<path d="M366.4 698.7L380.5 674.7L389 661.4L394.6 653L403.1 641.2L408.7 633.7L417.1 623.3L422.8 616.8L431.2 607.9L436.9 602.4L445.3 595L451 590.6L459.4 584.8L465.1 581.5L473.5 577.4L479.2 575.4L478.3 571.5L472.6 573.6L464 577.6L458.3 580.9L449.8 586.8L444 591.2L435.5 598.7L429.8 604.2L421.2 613.3L415.5 619.9L406.9 630.5L401.2 638.1L392.6 650.2L386.9 658.8L378.3 672.5L364.1 697.2Z" fill="url(#gf16)" stroke="url(#gf16)" stroke-width="0.7"/>
<path d="M368.7 700.2L377.1 685.9L385.4 672.4L399.2 651.7L407.6 640.4L413.1 633.2L421.4 623.3L427 617.1L435.3 608.5L440.9 603.3L449.2 596.3L454.7 592.1L463 586.7L468.6 583.6L474.1 581L479.7 579L479.2 575.4L473.5 577.4L465.1 581.5L459.4 584.8L451 590.6L445.3 595L436.9 602.4L431.2 607.9L422.8 616.8L417.1 623.3L408.7 633.7L403.1 641.2L394.6 653L389 661.4L380.5 674.7L366.4 698.7Z" fill="url(#gf17)" stroke="url(#gf17)" stroke-width="0.7"/>
<path d="M371.1 701.7L379.2 687.8L387.4 674.6L401 654.3L409.2 643.2L414.7 636.2L422.8 626.3L428.3 620.2L436.5 611.8L441.9 606.6L450.1 599.6L455.5 595.4L463.7 590L469.1 586.9L474.6 584.3L480 582.3L479.7 579L474.1 581L468.6 583.6L463 586.7L454.7 592.1L449.2 596.3L440.9 603.3L435.3 608.5L427 617.1L421.4 623.3L413.1 633.2L407.6 640.4L399.2 651.7L385.4 672.4L377.1 685.9L368.7 700.2Z" fill="url(#gf18)" stroke="url(#gf18)" stroke-width="0.7"/>
<path d="M373.4 703.2L381.4 689.6L389.5 676.7L402.8 656.9L416.2 639L424.2 629.3L429.6 623.3L437.6 614.9L442.9 609.8L451 602.8L456.3 598.7L464.3 593.2L469.7 590.1L475 587.5L480.4 585.5L480 582.3L474.6 584.3L469.1 586.9L463.7 590L455.5 595.4L450.1 599.6L441.9 606.6L436.5 611.8L428.3 620.2L422.8 626.3L414.7 636.2L409.2 643.2L401 654.3L387.4 674.6L379.2 687.8L371.1 701.7Z" fill="url(#gf19)" stroke="url(#gf19)" stroke-width="0.7"/>
<path d="M375.8 704.7L383.6 691.4L391.5 678.8L404.6 659.3L417.8 641.8L425.7 632.2L430.9 626.3L438.8 618L444 612.9L451.9 605.9L457.2 601.8L465.1 596.3L470.3 593.2L475.6 590.6L480.8 588.6L480.4 585.5L475 587.5L469.7 590.1L464.3 593.2L456.3 598.7L451 602.8L442.9 609.8L437.6 614.9L429.6 623.3L424.2 629.3L416.2 639L402.8 656.9L389.5 676.7L381.4 689.6L373.4 703.2Z" fill="url(#gf20)" stroke="url(#gf20)" stroke-width="0.7"/>
<path d="M378.1 706.2L385.8 693.3L393.6 680.9L406.4 661.8L419.3 644.6L427.1 635.1L432.2 629.2L439.9 621L445.1 616L452.8 609L458 604.9L465.7 599.4L470.9 596.3L476 593.7L481.2 591.7L480.8 588.6L475.6 590.6L470.3 593.2L465.1 596.3L457.2 601.8L451.9 605.9L444 612.9L438.8 618L430.9 626.3L425.7 632.2L417.8 641.8L404.6 659.3L391.5 678.8L383.6 691.4L375.8 704.7Z" fill="url(#gf21)" stroke="url(#gf21)" stroke-width="0.7"/>
<path d="M380.4 707.7L388 695.1L395.6 683L408.2 664.3L420.8 647.3L433.4 632.2L441 624L446.1 619L453.6 612.2L458.7 608L466.3 602.6L471.3 599.5L476.3 596.8L481.4 594.8L481.2 591.7L476 593.7L470.9 596.3L465.7 599.4L458 604.9L452.8 609L445.1 616L439.9 621L432.2 629.2L427.1 635.1L419.3 644.6L406.4 661.8L393.6 680.9L385.8 693.3L378.1 706.2Z" fill="url(#gf22)" stroke="url(#gf22)" stroke-width="0.7"/>
<path d="M382.8 709.2L397.6 685.1L409.9 666.7L422.3 650.1L434.6 635.1L442 627.1L447 622.1L454.4 615.3L459.3 611.1L466.7 605.7L471.6 602.6L476.6 599.9L481.5 597.9L481.4 594.8L476.3 596.8L471.3 599.5L466.3 602.6L458.7 608L453.6 612.2L446.1 619L441 624L433.4 632.2L420.8 647.3L408.2 664.3L395.6 683L388 695.1L380.4 707.7Z" fill="url(#gf23)" stroke="url(#gf23)" stroke-width="0.7"/>
<path d="M385.1 710.7L399.6 687.2L411.6 669.2L423.7 652.8L435.8 638.1L443 630.1L447.8 625.2L455.1 618.4L459.9 614.3L467.1 608.8L471.9 605.7L476.8 603.1L481.6 601.1L481.5 597.9L476.6 599.9L471.6 602.6L466.7 605.7L459.3 611.1L454.4 615.3L447 622.1L442 627.1L434.6 635.1L422.3 650.1L409.9 666.7L397.6 685.1L382.8 709.2Z" fill="url(#gf24)" stroke="url(#gf24)" stroke-width="0.7"/>
<path d="M387.4 712.2L401.6 689.3L413.3 671.7L425.1 655.6L436.9 641.1L448.6 628.3L455.7 621.6L460.4 617.5L467.5 612L472.2 608.9L476.9 606.2L481.6 604.2L481.6 601.1L476.8 603.1L471.9 605.7L467.1 608.8L459.9 614.3L455.1 618.4L447.8 625.2L443 630.1L435.8 638.1L423.7 652.8L411.6 669.2L399.6 687.2L385.1 710.7Z" fill="url(#gf25)" stroke="url(#gf25)" stroke-width="0.7"/>
<path d="M389.8 713.7L403.6 691.3L415 674.2L421.9 664.5L428.8 655.4L440.3 641.4L451.7 629.2L458.6 622.7L463.2 618.8L467.8 615.2L472.4 612.1L477 609.5L481.5 607.5L481.6 604.2L476.9 606.2L472.2 608.9L467.5 612L460.4 617.5L455.7 621.6L448.6 628.3L436.9 641.1L425.1 655.6L413.3 671.7L401.6 689.3L387.4 712.2Z" fill="url(#gf26)" stroke="url(#gf26)" stroke-width="0.7"/>
<path d="M392.1 715.2L405.5 693.4L416.7 676.7L430.1 658.3L441.2 644.5L452.4 632.4L459.1 626L463.5 622.1L468 618.6L472.5 615.4L476.9 612.8L481.4 610.8L481.5 607.5L477 609.5L472.4 612.1L467.8 615.2L463.2 618.8L458.6 622.7L451.7 629.2L440.3 641.4L428.8 655.4L421.9 664.5L415 674.2L403.6 691.3L389.8 713.7Z" fill="url(#gf27)" stroke="url(#gf27)" stroke-width="0.7"/>
<path d="M394.5 716.7L407.5 695.5L418.3 679.2L431.3 661.2L442.2 647.7L453 635.7L459.5 629.3L463.9 625.5L468.2 621.9L472.5 618.8L476.9 616.1L481.2 614.1L481.4 610.8L476.9 612.8L472.5 615.4L468 618.6L463.5 622.1L459.1 626L452.4 632.4L441.2 644.5L430.1 658.3L416.7 676.7L405.5 693.4L392.1 715.2Z" fill="url(#gf28)" stroke="url(#gf28)" stroke-width="0.7"/>
<path d="M396.8 718.2L409.5 697.6L420 681.7L432.7 664.1L443.3 650.8L453.8 639L460.1 632.6L464.4 628.8L472.8 622.1L477 619.5L481.3 617.4L481.2 614.1L476.9 616.1L472.5 618.8L468.2 621.9L463.9 625.5L459.5 629.3L453 635.7L442.2 647.7L431.3 661.2L418.3 679.2L407.5 695.5L394.5 716.7Z" fill="url(#gf29)" stroke="url(#gf29)" stroke-width="0.7"/>
<path d="M399.1 719.7L411.5 699.7L421.8 684.2L434.1 666.9L444.4 653.9L454.7 642.2L460.9 635.9L465 632.1L473.3 625.4L477.4 622.8L481.5 620.7L481.3 617.4L477 619.5L472.8 622.1L464.4 628.8L460.1 632.6L453.8 639L443.3 650.8L432.7 664.1L420 681.7L409.5 697.6L396.8 718.2Z" fill="url(#gf30)" stroke="url(#gf30)" stroke-width="0.7"/>
<path d="M401.5 721.2L413.5 701.8L423.5 686.7L435.6 669.8L445.6 657L455.6 645.5L465.7 635.4L473.7 628.8L477.7 626.1L481.7 624L481.5 620.7L477.4 622.8L473.3 625.4L465 632.1L460.9 635.9L454.7 642.2L444.4 653.9L434.1 666.9L421.8 684.2L411.5 699.7L399.1 719.7Z" fill="url(#gf31)" stroke="url(#gf31)" stroke-width="0.7"/>
<path d="M403.8 722.7L415.5 703.9L425.2 689.2L436.9 672.7L446.7 660.1L456.4 648.8L466.1 638.8L473.9 632.2L477.8 629.5L481.7 627.4L481.7 624L477.7 626.1L473.7 628.8L465.7 635.4L455.6 645.5L445.6 657L435.6 669.8L423.5 686.7L413.5 701.8L401.5 721.2Z" fill="url(#gf32)" stroke="url(#gf32)" stroke-width="0.7"/>
<path d="M406.2 724.2L417.5 706L426.9 691.7L438.2 675.6L447.7 663.3L457.1 652.1L466.5 642.3L474.1 635.6L477.8 632.9L481.6 630.8L481.7 627.4L477.8 629.5L473.9 632.2L466.1 638.8L456.4 648.8L446.7 660.1L436.9 672.7L425.2 689.2L415.5 703.9L403.8 722.7Z" fill="url(#gf33)" stroke="url(#gf33)" stroke-width="0.7"/>
<path d="M408.5 725.7L419.4 708.1L430.4 691.5L441.3 676L450.5 664.2L459.6 653.4L468.7 643.9L476 637.7L479.7 635.2L481.5 634.3L481.6 630.8L477.8 632.9L474.1 635.6L466.5 642.3L457.1 652.1L447.7 663.3L438.2 675.6L426.9 691.7L417.5 706L406.2 724.2Z" fill="url(#gf34)" stroke="url(#gf34)" stroke-width="0.7"/>
<path d="M410.8 727.2L421.4 710.1L432 694L442.6 679L451.4 667.4L460.3 656.8L469.1 647.4L476.1 641.1L479.7 638.6L481.4 637.7L481.5 634.3L479.7 635.2L476 637.7L468.7 643.9L459.6 653.4L450.5 664.2L441.3 676L430.4 691.5L419.4 708.1L408.5 725.7Z" fill="url(#gf35)" stroke="url(#gf35)" stroke-width="0.7"/>
<path d="M413.2 728.7L423.4 712.2L433.6 696.6L443.8 681.9L452.4 670.6L460.9 660.1L469.4 650.8L476.2 644.6L479.6 642.1L481.3 641.1L481.4 637.7L479.7 638.6L476.1 641.1L469.1 647.4L460.3 656.8L451.4 667.4L442.6 679L432 694L421.4 710.1L410.8 727.2Z" fill="url(#gf36)" stroke="url(#gf36)" stroke-width="0.7"/>
<path d="M415.5 730.2L425.3 714.3L435.1 699.1L445 684.9L453.1 673.8L461.3 663.5L469.5 654.4L476 648.1L479.3 645.6L480.9 644.6L481.3 641.1L479.6 642.1L476.2 644.6L469.4 650.8L460.9 660.1L452.4 670.6L443.8 681.9L433.6 696.6L423.4 712.2L413.2 728.7Z" fill="url(#gf37)" stroke="url(#gf37)" stroke-width="0.7"/>
<path d="M417.9 731.7L427.2 716.4L436.6 701.7L446 687.9L453.8 677L461.7 667L469.5 657.9L475.7 651.7L478.9 649.1L480.4 648.2L480.9 644.6L479.3 645.6L476 648.1L469.5 654.4L461.3 663.5L453.1 673.8L445 684.9L435.1 699.1L425.3 714.3L415.5 730.2Z" fill="url(#gf38)" stroke="url(#gf38)" stroke-width="0.7"/>
<path d="M420.2 733.2L429.2 718.4L438.3 704.2L447.3 690.7L454.9 680.2L462.4 670.3L469.9 661.3L475.9 655.1L479 652.5L480.5 651.6L480.4 648.2L478.9 649.1L475.7 651.7L469.5 657.9L461.7 667L453.8 677L446 687.9L436.6 701.7L427.2 716.4L417.9 731.7Z" fill="url(#gf39)" stroke="url(#gf39)" stroke-width="0.7"/>
<g stroke-width="0.8" fill="none"><linearGradient id="xa4935" gradientUnits="userSpaceOnUse" x1="420.2" y1="733.2" x2="543.7" y2="695.5"><stop offset="0" stop-color="#6c6cd0"/><stop offset=".45" stop-color="#8c84c8"/><stop offset=".62" stop-color="#d89a6a"/><stop offset="1" stop-color="#b0a0a0"/></linearGradient><line x1="420.2" y1="733.2" x2="543.7" y2="695.5" stroke="url(#xa4935)"/><line x1="420.2" y1="733.2" x2="324.4" y2="684.6" stroke="#7c7cc8"/><line x1="324.4" y1="684.6" x2="324.4" y2="577.4" stroke="#8a8a8a"/><line x1="435.6" y1="728.5" x2="433.7" y2="727.5" stroke="#444"/><line x1="470.3" y1="717.9" x2="468.4" y2="716.9" stroke="#444"/><line x1="505" y1="707.3" x2="503.1" y2="706.3" stroke="#444"/><line x1="539.7" y1="696.7" x2="537.8" y2="695.8" stroke="#444"/><line x1="407.3" y1="726.7" x2="409.2" y2="726.1" stroke="#444"/><line x1="385.6" y1="715.7" x2="387.5" y2="715.1" stroke="#444"/><line x1="364" y1="704.7" x2="365.8" y2="704.1" stroke="#444"/><line x1="342.3" y1="693.7" x2="344.1" y2="693.1" stroke="#444"/><line x1="324.4" y1="671.7" x2="322.6" y2="672" stroke="#444"/><line x1="324.4" y1="650.5" x2="322.6" y2="650.8" stroke="#444"/><line x1="324.4" y1="629.3" x2="322.6" y2="629.6" stroke="#444"/><line x1="324.4" y1="608.1" x2="322.6" y2="608.4" stroke="#444"/><line x1="324.4" y1="586.9" x2="322.6" y2="587.2" stroke="#444"/></g>
<g font-size="5.8" fill="#1a1a1a"><text x="320.6" y="673.7" text-anchor="end">1100</text><text x="320.6" y="652.5" text-anchor="end">1200</text><text x="320.6" y="631.4" text-anchor="end">1300</text><text x="320.6" y="610.2" text-anchor="end">1400</text><text x="320.6" y="589" text-anchor="end">1500</text><text x="400.1" y="733.7" text-anchor="middle">0.6</text><text x="378.4" y="722.7" text-anchor="middle">0.8</text><text x="356.8" y="711.7" text-anchor="middle">1</text><text x="335.1" y="700.7" text-anchor="middle">1.2</text><text x="439.8" y="737.6" text-anchor="middle">-5</text><text x="474.5" y="727" text-anchor="middle">0</text><text x="509.2" y="716.4" text-anchor="middle">5</text><text x="543.9" y="705.8" text-anchor="middle">10</text></g>
<text x="332.6" y="745.6" font-size="8.85" fill="#111">Eq. Ratio</text>
<text x="476.8" y="748.6" font-size="8.97" fill="#111">Unscaled Progr. Variable</text>
<text x="303.9" y="632" font-size="9.0" text-anchor="middle" font-weight="bold" transform="rotate(-90 303.9 632)">Mixture Cp</text>
<linearGradient id="cbf" x1="0" y1="0" x2="0" y2="1"><stop offset="0.000" stop-color="#800000"/><stop offset="0.125" stop-color="#ff0000"/><stop offset="0.375" stop-color="#ffff00"/><stop offset="0.625" stop-color="#00ffff"/><stop offset="0.875" stop-color="#0000ff"/><stop offset="1.000" stop-color="#000080"/></linearGradient>
<rect x="551.8" y="538.7" width="11.2" height="195.5" fill="url(#cbf)" stroke="#999" stroke-width="0.5"/>
<g stroke="#222" stroke-width="0.6"><line x1="551.8" y1="731.5" x2="553.1" y2="731.5"/><line x1="563" y1="731.5" x2="561.7" y2="731.5"/><line x1="551.8" y1="712.6" x2="553.1" y2="712.6"/><line x1="563" y1="712.6" x2="561.7" y2="712.6"/><line x1="551.8" y1="693.7" x2="553.1" y2="693.7"/><line x1="563" y1="693.7" x2="561.7" y2="693.7"/><line x1="551.8" y1="674.7" x2="553.1" y2="674.7"/><line x1="563" y1="674.7" x2="561.7" y2="674.7"/><line x1="551.8" y1="655.8" x2="553.1" y2="655.8"/><line x1="563" y1="655.8" x2="561.7" y2="655.8"/><line x1="551.8" y1="636.8" x2="553.1" y2="636.8"/><line x1="563" y1="636.8" x2="561.7" y2="636.8"/><line x1="551.8" y1="617.9" x2="553.1" y2="617.9"/><line x1="563" y1="617.9" x2="561.7" y2="617.9"/><line x1="551.8" y1="598.9" x2="553.1" y2="598.9"/><line x1="563" y1="598.9" x2="561.7" y2="598.9"/><line x1="551.8" y1="580" x2="553.1" y2="580"/><line x1="563" y1="580" x2="561.7" y2="580"/><line x1="551.8" y1="561.1" x2="553.1" y2="561.1"/><line x1="563" y1="561.1" x2="561.7" y2="561.1"/><line x1="551.8" y1="542.1" x2="553.1" y2="542.1"/><line x1="563" y1="542.1" x2="561.7" y2="542.1"/></g>
<g font-size="5.8" fill="#1a1a1a"><text x="565.3" y="733.6">1050</text><text x="565.3" y="714.7">1100</text><text x="565.3" y="695.7">1150</text><text x="565.3" y="676.8">1200</text><text x="565.3" y="657.8">1250</text><text x="565.3" y="638.9">1300</text><text x="565.3" y="619.9">1350</text><text x="565.3" y="601">1400</text><text x="565.3" y="582.1">1450</text><text x="565.3" y="563.1">1500</text><text x="565.3" y="544.2">1550</text></g>
<text x="147.8" y="239.5" font-size="15.3" text-anchor="middle" style='font-family:"Liberation Serif", serif'>(a)</text>
<text x="444.8" y="239.4" font-size="15.3" text-anchor="middle" style='font-family:"Liberation Serif", serif'>(b)</text>
<text x="147.7" y="508.6" font-size="15.3" text-anchor="middle" style='font-family:"Liberation Serif", serif'>(c)</text>
<text x="444.9" y="508.6" font-size="15.3" text-anchor="middle" style='font-family:"Liberation Serif", serif'>(d)</text>
<text x="147.7" y="777.6" font-size="15.3" text-anchor="middle" style='font-family:"Liberation Serif", serif'>(e)</text>
<text x="444.9" y="777.6" font-size="15.3" text-anchor="middle" style='font-family:"Liberation Serif", serif'>(f)</text>
</svg>
</body></html>
